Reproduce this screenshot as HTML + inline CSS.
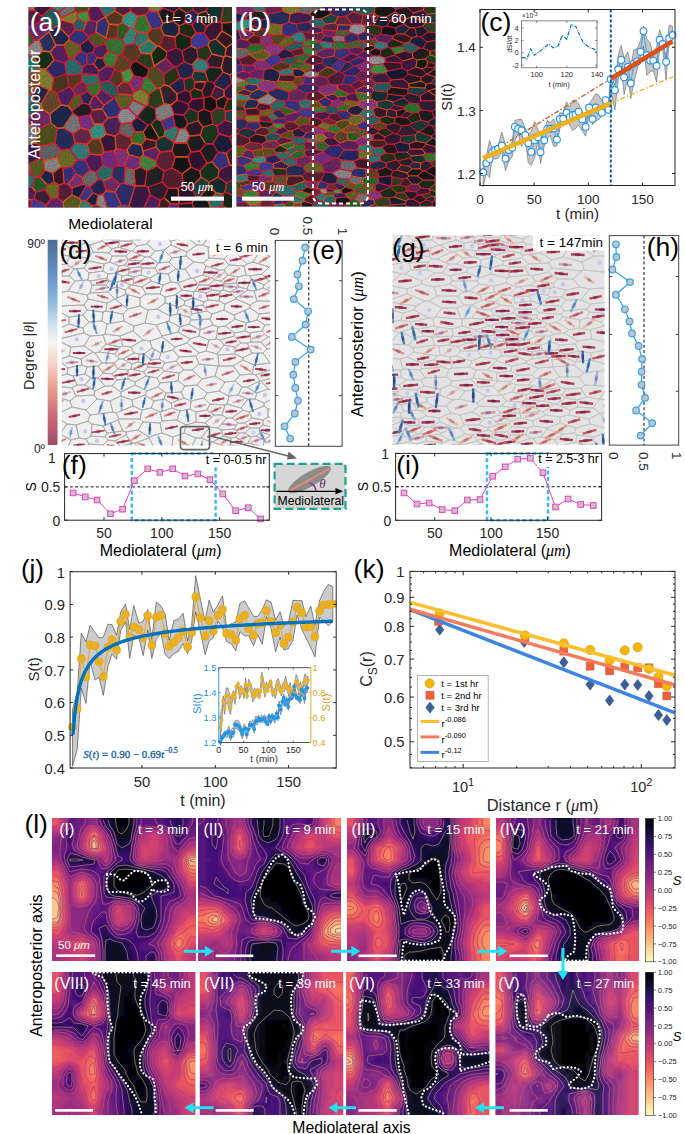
<!DOCTYPE html><html><head><meta charset="utf-8"><style>html,body{margin:0;padding:0;background:#fff;}svg{display:block;}text{font-family:"Liberation Sans",sans-serif;}</style></head><body>
<svg width="685" height="1134" viewBox="0 0 685 1134">
<rect x="0" y="0" width="685" height="1134" fill="#fff" stroke="none" stroke-width="1"/>
<filter id="grain" x="0" y="0" width="100%" height="100%"><feTurbulence type="fractalNoise" baseFrequency="1.1" numOctaves="1" seed="4"/><feColorMatrix type="matrix" values="0 0 0 0 0  0 0 0 0 0  0 0 0 0 0  0 0 0 -1.4 1.05"/></filter>
<filter id="soft"><feGaussianBlur stdDeviation="0.45"/></filter>
<clipPath id="ma"><rect x="28.5" y="7" width="203.5" height="200.5"/></clipPath>
<g clip-path="url(#ma)">
<rect x="28.5" y="7" width="203.5" height="200.5" fill="#1a1a1a" stroke="none" stroke-width="1"/>
<g filter="url(#soft)" stroke-linejoin="round">
<path d="M58 198 51 199 46 205 45 215 47 217 59 218 65 213 63 202Z" fill="rgb(103,41,113)" stroke="#f06020" stroke-width="1.3"/>
<path d="M131 3 137 -4 134 -11 112 -6 116 0Z" fill="rgb(96,37,53)" stroke="#f0402a" stroke-width="1.3"/>
<path d="M99 179 96 172 103 165 113 168 112 177 103 181Z" fill="rgb(45,120,110)" stroke="#f02030" stroke-width="1.3"/>
<path d="M115 98 121 109 128 108 133 100 132 95 118 94Z" fill="rgb(105,105,40)" stroke="#f02030" stroke-width="1.3"/>
<path d="M119 133 115 136 116 149 127 150 132 143 131 138Z" fill="rgb(106,41,58)" stroke="#f02030" stroke-width="1.3"/>
<path d="M236 94 246 97 245 103 237 106 232 99Z" fill="rgb(71,32,71)" stroke="#e81a3a" stroke-width="1.3"/>
<path d="M218 152 226 153 230 165 219 170 212 162Z" fill="rgb(57,57,139)" stroke="#f06020" stroke-width="1.3"/>
<path d="M174 143 187 143 190 136 185 128 179 129 174 142Z" fill="rgb(151,151,154)" stroke="#e81a3a" stroke-width="1.3"/>
<path d="M224 96 216 100 217 108 224 109 228 99Z" fill="rgb(28,28,30)" stroke="#f06020" stroke-width="1.3"/>
<path d="M223 194 223 206 211 209 208 201 216 193Z" fill="rgb(51,121,121)" stroke="#f06020" stroke-width="1.3"/>
<path d="M45 170 53 173 54 182 47 185 40 177Z" fill="rgb(36,42,84)" stroke="#f02030" stroke-width="1.3"/>
<path d="M174 143 172 151 160 152 156 147 156 141 159 138 164 136 174 142Z" fill="rgb(26,57,57)" stroke="#f02030" stroke-width="1.3"/>
<path d="M40 177 35 177 32 187 36 192 45 190 47 185Z" fill="rgb(42,102,42)" stroke="#f06020" stroke-width="1.3"/>
<path d="M83 67 73 58 81 51 87 54 87 64Z" fill="rgb(59,59,146)" stroke="#f06020" stroke-width="1.3"/>
<path d="M54 78 46 69 40 69 38 71 38 85 49 90 52 90Z" fill="rgb(140,140,53)" stroke="#e01a50" stroke-width="1.3"/>
<path d="M191 152 187 143 190 136 200 135 206 144 200 151Z" fill="rgb(35,35,37)" stroke="#e81a3a" stroke-width="1.3"/>
<path d="M191 187 201 177 209 182 209 185 200 197 196 197Z" fill="rgb(31,69,69)" stroke="#f0402a" stroke-width="1.3"/>
<path d="M82 74 98 75 99 71 94 64 87 64 83 67Z" fill="rgb(79,36,96)" stroke="#f02030" stroke-width="1.3"/>
<path d="M86 23 83 31 88 37 96 32 97 22 90 20Z" fill="rgb(91,41,110)" stroke="#f02030" stroke-width="1.3"/>
<path d="M27 48 30 56 35 58 43 51 39 40 35 40Z" fill="rgb(152,152,155)" stroke="#e81a3a" stroke-width="1.3"/>
<path d="M18 96 16 87 20 81 34 88 32 94Z" fill="rgb(99,99,38)" stroke="#f06020" stroke-width="1.3"/>
<path d="M193 10 194 -4 188 -4 179 4 179 8 186 13Z" fill="rgb(28,65,36)" stroke="#e81a3a" stroke-width="1.3"/>
<path d="M148 125 143 132 146 139 156 141 159 138 151 124Z" fill="rgb(25,28,28)" stroke="#e81a3a" stroke-width="1.3"/>
<path d="M32 200 23 198 20 206 25 210 31 207Z" fill="rgb(104,41,114)" stroke="#e01a50" stroke-width="1.3"/>
<path d="M121 72 130 68 132 63 122 54 119 55 113 67 115 70Z" fill="rgb(105,72,44)" stroke="#e81a3a" stroke-width="1.3"/>
<path d="M102 214 105 209 107 208 115 209 113 236 111 233Z" fill="rgb(125,125,47)" stroke="#e01a50" stroke-width="1.3"/>
<path d="M232 83 230 75 223 72 214 83 215 86 224 90Z" fill="rgb(36,42,84)" stroke="#f02030" stroke-width="1.3"/>
<path d="M188 124 184 115 174 114 173 116 175 126 179 129 185 128Z" fill="rgb(25,28,28)" stroke="#e01a50" stroke-width="1.3"/>
<path d="M140 167 147 171 157 166 156 161 143 155 140 158Z" fill="rgb(70,147,64)" stroke="#e81a3a" stroke-width="1.3"/>
<path d="M239 116 246 117 254 112 245 103 237 106 235 110Z" fill="rgb(21,48,27)" stroke="#e81a3a" stroke-width="1.3"/>
<path d="M93 96 89 105 92 110 102 109 104 105 96 96Z" fill="rgb(100,40,110)" stroke="#f06020" stroke-width="1.3"/>
<path d="M63 168 61 167 57 158 61 150 70 149 77 160 72 167Z" fill="rgb(119,119,46)" stroke="#e01a50" stroke-width="1.3"/>
<path d="M191 38 191 46 197 49 208 45 210 41 204 33 196 33Z" fill="rgb(71,65,163)" stroke="#e01a50" stroke-width="1.3"/>
<path d="M103 124 106 134 100 139 92 139 89 130 94 124Z" fill="rgb(59,157,144)" stroke="#f06020" stroke-width="1.3"/>
<path d="M20 106 29 116 28 124 19 127 15 125 12 107 17 105Z" fill="rgb(64,29,41)" stroke="#e81a3a" stroke-width="1.3"/>
<path d="M87 91 80 96 83 103 89 105 93 96Z" fill="rgb(41,47,95)" stroke="#f0402a" stroke-width="1.3"/>
<path d="M26 28 16 18 30 10 34 10 42 16 42 21 26 29Z" fill="rgb(97,35,71)" stroke="#f0402a" stroke-width="1.3"/>
<path d="M86 227 81 236 70 214 78 211 84 215Z" fill="rgb(78,162,71)" stroke="#f02030" stroke-width="1.3"/>
<path d="M198 14 206 11 211 2 204 -13 194 -4 193 10Z" fill="rgb(60,40,60)" stroke="#e81a3a" stroke-width="1.3"/>
<path d="M229 218 240 228 250 216 240 204 230 210Z" fill="rgb(59,39,59)" stroke="#e01a50" stroke-width="1.3"/>
<path d="M194 71 205 72 209 67 207 61 198 58 192 65Z" fill="rgb(60,140,140)" stroke="#e01a50" stroke-width="1.3"/>
<path d="M154 66 149 69 136 61 141 53 151 54 154 66Z" fill="rgb(48,67,34)" stroke="#e81a3a" stroke-width="1.3"/>
<path d="M158 209 143 210 140 213 147 222 158 221 163 219 164 218 163 215Z" fill="rgb(51,51,126)" stroke="#f06020" stroke-width="1.3"/>
<path d="M96 216 90 212 84 215 86 227 95 222Z" fill="rgb(60,147,60)" stroke="#f06020" stroke-width="1.3"/>
<path d="M44 161 40 158 39 146 55 143 61 150 57 158Z" fill="rgb(108,108,110)" stroke="#f0402a" stroke-width="1.3"/>
<path d="M115 209 113 236 117 245 135 212 129 206 121 205Z" fill="rgb(54,127,127)" stroke="#e81a3a" stroke-width="1.3"/>
<path d="M191 38 179 33 179 26 185 23 192 25 196 33Z" fill="rgb(36,50,25)" stroke="#f0402a" stroke-width="1.3"/>
<path d="M36 192 32 187 19 188 18 191 23 198 32 200 34 199Z" fill="rgb(90,36,99)" stroke="#f06020" stroke-width="1.3"/>
<path d="M184 62 182 51 191 46 197 49 198 58 192 65Z" fill="rgb(50,33,50)" stroke="#f06020" stroke-width="1.3"/>
<path d="M73 113 63 128 73 134 81 128 79 117Z" fill="rgb(130,130,132)" stroke="#f02030" stroke-width="1.3"/>
<path d="M179 26 173 21 174 12 179 8 186 13 185 23Z" fill="rgb(31,31,33)" stroke="#f0402a" stroke-width="1.3"/>
<path d="M191 167 182 174 183 185 191 187 201 177 200 171Z" fill="rgb(26,28,28)" stroke="#f0402a" stroke-width="1.3"/>
<path d="M233 147 230 137 236 130 246 131 252 136 242 149Z" fill="rgb(47,65,33)" stroke="#f06020" stroke-width="1.3"/>
<path d="M116 0 112 -6 108 -10 95 0 105 17 115 11Z" fill="rgb(53,124,124)" stroke="#f06020" stroke-width="1.3"/>
<path d="M95 47 105 44 107 39 106 38 96 32 88 37 88 39Z" fill="rgb(91,91,35)" stroke="#e81a3a" stroke-width="1.3"/>
<path d="M197 49 208 45 212 54 207 61 198 58Z" fill="rgb(43,60,30)" stroke="#e01a50" stroke-width="1.3"/>
<path d="M204 98 204 98 192 99 188 104 189 108 198 112 204 109Z" fill="rgb(52,23,52)" stroke="#f02030" stroke-width="1.3"/>
<path d="M164 35 175 37 176 48 167 52 159 46Z" fill="rgb(101,39,56)" stroke="#f02030" stroke-width="1.3"/>
<path d="M207 61 209 67 221 68 224 57 212 54Z" fill="rgb(48,32,48)" stroke="#e01a50" stroke-width="1.3"/>
<path d="M156 119 161 121 173 116 174 114 171 105 164 104 155 109Z" fill="rgb(141,141,143)" stroke="#f06020" stroke-width="1.3"/>
<path d="M101 155 90 154 85 160 90 170 96 172 103 165Z" fill="rgb(80,36,98)" stroke="#e01a50" stroke-width="1.3"/>
<path d="M177 94 177 100 188 104 192 99 190 92 185 90Z" fill="rgb(52,23,52)" stroke="#f02030" stroke-width="1.3"/>
<path d="M235 85 245 84 259 66 247 62 230 75 232 83Z" fill="rgb(27,61,34)" stroke="#f02030" stroke-width="1.3"/>
<path d="M79 117 81 128 89 130 94 124 90 115Z" fill="rgb(133,53,146)" stroke="#e81a3a" stroke-width="1.3"/>
<path d="M151 29 145 15 149 11 158 12 163 23 161 28Z" fill="rgb(64,58,146)" stroke="#f06020" stroke-width="1.3"/>
<path d="M103 194 107 208 105 209 96 205 98 195Z" fill="rgb(151,151,153)" stroke="#f0402a" stroke-width="1.3"/>
<path d="M131 3 116 0 115 11 123 16 131 11Z" fill="rgb(96,35,71)" stroke="#f0402a" stroke-width="1.3"/>
<path d="M42 109 29 116 28 124 37 130 51 123 50 114Z" fill="rgb(121,47,111)" stroke="#f0402a" stroke-width="1.3"/>
<path d="M192 25 198 18 198 14 193 10 186 13 185 23Z" fill="rgb(42,42,104)" stroke="#e81a3a" stroke-width="1.3"/>
<path d="M114 151 116 149 127 150 129 155 124 166 117 166Z" fill="rgb(143,56,131)" stroke="#f02030" stroke-width="1.3"/>
<path d="M100 82 98 75 99 71 106 66 113 67 115 70 109 81 101 82Z" fill="rgb(93,37,103)" stroke="#e81a3a" stroke-width="1.3"/>
<path d="M104 152 100 139 106 134 115 136 116 149 114 151Z" fill="rgb(62,28,62)" stroke="#f06020" stroke-width="1.3"/>
<path d="M206 144 200 135 203 127 213 124 217 126 219 134 213 144Z" fill="rgb(27,61,34)" stroke="#f06020" stroke-width="1.3"/>
<path d="M216 193 208 201 200 197 209 185Z" fill="rgb(28,28,30)" stroke="#f0402a" stroke-width="1.3"/>
<path d="M191 152 187 143 174 143 172 151 175 157 188 157Z" fill="rgb(26,29,29)" stroke="#f0402a" stroke-width="1.3"/>
<path d="M174 67 164 74 154 66 154 66 166 58Z" fill="rgb(114,44,104)" stroke="#f0402a" stroke-width="1.3"/>
<path d="M179 204 178 188 183 185 191 187 196 197 192 203Z" fill="rgb(49,22,49)" stroke="#e01a50" stroke-width="1.3"/>
<path d="M57 93 61 105 50 114 42 109 41 104 49 90 52 90Z" fill="rgb(114,78,48)" stroke="#f06020" stroke-width="1.3"/>
<path d="M190 92 192 99 204 98 202 91 194 88Z" fill="rgb(24,54,30)" stroke="#e01a50" stroke-width="1.3"/>
<path d="M87 64 87 54 93 52 97 58 94 64Z" fill="rgb(58,58,142)" stroke="#e01a50" stroke-width="1.3"/>
<path d="M106 38 107 39 117 38 118 25 109 24Z" fill="rgb(95,65,40)" stroke="#e01a50" stroke-width="1.3"/>
<path d="M85 160 90 154 87 144 75 143 70 149 77 160Z" fill="rgb(57,134,134)" stroke="#e81a3a" stroke-width="1.3"/>
<path d="M141 89 143 78 147 76 158 88 149 94Z" fill="rgb(58,143,58)" stroke="#f0402a" stroke-width="1.3"/>
<path d="M179 204 178 188 168 188 164 198 171 204 178 204Z" fill="rgb(29,29,31)" stroke="#f06020" stroke-width="1.3"/>
<path d="M86 186 90 187 93 193 86 201 81 201 79 198Z" fill="rgb(67,61,153)" stroke="#f0402a" stroke-width="1.3"/>
<path d="M69 4 59 12 52 8 61 -5 66 -3Z" fill="rgb(59,158,145)" stroke="#e81a3a" stroke-width="1.3"/>
<path d="M218 177 227 183 225 192 223 194 216 193 209 185 209 182Z" fill="rgb(23,50,50)" stroke="#f06020" stroke-width="1.3"/>
<path d="M80 96 83 103 72 111 68 106 75 94Z" fill="rgb(99,99,37)" stroke="#e01a50" stroke-width="1.3"/>
<path d="M101 155 103 165 113 168 117 166 114 151 104 152Z" fill="rgb(124,49,137)" stroke="#e81a3a" stroke-width="1.3"/>
<path d="M20 106 34 100 32 94 18 96 17 105Z" fill="rgb(54,127,127)" stroke="#f02030" stroke-width="1.3"/>
<path d="M86 23 83 31 75 30 73 23 77 18Z" fill="rgb(45,106,106)" stroke="#f06020" stroke-width="1.3"/>
<path d="M31 207 25 210 24 217 31 221 38 216Z" fill="rgb(43,49,99)" stroke="#f02030" stroke-width="1.3"/>
<path d="M101 155 90 154 87 144 92 139 100 139 104 152Z" fill="rgb(96,66,40)" stroke="#f0402a" stroke-width="1.3"/>
<path d="M191 38 191 46 182 51 176 48 175 37 179 33Z" fill="rgb(20,45,25)" stroke="#e81a3a" stroke-width="1.3"/>
<path d="M149 40 147 33 151 29 161 28 164 35 159 46 157 46Z" fill="rgb(95,65,40)" stroke="#e81a3a" stroke-width="1.3"/>
<path d="M81 74 67 75 69 87 72 89 82 81Z" fill="rgb(95,65,40)" stroke="#e01a50" stroke-width="1.3"/>
<path d="M174 142 179 129 175 126 165 130 164 136Z" fill="rgb(51,137,126)" stroke="#f02030" stroke-width="1.3"/>
<path d="M151 124 159 138 164 136 165 130 161 121 156 119Z" fill="rgb(25,57,32)" stroke="#f06020" stroke-width="1.3"/>
<path d="M221 22 213 22 206 11 211 2 223 7Z" fill="rgb(25,55,55)" stroke="#e81a3a" stroke-width="1.3"/>
<path d="M139 47 134 44 137 32 147 33 149 40Z" fill="rgb(49,132,121)" stroke="#f0402a" stroke-width="1.3"/>
<path d="M235 85 236 94 232 99 228 99 224 96 224 90 232 83Z" fill="rgb(65,29,65)" stroke="#e81a3a" stroke-width="1.3"/>
<path d="M115 98 121 109 117 117 108 118 102 109 104 105 114 98Z" fill="rgb(53,53,130)" stroke="#f0402a" stroke-width="1.3"/>
<path d="M84 184 72 188 72 195 79 198 86 186Z" fill="rgb(31,36,72)" stroke="#f02030" stroke-width="1.3"/>
<path d="M148 125 143 132 135 132 131 123 137 117 137 117Z" fill="rgb(31,36,72)" stroke="#f0402a" stroke-width="1.3"/>
<path d="M218 177 227 183 234 179 234 166 230 165 219 170Z" fill="rgb(69,31,69)" stroke="#e01a50" stroke-width="1.3"/>
<path d="M192 77 184 79 180 78 176 67 184 62 192 65 194 71Z" fill="rgb(37,42,85)" stroke="#f02030" stroke-width="1.3"/>
<path d="M122 40 129 28 134 28 137 32 134 44 125 45Z" fill="rgb(55,147,135)" stroke="#f02030" stroke-width="1.3"/>
<path d="M141 53 136 61 132 63 122 54 125 45 134 44 139 47Z" fill="rgb(97,66,40)" stroke="#e01a50" stroke-width="1.3"/>
<path d="M117 87 109 81 115 70 121 72 123 82Z" fill="rgb(93,63,39)" stroke="#e81a3a" stroke-width="1.3"/>
<path d="M131 138 132 143 141 145 146 139 143 132 135 132Z" fill="rgb(59,123,54)" stroke="#f0402a" stroke-width="1.3"/>
<path d="M241 46 233 43 226 48 225 56 244 60Z" fill="rgb(57,26,57)" stroke="#f06020" stroke-width="1.3"/>
<path d="M200 151 206 144 213 144 218 152 212 162 207 163Z" fill="rgb(32,32,34)" stroke="#e01a50" stroke-width="1.3"/>
<path d="M45 170 44 161 40 158 28 164 31 174 35 177 40 177Z" fill="rgb(100,100,39)" stroke="#e81a3a" stroke-width="1.3"/>
<path d="M156 147 143 151 143 155 156 161 160 152Z" fill="rgb(104,41,114)" stroke="#f0402a" stroke-width="1.3"/>
<path d="M96 216 102 214 111 233 95 222Z" fill="rgb(57,52,131)" stroke="#e01a50" stroke-width="1.3"/>
<path d="M233 123 236 130 230 137 219 134 217 126 225 120Z" fill="rgb(68,31,68)" stroke="#e01a50" stroke-width="1.3"/>
<path d="M87 86 100 82 101 82 101 89 96 96 93 96 87 91Z" fill="rgb(61,127,56)" stroke="#f02030" stroke-width="1.3"/>
<path d="M233 123 239 116 235 110 225 111 225 120Z" fill="rgb(32,72,72)" stroke="#f0402a" stroke-width="1.3"/>
<path d="M164 74 164 85 160 88 158 88 147 76 149 69 154 66Z" fill="rgb(84,84,32)" stroke="#e01a50" stroke-width="1.3"/>
<path d="M222 23 234 22 250 -5 223 7 221 22Z" fill="rgb(51,70,35)" stroke="#f02030" stroke-width="1.3"/>
<path d="M134 76 143 78 147 76 149 69 136 61 132 63 130 68Z" fill="rgb(23,25,25)" stroke="#f02030" stroke-width="1.3"/>
<path d="M63 128 57 128 55 143 61 150 70 149 75 143 73 134Z" fill="rgb(44,50,101)" stroke="#e81a3a" stroke-width="1.3"/>
<path d="M189 108 188 104 177 100 171 105 174 114 184 115Z" fill="rgb(54,24,54)" stroke="#e01a50" stroke-width="1.3"/>
<path d="M134 76 143 78 141 89 134 92 129 83Z" fill="rgb(137,53,125)" stroke="#e01a50" stroke-width="1.3"/>
<path d="M134 170 135 186 145 186 147 171 140 167Z" fill="rgb(46,31,46)" stroke="#f02030" stroke-width="1.3"/>
<path d="M51 8 43 -4 37 -1 34 10 42 16Z" fill="rgb(63,28,76)" stroke="#f02030" stroke-width="1.3"/>
<path d="M36 192 45 190 51 199 46 205 34 199Z" fill="rgb(59,39,59)" stroke="#e01a50" stroke-width="1.3"/>
<path d="M226 153 230 165 234 166 245 163 243 152 242 149 233 147Z" fill="rgb(73,33,46)" stroke="#f06020" stroke-width="1.3"/>
<path d="M96 216 102 214 105 209 96 205 92 206 90 212Z" fill="rgb(44,51,102)" stroke="#f0402a" stroke-width="1.3"/>
<path d="M-82 147 18 157 21 145 16 139Z" fill="rgb(79,36,96)" stroke="#f02030" stroke-width="1.3"/>
<path d="M156 147 143 151 141 145 146 139 156 141Z" fill="rgb(66,30,42)" stroke="#f0402a" stroke-width="1.3"/>
<path d="M188 157 175 157 172 168 182 174 191 167Z" fill="rgb(22,24,24)" stroke="#f06020" stroke-width="1.3"/>
<path d="M164 198 171 204 163 215 158 209 160 200Z" fill="rgb(70,32,44)" stroke="#f06020" stroke-width="1.3"/>
<path d="M23 198 18 191 9 199 15 207 20 206Z" fill="rgb(130,51,119)" stroke="#f06020" stroke-width="1.3"/>
<path d="M69 59 64 45 56 45 50 52 54 60 65 63Z" fill="rgb(95,38,105)" stroke="#f02030" stroke-width="1.3"/>
<path d="M188 -4 174 -14 169 -5 179 4Z" fill="rgb(58,26,58)" stroke="#f06020" stroke-width="1.3"/>
<path d="M16 44 11 48 19 63 30 56 27 48Z" fill="rgb(111,44,122)" stroke="#f06020" stroke-width="1.3"/>
<path d="M205 72 209 67 221 68 223 72 214 83 208 81Z" fill="rgb(20,46,26)" stroke="#e01a50" stroke-width="1.3"/>
<path d="M75 94 72 89 69 87 57 93 61 105 68 106Z" fill="rgb(85,39,103)" stroke="#f02030" stroke-width="1.3"/>
<path d="M25 210 24 217 19 218 13 212 15 207 20 206Z" fill="rgb(134,134,136)" stroke="#f06020" stroke-width="1.3"/>
<path d="M192 77 195 82 206 82 208 81 205 72 194 71Z" fill="rgb(29,65,65)" stroke="#f0402a" stroke-width="1.3"/>
<path d="M115 192 120 184 124 183 135 186 129 206 121 205Z" fill="rgb(48,48,119)" stroke="#e01a50" stroke-width="1.3"/>
<path d="M134 28 138 16 131 11 123 16 122 23 129 28Z" fill="rgb(60,161,148)" stroke="#f0402a" stroke-width="1.3"/>
<path d="M223 72 230 75 247 62 244 60 225 56 224 57 221 68Z" fill="rgb(48,32,48)" stroke="#f06020" stroke-width="1.3"/>
<path d="M90 115 94 124 103 124 108 118 102 109 92 110Z" fill="rgb(107,39,79)" stroke="#f06020" stroke-width="1.3"/>
<path d="M28 164 20 161 9 177 16 182 31 174Z" fill="rgb(122,49,135)" stroke="#f0402a" stroke-width="1.3"/>
<path d="M164 198 168 188 162 182 148 187 150 195 160 200Z" fill="rgb(52,35,52)" stroke="#e81a3a" stroke-width="1.3"/>
<path d="M93 52 87 54 81 51 80 45 88 39 95 47Z" fill="rgb(35,40,81)" stroke="#e01a50" stroke-width="1.3"/>
<path d="M179 215 169 220 177 241 185 220Z" fill="rgb(27,59,59)" stroke="#f0402a" stroke-width="1.3"/>
<path d="M235 85 245 84 249 93 246 97 236 94Z" fill="rgb(46,52,105)" stroke="#e01a50" stroke-width="1.3"/>
<path d="M90 20 97 22 105 17 105 17 95 0 93 0 88 11Z" fill="rgb(91,36,100)" stroke="#f02030" stroke-width="1.3"/>
<path d="M73 23 75 30 69 37 58 26 62 20Z" fill="rgb(108,40,80)" stroke="#e01a50" stroke-width="1.3"/>
<path d="M207 163 212 162 219 170 218 177 209 182 201 177 200 171Z" fill="rgb(25,57,32)" stroke="#f0402a" stroke-width="1.3"/>
<path d="M34 10 37 -1 19 -10 30 10Z" fill="rgb(142,142,144)" stroke="#f02030" stroke-width="1.3"/>
<path d="M246 40 241 46 233 43 232 37 239 31Z" fill="rgb(52,23,52)" stroke="#e81a3a" stroke-width="1.3"/>
<path d="M178 188 168 188 162 182 164 171 172 168 182 174 183 185Z" fill="rgb(92,36,51)" stroke="#f02030" stroke-width="1.3"/>
<path d="M225 192 241 199 246 193 242 183 234 179 227 183Z" fill="rgb(28,63,63)" stroke="#f02030" stroke-width="1.3"/>
<path d="M204 33 210 41 216 39 222 31 222 23 221 22 213 22 206 27Z" fill="rgb(62,28,62)" stroke="#e81a3a" stroke-width="1.3"/>
<path d="M61 -5 50 -22 43 -4 51 8 52 8Z" fill="rgb(53,123,123)" stroke="#f0402a" stroke-width="1.3"/>
<path d="M51 123 57 128 55 143 39 146 36 143 37 130Z" fill="rgb(88,88,34)" stroke="#f02030" stroke-width="1.3"/>
<path d="M245 163 253 168 242 183 234 179 234 166Z" fill="rgb(26,60,33)" stroke="#e81a3a" stroke-width="1.3"/>
<path d="M69 4 66 -3 79 -13 86 -3 74 7Z" fill="rgb(152,152,154)" stroke="#e01a50" stroke-width="1.3"/>
<path d="M204 109 198 112 198 121 203 127 213 124 211 112Z" fill="rgb(27,27,29)" stroke="#f0402a" stroke-width="1.3"/>
<path d="M61 18 59 12 52 8 51 8 42 16 42 21 50 29 58 26 62 20Z" fill="rgb(43,101,101)" stroke="#f02030" stroke-width="1.3"/>
<path d="M81 128 73 134 75 143 87 144 92 139 89 130Z" fill="rgb(113,41,83)" stroke="#f0402a" stroke-width="1.3"/>
<path d="M173 21 163 23 158 12 163 8 174 12Z" fill="rgb(27,27,29)" stroke="#f06020" stroke-width="1.3"/>
<path d="M77 18 73 23 62 20 61 18 75 11 77 13Z" fill="rgb(141,141,53)" stroke="#f06020" stroke-width="1.3"/>
<path d="M188 124 184 115 189 108 198 112 198 121Z" fill="rgb(27,62,35)" stroke="#e01a50" stroke-width="1.3"/>
<path d="M229 218 215 226 208 217 211 209 223 206 230 210Z" fill="rgb(26,59,33)" stroke="#e01a50" stroke-width="1.3"/>
<path d="M88 11 93 0 86 -3 74 7 75 11 77 13Z" fill="rgb(82,82,32)" stroke="#f06020" stroke-width="1.3"/>
<path d="M106 191 115 192 120 184 112 177 103 181Z" fill="rgb(123,48,112)" stroke="#f06020" stroke-width="1.3"/>
<path d="M17 42 26 28 26 29 35 40 27 48 16 44Z" fill="rgb(44,109,44)" stroke="#f02030" stroke-width="1.3"/>
<path d="M141 53 151 54 157 46 149 40 139 47Z" fill="rgb(50,133,122)" stroke="#f06020" stroke-width="1.3"/>
<path d="M180 78 169 86 177 94 185 90 184 79Z" fill="rgb(36,44,79)" stroke="#e01a50" stroke-width="1.3"/>
<path d="M145 186 135 186 135 186 129 206 135 212 140 213 143 210 150 195 148 187Z" fill="rgb(63,28,76)" stroke="#f0402a" stroke-width="1.3"/>
<path d="M166 58 167 52 159 46 157 46 151 54 154 66Z" fill="rgb(19,45,25)" stroke="#f06020" stroke-width="1.3"/>
<path d="M148 105 155 109 164 104 160 88 158 88 149 94Z" fill="rgb(49,68,34)" stroke="#f0402a" stroke-width="1.3"/>
<path d="M232 99 237 106 235 110 225 111 224 109 228 99Z" fill="rgb(39,54,27)" stroke="#f02030" stroke-width="1.3"/>
<path d="M133 100 146 106 137 117 137 117 128 108Z" fill="rgb(142,142,144)" stroke="#e81a3a" stroke-width="1.3"/>
<path d="M224 90 215 86 211 96 216 100 224 96Z" fill="rgb(71,32,71)" stroke="#f06020" stroke-width="1.3"/>
<path d="M103 194 98 195 93 193 90 187 99 179 103 181 106 191Z" fill="rgb(38,44,88)" stroke="#e81a3a" stroke-width="1.3"/>
<path d="M35 40 39 40 49 32 50 29 42 21 26 29Z" fill="rgb(118,47,129)" stroke="#e81a3a" stroke-width="1.3"/>
<path d="M72 111 73 113 63 128 57 128 51 123 50 114 61 105 68 106Z" fill="rgb(36,41,83)" stroke="#f06020" stroke-width="1.3"/>
<path d="M198 18 206 27 213 22 206 11 198 14Z" fill="rgb(33,33,35)" stroke="#f06020" stroke-width="1.3"/>
<path d="M72 195 63 202 58 198 59 185 64 183 68 184 72 188Z" fill="rgb(92,34,68)" stroke="#e01a50" stroke-width="1.3"/>
<path d="M195 82 194 88 202 91 206 82Z" fill="rgb(49,22,49)" stroke="#f06020" stroke-width="1.3"/>
<path d="M129 155 127 150 132 143 141 145 143 151 143 155 140 158Z" fill="rgb(40,46,92)" stroke="#f06020" stroke-width="1.3"/>
<path d="M50 52 43 51 39 40 49 32 56 45Z" fill="rgb(46,53,106)" stroke="#f06020" stroke-width="1.3"/>
<path d="M160 200 150 195 143 210 158 209Z" fill="rgb(87,40,106)" stroke="#f02030" stroke-width="1.3"/>
<path d="M97 58 93 52 95 47 105 44 108 51 103 58Z" fill="rgb(83,38,101)" stroke="#e81a3a" stroke-width="1.3"/>
<path d="M213 144 219 134 230 137 233 147 226 153 218 152Z" fill="rgb(30,36,64)" stroke="#e81a3a" stroke-width="1.3"/>
<path d="M76 174 72 167 63 168 64 183 68 184Z" fill="rgb(60,54,136)" stroke="#e01a50" stroke-width="1.3"/>
<path d="M69 4 59 12 61 18 75 11 74 7Z" fill="rgb(123,123,125)" stroke="#e81a3a" stroke-width="1.3"/>
<path d="M122 40 117 38 118 25 122 23 129 28Z" fill="rgb(43,106,43)" stroke="#f02030" stroke-width="1.3"/>
<path d="M117 87 118 94 132 95 134 92 129 83 123 82Z" fill="rgb(117,45,65)" stroke="#f0402a" stroke-width="1.3"/>
<path d="M66 74 65 63 54 60 46 69 54 78Z" fill="rgb(50,45,114)" stroke="#e01a50" stroke-width="1.3"/>
<path d="M94 64 97 58 103 58 106 66 99 71Z" fill="rgb(34,41,73)" stroke="#f0402a" stroke-width="1.3"/>
<path d="M174 67 176 67 184 62 182 51 176 48 167 52 166 58Z" fill="rgb(63,28,63)" stroke="#e81a3a" stroke-width="1.3"/>
<path d="M123 82 129 83 134 76 130 68 121 72Z" fill="rgb(79,166,73)" stroke="#f02030" stroke-width="1.3"/>
<path d="M96 96 104 105 114 98 101 89Z" fill="rgb(90,41,110)" stroke="#f0402a" stroke-width="1.3"/>
<path d="M101 89 114 98 115 98 118 94 117 87 109 81 101 82Z" fill="rgb(44,102,102)" stroke="#e01a50" stroke-width="1.3"/>
<path d="M122 40 117 38 107 39 105 44 108 51 119 55 122 54 125 45Z" fill="rgb(61,128,56)" stroke="#f02030" stroke-width="1.3"/>
<path d="M17 42 -4 11 16 18 26 28Z" fill="rgb(111,43,61)" stroke="#e81a3a" stroke-width="1.3"/>
<path d="M80 45 69 40 64 45 69 59 73 58 81 51Z" fill="rgb(109,109,42)" stroke="#f02030" stroke-width="1.3"/>
<path d="M225 192 241 199 240 204 230 210 223 206 223 194Z" fill="rgb(20,46,26)" stroke="#f02030" stroke-width="1.3"/>
<path d="M239 31 232 37 222 31 222 23 234 22 239 30Z" fill="rgb(27,29,29)" stroke="#f0402a" stroke-width="1.3"/>
<path d="M192 77 195 82 194 88 190 92 185 90 184 79Z" fill="rgb(28,64,35)" stroke="#f02030" stroke-width="1.3"/>
<path d="M103 124 106 134 115 136 119 133 121 124 117 117 108 118Z" fill="rgb(81,37,99)" stroke="#f0402a" stroke-width="1.3"/>
<path d="M233 123 236 130 246 131 246 117 239 116Z" fill="rgb(25,58,32)" stroke="#e81a3a" stroke-width="1.3"/>
<path d="M80 45 69 40 69 37 75 30 83 31 88 37 88 39Z" fill="rgb(56,56,137)" stroke="#f02030" stroke-width="1.3"/>
<path d="M164 -3 159 -5 150 -5 146 -2 149 11 158 12 163 8Z" fill="rgb(139,139,53)" stroke="#e01a50" stroke-width="1.3"/>
<path d="M157 166 147 171 145 186 148 187 162 182 164 171Z" fill="rgb(38,38,41)" stroke="#f02030" stroke-width="1.3"/>
<path d="M123 16 122 23 118 25 109 24 105 17 105 17 115 11Z" fill="rgb(95,65,40)" stroke="#f06020" stroke-width="1.3"/>
<path d="M69 87 57 93 52 90 54 78 66 74 67 75Z" fill="rgb(86,58,36)" stroke="#e81a3a" stroke-width="1.3"/>
<path d="M76 174 72 167 77 160 85 160 90 170 82 177Z" fill="rgb(57,57,139)" stroke="#e81a3a" stroke-width="1.3"/>
<path d="M160 152 156 161 157 166 164 171 172 168 175 157 172 151Z" fill="rgb(100,39,55)" stroke="#f02030" stroke-width="1.3"/>
<path d="M87 86 82 81 72 89 75 94 80 96 87 91Z" fill="rgb(125,46,92)" stroke="#f02030" stroke-width="1.3"/>
<path d="M84 184 82 177 90 170 96 172 99 179 90 187 86 186Z" fill="rgb(116,116,118)" stroke="#e81a3a" stroke-width="1.3"/>
<path d="M72 111 73 113 79 117 90 115 92 110 89 105 83 103Z" fill="rgb(36,36,39)" stroke="#e01a50" stroke-width="1.3"/>
<path d="M192 203 196 197 200 197 208 201 211 209 208 217 196 217Z" fill="rgb(24,26,26)" stroke="#f06020" stroke-width="1.3"/>
<path d="M148 105 155 109 156 119 151 124 148 125 137 117 146 106Z" fill="rgb(20,46,26)" stroke="#e01a50" stroke-width="1.3"/>
<path d="M125 167 124 183 135 186 135 186 134 170Z" fill="rgb(119,119,121)" stroke="#f0402a" stroke-width="1.3"/>
<path d="M196 33 204 33 206 27 198 18 192 25Z" fill="rgb(35,42,75)" stroke="#f02030" stroke-width="1.3"/>
<path d="M128 108 137 117 131 123 121 124 117 117 121 109Z" fill="rgb(155,155,158)" stroke="#e01a50" stroke-width="1.3"/>
<path d="M87 86 82 81 81 74 82 74 98 75 100 82Z" fill="rgb(46,124,114)" stroke="#e81a3a" stroke-width="1.3"/>
<path d="M204 98 204 109 211 112 217 108 216 100 211 96Z" fill="rgb(20,22,22)" stroke="#f02030" stroke-width="1.3"/>
<path d="M45 170 44 161 57 158 61 167 53 173Z" fill="rgb(147,147,150)" stroke="#f06020" stroke-width="1.3"/>
<path d="M82 74 81 74 67 75 66 74 65 63 69 59 73 58 83 67Z" fill="rgb(50,118,118)" stroke="#e81a3a" stroke-width="1.3"/>
<path d="M119 133 131 138 135 132 131 123 121 124Z" fill="rgb(113,113,114)" stroke="#f02030" stroke-width="1.3"/>
<path d="M208 45 210 41 216 39 226 48 225 56 224 57 212 54Z" fill="rgb(23,52,52)" stroke="#f06020" stroke-width="1.3"/>
<path d="M32 94 34 88 38 85 49 90 41 104 34 100Z" fill="rgb(36,42,84)" stroke="#f0402a" stroke-width="1.3"/>
<path d="M92 206 96 205 98 195 93 193 86 201Z" fill="rgb(33,38,76)" stroke="#f0402a" stroke-width="1.3"/>
<path d="M125 167 134 170 140 167 140 158 129 155 124 166Z" fill="rgb(123,49,136)" stroke="#f0402a" stroke-width="1.3"/>
<path d="M174 67 176 67 180 78 169 86 164 85 164 74Z" fill="rgb(44,61,31)" stroke="#e81a3a" stroke-width="1.3"/>
<path d="M40 69 35 58 30 56 19 63 17 70 20 74 38 71Z" fill="rgb(46,123,113)" stroke="#e81a3a" stroke-width="1.3"/>
<path d="M188 124 198 121 203 127 200 135 190 136 185 128Z" fill="rgb(45,30,45)" stroke="#f0402a" stroke-width="1.3"/>
<path d="M132 95 134 92 141 89 149 94 148 105 146 106 133 100Z" fill="rgb(141,141,53)" stroke="#e81a3a" stroke-width="1.3"/>
<path d="M103 58 108 51 119 55 113 67 106 66Z" fill="rgb(67,140,61)" stroke="#f02030" stroke-width="1.3"/>
<path d="M90 212 92 206 86 201 81 201 78 211 84 215Z" fill="rgb(53,143,131)" stroke="#f0402a" stroke-width="1.3"/>
<path d="M233 43 232 37 222 31 216 39 226 48Z" fill="rgb(62,28,39)" stroke="#f06020" stroke-width="1.3"/>
<path d="M54 182 59 185 58 198 51 199 45 190 47 185Z" fill="rgb(116,116,44)" stroke="#e81a3a" stroke-width="1.3"/>
<path d="M69 40 64 45 56 45 49 32 50 29 58 26 69 37Z" fill="rgb(37,43,86)" stroke="#f06020" stroke-width="1.3"/>
<path d="M169 86 164 85 160 88 164 104 171 105 177 100 177 94Z" fill="rgb(57,38,57)" stroke="#f06020" stroke-width="1.3"/>
<path d="M191 152 200 151 207 163 200 171 191 167 188 157Z" fill="rgb(54,24,54)" stroke="#f02030" stroke-width="1.3"/>
<path d="M204 98 204 98 202 91 206 82 208 81 214 83 215 86 211 96Z" fill="rgb(47,31,47)" stroke="#f02030" stroke-width="1.3"/>
<path d="M86 23 77 18 77 13 88 11 90 20Z" fill="rgb(77,161,71)" stroke="#f02030" stroke-width="1.3"/>
<path d="M53 173 61 167 63 168 64 183 59 185 54 182Z" fill="rgb(67,30,43)" stroke="#f0402a" stroke-width="1.3"/>
<path d="M20 106 29 116 42 109 41 104 34 100Z" fill="rgb(45,106,106)" stroke="#f06020" stroke-width="1.3"/>
<path d="M96 32 97 22 105 17 109 24 106 38Z" fill="rgb(58,52,132)" stroke="#f06020" stroke-width="1.3"/>
<path d="M131 3 137 -4 146 -2 149 11 145 15 138 16 131 11Z" fill="rgb(100,37,74)" stroke="#e81a3a" stroke-width="1.3"/>
<path d="M217 108 224 109 225 111 225 120 217 126 213 124 211 112Z" fill="rgb(53,74,37)" stroke="#e01a50" stroke-width="1.3"/>
<path d="M35 177 31 174 16 182 19 188 32 187Z" fill="rgb(47,127,116)" stroke="#e01a50" stroke-width="1.3"/>
<path d="M179 26 173 21 163 23 161 28 164 35 175 37 179 33Z" fill="rgb(36,44,78)" stroke="#f06020" stroke-width="1.3"/>
<path d="M34 199 32 200 31 207 38 216 45 215 46 205Z" fill="rgb(73,66,166)" stroke="#f02030" stroke-width="1.3"/>
<path d="M38 71 20 74 20 81 34 88 38 85Z" fill="rgb(125,85,52)" stroke="#f0402a" stroke-width="1.3"/>
<path d="M175 126 173 116 161 121 165 130Z" fill="rgb(68,62,156)" stroke="#e01a50" stroke-width="1.3"/>
<path d="M72 195 63 202 65 213 70 214 78 211 81 201 79 198Z" fill="rgb(100,100,38)" stroke="#f06020" stroke-width="1.3"/>
<path d="M70 214 65 213 59 218 73 322 81 236Z" fill="rgb(22,24,24)" stroke="#f0402a" stroke-width="1.3"/>
<path d="M179 8 179 4 169 -5 164 -3 163 8 174 12Z" fill="rgb(34,38,77)" stroke="#e01a50" stroke-width="1.3"/>
<path d="M54 60 46 69 40 69 35 58 43 51 50 52Z" fill="rgb(22,52,29)" stroke="#f06020" stroke-width="1.3"/>
<path d="M134 28 138 16 145 15 151 29 147 33 137 32Z" fill="rgb(62,130,57)" stroke="#f0402a" stroke-width="1.3"/>
<path d="M45 215 47 217 21 329 31 221 38 216Z" fill="rgb(81,37,98)" stroke="#f0402a" stroke-width="1.3"/>
<path d="M28 164 20 161 18 157 21 145 36 143 39 146 40 158Z" fill="rgb(65,29,78)" stroke="#e01a50" stroke-width="1.3"/>
<path d="M178 204 171 204 163 215 164 218 169 220 179 215Z" fill="rgb(64,58,146)" stroke="#f02030" stroke-width="1.3"/>
<path d="M113 168 112 177 120 184 124 183 125 167 124 166 117 166Z" fill="rgb(46,53,107)" stroke="#e81a3a" stroke-width="1.3"/>
<path d="M103 194 107 208 115 209 121 205 115 192 106 191Z" fill="rgb(65,59,149)" stroke="#f0402a" stroke-width="1.3"/>
<path d="M179 204 192 203 196 217 196 218 185 220 179 215 178 204Z" fill="rgb(27,27,29)" stroke="#e81a3a" stroke-width="1.3"/>
<path d="M37 130 36 143 21 145 16 139 19 127 28 124Z" fill="rgb(130,130,133)" stroke="#f06020" stroke-width="1.3"/>
<path d="M84 184 82 177 76 174 68 184 72 188Z" fill="rgb(136,53,124)" stroke="#f0402a" stroke-width="1.3"/>
</g>
<rect x="28.5" y="7" width="203.5" height="200.5" fill="#000" stroke="none" stroke-width="1" filter="url(#grain)" opacity="0.35"/>
</g>
<clipPath id="mb"><rect x="236.5" y="7" width="199" height="199.5"/></clipPath>
<g clip-path="url(#mb)">
<rect x="236.5" y="7" width="199" height="199.5" fill="#1a1a1a" stroke="none" stroke-width="1"/>
<g filter="url(#soft)" stroke-linejoin="round">
<path d="M261 127 259 122 248 122 246 128 255 131Z" fill="rgb(57,52,130)" stroke="#e81a3a" stroke-width="1.0"/>
<path d="M274 205 284 204 284 204 281 199 273 201Z" fill="rgb(52,52,129)" stroke="#f0402a" stroke-width="1.0"/>
<path d="M355 93 359 101 359 102 347 100 346 96 349 94Z" fill="rgb(77,35,94)" stroke="#f02030" stroke-width="1.0"/>
<path d="M425 59 428 62 436 64 445 61 446 60 430 55Z" fill="rgb(29,67,37)" stroke="#e81a3a" stroke-width="1.0"/>
<path d="M439 86 440 87 428 91 425 88 426 84 431 83Z" fill="rgb(40,27,40)" stroke="#e01a50" stroke-width="1.0"/>
<path d="M226 2 221 -7 228 -11 240 -3 236 1Z" fill="rgb(57,152,139)" stroke="#e81a3a" stroke-width="1.0"/>
<path d="M446 162 454 162 451 156 447 157Z" fill="rgb(42,28,42)" stroke="#f02030" stroke-width="1.0"/>
<path d="M243 65 243 71 249 73 256 69 252 65Z" fill="rgb(103,41,113)" stroke="#f02030" stroke-width="1.0"/>
<path d="M277 100 268 94 268 92 277 88 289 92 288 100 285 101Z" fill="rgb(44,51,102)" stroke="#e81a3a" stroke-width="1.0"/>
<path d="M359 80 355 76 345 75 342 84 350 85Z" fill="rgb(54,54,132)" stroke="#f02030" stroke-width="1.0"/>
<path d="M417 60 425 59 430 55 430 51 423 48 420 48 412 53 413 58Z" fill="rgb(33,33,35)" stroke="#f0402a" stroke-width="1.0"/>
<path d="M332 37 334 42 345 42 345 36 336 35Z" fill="rgb(134,134,136)" stroke="#e01a50" stroke-width="1.0"/>
<path d="M341 59 351 53 357 55 359 57 349 62 346 62Z" fill="rgb(80,36,97)" stroke="#f0402a" stroke-width="1.0"/>
<path d="M341 160 340 169 332 173 325 172 324 172 322 164 333 158 338 158Z" fill="rgb(111,43,101)" stroke="#f02030" stroke-width="1.0"/>
<path d="M406 111 400 117 397 117 396 111 404 109Z" fill="rgb(20,22,22)" stroke="#f06020" stroke-width="1.0"/>
<path d="M257 85 264 80 276 82 277 88 268 92 258 89Z" fill="rgb(154,60,140)" stroke="#e81a3a" stroke-width="1.0"/>
<path d="M390 48 395 54 405 51 402 46Z" fill="rgb(58,143,58)" stroke="#e81a3a" stroke-width="1.0"/>
<path d="M260 -8 259 0 257 1 243 -3 247 -8 253 -9Z" fill="rgb(111,43,101)" stroke="#e01a50" stroke-width="1.0"/>
<path d="M241 186 239 182 248 180 250 181 251 184Z" fill="rgb(89,61,37)" stroke="#f06020" stroke-width="1.0"/>
<path d="M293 147 287 149 286 152 291 155 297 151Z" fill="rgb(49,115,115)" stroke="#f06020" stroke-width="1.0"/>
<path d="M377 170 379 177 391 176 393 171 386 167Z" fill="rgb(29,29,31)" stroke="#f06020" stroke-width="1.0"/>
<path d="M337 133 326 131 323 134 327 138 334 138Z" fill="rgb(113,44,104)" stroke="#e81a3a" stroke-width="1.0"/>
<path d="M416 -2 407 0 399 -4 401 -9 418 -9 419 -9Z" fill="rgb(21,49,27)" stroke="#f02030" stroke-width="1.0"/>
<path d="M286 152 276 153 274 149 280 145 287 149Z" fill="rgb(37,51,26)" stroke="#e01a50" stroke-width="1.0"/>
<path d="M404 21 390 21 387 26 395 28 404 24Z" fill="rgb(20,21,21)" stroke="#e01a50" stroke-width="1.0"/>
<path d="M386 215 388 215 393 221 393 222 379 223 376 219Z" fill="rgb(58,39,58)" stroke="#f06020" stroke-width="1.0"/>
<path d="M305 214 305 210 302 209 299 209 292 211 291 213 292 216 297 217Z" fill="rgb(87,87,33)" stroke="#e01a50" stroke-width="1.0"/>
<path d="M297 217 292 216 282 219 282 222 291 229 298 223Z" fill="rgb(51,119,119)" stroke="#e81a3a" stroke-width="1.0"/>
<path d="M446 90 445 93 453 98 528 96 448 89Z" fill="rgb(33,33,35)" stroke="#f06020" stroke-width="1.0"/>
<path d="M369 144 370 141 361 137 354 141 359 145Z" fill="rgb(140,54,127)" stroke="#f0402a" stroke-width="1.0"/>
<path d="M441 12 449 8 447 1 439 2 436 7Z" fill="rgb(26,28,28)" stroke="#e81a3a" stroke-width="1.0"/>
<path d="M389 198 391 205 405 204 406 201 394 197Z" fill="rgb(26,32,57)" stroke="#e81a3a" stroke-width="1.0"/>
<path d="M426 161 421 163 413 162 410 158 411 156 423 155Z" fill="rgb(24,53,53)" stroke="#e81a3a" stroke-width="1.0"/>
<path d="M322 63 323 58 316 55 310 56 305 62 305 63 312 65Z" fill="rgb(87,32,64)" stroke="#f02030" stroke-width="1.0"/>
<path d="M326 107 326 112 316 113 313 110 322 106Z" fill="rgb(56,139,56)" stroke="#f0402a" stroke-width="1.0"/>
<path d="M313 34 314 39 319 41 325 36 322 32Z" fill="rgb(111,41,82)" stroke="#f06020" stroke-width="1.0"/>
<path d="M309 4 302 3 299 0 316 -4 321 0 320 1Z" fill="rgb(116,45,106)" stroke="#f0402a" stroke-width="1.0"/>
<path d="M330 11 323 9 314 10 310 14 312 18 321 19 331 14Z" fill="rgb(22,24,24)" stroke="#e81a3a" stroke-width="1.0"/>
<path d="M326 107 322 106 318 101 325 97 332 101 331 105Z" fill="rgb(50,50,122)" stroke="#f06020" stroke-width="1.0"/>
<path d="M301 191 296 191 294 195 304 199 311 195 310 194Z" fill="rgb(60,148,60)" stroke="#f06020" stroke-width="1.0"/>
<path d="M338 5 329 -1 337 -8 345 -6 344 5Z" fill="rgb(101,101,38)" stroke="#e01a50" stroke-width="1.0"/>
<path d="M244 89 237 93 233 90 238 86 244 87Z" fill="rgb(55,115,50)" stroke="#f06020" stroke-width="1.0"/>
<path d="M386 153 394 154 398 152 394 144 387 144 382 147Z" fill="rgb(51,23,32)" stroke="#e01a50" stroke-width="1.0"/>
<path d="M361 137 361 136 368 133 373 135 373 140 370 141Z" fill="rgb(117,117,119)" stroke="#f02030" stroke-width="1.0"/>
<path d="M238 134 240 130 232 126 225 127 220 131 224 135 235 136Z" fill="rgb(72,33,87)" stroke="#f06020" stroke-width="1.0"/>
<path d="M297 112 285 107 285 101 288 100 298 101 301 109 297 112Z" fill="rgb(59,59,145)" stroke="#e81a3a" stroke-width="1.0"/>
<path d="M268 116 260 116 259 115 260 111 271 109 275 111 273 113Z" fill="rgb(115,115,44)" stroke="#e01a50" stroke-width="1.0"/>
<path d="M241 6 236 1 226 2 225 3 224 11 227 13 237 12Z" fill="rgb(110,44,122)" stroke="#e81a3a" stroke-width="1.0"/>
<path d="M346 96 338 97 338 100 343 102 347 100Z" fill="rgb(52,52,127)" stroke="#f0402a" stroke-width="1.0"/>
<path d="M303 46 302 48 304 54 310 56 316 55 317 52 310 46Z" fill="rgb(65,136,60)" stroke="#e81a3a" stroke-width="1.0"/>
<path d="M342 130 351 124 356 125 359 129 355 132 347 133 342 131Z" fill="rgb(124,84,52)" stroke="#e81a3a" stroke-width="1.0"/>
<path d="M392 177 391 176 393 171 397 170 407 173 409 176 407 178 403 179Z" fill="rgb(51,34,51)" stroke="#f02030" stroke-width="1.0"/>
<path d="M237 157 232 155 237 146 243 146 247 150 242 156Z" fill="rgb(107,107,41)" stroke="#f0402a" stroke-width="1.0"/>
<path d="M296 42 283 48 278 45 286 36 290 36Z" fill="rgb(111,111,43)" stroke="#f02030" stroke-width="1.0"/>
<path d="M370 199 374 200 382 197 380 192 375 191 369 192 367 194Z" fill="rgb(152,59,139)" stroke="#e01a50" stroke-width="1.0"/>
<path d="M337 122 328 118 330 114 336 113 343 120Z" fill="rgb(90,35,50)" stroke="#f02030" stroke-width="1.0"/>
<path d="M323 30 335 31 337 30 338 25 335 23 326 24 322 28Z" fill="rgb(106,39,78)" stroke="#f0402a" stroke-width="1.0"/>
<path d="M340 143 339 145 329 146 323 141 327 138 334 138Z" fill="rgb(64,29,78)" stroke="#e81a3a" stroke-width="1.0"/>
<path d="M432 196 426 199 426 200 432 202 435 201 434 197Z" fill="rgb(33,41,72)" stroke="#e01a50" stroke-width="1.0"/>
<path d="M359 129 367 130 372 127 371 125 364 121 356 125Z" fill="rgb(63,57,144)" stroke="#f06020" stroke-width="1.0"/>
<path d="M367 194 369 192 364 188 355 191 358 194Z" fill="rgb(54,113,50)" stroke="#e01a50" stroke-width="1.0"/>
<path d="M325 194 321 193 319 189 327 189 327 192Z" fill="rgb(159,159,162)" stroke="#f06020" stroke-width="1.0"/>
<path d="M334 196 335 194 333 192 327 192 325 194 327 196Z" fill="rgb(57,120,52)" stroke="#f06020" stroke-width="1.0"/>
<path d="M441 12 440 13 428 14 423 10 424 8 428 6 436 7Z" fill="rgb(45,62,31)" stroke="#e81a3a" stroke-width="1.0"/>
<path d="M271 68 278 71 280 75 278 81 276 82 264 80 263 79 264 70Z" fill="rgb(35,40,81)" stroke="#f06020" stroke-width="1.0"/>
<path d="M438 33 437 40 446 45 474 38 445 30Z" fill="rgb(35,35,38)" stroke="#f06020" stroke-width="1.0"/>
<path d="M226 211 214 207 207 206 196 207 223 223 235 223 238 221Z" fill="rgb(40,40,99)" stroke="#f0402a" stroke-width="1.0"/>
<path d="M344 150 339 145 340 143 348 140 354 141 359 145 357 150Z" fill="rgb(94,37,103)" stroke="#e01a50" stroke-width="1.0"/>
<path d="M380 118 375 116 364 118 364 121 371 125 380 122Z" fill="rgb(46,108,108)" stroke="#f02030" stroke-width="1.0"/>
<path d="M369 52 372 56 380 56 381 50 375 48Z" fill="rgb(23,25,25)" stroke="#e81a3a" stroke-width="1.0"/>
<path d="M423 21 428 14 423 10 413 13 412 17Z" fill="rgb(62,28,62)" stroke="#e01a50" stroke-width="1.0"/>
<path d="M442 106 453 98 445 93 436 96 435 101Z" fill="rgb(49,67,34)" stroke="#e81a3a" stroke-width="1.0"/>
<path d="M317 127 326 130 326 131 323 134 316 135 311 131 314 127Z" fill="rgb(152,59,139)" stroke="#e01a50" stroke-width="1.0"/>
<path d="M373 155 380 156 386 153 382 147 374 148 371 151Z" fill="rgb(47,127,116)" stroke="#f02030" stroke-width="1.0"/>
<path d="M352 7 358 4 373 6 375 7 374 13 363 15 353 12Z" fill="rgb(40,94,94)" stroke="#f0402a" stroke-width="1.0"/>
<path d="M293 82 298 86 297 89 289 92 277 88 276 82 278 81Z" fill="rgb(116,116,45)" stroke="#f02030" stroke-width="1.0"/>
<path d="M290 207 292 211 299 209 293 206Z" fill="rgb(151,59,138)" stroke="#f02030" stroke-width="1.0"/>
<path d="M286 115 279 110 285 107 297 112Z" fill="rgb(46,113,46)" stroke="#f0402a" stroke-width="1.0"/>
<path d="M447 149 452 155 488 153 448 149Z" fill="rgb(22,49,49)" stroke="#f0402a" stroke-width="1.0"/>
<path d="M307 187 314 189 310 194 301 191Z" fill="rgb(30,30,33)" stroke="#f0402a" stroke-width="1.0"/>
<path d="M418 184 423 180 434 180 436 183 429 189 421 188Z" fill="rgb(22,51,28)" stroke="#e81a3a" stroke-width="1.0"/>
<path d="M387 43 377 41 375 38 376 36 381 34 393 36 393 39Z" fill="rgb(99,39,109)" stroke="#f0402a" stroke-width="1.0"/>
<path d="M228 156 224 154 210 157 224 160Z" fill="rgb(68,30,68)" stroke="#e81a3a" stroke-width="1.0"/>
<path d="M434 68 436 64 428 62 426 67Z" fill="rgb(51,23,32)" stroke="#f02030" stroke-width="1.0"/>
<path d="M436 177 434 180 436 183 447 186 467 180 452 175 440 175Z" fill="rgb(32,32,34)" stroke="#e01a50" stroke-width="1.0"/>
<path d="M359 159 359 151 371 151 373 155 366 159Z" fill="rgb(123,123,46)" stroke="#f0402a" stroke-width="1.0"/>
<path d="M317 189 314 189 307 187 306 181 319 182Z" fill="rgb(134,52,123)" stroke="#f0402a" stroke-width="1.0"/>
<path d="M355 191 354 191 352 189 355 184 362 183 364 184 364 188Z" fill="rgb(59,123,54)" stroke="#e81a3a" stroke-width="1.0"/>
<path d="M358 47 363 49 368 45 362 41 362 41Z" fill="rgb(45,106,106)" stroke="#e81a3a" stroke-width="1.0"/>
<path d="M229 89 224 90 219 87 224 81 231 82 232 83Z" fill="rgb(126,50,139)" stroke="#e81a3a" stroke-width="1.0"/>
<path d="M417 60 416 67 407 71 402 68 401 63 403 61 413 58Z" fill="rgb(68,30,68)" stroke="#f02030" stroke-width="1.0"/>
<path d="M424 216 437 211 446 214 450 218 444 221 428 222 424 219Z" fill="rgb(119,119,45)" stroke="#e01a50" stroke-width="1.0"/>
<path d="M272 122 273 123 272 126 267 128 261 127 259 122 260 121Z" fill="rgb(38,38,40)" stroke="#f0402a" stroke-width="1.0"/>
<path d="M259 164 259 169 262 171 272 170 274 168 273 164 266 162Z" fill="rgb(72,65,164)" stroke="#f02030" stroke-width="1.0"/>
<path d="M312 70 305 72 303 76 305 77 313 78 319 76 318 73Z" fill="rgb(144,144,146)" stroke="#e81a3a" stroke-width="1.0"/>
<path d="M323 30 322 32 313 34 307 32 313 27 322 28Z" fill="rgb(84,38,102)" stroke="#f0402a" stroke-width="1.0"/>
<path d="M289 22 290 14 283 11 268 14 267 19 271 24 282 25Z" fill="rgb(44,51,102)" stroke="#f06020" stroke-width="1.0"/>
<path d="M312 70 312 65 322 63 327 67 318 73Z" fill="rgb(70,32,85)" stroke="#f02030" stroke-width="1.0"/>
<path d="M371 163 366 159 373 155 380 156 381 161Z" fill="rgb(55,129,129)" stroke="#e81a3a" stroke-width="1.0"/>
<path d="M332 101 338 100 338 97 333 94 325 96 325 97Z" fill="rgb(75,34,91)" stroke="#f0402a" stroke-width="1.0"/>
<path d="M297 151 291 155 291 157 296 159 306 156 304 152Z" fill="rgb(47,115,47)" stroke="#f06020" stroke-width="1.0"/>
<path d="M409 125 402 126 397 134 401 136 415 135 418 132Z" fill="rgb(55,36,55)" stroke="#e81a3a" stroke-width="1.0"/>
<path d="M257 60 264 60 271 67 271 68 264 70 256 69 252 65Z" fill="rgb(145,56,132)" stroke="#e81a3a" stroke-width="1.0"/>
<path d="M259 103 257 100 268 94 277 100 270 105Z" fill="rgb(154,154,156)" stroke="#f06020" stroke-width="1.0"/>
<path d="M322 106 313 110 309 108 312 101 318 101Z" fill="rgb(98,98,38)" stroke="#f0402a" stroke-width="1.0"/>
<path d="M410 28 404 34 397 34 395 28 404 24Z" fill="rgb(35,43,76)" stroke="#e81a3a" stroke-width="1.0"/>
<path d="M271 109 275 111 279 110 285 107 285 101 277 100 270 105Z" fill="rgb(43,116,106)" stroke="#e81a3a" stroke-width="1.0"/>
<path d="M245 202 214 207 226 211 247 212 250 206Z" fill="rgb(105,38,77)" stroke="#e81a3a" stroke-width="1.0"/>
<path d="M436 133 443 133 450 139 443 141 432 138 431 136Z" fill="rgb(30,37,65)" stroke="#e01a50" stroke-width="1.0"/>
<path d="M241 186 251 184 253 186 252 190 245 191 240 188Z" fill="rgb(71,64,162)" stroke="#f0402a" stroke-width="1.0"/>
<path d="M365 208 361 207 354 210 356 215 367 217 367 217 368 211Z" fill="rgb(133,133,50)" stroke="#f0402a" stroke-width="1.0"/>
<path d="M359 151 357 150 359 145 369 144 374 148 371 151Z" fill="rgb(58,137,137)" stroke="#f02030" stroke-width="1.0"/>
<path d="M389 83 391 80 386 73 374 74 371 79 376 83Z" fill="rgb(70,32,70)" stroke="#f0402a" stroke-width="1.0"/>
<path d="M246 198 243 196 227 195 207 206 214 207 245 202Z" fill="rgb(70,63,159)" stroke="#e81a3a" stroke-width="1.0"/>
<path d="M294 137 303 137 306 133 298 128 292 131Z" fill="rgb(32,36,73)" stroke="#e81a3a" stroke-width="1.0"/>
<path d="M296 77 293 82 278 81 280 75 293 75Z" fill="rgb(82,32,45)" stroke="#f06020" stroke-width="1.0"/>
<path d="M255 11 265 12 268 14 267 19 251 21 246 19 246 17Z" fill="rgb(38,38,40)" stroke="#f02030" stroke-width="1.0"/>
<path d="M354 210 347 208 335 215 339 220 348 220 356 215Z" fill="rgb(52,141,129)" stroke="#f0402a" stroke-width="1.0"/>
<path d="M236 84 246 81 245 80 237 77 231 82 232 83Z" fill="rgb(159,159,161)" stroke="#f06020" stroke-width="1.0"/>
<path d="M304 54 295 56 290 51 302 48Z" fill="rgb(93,36,51)" stroke="#e81a3a" stroke-width="1.0"/>
<path d="M430 162 433 166 425 171 423 171 420 169 421 163 426 161Z" fill="rgb(52,35,52)" stroke="#e81a3a" stroke-width="1.0"/>
<path d="M425 23 436 23 441 15 440 13 428 14 423 21Z" fill="rgb(29,63,63)" stroke="#f06020" stroke-width="1.0"/>
<path d="M260 116 259 115 247 115 244 119 248 122 259 122 260 121Z" fill="rgb(136,136,51)" stroke="#e81a3a" stroke-width="1.0"/>
<path d="M294 122 288 122 284 118 286 115 297 112 297 112 301 116Z" fill="rgb(103,41,114)" stroke="#f0402a" stroke-width="1.0"/>
<path d="M278 45 283 48 284 49 277 55 271 55 264 50 265 46 273 44Z" fill="rgb(154,60,140)" stroke="#e81a3a" stroke-width="1.0"/>
<path d="M342 193 341 190 337 189 334 190 333 192 335 194Z" fill="rgb(80,167,73)" stroke="#e01a50" stroke-width="1.0"/>
<path d="M356 90 356 92 355 93 349 94 338 89 337 85 342 84 350 85Z" fill="rgb(109,40,80)" stroke="#e01a50" stroke-width="1.0"/>
<path d="M318 101 312 101 306 99 307 93 318 91 325 96 325 97Z" fill="rgb(98,38,54)" stroke="#f0402a" stroke-width="1.0"/>
<path d="M400 185 403 179 392 177 391 186Z" fill="rgb(51,70,35)" stroke="#e81a3a" stroke-width="1.0"/>
<path d="M375 185 364 184 362 183 363 178 366 177 378 178 379 183Z" fill="rgb(47,115,47)" stroke="#f06020" stroke-width="1.0"/>
<path d="M391 87 387 92 374 91 372 88 376 83 389 83Z" fill="rgb(44,102,102)" stroke="#f02030" stroke-width="1.0"/>
<path d="M246 49 251 44 260 44 265 46 264 50 250 54Z" fill="rgb(48,119,48)" stroke="#e01a50" stroke-width="1.0"/>
<path d="M386 167 393 171 397 170 401 165 398 161 396 160 386 163Z" fill="rgb(53,35,53)" stroke="#e81a3a" stroke-width="1.0"/>
<path d="M364 118 359 115 364 109 373 109 375 116Z" fill="rgb(55,129,129)" stroke="#e01a50" stroke-width="1.0"/>
<path d="M291 155 291 157 281 160 275 155 276 153 286 152Z" fill="rgb(52,122,122)" stroke="#f0402a" stroke-width="1.0"/>
<path d="M307 214 315 222 298 223 297 217 305 214Z" fill="rgb(71,149,65)" stroke="#e81a3a" stroke-width="1.0"/>
<path d="M299 32 290 36 286 36 282 34 282 25 289 22 296 24Z" fill="rgb(60,54,136)" stroke="#f02030" stroke-width="1.0"/>
<path d="M306 99 298 101 288 100 289 92 297 89 307 93Z" fill="rgb(115,45,105)" stroke="#e81a3a" stroke-width="1.0"/>
<path d="M370 199 360 202 355 199 358 194 367 194Z" fill="rgb(129,129,131)" stroke="#f0402a" stroke-width="1.0"/>
<path d="M349 48 348 48 351 53 357 55 364 51 363 49 358 47Z" fill="rgb(97,38,106)" stroke="#f02030" stroke-width="1.0"/>
<path d="M351 124 347 120 352 115 359 115 364 118 364 121 356 125Z" fill="rgb(118,118,45)" stroke="#f06020" stroke-width="1.0"/>
<path d="M395 54 394 55 403 61 413 58 412 53 405 51Z" fill="rgb(55,25,55)" stroke="#f06020" stroke-width="1.0"/>
<path d="M436 160 444 163 446 162 447 157 439 156Z" fill="rgb(22,50,28)" stroke="#f02030" stroke-width="1.0"/>
<path d="M395 12 396 9 389 5 375 7 374 13 378 16 386 17Z" fill="rgb(29,29,31)" stroke="#f0402a" stroke-width="1.0"/>
<path d="M230 48 229 47 229 43 241 39 247 40 251 44 246 49Z" fill="rgb(93,37,102)" stroke="#e01a50" stroke-width="1.0"/>
<path d="M286 36 278 45 273 44 271 35 282 34Z" fill="rgb(85,85,33)" stroke="#f02030" stroke-width="1.0"/>
<path d="M306 40 302 43 303 46 310 46 319 42 320 41 319 41 314 39Z" fill="rgb(58,143,58)" stroke="#f02030" stroke-width="1.0"/>
<path d="M364 51 357 55 359 57 366 60 372 56 369 52Z" fill="rgb(93,37,102)" stroke="#f02030" stroke-width="1.0"/>
<path d="M239 59 234 57 230 48 246 49 250 54 250 55Z" fill="rgb(115,115,117)" stroke="#f06020" stroke-width="1.0"/>
<path d="M307 214 325 212 325 212 315 222 315 222Z" fill="rgb(101,40,111)" stroke="#e81a3a" stroke-width="1.0"/>
<path d="M293 75 280 75 278 71 290 68 293 69Z" fill="rgb(52,139,127)" stroke="#e01a50" stroke-width="1.0"/>
<path d="M393 102 404 98 404 96 388 94 386 100Z" fill="rgb(26,32,57)" stroke="#e01a50" stroke-width="1.0"/>
<path d="M343 104 336 107 339 111 347 111 350 107Z" fill="rgb(50,122,50)" stroke="#f06020" stroke-width="1.0"/>
<path d="M265 190 262 185 253 186 252 190 259 193Z" fill="rgb(127,51,140)" stroke="#e81a3a" stroke-width="1.0"/>
<path d="M441 15 436 23 445 28 456 20Z" fill="rgb(33,73,73)" stroke="#f06020" stroke-width="1.0"/>
<path d="M434 118 445 119 449 116 446 108 442 106 432 111Z" fill="rgb(41,27,41)" stroke="#e01a50" stroke-width="1.0"/>
<path d="M423 0 421 0 416 -2 419 -9 433 -7 432 -3Z" fill="rgb(36,36,39)" stroke="#e81a3a" stroke-width="1.0"/>
<path d="M390 48 402 46 404 43 393 39 387 43 388 47Z" fill="rgb(22,50,28)" stroke="#e01a50" stroke-width="1.0"/>
<path d="M243 71 235 74 237 77 245 80 250 77 249 73Z" fill="rgb(96,38,106)" stroke="#f02030" stroke-width="1.0"/>
<path d="M434 68 436 64 445 61 449 68 445 71 445 71 435 69Z" fill="rgb(21,48,27)" stroke="#f0402a" stroke-width="1.0"/>
<path d="M359 57 366 60 367 61 356 66 354 66 349 62Z" fill="rgb(50,50,122)" stroke="#e01a50" stroke-width="1.0"/>
<path d="M323 122 317 127 314 127 309 124 310 118 314 117 322 120Z" fill="rgb(92,36,51)" stroke="#f06020" stroke-width="1.0"/>
<path d="M362 81 371 79 374 74 369 71 361 71 355 76 359 80Z" fill="rgb(115,42,85)" stroke="#f02030" stroke-width="1.0"/>
<path d="M406 111 413 113 407 118 400 117Z" fill="rgb(49,33,49)" stroke="#e81a3a" stroke-width="1.0"/>
<path d="M274 205 284 204 285 207 283 209 276 209 273 206Z" fill="rgb(54,128,128)" stroke="#f06020" stroke-width="1.0"/>
<path d="M369 168 366 169 366 177 378 178 379 177 377 170Z" fill="rgb(105,72,44)" stroke="#e01a50" stroke-width="1.0"/>
<path d="M410 103 418 104 421 101 420 96 408 93 404 96 404 98Z" fill="rgb(50,33,50)" stroke="#e81a3a" stroke-width="1.0"/>
<path d="M338 25 351 25 352 24 346 16 338 17 335 23Z" fill="rgb(115,44,64)" stroke="#f0402a" stroke-width="1.0"/>
<path d="M323 9 320 1 309 4 314 10Z" fill="rgb(47,127,117)" stroke="#f06020" stroke-width="1.0"/>
<path d="M436 208 448 202 448 202 451 203 449 209 446 214 437 211Z" fill="rgb(53,24,53)" stroke="#e81a3a" stroke-width="1.0"/>
<path d="M371 163 381 161 386 163 386 167 377 170 369 168Z" fill="rgb(37,45,80)" stroke="#e81a3a" stroke-width="1.0"/>
<path d="M246 198 243 196 245 191 252 190 259 193 259 196Z" fill="rgb(59,146,59)" stroke="#f0402a" stroke-width="1.0"/>
<path d="M225 184 71 203 196 207 207 206 227 195 229 189Z" fill="rgb(109,109,111)" stroke="#e81a3a" stroke-width="1.0"/>
<path d="M393 211 405 212 405 220 402 221 393 221 388 215Z" fill="rgb(40,55,28)" stroke="#f06020" stroke-width="1.0"/>
<path d="M371 163 366 159 359 159 354 161 357 168 366 169 369 168Z" fill="rgb(81,31,45)" stroke="#f02030" stroke-width="1.0"/>
<path d="M244 87 238 86 236 84 246 81 248 84Z" fill="rgb(72,151,66)" stroke="#f0402a" stroke-width="1.0"/>
<path d="M341 59 346 62 339 72 337 72 331 68 340 59Z" fill="rgb(66,60,151)" stroke="#e01a50" stroke-width="1.0"/>
<path d="M343 120 336 113 339 111 347 111 352 115 347 120Z" fill="rgb(58,53,133)" stroke="#e81a3a" stroke-width="1.0"/>
<path d="M271 67 281 62 290 65 290 68 278 71 271 68Z" fill="rgb(89,61,37)" stroke="#f0402a" stroke-width="1.0"/>
<path d="M277 215 266 218 261 214 264 212 274 212 277 215Z" fill="rgb(55,116,51)" stroke="#f02030" stroke-width="1.0"/>
<path d="M250 6 257 1 259 0 265 2 265 12 255 11Z" fill="rgb(56,130,130)" stroke="#f06020" stroke-width="1.0"/>
<path d="M349 31 351 33 358 35 365 32 366 26 361 24 352 24 351 25Z" fill="rgb(160,160,162)" stroke="#e01a50" stroke-width="1.0"/>
<path d="M248 84 246 81 245 80 250 77 263 79 264 80 257 85Z" fill="rgb(46,125,114)" stroke="#f0402a" stroke-width="1.0"/>
<path d="M380 118 380 122 387 125 395 123 395 118 386 116Z" fill="rgb(24,54,30)" stroke="#f0402a" stroke-width="1.0"/>
<path d="M428 122 421 120 412 123 409 125 418 132 419 132 429 125Z" fill="rgb(27,60,60)" stroke="#e81a3a" stroke-width="1.0"/>
<path d="M390 187 380 192 375 191 375 185 379 183 390 186Z" fill="rgb(59,27,59)" stroke="#e01a50" stroke-width="1.0"/>
<path d="M264 60 271 67 281 62 281 59 277 55 271 55Z" fill="rgb(69,63,157)" stroke="#e81a3a" stroke-width="1.0"/>
<path d="M324 172 306 172 302 176 305 181 306 181 319 182 321 181 325 172Z" fill="rgb(99,38,55)" stroke="#f02030" stroke-width="1.0"/>
<path d="M322 63 323 58 334 56 340 59 331 68 327 67Z" fill="rgb(46,53,107)" stroke="#e01a50" stroke-width="1.0"/>
<path d="M310 56 304 54 295 56 294 57 297 61 305 62Z" fill="rgb(51,125,51)" stroke="#e01a50" stroke-width="1.0"/>
<path d="M352 189 345 187 341 190 342 193 345 194 354 191Z" fill="rgb(21,23,23)" stroke="#f06020" stroke-width="1.0"/>
<path d="M390 21 386 17 378 16 374 25 382 27 387 26Z" fill="rgb(28,34,61)" stroke="#f02030" stroke-width="1.0"/>
<path d="M285 207 283 209 284 212 291 213 292 211 290 207Z" fill="rgb(150,150,152)" stroke="#f06020" stroke-width="1.0"/>
<path d="M262 149 264 156 266 157 275 155 276 153 274 149 263 148Z" fill="rgb(95,95,36)" stroke="#e81a3a" stroke-width="1.0"/>
<path d="M400 117 407 118 412 123 409 125 402 126 395 123 395 118 397 117Z" fill="rgb(24,26,26)" stroke="#e81a3a" stroke-width="1.0"/>
<path d="M385 58 385 62 401 63 403 61 394 55Z" fill="rgb(65,29,65)" stroke="#e81a3a" stroke-width="1.0"/>
<path d="M237 146 233 145 226 145 220 149 224 154 228 156 232 155Z" fill="rgb(56,149,137)" stroke="#e81a3a" stroke-width="1.0"/>
<path d="M375 185 364 184 364 188 369 192 375 191Z" fill="rgb(111,111,43)" stroke="#f02030" stroke-width="1.0"/>
<path d="M242 156 247 150 252 151 255 157 251 159Z" fill="rgb(93,42,113)" stroke="#f02030" stroke-width="1.0"/>
<path d="M352 189 345 187 343 185 349 181 355 184Z" fill="rgb(103,103,39)" stroke="#e81a3a" stroke-width="1.0"/>
<path d="M288 131 292 131 298 128 299 126 294 122 288 122 285 124 284 127Z" fill="rgb(94,36,52)" stroke="#f0402a" stroke-width="1.0"/>
<path d="M421 77 408 74 403 79 409 84 421 81Z" fill="rgb(44,29,44)" stroke="#e01a50" stroke-width="1.0"/>
<path d="M249 96 250 99 246 101 234 99 232 98 238 94Z" fill="rgb(56,150,137)" stroke="#f02030" stroke-width="1.0"/>
<path d="M435 78 435 77 427 74 427 74 421 77 421 81 426 84 431 83Z" fill="rgb(44,29,44)" stroke="#f0402a" stroke-width="1.0"/>
<path d="M293 147 297 151 304 152 306 150 304 144 295 144Z" fill="rgb(52,128,52)" stroke="#f02030" stroke-width="1.0"/>
<path d="M261 214 250 214 246 221 259 229 266 223 266 218Z" fill="rgb(45,106,106)" stroke="#e01a50" stroke-width="1.0"/>
<path d="M317 189 319 182 321 181 329 184 327 188 327 189 319 189Z" fill="rgb(54,54,132)" stroke="#f06020" stroke-width="1.0"/>
<path d="M235 29 219 36 229 43 241 39 239 31Z" fill="rgb(36,42,84)" stroke="#e81a3a" stroke-width="1.0"/>
<path d="M393 102 386 100 377 102 377 107 387 110 390 109 394 105Z" fill="rgb(29,65,65)" stroke="#f06020" stroke-width="1.0"/>
<path d="M313 204 313 207 305 210 302 209 301 203 304 201Z" fill="rgb(27,27,29)" stroke="#f02030" stroke-width="1.0"/>
<path d="M250 214 246 221 238 221 226 211 247 212Z" fill="rgb(104,104,39)" stroke="#e81a3a" stroke-width="1.0"/>
<path d="M268 14 265 12 265 2 276 0 282 3 283 11Z" fill="rgb(121,44,89)" stroke="#e81a3a" stroke-width="1.0"/>
<path d="M341 59 351 53 348 48 335 50 334 56 340 59Z" fill="rgb(58,58,143)" stroke="#e81a3a" stroke-width="1.0"/>
<path d="M238 165 237 157 242 156 251 159 252 162 243 166Z" fill="rgb(65,59,149)" stroke="#f06020" stroke-width="1.0"/>
<path d="M430 162 436 160 439 156 437 153 425 153 423 155 426 161Z" fill="rgb(53,131,53)" stroke="#e01a50" stroke-width="1.0"/>
<path d="M316 -4 299 0 298 -1 296 -8 313 -11 317 -9Z" fill="rgb(109,109,41)" stroke="#f06020" stroke-width="1.0"/>
<path d="M267 19 251 21 252 25 260 29 266 29 271 24Z" fill="rgb(37,43,86)" stroke="#e01a50" stroke-width="1.0"/>
<path d="M394 154 398 152 407 152 411 156 410 158 398 161 396 160Z" fill="rgb(22,51,28)" stroke="#e01a50" stroke-width="1.0"/>
<path d="M368 211 367 217 370 217 379 212 378 210Z" fill="rgb(60,125,55)" stroke="#e01a50" stroke-width="1.0"/>
<path d="M379 -5 374 -3 360 -4 355 -7 364 -19 379 -7Z" fill="rgb(98,39,108)" stroke="#e81a3a" stroke-width="1.0"/>
<path d="M241 6 236 1 240 -3 243 -3 257 1 250 6Z" fill="rgb(105,41,58)" stroke="#f06020" stroke-width="1.0"/>
<path d="M310 118 301 116 294 122 299 126 309 124Z" fill="rgb(94,94,36)" stroke="#f0402a" stroke-width="1.0"/>
<path d="M323 122 331 125 335 125 337 122 328 118 322 120Z" fill="rgb(117,45,65)" stroke="#e81a3a" stroke-width="1.0"/>
<path d="M319 201 313 204 304 201 304 199 311 195 315 196Z" fill="rgb(92,35,51)" stroke="#f0402a" stroke-width="1.0"/>
<path d="M269 199 276 192 276 191 265 190 259 193 259 196 263 199Z" fill="rgb(104,41,95)" stroke="#f02030" stroke-width="1.0"/>
<path d="M275 155 281 160 281 161 273 164 266 162 266 157Z" fill="rgb(42,42,103)" stroke="#f02030" stroke-width="1.0"/>
<path d="M243 146 250 142 262 144 263 148 262 149 252 151 247 150Z" fill="rgb(120,46,66)" stroke="#f06020" stroke-width="1.0"/>
<path d="M390 186 391 186 392 177 391 176 379 177 378 178 379 183Z" fill="rgb(26,31,56)" stroke="#e01a50" stroke-width="1.0"/>
<path d="M240 188 229 189 227 195 243 196 245 191Z" fill="rgb(118,81,49)" stroke="#f0402a" stroke-width="1.0"/>
<path d="M302 176 306 172 303 167 297 165 289 166 286 169 287 175 288 176Z" fill="rgb(42,48,97)" stroke="#e81a3a" stroke-width="1.0"/>
<path d="M307 32 303 32 306 40 314 39 313 34Z" fill="rgb(100,37,74)" stroke="#e81a3a" stroke-width="1.0"/>
<path d="M228 115 218 120 225 127 232 126 235 119Z" fill="rgb(141,141,144)" stroke="#f06020" stroke-width="1.0"/>
<path d="M249 73 250 77 263 79 264 70 256 69Z" fill="rgb(108,43,118)" stroke="#e81a3a" stroke-width="1.0"/>
<path d="M265 136 256 134 249 138 250 142 262 144 267 141Z" fill="rgb(44,29,44)" stroke="#e01a50" stroke-width="1.0"/>
<path d="M280 186 286 185 288 176 287 175 275 176 273 177 272 181Z" fill="rgb(124,85,52)" stroke="#e01a50" stroke-width="1.0"/>
<path d="M389 206 393 211 405 212 409 209 405 204 391 205Z" fill="rgb(26,31,55)" stroke="#f0402a" stroke-width="1.0"/>
<path d="M296 77 293 82 298 86 303 84 305 77 303 76Z" fill="rgb(112,76,47)" stroke="#e81a3a" stroke-width="1.0"/>
<path d="M380 122 371 125 372 127 379 130 386 128 387 125Z" fill="rgb(109,74,46)" stroke="#f0402a" stroke-width="1.0"/>
<path d="M366 26 361 24 363 15 374 13 378 16 374 25Z" fill="rgb(109,42,60)" stroke="#f0402a" stroke-width="1.0"/>
<path d="M322 164 312 161 310 157 323 152 333 158Z" fill="rgb(128,51,141)" stroke="#e01a50" stroke-width="1.0"/>
<path d="M366 26 365 32 376 36 381 34 382 27 374 25Z" fill="rgb(45,62,31)" stroke="#f02030" stroke-width="1.0"/>
<path d="M360 202 361 207 354 210 347 208 345 205 351 200 355 199Z" fill="rgb(41,102,41)" stroke="#f06020" stroke-width="1.0"/>
<path d="M373 65 367 61 356 66 361 71 369 71Z" fill="rgb(140,54,128)" stroke="#e01a50" stroke-width="1.0"/>
<path d="M235 29 219 36 197 33 228 23 232 24Z" fill="rgb(60,55,138)" stroke="#e81a3a" stroke-width="1.0"/>
<path d="M432 206 436 208 437 211 424 216 418 210 420 207Z" fill="rgb(37,45,80)" stroke="#f0402a" stroke-width="1.0"/>
<path d="M423 26 428 32 438 33 445 30 445 28 436 23 425 23Z" fill="rgb(53,74,37)" stroke="#f02030" stroke-width="1.0"/>
<path d="M260 205 250 206 245 202 246 198 259 196 263 199Z" fill="rgb(138,138,52)" stroke="#e81a3a" stroke-width="1.0"/>
<path d="M296 24 289 22 290 14 297 12 310 14 312 18 309 22Z" fill="rgb(74,34,90)" stroke="#f0402a" stroke-width="1.0"/>
<path d="M446 90 445 93 436 96 428 91 428 91 440 87Z" fill="rgb(52,23,33)" stroke="#f06020" stroke-width="1.0"/>
<path d="M323 201 319 201 315 196 321 193 325 194 327 196Z" fill="rgb(58,136,136)" stroke="#f02030" stroke-width="1.0"/>
<path d="M315 196 311 195 310 194 314 189 317 189 319 189 321 193Z" fill="rgb(116,45,64)" stroke="#f02030" stroke-width="1.0"/>
<path d="M381 161 380 156 386 153 394 154 396 160 386 163Z" fill="rgb(39,54,27)" stroke="#f02030" stroke-width="1.0"/>
<path d="M260 205 250 206 247 212 250 214 261 214 264 212 263 207Z" fill="rgb(48,130,119)" stroke="#f02030" stroke-width="1.0"/>
<path d="M423 171 425 171 436 177 434 180 423 180 417 176Z" fill="rgb(19,21,21)" stroke="#f0402a" stroke-width="1.0"/>
<path d="M237 93 233 90 229 89 224 90 223 95 226 98 232 98 238 94Z" fill="rgb(53,53,129)" stroke="#f0402a" stroke-width="1.0"/>
<path d="M316 135 315 138 306 139 303 137 306 133 311 131Z" fill="rgb(51,51,125)" stroke="#f06020" stroke-width="1.0"/>
<path d="M263 207 264 212 274 212 276 209 273 206Z" fill="rgb(110,110,41)" stroke="#f02030" stroke-width="1.0"/>
<path d="M337 30 349 31 351 25 338 25Z" fill="rgb(56,51,127)" stroke="#f06020" stroke-width="1.0"/>
<path d="M243 166 252 162 259 164 259 169 247 171Z" fill="rgb(59,146,59)" stroke="#f0402a" stroke-width="1.0"/>
<path d="M362 81 371 79 376 83 372 88 364 86Z" fill="rgb(120,44,88)" stroke="#f0402a" stroke-width="1.0"/>
<path d="M342 130 335 125 337 122 343 120 347 120 351 124Z" fill="rgb(84,84,32)" stroke="#f06020" stroke-width="1.0"/>
<path d="M418 5 407 6 406 7 413 13 423 10 424 8Z" fill="rgb(63,29,40)" stroke="#f06020" stroke-width="1.0"/>
<path d="M280 135 288 131 292 131 294 137 291 139 281 137Z" fill="rgb(90,90,35)" stroke="#f0402a" stroke-width="1.0"/>
<path d="M251 184 250 181 259 180 263 183 262 185 253 186Z" fill="rgb(54,49,124)" stroke="#e01a50" stroke-width="1.0"/>
<path d="M359 102 358 105 350 107 343 104 343 102 347 100Z" fill="rgb(118,118,45)" stroke="#f02030" stroke-width="1.0"/>
<path d="M277 215 282 219 282 222 266 223 266 218Z" fill="rgb(50,123,50)" stroke="#e81a3a" stroke-width="1.0"/>
<path d="M323 122 331 125 326 130 317 127Z" fill="rgb(127,127,48)" stroke="#e81a3a" stroke-width="1.0"/>
<path d="M243 65 252 65 257 60 250 55 239 59 241 64Z" fill="rgb(93,36,51)" stroke="#e81a3a" stroke-width="1.0"/>
<path d="M359 159 354 161 341 160 338 158 344 150 357 150 359 151Z" fill="rgb(44,44,109)" stroke="#f0402a" stroke-width="1.0"/>
<path d="M407 191 406 187 412 184 418 184 421 188 416 192Z" fill="rgb(114,42,84)" stroke="#f0402a" stroke-width="1.0"/>
<path d="M439 168 440 175 436 177 425 171 433 166Z" fill="rgb(22,24,24)" stroke="#e01a50" stroke-width="1.0"/>
<path d="M441 12 440 13 441 15 456 20 492 15 449 8Z" fill="rgb(43,28,43)" stroke="#f06020" stroke-width="1.0"/>
<path d="M356 66 354 66 342 73 345 75 355 76 361 71Z" fill="rgb(47,47,116)" stroke="#e01a50" stroke-width="1.0"/>
<path d="M335 203 345 205 351 200 346 197 336 198Z" fill="rgb(20,22,22)" stroke="#e81a3a" stroke-width="1.0"/>
<path d="M394 197 406 201 409 199 404 192 397 193Z" fill="rgb(51,70,35)" stroke="#f06020" stroke-width="1.0"/>
<path d="M389 5 391 -2 379 -5 374 -3 373 6 375 7Z" fill="rgb(60,27,60)" stroke="#f06020" stroke-width="1.0"/>
<path d="M252 25 245 30 254 33 260 29Z" fill="rgb(98,38,54)" stroke="#f02030" stroke-width="1.0"/>
<path d="M318 73 319 76 327 78 337 72 331 68 327 67Z" fill="rgb(90,61,38)" stroke="#f06020" stroke-width="1.0"/>
<path d="M260 44 251 44 247 40 254 35 261 37Z" fill="rgb(85,33,47)" stroke="#f02030" stroke-width="1.0"/>
<path d="M347 133 348 140 354 141 361 137 361 136 355 132Z" fill="rgb(42,103,42)" stroke="#f06020" stroke-width="1.0"/>
<path d="M345 187 341 190 337 189 334 184 336 183 343 185Z" fill="rgb(43,43,105)" stroke="#f0402a" stroke-width="1.0"/>
<path d="M321 0 316 -4 317 -9 336 -9 337 -8 329 -1Z" fill="rgb(115,42,85)" stroke="#e81a3a" stroke-width="1.0"/>
<path d="M436 7 428 6 428 3 435 0 439 2Z" fill="rgb(54,36,54)" stroke="#e01a50" stroke-width="1.0"/>
<path d="M247 171 259 169 262 171 261 175 260 176 248 175 245 174Z" fill="rgb(71,64,161)" stroke="#f02030" stroke-width="1.0"/>
<path d="M362 81 364 86 356 90 350 85 359 80Z" fill="rgb(100,36,73)" stroke="#e81a3a" stroke-width="1.0"/>
<path d="M338 89 333 94 325 96 318 91 320 87 330 84 337 85Z" fill="rgb(147,57,134)" stroke="#f06020" stroke-width="1.0"/>
<path d="M427 74 422 69 416 67 407 71 408 74 421 77Z" fill="rgb(42,28,42)" stroke="#f02030" stroke-width="1.0"/>
<path d="M443 81 439 86 431 83 435 78Z" fill="rgb(30,66,66)" stroke="#e81a3a" stroke-width="1.0"/>
<path d="M409 199 406 201 405 204 409 209 418 210 420 207 420 203 413 199Z" fill="rgb(58,26,58)" stroke="#f0402a" stroke-width="1.0"/>
<path d="M425 153 422 149 426 144 440 148 441 149 437 153Z" fill="rgb(66,30,66)" stroke="#e81a3a" stroke-width="1.0"/>
<path d="M252 162 259 164 266 162 266 157 264 156 255 157 251 159Z" fill="rgb(60,161,148)" stroke="#e81a3a" stroke-width="1.0"/>
<path d="M305 63 305 62 297 61 290 65 290 68 293 69 299 69Z" fill="rgb(55,116,51)" stroke="#f0402a" stroke-width="1.0"/>
<path d="M310 118 301 116 297 112 301 109 309 108 313 110 316 113 314 117Z" fill="rgb(69,63,158)" stroke="#e01a50" stroke-width="1.0"/>
<path d="M406 19 395 12 396 9 406 7 413 13 412 17Z" fill="rgb(33,33,35)" stroke="#e81a3a" stroke-width="1.0"/>
<path d="M259 180 263 183 272 181 273 177 261 175 260 176Z" fill="rgb(128,50,116)" stroke="#f06020" stroke-width="1.0"/>
<path d="M252 92 249 96 250 99 257 100 268 94 268 92 258 89Z" fill="rgb(46,53,106)" stroke="#f06020" stroke-width="1.0"/>
<path d="M237 12 227 13 225 19 228 23 232 24 246 19 246 17Z" fill="rgb(33,38,77)" stroke="#f06020" stroke-width="1.0"/>
<path d="M296 159 297 165 289 166 281 161 281 160 291 157Z" fill="rgb(50,117,117)" stroke="#f02030" stroke-width="1.0"/>
<path d="M316 144 306 142 306 139 315 138 320 141Z" fill="rgb(116,116,118)" stroke="#f02030" stroke-width="1.0"/>
<path d="M260 205 263 199 269 199 273 201 274 205 273 206 263 207Z" fill="rgb(112,43,62)" stroke="#f02030" stroke-width="1.0"/>
<path d="M275 133 278 129 284 127 288 131 280 135Z" fill="rgb(76,35,93)" stroke="#f02030" stroke-width="1.0"/>
<path d="M405 220 405 212 409 209 418 210 424 216 424 219 414 221 407 220Z" fill="rgb(24,54,30)" stroke="#e81a3a" stroke-width="1.0"/>
<path d="M267 141 262 144 263 148 274 149 280 145 280 145 276 141Z" fill="rgb(125,46,92)" stroke="#f0402a" stroke-width="1.0"/>
<path d="M355 93 359 101 371 99 371 94 356 92Z" fill="rgb(60,126,55)" stroke="#f02030" stroke-width="1.0"/>
<path d="M307 187 306 181 305 181 291 186 296 191 301 191Z" fill="rgb(42,114,104)" stroke="#f02030" stroke-width="1.0"/>
<path d="M272 121 268 116 273 113 279 118Z" fill="rgb(50,134,123)" stroke="#f02030" stroke-width="1.0"/>
<path d="M425 153 422 149 410 149 407 152 411 156 423 155Z" fill="rgb(66,30,66)" stroke="#f06020" stroke-width="1.0"/>
<path d="M330 204 326 212 325 212 325 212 313 207 313 204 319 201 323 201Z" fill="rgb(46,109,109)" stroke="#e01a50" stroke-width="1.0"/>
<path d="M246 128 240 130 232 126 235 119 244 119 248 122Z" fill="rgb(46,52,105)" stroke="#e81a3a" stroke-width="1.0"/>
<path d="M374 148 382 147 387 144 384 140 373 140 370 141 369 144Z" fill="rgb(85,33,47)" stroke="#f0402a" stroke-width="1.0"/>
<path d="M373 135 378 133 379 130 372 127 367 130 368 133Z" fill="rgb(52,34,52)" stroke="#e81a3a" stroke-width="1.0"/>
<path d="M430 55 446 60 451 57 444 48 430 51Z" fill="rgb(51,71,36)" stroke="#f06020" stroke-width="1.0"/>
<path d="M432 202 435 201 448 202 436 208 432 206Z" fill="rgb(35,35,37)" stroke="#e01a50" stroke-width="1.0"/>
<path d="M428 32 438 33 437 40 427 42 421 37Z" fill="rgb(43,28,43)" stroke="#f02030" stroke-width="1.0"/>
<path d="M312 101 306 99 298 101 301 109 309 108Z" fill="rgb(55,128,128)" stroke="#e81a3a" stroke-width="1.0"/>
<path d="M276 141 280 145 292 142 291 139 281 137Z" fill="rgb(97,36,72)" stroke="#f0402a" stroke-width="1.0"/>
<path d="M325 172 321 181 329 184 334 184 336 183 338 178 332 173Z" fill="rgb(32,37,74)" stroke="#e81a3a" stroke-width="1.0"/>
<path d="M404 109 404 107 394 105 390 109 396 111Z" fill="rgb(66,30,66)" stroke="#e01a50" stroke-width="1.0"/>
<path d="M342 131 337 133 334 138 340 143 348 140 347 133Z" fill="rgb(105,72,44)" stroke="#f06020" stroke-width="1.0"/>
<path d="M314 10 309 4 302 3 297 12 310 14Z" fill="rgb(117,117,119)" stroke="#f0402a" stroke-width="1.0"/>
<path d="M352 7 358 4 360 -4 355 -7 345 -6 344 5Z" fill="rgb(112,43,62)" stroke="#f0402a" stroke-width="1.0"/>
<path d="M368 45 362 41 375 38 377 41 373 46Z" fill="rgb(109,74,46)" stroke="#f0402a" stroke-width="1.0"/>
<path d="M364 51 369 52 375 48 373 46 368 45 363 49Z" fill="rgb(20,22,22)" stroke="#f06020" stroke-width="1.0"/>
<path d="M307 32 303 32 299 32 296 24 309 22 313 27Z" fill="rgb(42,48,96)" stroke="#e01a50" stroke-width="1.0"/>
<path d="M432 126 446 126 447 128 443 133 436 133Z" fill="rgb(24,55,30)" stroke="#f02030" stroke-width="1.0"/>
<path d="M404 21 390 21 386 17 395 12 406 19Z" fill="rgb(70,32,70)" stroke="#f06020" stroke-width="1.0"/>
<path d="M319 42 310 46 317 52 324 49Z" fill="rgb(40,94,94)" stroke="#e81a3a" stroke-width="1.0"/>
<path d="M338 158 333 158 323 152 323 151 329 146 339 145 344 150Z" fill="rgb(51,51,125)" stroke="#f02030" stroke-width="1.0"/>
<path d="M443 133 450 139 459 140 480 138 447 128Z" fill="rgb(125,49,114)" stroke="#f0402a" stroke-width="1.0"/>
<path d="M417 36 412 38 409 42 420 48 423 48 427 42 421 37Z" fill="rgb(29,35,63)" stroke="#e01a50" stroke-width="1.0"/>
<path d="M312 70 305 72 299 69 305 63 312 65Z" fill="rgb(108,108,41)" stroke="#e01a50" stroke-width="1.0"/>
<path d="M322 28 326 24 321 19 312 18 309 22 313 27Z" fill="rgb(48,113,113)" stroke="#f02030" stroke-width="1.0"/>
<path d="M277 215 282 219 292 216 291 213 284 212 277 215Z" fill="rgb(101,37,74)" stroke="#f06020" stroke-width="1.0"/>
<path d="M364 86 372 88 374 91 371 94 356 92 356 90Z" fill="rgb(94,37,104)" stroke="#f06020" stroke-width="1.0"/>
<path d="M250 55 250 54 264 50 271 55 264 60 257 60Z" fill="rgb(103,103,39)" stroke="#f06020" stroke-width="1.0"/>
<path d="M265 136 256 134 255 131 261 127 267 128 270 133Z" fill="rgb(94,36,52)" stroke="#f06020" stroke-width="1.0"/>
<path d="M282 34 271 35 269 35 266 29 271 24 282 25Z" fill="rgb(125,125,47)" stroke="#f0402a" stroke-width="1.0"/>
<path d="M339 72 342 73 354 66 349 62 346 62Z" fill="rgb(42,48,96)" stroke="#e81a3a" stroke-width="1.0"/>
<path d="M241 186 239 182 229 178 225 184 229 189 240 188Z" fill="rgb(41,100,41)" stroke="#e81a3a" stroke-width="1.0"/>
<path d="M295 56 294 57 281 59 277 55 284 49 290 51Z" fill="rgb(34,39,78)" stroke="#e01a50" stroke-width="1.0"/>
<path d="M423 26 415 28 410 28 404 24 404 21 406 19 412 17 423 21 425 23Z" fill="rgb(54,24,54)" stroke="#f06020" stroke-width="1.0"/>
<path d="M323 30 335 31 336 35 332 37 325 36 322 32Z" fill="rgb(117,46,107)" stroke="#f02030" stroke-width="1.0"/>
<path d="M439 168 440 175 452 175 449 168 444 166Z" fill="rgb(130,52,143)" stroke="#f0402a" stroke-width="1.0"/>
<path d="M387 26 382 27 381 34 393 36 397 34 395 28Z" fill="rgb(22,24,24)" stroke="#e01a50" stroke-width="1.0"/>
<path d="M238 165 226 168 228 176 229 177 245 174 247 171 243 166Z" fill="rgb(54,54,132)" stroke="#e01a50" stroke-width="1.0"/>
<path d="M322 120 328 118 330 114 326 112 316 113 314 117Z" fill="rgb(72,33,88)" stroke="#e81a3a" stroke-width="1.0"/>
<path d="M349 94 346 96 338 97 333 94 338 89Z" fill="rgb(51,125,51)" stroke="#f0402a" stroke-width="1.0"/>
<path d="M423 0 432 -3 435 0 428 3Z" fill="rgb(67,30,43)" stroke="#e81a3a" stroke-width="1.0"/>
<path d="M434 197 435 201 448 202 448 202 446 194 445 193 444 193Z" fill="rgb(25,56,56)" stroke="#f0402a" stroke-width="1.0"/>
<path d="M237 77 235 74 231 73 224 74 222 79 224 81 231 82Z" fill="rgb(130,130,132)" stroke="#e81a3a" stroke-width="1.0"/>
<path d="M432 202 426 200 420 203 420 207 432 206Z" fill="rgb(22,51,29)" stroke="#e01a50" stroke-width="1.0"/>
<path d="M375 204 374 200 382 197 389 198 391 205 389 206 379 207Z" fill="rgb(53,73,37)" stroke="#f02030" stroke-width="1.0"/>
<path d="M362 183 363 178 352 176 349 179 349 181 355 184Z" fill="rgb(122,122,124)" stroke="#f06020" stroke-width="1.0"/>
<path d="M432 196 429 193 430 190 444 193 434 197Z" fill="rgb(36,50,25)" stroke="#f06020" stroke-width="1.0"/>
<path d="M335 215 339 220 327 233 315 222 325 212 326 212Z" fill="rgb(120,120,46)" stroke="#f02030" stroke-width="1.0"/>
<path d="M377 102 371 99 371 94 374 91 387 92 388 94 386 100Z" fill="rgb(24,54,54)" stroke="#f02030" stroke-width="1.0"/>
<path d="M420 169 421 163 413 162 409 166 412 169Z" fill="rgb(37,45,80)" stroke="#f06020" stroke-width="1.0"/>
<path d="M410 28 404 34 412 38 417 36 415 28Z" fill="rgb(47,31,47)" stroke="#f0402a" stroke-width="1.0"/>
<path d="M358 194 355 191 354 191 345 194 346 197 351 200 355 199Z" fill="rgb(106,106,41)" stroke="#e81a3a" stroke-width="1.0"/>
<path d="M346 16 352 24 361 24 363 15 353 12Z" fill="rgb(98,36,72)" stroke="#f0402a" stroke-width="1.0"/>
<path d="M418 195 421 195 429 193 430 190 429 189 421 188 416 192Z" fill="rgb(69,31,69)" stroke="#e01a50" stroke-width="1.0"/>
<path d="M260 -8 268 -10 276 -7 276 0 265 2 259 0Z" fill="rgb(41,100,41)" stroke="#e01a50" stroke-width="1.0"/>
<path d="M390 187 397 193 394 197 389 198 382 197 380 192Z" fill="rgb(23,53,29)" stroke="#f02030" stroke-width="1.0"/>
<path d="M409 176 417 176 423 171 420 169 412 169 407 173Z" fill="rgb(28,28,29)" stroke="#f0402a" stroke-width="1.0"/>
<path d="M252 25 245 30 239 31 235 29 232 24 246 19 251 21Z" fill="rgb(60,160,147)" stroke="#e81a3a" stroke-width="1.0"/>
<path d="M423 26 428 32 421 37 417 36 415 28Z" fill="rgb(27,33,58)" stroke="#f02030" stroke-width="1.0"/>
<path d="M245 174 248 175 248 180 239 182 229 178 229 177Z" fill="rgb(58,136,136)" stroke="#f06020" stroke-width="1.0"/>
<path d="M232 98 226 98 222 100 223 109 224 109 234 105 234 99Z" fill="rgb(104,40,58)" stroke="#f06020" stroke-width="1.0"/>
<path d="M336 113 339 111 336 107 331 105 326 107 326 112 330 114Z" fill="rgb(42,99,99)" stroke="#e01a50" stroke-width="1.0"/>
<path d="M443 81 449 80 448 74 445 71 445 71 435 77 435 78Z" fill="rgb(68,31,43)" stroke="#f0402a" stroke-width="1.0"/>
<path d="M441 149 447 149 448 149 459 140 450 139 443 141 440 148Z" fill="rgb(24,26,26)" stroke="#f02030" stroke-width="1.0"/>
<path d="M409 199 404 192 407 191 416 192 418 195 413 199Z" fill="rgb(42,28,42)" stroke="#e01a50" stroke-width="1.0"/>
<path d="M274 168 272 170 275 176 287 175 286 169Z" fill="rgb(26,61,34)" stroke="#e01a50" stroke-width="1.0"/>
<path d="M359 40 358 35 365 32 376 36 375 38 362 41 362 41Z" fill="rgb(46,53,106)" stroke="#e01a50" stroke-width="1.0"/>
<path d="M262 149 252 151 255 157 264 156Z" fill="rgb(92,92,35)" stroke="#f0402a" stroke-width="1.0"/>
<path d="M265 136 270 133 275 133 280 135 281 137 276 141 267 141Z" fill="rgb(40,94,94)" stroke="#f0402a" stroke-width="1.0"/>
<path d="M428 122 434 118 445 119 448 124 446 126 432 126 429 125Z" fill="rgb(33,40,71)" stroke="#e81a3a" stroke-width="1.0"/>
<path d="M421 101 420 96 428 91 436 96 435 101Z" fill="rgb(51,23,51)" stroke="#f06020" stroke-width="1.0"/>
<path d="M398 152 407 152 410 149 409 144 400 142 394 144Z" fill="rgb(30,36,64)" stroke="#e01a50" stroke-width="1.0"/>
<path d="M326 24 321 19 331 14 338 17 335 23Z" fill="rgb(33,74,74)" stroke="#f06020" stroke-width="1.0"/>
<path d="M428 122 434 118 432 111 421 110 418 112 421 120Z" fill="rgb(36,36,39)" stroke="#f02030" stroke-width="1.0"/>
<path d="M250 181 259 180 260 176 248 175 248 180Z" fill="rgb(87,34,48)" stroke="#e01a50" stroke-width="1.0"/>
<path d="M335 203 345 205 347 208 335 215 326 212 330 204Z" fill="rgb(112,41,82)" stroke="#e81a3a" stroke-width="1.0"/>
<path d="M358 105 350 107 347 111 352 115 359 115 364 109Z" fill="rgb(32,37,75)" stroke="#f06020" stroke-width="1.0"/>
<path d="M421 120 418 112 413 113 407 118 412 123Z" fill="rgb(23,53,29)" stroke="#f02030" stroke-width="1.0"/>
<path d="M293 147 287 149 280 145 280 145 292 142 295 144Z" fill="rgb(50,123,50)" stroke="#f06020" stroke-width="1.0"/>
<path d="M426 144 426 143 432 138 443 141 440 148Z" fill="rgb(20,22,22)" stroke="#f0402a" stroke-width="1.0"/>
<path d="M430 162 433 166 439 168 444 166 444 163 436 160Z" fill="rgb(51,70,35)" stroke="#f02030" stroke-width="1.0"/>
<path d="M406 187 412 184 407 178 403 179 400 185Z" fill="rgb(73,33,46)" stroke="#e81a3a" stroke-width="1.0"/>
<path d="M284 204 284 204 285 207 290 207 293 206 295 203 291 201Z" fill="rgb(41,101,41)" stroke="#f06020" stroke-width="1.0"/>
<path d="M241 6 237 12 246 17 255 11 250 6Z" fill="rgb(137,53,125)" stroke="#e01a50" stroke-width="1.0"/>
<path d="M303 32 299 32 290 36 296 42 302 43 306 40Z" fill="rgb(59,139,139)" stroke="#e81a3a" stroke-width="1.0"/>
<path d="M307 214 325 212 313 207 305 210 305 214Z" fill="rgb(143,143,146)" stroke="#e01a50" stroke-width="1.0"/>
<path d="M415 135 416 141 409 144 400 142 401 136Z" fill="rgb(30,67,67)" stroke="#f02030" stroke-width="1.0"/>
<path d="M426 144 426 143 416 141 409 144 410 149 422 149Z" fill="rgb(52,23,33)" stroke="#f0402a" stroke-width="1.0"/>
<path d="M385 137 393 133 386 128 379 130 378 133Z" fill="rgb(23,54,30)" stroke="#e81a3a" stroke-width="1.0"/>
<path d="M407 173 397 170 401 165 409 166 412 169Z" fill="rgb(59,39,59)" stroke="#f06020" stroke-width="1.0"/>
<path d="M342 130 335 125 331 125 326 130 326 131 337 133 342 131Z" fill="rgb(54,133,54)" stroke="#f0402a" stroke-width="1.0"/>
<path d="M427 74 435 69 434 68 426 67 422 69 427 74Z" fill="rgb(41,27,41)" stroke="#e01a50" stroke-width="1.0"/>
<path d="M444 163 444 166 449 168 460 163 454 162 446 162Z" fill="rgb(45,30,45)" stroke="#f02030" stroke-width="1.0"/>
<path d="M304 152 306 156 310 157 323 152 323 151 316 149 306 150Z" fill="rgb(74,34,90)" stroke="#f0402a" stroke-width="1.0"/>
<path d="M439 2 435 0 432 -3 433 -7 441 -11 452 -3 447 1Z" fill="rgb(83,38,100)" stroke="#f06020" stroke-width="1.0"/>
<path d="M390 48 395 54 394 55 385 58 380 56 381 50 388 47Z" fill="rgb(22,50,28)" stroke="#e81a3a" stroke-width="1.0"/>
<path d="M360 -4 374 -3 373 6 358 4Z" fill="rgb(57,152,139)" stroke="#e01a50" stroke-width="1.0"/>
<path d="M345 42 347 43 349 48 348 48 335 50 332 48 333 43 334 42Z" fill="rgb(53,130,53)" stroke="#e01a50" stroke-width="1.0"/>
<path d="M443 81 449 80 452 81 448 89 446 90 440 87 439 86Z" fill="rgb(35,35,38)" stroke="#e01a50" stroke-width="1.0"/>
<path d="M295 144 292 142 291 139 294 137 303 137 306 139 306 142 304 144Z" fill="rgb(49,115,115)" stroke="#e01a50" stroke-width="1.0"/>
<path d="M256 108 245 109 245 110 247 115 259 115 260 111Z" fill="rgb(63,28,40)" stroke="#e81a3a" stroke-width="1.0"/>
<path d="M389 5 391 -2 399 -4 407 0 407 6 406 7 396 9Z" fill="rgb(44,104,104)" stroke="#e01a50" stroke-width="1.0"/>
<path d="M330 11 338 5 344 5 352 7 353 12 346 16 338 17 331 14Z" fill="rgb(45,51,103)" stroke="#f02030" stroke-width="1.0"/>
<path d="M270 133 267 128 272 126 278 129 275 133Z" fill="rgb(59,124,54)" stroke="#e01a50" stroke-width="1.0"/>
<path d="M291 196 294 195 304 199 304 201 301 203 295 203 291 201Z" fill="rgb(49,133,121)" stroke="#f06020" stroke-width="1.0"/>
<path d="M373 135 378 133 385 137 384 140 373 140Z" fill="rgb(55,25,55)" stroke="#f0402a" stroke-width="1.0"/>
<path d="M391 87 408 89 408 93 404 96 388 94 387 92Z" fill="rgb(28,31,31)" stroke="#f02030" stroke-width="1.0"/>
<path d="M237 146 233 145 235 136 238 134 249 138 250 142 243 146Z" fill="rgb(87,34,48)" stroke="#f0402a" stroke-width="1.0"/>
<path d="M377 102 371 99 359 101 359 102 358 105 364 109 373 109 377 107Z" fill="rgb(153,60,140)" stroke="#f06020" stroke-width="1.0"/>
<path d="M367 217 360 228 348 220 356 215Z" fill="rgb(41,41,102)" stroke="#e81a3a" stroke-width="1.0"/>
<path d="M402 46 405 51 412 53 420 48 409 42 404 43Z" fill="rgb(47,109,109)" stroke="#e81a3a" stroke-width="1.0"/>
<path d="M275 176 272 170 262 171 261 175 273 177Z" fill="rgb(48,130,119)" stroke="#f02030" stroke-width="1.0"/>
<path d="M255 131 246 128 240 130 238 134 249 138 256 134Z" fill="rgb(28,62,62)" stroke="#e81a3a" stroke-width="1.0"/>
<path d="M396 111 390 109 387 110 386 116 395 118 397 117Z" fill="rgb(53,35,53)" stroke="#f0402a" stroke-width="1.0"/>
<path d="M313 84 320 87 318 91 307 93 297 89 298 86 303 84Z" fill="rgb(53,48,121)" stroke="#e01a50" stroke-width="1.0"/>
<path d="M240 -3 243 -3 247 -8 233 -19 228 -11Z" fill="rgb(138,138,140)" stroke="#f06020" stroke-width="1.0"/>
<path d="M332 48 335 50 334 56 323 58 316 55 317 52 324 49Z" fill="rgb(102,41,112)" stroke="#f0402a" stroke-width="1.0"/>
<path d="M393 39 393 36 397 34 404 34 412 38 409 42 404 43Z" fill="rgb(61,27,38)" stroke="#f0402a" stroke-width="1.0"/>
<path d="M299 69 293 69 293 75 296 77 303 76 305 72Z" fill="rgb(31,36,72)" stroke="#f06020" stroke-width="1.0"/>
<path d="M272 121 272 122 260 121 260 116 268 116Z" fill="rgb(97,37,54)" stroke="#f02030" stroke-width="1.0"/>
<path d="M393 102 404 98 410 103 404 107 394 105Z" fill="rgb(22,50,50)" stroke="#e01a50" stroke-width="1.0"/>
<path d="M230 48 229 47 213 52 225 60 234 57Z" fill="rgb(75,157,69)" stroke="#f06020" stroke-width="1.0"/>
<path d="M244 89 237 93 238 94 249 96 252 92Z" fill="rgb(97,35,71)" stroke="#f06020" stroke-width="1.0"/>
<path d="M223 64 210 68 224 74 231 73 230 67Z" fill="rgb(56,139,56)" stroke="#f06020" stroke-width="1.0"/>
<path d="M409 166 401 165 398 161 410 158 413 162Z" fill="rgb(37,37,40)" stroke="#f02030" stroke-width="1.0"/>
<path d="M296 159 297 165 303 167 312 161 310 157 306 156Z" fill="rgb(115,45,105)" stroke="#f02030" stroke-width="1.0"/>
<path d="M256 108 259 103 270 105 271 109 260 111Z" fill="rgb(86,31,63)" stroke="#f0402a" stroke-width="1.0"/>
<path d="M273 164 281 161 289 166 286 169 274 168Z" fill="rgb(70,32,85)" stroke="#f06020" stroke-width="1.0"/>
<path d="M423 0 421 0 418 5 424 8 428 6 428 3Z" fill="rgb(31,31,33)" stroke="#e81a3a" stroke-width="1.0"/>
<path d="M247 115 244 119 235 119 228 115 227 113 245 110Z" fill="rgb(125,86,52)" stroke="#e01a50" stroke-width="1.0"/>
<path d="M390 187 397 193 404 192 407 191 406 187 400 185 391 186 390 186Z" fill="rgb(44,60,30)" stroke="#f02030" stroke-width="1.0"/>
<path d="M331 105 336 107 343 104 343 102 338 100 332 101Z" fill="rgb(146,57,133)" stroke="#e01a50" stroke-width="1.0"/>
<path d="M276 191 280 186 272 181 263 183 262 185 265 190Z" fill="rgb(91,62,38)" stroke="#f0402a" stroke-width="1.0"/>
<path d="M297 12 290 14 283 11 282 3 298 -1 299 0 302 3Z" fill="rgb(137,137,52)" stroke="#f06020" stroke-width="1.0"/>
<path d="M309 124 299 126 298 128 306 133 311 131 314 127Z" fill="rgb(107,39,78)" stroke="#f02030" stroke-width="1.0"/>
<path d="M298 -1 296 -8 294 -9 282 -8 276 -7 276 0 282 3Z" fill="rgb(23,25,25)" stroke="#e81a3a" stroke-width="1.0"/>
<path d="M367 217 360 228 366 239 379 223 376 219 370 217 367 217Z" fill="rgb(117,117,44)" stroke="#f06020" stroke-width="1.0"/>
<path d="M246 101 244 107 234 105 234 99Z" fill="rgb(96,96,37)" stroke="#f0402a" stroke-width="1.0"/>
<path d="M243 65 243 71 235 74 231 73 230 67 241 64Z" fill="rgb(62,57,142)" stroke="#f0402a" stroke-width="1.0"/>
<path d="M349 181 349 179 338 178 336 183 343 185Z" fill="rgb(45,120,110)" stroke="#f02030" stroke-width="1.0"/>
<path d="M290 65 297 61 294 57 281 59 281 62Z" fill="rgb(41,96,96)" stroke="#e81a3a" stroke-width="1.0"/>
<path d="M281 199 284 204 291 201 291 196 284 196Z" fill="rgb(80,36,97)" stroke="#e81a3a" stroke-width="1.0"/>
<path d="M388 47 381 50 375 48 373 46 377 41 387 43Z" fill="rgb(59,139,139)" stroke="#e01a50" stroke-width="1.0"/>
<path d="M428 91 420 96 408 93 408 89 409 87 425 88 428 91Z" fill="rgb(32,70,70)" stroke="#e81a3a" stroke-width="1.0"/>
<path d="M291 186 305 181 302 176 288 176 286 185Z" fill="rgb(82,32,45)" stroke="#f06020" stroke-width="1.0"/>
<path d="M272 121 272 122 273 123 285 124 288 122 284 118 279 118Z" fill="rgb(58,53,132)" stroke="#e81a3a" stroke-width="1.0"/>
<path d="M388 71 402 68 407 71 408 74 403 79 391 80 386 73Z" fill="rgb(25,31,55)" stroke="#e81a3a" stroke-width="1.0"/>
<path d="M244 89 252 92 258 89 257 85 248 84 244 87Z" fill="rgb(53,48,121)" stroke="#f06020" stroke-width="1.0"/>
<path d="M335 31 336 35 345 36 351 33 349 31 337 30Z" fill="rgb(59,124,54)" stroke="#e81a3a" stroke-width="1.0"/>
<path d="M444 193 445 193 447 186 436 183 429 189 430 190Z" fill="rgb(50,69,35)" stroke="#f0402a" stroke-width="1.0"/>
<path d="M302 43 303 46 302 48 290 51 284 49 283 48 296 42Z" fill="rgb(45,106,106)" stroke="#e81a3a" stroke-width="1.0"/>
<path d="M387 125 386 128 393 133 397 134 402 126 395 123Z" fill="rgb(49,32,49)" stroke="#e81a3a" stroke-width="1.0"/>
<path d="M313 84 320 87 330 84 327 78 319 76 313 78Z" fill="rgb(106,41,97)" stroke="#e81a3a" stroke-width="1.0"/>
<path d="M418 184 423 180 417 176 409 176 407 178 412 184Z" fill="rgb(26,32,57)" stroke="#f0402a" stroke-width="1.0"/>
<path d="M391 87 408 89 409 87 409 84 403 79 391 80 389 83Z" fill="rgb(67,30,67)" stroke="#f0402a" stroke-width="1.0"/>
<path d="M432 111 442 106 442 106 435 101 421 101 418 104 421 110Z" fill="rgb(54,36,54)" stroke="#e01a50" stroke-width="1.0"/>
<path d="M261 37 254 35 254 33 260 29 266 29 269 35Z" fill="rgb(88,60,37)" stroke="#e81a3a" stroke-width="1.0"/>
<path d="M432 196 426 199 421 195 429 193Z" fill="rgb(51,70,35)" stroke="#f02030" stroke-width="1.0"/>
<path d="M313 84 313 78 305 77 303 84Z" fill="rgb(55,55,134)" stroke="#e01a50" stroke-width="1.0"/>
<path d="M425 88 426 84 421 81 409 84 409 87Z" fill="rgb(33,33,35)" stroke="#f06020" stroke-width="1.0"/>
<path d="M355 132 361 136 368 133 367 130 359 129Z" fill="rgb(100,100,39)" stroke="#e01a50" stroke-width="1.0"/>
<path d="M284 196 291 196 294 195 296 191 291 186 286 185 280 186 276 191 276 192Z" fill="rgb(53,124,124)" stroke="#f02030" stroke-width="1.0"/>
<path d="M419 132 431 136 432 138 426 143 416 141 415 135 418 132Z" fill="rgb(28,63,63)" stroke="#f06020" stroke-width="1.0"/>
<path d="M279 118 284 118 286 115 279 110 275 111 273 113Z" fill="rgb(43,50,100)" stroke="#e81a3a" stroke-width="1.0"/>
<path d="M293 206 299 209 302 209 301 203 295 203Z" fill="rgb(118,80,49)" stroke="#f06020" stroke-width="1.0"/>
<path d="M352 176 349 179 338 178 332 173 340 169 351 171Z" fill="rgb(149,149,152)" stroke="#e01a50" stroke-width="1.0"/>
<path d="M347 43 359 40 362 41 358 47 349 48Z" fill="rgb(49,121,49)" stroke="#f02030" stroke-width="1.0"/>
<path d="M332 37 334 42 333 43 320 41 319 41 325 36Z" fill="rgb(44,50,101)" stroke="#e81a3a" stroke-width="1.0"/>
<path d="M406 111 413 113 418 112 421 110 418 104 410 103 404 107 404 109Z" fill="rgb(50,123,50)" stroke="#f02030" stroke-width="1.0"/>
<path d="M345 36 351 33 358 35 359 40 347 43 345 42Z" fill="rgb(51,51,125)" stroke="#e81a3a" stroke-width="1.0"/>
<path d="M401 -9 399 -4 391 -2 379 -5 379 -7 396 -17Z" fill="rgb(60,40,60)" stroke="#f02030" stroke-width="1.0"/>
<path d="M238 165 237 157 232 155 228 156 224 160 223 167 226 168Z" fill="rgb(43,49,99)" stroke="#f02030" stroke-width="1.0"/>
<path d="M423 48 427 42 437 40 446 45 444 48 430 51Z" fill="rgb(47,31,47)" stroke="#f02030" stroke-width="1.0"/>
<path d="M233 90 238 86 236 84 232 83 229 89Z" fill="rgb(111,111,42)" stroke="#f0402a" stroke-width="1.0"/>
<path d="M380 118 375 116 373 109 377 107 387 110 386 116Z" fill="rgb(64,29,41)" stroke="#f0402a" stroke-width="1.0"/>
<path d="M385 58 385 62 383 64 373 65 367 61 366 60 372 56 380 56Z" fill="rgb(157,157,160)" stroke="#e01a50" stroke-width="1.0"/>
<path d="M277 215 284 212 283 209 276 209 274 212Z" fill="rgb(122,83,51)" stroke="#f06020" stroke-width="1.0"/>
<path d="M413 199 420 203 426 200 426 199 421 195 418 195Z" fill="rgb(55,25,35)" stroke="#f02030" stroke-width="1.0"/>
<path d="M335 203 336 198 334 196 327 196 323 201 330 204Z" fill="rgb(48,114,114)" stroke="#f06020" stroke-width="1.0"/>
<path d="M304 144 306 142 316 144 316 149 306 150Z" fill="rgb(104,38,77)" stroke="#e81a3a" stroke-width="1.0"/>
<path d="M316 144 316 149 323 151 329 146 323 141 320 141Z" fill="rgb(55,115,50)" stroke="#f0402a" stroke-width="1.0"/>
<path d="M378 210 379 212 386 215 388 215 393 211 389 206 379 207Z" fill="rgb(59,39,59)" stroke="#f02030" stroke-width="1.0"/>
<path d="M278 129 272 126 273 123 285 124 284 127Z" fill="rgb(76,158,69)" stroke="#e81a3a" stroke-width="1.0"/>
<path d="M333 43 320 41 319 42 324 49 332 48Z" fill="rgb(54,144,132)" stroke="#e01a50" stroke-width="1.0"/>
<path d="M386 215 376 219 370 217 379 212Z" fill="rgb(47,116,47)" stroke="#f02030" stroke-width="1.0"/>
<path d="M273 201 281 199 284 196 276 192 269 199Z" fill="rgb(39,45,91)" stroke="#f06020" stroke-width="1.0"/>
<path d="M330 11 338 5 329 -1 321 0 320 1 323 9Z" fill="rgb(48,48,118)" stroke="#e01a50" stroke-width="1.0"/>
<path d="M245 109 245 110 227 113 224 109 234 105 244 107Z" fill="rgb(31,69,69)" stroke="#e81a3a" stroke-width="1.0"/>
<path d="M439 156 447 157 451 156 452 155 447 149 441 149 437 153Z" fill="rgb(21,23,23)" stroke="#f06020" stroke-width="1.0"/>
<path d="M366 169 357 168 351 171 352 176 363 178 366 177Z" fill="rgb(54,49,122)" stroke="#f06020" stroke-width="1.0"/>
<path d="M239 31 241 39 247 40 254 35 254 33 245 30Z" fill="rgb(127,49,116)" stroke="#f06020" stroke-width="1.0"/>
<path d="M341 160 340 169 351 171 357 168 354 161Z" fill="rgb(121,121,123)" stroke="#e81a3a" stroke-width="1.0"/>
<path d="M241 64 230 67 223 64 225 60 234 57 239 59Z" fill="rgb(40,46,93)" stroke="#e01a50" stroke-width="1.0"/>
<path d="M337 72 327 78 330 84 337 85 342 84 345 75 342 73 339 72Z" fill="rgb(87,32,64)" stroke="#e01a50" stroke-width="1.0"/>
<path d="M421 0 416 -2 407 0 407 6 418 5Z" fill="rgb(37,51,26)" stroke="#f0402a" stroke-width="1.0"/>
<path d="M373 65 369 71 374 74 386 73 388 71 383 64Z" fill="rgb(74,154,67)" stroke="#e01a50" stroke-width="1.0"/>
<path d="M324 172 306 172 303 167 312 161 322 164Z" fill="rgb(111,111,42)" stroke="#e01a50" stroke-width="1.0"/>
<path d="M365 208 375 204 379 207 378 210 368 211Z" fill="rgb(69,31,44)" stroke="#f0402a" stroke-width="1.0"/>
<path d="M427 74 435 69 445 71 435 77Z" fill="rgb(28,31,31)" stroke="#f0402a" stroke-width="1.0"/>
<path d="M273 44 265 46 260 44 261 37 269 35 271 35Z" fill="rgb(141,55,129)" stroke="#e81a3a" stroke-width="1.0"/>
<path d="M429 125 432 126 436 133 431 136 419 132Z" fill="rgb(26,29,29)" stroke="#e81a3a" stroke-width="1.0"/>
<path d="M370 199 374 200 375 204 365 208 361 207 360 202Z" fill="rgb(46,46,114)" stroke="#f06020" stroke-width="1.0"/>
<path d="M256 108 245 109 244 107 246 101 250 99 257 100 259 103Z" fill="rgb(41,47,94)" stroke="#f06020" stroke-width="1.0"/>
<path d="M334 196 335 194 342 193 345 194 346 197 336 198Z" fill="rgb(42,42,104)" stroke="#e01a50" stroke-width="1.0"/>
<path d="M323 134 327 138 323 141 320 141 315 138 316 135Z" fill="rgb(127,127,48)" stroke="#f06020" stroke-width="1.0"/>
<path d="M385 137 393 133 397 134 401 136 400 142 394 144 387 144 384 140Z" fill="rgb(57,26,57)" stroke="#f02030" stroke-width="1.0"/>
<path d="M327 192 327 189 327 188 334 190 333 192Z" fill="rgb(37,42,84)" stroke="#e81a3a" stroke-width="1.0"/>
<path d="M226 145 221 140 224 135 235 136 233 145Z" fill="rgb(135,135,137)" stroke="#f06020" stroke-width="1.0"/>
<path d="M337 189 334 184 329 184 327 188 334 190Z" fill="rgb(116,45,64)" stroke="#f02030" stroke-width="1.0"/>
<path d="M383 64 385 62 401 63 402 68 388 71Z" fill="rgb(61,27,38)" stroke="#e01a50" stroke-width="1.0"/>
<path d="M417 60 416 67 422 69 426 67 428 62 425 59Z" fill="rgb(25,28,28)" stroke="#f06020" stroke-width="1.0"/>
</g>
<rect x="236.5" y="7" width="199" height="199.5" fill="#000" stroke="none" stroke-width="1" filter="url(#grain)" opacity="0.35"/>
</g>
<text x="29.7" y="30.6" font-size="26.5" text-anchor="start" fill="#fff">(a)</text>
<text x="165.5" y="23.4" font-size="13.5" text-anchor="start" fill="#fff">t = 3 min</text>
<text x="40.5" y="104.4" font-size="16" text-anchor="middle" fill="#fff" transform="rotate(-90 40.5 104.4)">Anteroposterior</text>
<rect x="171" y="196.6" width="53" height="4.1" fill="#fff" stroke="none" stroke-width="1"/>
<text x="197" y="191" font-size="12.5" text-anchor="middle" fill="#fff">50 <tspan font-family="Liberation Serif" font-style="italic">μm</tspan></text>
<text x="238.8" y="30.6" font-size="26.5" text-anchor="start" fill="#fff">(b)</text>
<text x="372" y="23.4" font-size="13.5" text-anchor="start" fill="#fff">t = 60 min</text>
<rect x="242" y="196.6" width="52" height="4.1" fill="#fff" stroke="none" stroke-width="1"/>
<text x="268" y="191" font-size="12.5" text-anchor="middle" fill="#fff">50 <tspan font-family="Liberation Serif" font-style="italic">μm</tspan></text>
<rect x="313" y="9.5" width="55" height="194" rx="8" fill="none" stroke="#fff" stroke-width="2" stroke-dasharray="4 3"/>
<path d="M483.2 161 L486.2 156.5 L489.6 140.4 L492.1 148.5 L495.1 146.6 L498.1 145.6 L501.8 132.2 L505.5 144.8 L508.8 146.9 L512.2 141.6 L514.9 120.4 L518.2 119.6 L521.5 119.1 L525.3 128.2 L528.3 135 L531.3 131.5 L534.6 121.5 L537.9 129.2 L540.5 138.8 L544.3 132.5 L547.2 120.5 L550.2 122.5 L553.6 118.9 L556.9 127.6 L559.9 112.6 L563.2 113.4 L566.6 101.9 L569.6 107.2 L572.6 100.5 L575.5 100.4 L578.5 103.6 L582.4 112 L585.7 119.7 L589.1 104 L592.6 98.7 L595.8 93.4 L598.8 95.2 L601.8 100.5 L605.5 96.5 L608.5 105.2 L610.7 74.9 L614.9 85.1 L618.2 55.4 L621.2 45.4 L624.1 58 L627.9 52 L630.8 65.9 L633.8 50.1 L637.2 48.5 L640.5 40.4 L643.5 26 L646.8 38.9 L650.2 43 L653.2 56.8 L656.6 46.5 L659.6 29.8 L662.8 38.5 L666.1 58.2 L669.1 25.2 L672.5 26.3 L672.5 38.4 L669.1 42.7 L666.1 80.3 L662.8 48.9 L659.6 49.3 L656.6 82 L653.2 70.7 L650.2 71.7 L646.8 75.3 L643.5 46 L640.5 56.9 L637.2 69.3 L633.8 82.6 L630.8 98.6 L627.9 76.8 L624.1 94.6 L621.2 66.1 L618.2 80.4 L614.9 110 L610.7 90.5 L608.5 113.7 L605.5 105.3 L601.8 116.2 L598.8 119.8 L595.8 120.8 L592.6 124.7 L589.1 113.4 L585.7 136.2 L582.4 131.1 L578.5 125.3 L575.5 128.6 L572.6 130.3 L569.6 125 L566.6 116.3 L563.2 123.9 L559.9 128.5 L556.9 146.1 L553.6 146.2 L550.2 135.4 L547.2 138.8 L544.3 145.9 L540.5 163.6 L537.9 141.1 L534.6 157.8 L531.3 165.6 L528.3 162.8 L525.3 140.6 L521.5 146.3 L518.2 133.4 L514.9 141.1 L512.2 156.4 L508.8 161.4 L505.5 170.7 L501.8 151.9 L498.1 158.3 L495.1 159.2 L492.1 158 L489.6 177.5 L486.2 173.6 L483.2 186.8Z" stroke="#4d4d4d" fill="#c6c6c6" stroke-width="0.5"/>
<line x1="610.7" y1="103.3" x2="675" y2="75.8" stroke="#EDB120" stroke-width="1.3" stroke-dasharray="5 2 1.5 2"/>
<line x1="483" y1="157.4" x2="610.7" y2="78.8" stroke="#D95319" stroke-width="1.3" stroke-dasharray="5 2 1.5 2"/>
<path d="M483.2 172.3 L486.2 163.1 L489.6 158.9 L492.1 152.7 L495.1 150 L498.1 148.8 L501.8 145.5 L505.5 158.6 L508.8 150 L512.2 147.7 L514.9 126.9 L518.2 128.8 L521.5 130.3 L525.3 135.1 L528.3 143.3 L531.3 151.9 L534.6 140.3 L537.9 137.3 L540.5 152.2 L544.3 140.3 L547.2 129.1 L550.2 128.8 L553.6 128.4 L556.9 139.6 L559.9 119 L563.2 118.7 L566.6 112.5 L569.6 117.2 L572.6 115 L575.5 114.5 L578.5 111.6 L582.4 119.4 L585.7 126.9 L589.1 107.5 L592.6 119 L595.8 107.5 L598.8 110 L601.8 112.7 L605.5 100.1 L608.5 109.8 L610.7 79.2 L614.9 90.1 L618.2 69.3 L621.2 59.9 L624.1 77.3 L627.9 66.9 L630.8 83.3 L633.8 63.6 L637.2 61.4 L640.5 51.7 L643.5 31.1 L646.8 55 L650.2 60.6 L653.2 60.6 L656.6 65.8 L659.6 39.8 L662.8 44 L666.1 61.8 L669.1 38.3 L672.5 35" stroke="#3fa3ef" fill="none" stroke-width="1"/>
<circle cx="483.2" cy="172.3" r="3.4" fill="#fff" stroke="#1e90f0" stroke-width="1.1"/>
<circle cx="486.2" cy="163.1" r="3.4" fill="#fff" stroke="#1e90f0" stroke-width="1.1"/>
<circle cx="489.6" cy="158.9" r="3.4" fill="#fff" stroke="#1e90f0" stroke-width="1.1"/>
<circle cx="492.1" cy="152.7" r="3.4" fill="#fff" stroke="#1e90f0" stroke-width="1.1"/>
<circle cx="495.1" cy="150" r="3.4" fill="#fff" stroke="#1e90f0" stroke-width="1.1"/>
<circle cx="498.1" cy="148.8" r="3.4" fill="#fff" stroke="#1e90f0" stroke-width="1.1"/>
<circle cx="501.8" cy="145.5" r="3.4" fill="#fff" stroke="#1e90f0" stroke-width="1.1"/>
<circle cx="505.5" cy="158.6" r="3.4" fill="#fff" stroke="#1e90f0" stroke-width="1.1"/>
<circle cx="508.8" cy="150" r="3.4" fill="#fff" stroke="#1e90f0" stroke-width="1.1"/>
<circle cx="512.2" cy="147.7" r="3.4" fill="#fff" stroke="#1e90f0" stroke-width="1.1"/>
<circle cx="514.9" cy="126.9" r="3.4" fill="#fff" stroke="#1e90f0" stroke-width="1.1"/>
<circle cx="518.2" cy="128.8" r="3.4" fill="#fff" stroke="#1e90f0" stroke-width="1.1"/>
<circle cx="521.5" cy="130.3" r="3.4" fill="#fff" stroke="#1e90f0" stroke-width="1.1"/>
<circle cx="525.3" cy="135.1" r="3.4" fill="#fff" stroke="#1e90f0" stroke-width="1.1"/>
<circle cx="528.3" cy="143.3" r="3.4" fill="#fff" stroke="#1e90f0" stroke-width="1.1"/>
<circle cx="531.3" cy="151.9" r="3.4" fill="#fff" stroke="#1e90f0" stroke-width="1.1"/>
<circle cx="534.6" cy="140.3" r="3.4" fill="#fff" stroke="#1e90f0" stroke-width="1.1"/>
<circle cx="537.9" cy="137.3" r="3.4" fill="#fff" stroke="#1e90f0" stroke-width="1.1"/>
<circle cx="540.5" cy="152.2" r="3.4" fill="#fff" stroke="#1e90f0" stroke-width="1.1"/>
<circle cx="544.3" cy="140.3" r="3.4" fill="#fff" stroke="#1e90f0" stroke-width="1.1"/>
<circle cx="547.2" cy="129.1" r="3.4" fill="#fff" stroke="#1e90f0" stroke-width="1.1"/>
<circle cx="550.2" cy="128.8" r="3.4" fill="#fff" stroke="#1e90f0" stroke-width="1.1"/>
<circle cx="553.6" cy="128.4" r="3.4" fill="#fff" stroke="#1e90f0" stroke-width="1.1"/>
<circle cx="556.9" cy="139.6" r="3.4" fill="#fff" stroke="#1e90f0" stroke-width="1.1"/>
<circle cx="559.9" cy="119" r="3.4" fill="#fff" stroke="#1e90f0" stroke-width="1.1"/>
<circle cx="563.2" cy="118.7" r="3.4" fill="#fff" stroke="#1e90f0" stroke-width="1.1"/>
<circle cx="566.6" cy="112.5" r="3.4" fill="#fff" stroke="#1e90f0" stroke-width="1.1"/>
<circle cx="569.6" cy="117.2" r="3.4" fill="#fff" stroke="#1e90f0" stroke-width="1.1"/>
<circle cx="572.6" cy="115" r="3.4" fill="#fff" stroke="#1e90f0" stroke-width="1.1"/>
<circle cx="575.5" cy="114.5" r="3.4" fill="#fff" stroke="#1e90f0" stroke-width="1.1"/>
<circle cx="578.5" cy="111.6" r="3.4" fill="#fff" stroke="#1e90f0" stroke-width="1.1"/>
<circle cx="582.4" cy="119.4" r="3.4" fill="#fff" stroke="#1e90f0" stroke-width="1.1"/>
<circle cx="585.7" cy="126.9" r="3.4" fill="#fff" stroke="#1e90f0" stroke-width="1.1"/>
<circle cx="589.1" cy="107.5" r="3.4" fill="#fff" stroke="#1e90f0" stroke-width="1.1"/>
<circle cx="592.6" cy="119" r="3.4" fill="#fff" stroke="#1e90f0" stroke-width="1.1"/>
<circle cx="595.8" cy="107.5" r="3.4" fill="#fff" stroke="#1e90f0" stroke-width="1.1"/>
<circle cx="598.8" cy="110" r="3.4" fill="#fff" stroke="#1e90f0" stroke-width="1.1"/>
<circle cx="601.8" cy="112.7" r="3.4" fill="#fff" stroke="#1e90f0" stroke-width="1.1"/>
<circle cx="605.5" cy="100.1" r="3.4" fill="#fff" stroke="#1e90f0" stroke-width="1.1"/>
<circle cx="608.5" cy="109.8" r="3.4" fill="#fff" stroke="#1e90f0" stroke-width="1.1"/>
<circle cx="610.7" cy="79.2" r="3.4" fill="#fff" stroke="#1e90f0" stroke-width="1.1"/>
<circle cx="614.9" cy="90.1" r="3.4" fill="#fff" stroke="#1e90f0" stroke-width="1.1"/>
<circle cx="618.2" cy="69.3" r="3.4" fill="#fff" stroke="#1e90f0" stroke-width="1.1"/>
<circle cx="621.2" cy="59.9" r="3.4" fill="#fff" stroke="#1e90f0" stroke-width="1.1"/>
<circle cx="624.1" cy="77.3" r="3.4" fill="#fff" stroke="#1e90f0" stroke-width="1.1"/>
<circle cx="627.9" cy="66.9" r="3.4" fill="#fff" stroke="#1e90f0" stroke-width="1.1"/>
<circle cx="630.8" cy="83.3" r="3.4" fill="#fff" stroke="#1e90f0" stroke-width="1.1"/>
<circle cx="633.8" cy="63.6" r="3.4" fill="#fff" stroke="#1e90f0" stroke-width="1.1"/>
<circle cx="637.2" cy="61.4" r="3.4" fill="#fff" stroke="#1e90f0" stroke-width="1.1"/>
<circle cx="640.5" cy="51.7" r="3.4" fill="#fff" stroke="#1e90f0" stroke-width="1.1"/>
<circle cx="643.5" cy="31.1" r="3.4" fill="#fff" stroke="#1e90f0" stroke-width="1.1"/>
<circle cx="646.8" cy="55" r="3.4" fill="#fff" stroke="#1e90f0" stroke-width="1.1"/>
<circle cx="650.2" cy="60.6" r="3.4" fill="#fff" stroke="#1e90f0" stroke-width="1.1"/>
<circle cx="653.2" cy="60.6" r="3.4" fill="#fff" stroke="#1e90f0" stroke-width="1.1"/>
<circle cx="656.6" cy="65.8" r="3.4" fill="#fff" stroke="#1e90f0" stroke-width="1.1"/>
<circle cx="659.6" cy="39.8" r="3.4" fill="#fff" stroke="#1e90f0" stroke-width="1.1"/>
<circle cx="662.8" cy="44" r="3.4" fill="#fff" stroke="#1e90f0" stroke-width="1.1"/>
<circle cx="666.1" cy="61.8" r="3.4" fill="#fff" stroke="#1e90f0" stroke-width="1.1"/>
<circle cx="669.1" cy="38.3" r="3.4" fill="#fff" stroke="#1e90f0" stroke-width="1.1"/>
<circle cx="672.5" cy="35" r="3.4" fill="#fff" stroke="#1e90f0" stroke-width="1.1"/>
<line x1="483" y1="158.2" x2="610.7" y2="103.3" stroke="#EDB120" stroke-width="4.8"/>
<line x1="610.7" y1="78.8" x2="672.5" y2="41.3" stroke="#D95319" stroke-width="4.8"/>
<line x1="610.8" y1="9.5" x2="610.8" y2="185.5" stroke="#0a5c99" stroke-width="2" stroke-dasharray="3 2"/>
<rect x="480" y="9.5" width="195" height="176" fill="none" stroke="#262626" stroke-width="1"/>
<line x1="480" y1="185.5" x2="480" y2="182.5" stroke="#262626" stroke-width="1"/>
<line x1="480" y1="9.5" x2="480" y2="12.5" stroke="#262626" stroke-width="1"/>
<text x="480" y="203.5" font-size="13.5" text-anchor="middle" fill="#262626">0</text>
<line x1="534.2" y1="185.5" x2="534.2" y2="182.5" stroke="#262626" stroke-width="1"/>
<line x1="534.2" y1="9.5" x2="534.2" y2="12.5" stroke="#262626" stroke-width="1"/>
<text x="534.2" y="203.5" font-size="13.5" text-anchor="middle" fill="#262626">50</text>
<line x1="588.3" y1="185.5" x2="588.3" y2="182.5" stroke="#262626" stroke-width="1"/>
<line x1="588.3" y1="9.5" x2="588.3" y2="12.5" stroke="#262626" stroke-width="1"/>
<text x="588.3" y="203.5" font-size="13.5" text-anchor="middle" fill="#262626">100</text>
<line x1="642.5" y1="185.5" x2="642.5" y2="182.5" stroke="#262626" stroke-width="1"/>
<line x1="642.5" y1="9.5" x2="642.5" y2="12.5" stroke="#262626" stroke-width="1"/>
<text x="642.5" y="203.5" font-size="13.5" text-anchor="middle" fill="#262626">150</text>
<line x1="480" y1="173.5" x2="483" y2="173.5" stroke="#262626" stroke-width="1"/>
<line x1="675" y1="173.5" x2="672" y2="173.5" stroke="#262626" stroke-width="1"/>
<text x="475.9" y="178.6" font-size="13.5" text-anchor="end" fill="#262626">1.2</text>
<line x1="480" y1="110.4" x2="483" y2="110.4" stroke="#262626" stroke-width="1"/>
<line x1="675" y1="110.4" x2="672" y2="110.4" stroke="#262626" stroke-width="1"/>
<text x="475.9" y="115.5" font-size="13.5" text-anchor="end" fill="#262626">1.3</text>
<line x1="480" y1="47.3" x2="483" y2="47.3" stroke="#262626" stroke-width="1"/>
<line x1="675" y1="47.3" x2="672" y2="47.3" stroke="#262626" stroke-width="1"/>
<text x="475.9" y="52.4" font-size="13.5" text-anchor="end" fill="#262626">1.4</text>
<text x="577.6" y="219.1" font-size="15.2" text-anchor="middle" fill="#262626">t (min)</text>
<text x="452.4" y="97" font-size="14.5" text-anchor="middle" fill="#262626" transform="rotate(-90 452.4 97)">SI(t)</text>
<text x="480.5" y="30.5" font-size="26.5" text-anchor="start" fill="#000">(c)</text>
<rect x="521.6" y="20.9" width="75.4" height="46.9" fill="#fff" stroke="none" stroke-width="1"/>
<path d="M521.6 57.7 L524.6 57.7 L526.9 58.9 L530.6 49 L534.4 55.2 L539.7 51.5 L544.2 47.8 L548.7 44.1 L553.3 47.8 L557.8 46.5 L562.3 35.4 L566.8 39.1 L571.4 24.3 L575.9 26.8 L580.4 36.7 L583.4 42.8 L586.4 45.3 L589.5 47.8 L594 49 L597 52.7" stroke="#0072BD" fill="none" stroke-width="1.2" stroke-dasharray="4 1.2 1 1.2"/>
<rect x="521.6" y="20.9" width="75.4" height="46.9" fill="none" stroke="#555" stroke-width="0.7"/>
<line x1="536.7" y1="67.8" x2="536.7" y2="65.8" stroke="#555" stroke-width="0.7"/>
<line x1="536.7" y1="20.9" x2="536.7" y2="22.9" stroke="#555" stroke-width="0.7"/>
<text x="536.7" y="76.8" font-size="7.5" text-anchor="middle" fill="#262626">100</text>
<line x1="566.8" y1="67.8" x2="566.8" y2="65.8" stroke="#555" stroke-width="0.7"/>
<line x1="566.8" y1="20.9" x2="566.8" y2="22.9" stroke="#555" stroke-width="0.7"/>
<text x="566.8" y="76.8" font-size="7.5" text-anchor="middle" fill="#262626">120</text>
<line x1="597" y1="67.8" x2="597" y2="65.8" stroke="#555" stroke-width="0.7"/>
<line x1="597" y1="20.9" x2="597" y2="22.9" stroke="#555" stroke-width="0.7"/>
<text x="597" y="76.8" font-size="7.5" text-anchor="middle" fill="#262626">140</text>
<line x1="521.6" y1="65.1" x2="523.6" y2="65.1" stroke="#555" stroke-width="0.7"/>
<line x1="597" y1="65.1" x2="595" y2="65.1" stroke="#555" stroke-width="0.7"/>
<text x="518.6" y="67.6" font-size="7" text-anchor="end" fill="#262626">-2</text>
<line x1="521.6" y1="52.7" x2="523.6" y2="52.7" stroke="#555" stroke-width="0.7"/>
<line x1="597" y1="52.7" x2="595" y2="52.7" stroke="#555" stroke-width="0.7"/>
<text x="518.6" y="55.2" font-size="7" text-anchor="end" fill="#262626">0</text>
<line x1="521.6" y1="40.4" x2="523.6" y2="40.4" stroke="#555" stroke-width="0.7"/>
<line x1="597" y1="40.4" x2="595" y2="40.4" stroke="#555" stroke-width="0.7"/>
<text x="518.6" y="42.9" font-size="7" text-anchor="end" fill="#262626">2</text>
<line x1="521.6" y1="28" x2="523.6" y2="28" stroke="#555" stroke-width="0.7"/>
<line x1="597" y1="28" x2="595" y2="28" stroke="#555" stroke-width="0.7"/>
<text x="518.6" y="30.5" font-size="7" text-anchor="end" fill="#262626">4</text>
<text x="559" y="87" font-size="7.5" text-anchor="middle" fill="#262626">t (min)</text>
<text x="512" y="44" font-size="6.5" text-anchor="middle" fill="#262626" transform="rotate(-90 512 44)">dSI/dt</text>
<text x="522" y="18" font-size="6.5" text-anchor="start" fill="#262626">×10<tspan dy="-2.5" font-size="5">-3</tspan></text>
<linearGradient id="gdeg" x1="0" y1="0" x2="0" y2="1"><stop offset="0" stop-color="#4f6d96"/><stop offset="0.15" stop-color="#5f8fc0"/><stop offset="0.3" stop-color="#8ab8dc"/><stop offset="0.4" stop-color="#c8dff0"/><stop offset="0.5" stop-color="#f7f4f4"/><stop offset="0.6" stop-color="#f5d5c8"/><stop offset="0.7" stop-color="#eaa898"/><stop offset="0.8" stop-color="#d88080"/><stop offset="0.9" stop-color="#c06070"/><stop offset="1" stop-color="#9a5068"/></linearGradient>
<rect x="47.7" y="239.8" width="9.8" height="205.2" fill="url(#gdeg)" stroke="none" stroke-width="1"/>
<text x="45" y="247.8" font-size="12" text-anchor="end" fill="#262626">90º</text>
<text x="45" y="452.6" font-size="12" text-anchor="end" fill="#262626">0º</text>
<text x="33.9" y="355.6" font-size="14.5" text-anchor="middle" fill="#262626" transform="rotate(-90 33.9 355.6)" textLength="69">Degree |<tspan font-family="Liberation Serif" font-style="italic">θ</tspan>|</text>
<text x="110.4" y="228.9" font-size="15.5" text-anchor="middle" fill="#000">Mediolateral</text>
<clipPath id="cd"><rect x="61.7" y="239.8" width="208.5" height="205.7"/></clipPath>
<g clip-path="url(#cd)">
<rect x="61.7" y="239.8" width="208.5" height="205.7" fill="#efefef" stroke="none" stroke-width="1"/>
<path d="M229 254 222 247 208 247 209 258 224 259ZM102 241 90 245 85 243 82 239 90 229 103 228 104 239ZM69 324 69 317 58 311 50 316 51 329 54 331ZM117 287 110 289 108 292 115 299 126 294 125 290ZM191 278 185 269 194 262 203 263 206 266 203 275 193 278ZM119 240 120 233 111 227 107 227 103 228 104 239ZM56 266 66 264 70 256 69 256 47 253 35 258 51 266ZM240 375 252 374 254 365 243 360 233 366ZM59 293 54 300 59 306 84 305 88 299 87 295 68 291ZM76 396 94 395 95 391 85 385 77 385 72 388ZM180 327 169 321 156 325 162 336 178 332ZM255 399 264 403 279 396 277 391 268 389 257 393ZM224 270 229 265 244 266 246 275 238 277 228 275ZM281 280 283 281 339 273 278 264 273 267ZM234 455 225 451 226 447 230 445 243 447 244 453ZM135 443 139 451 155 449 149 438ZM139 354 144 354 151 360 147 364 138 362ZM115 441 126 435 126 432 123 431 107 433 105 437 108 440ZM245 433 251 437 256 436 261 432 259 428 250 428ZM261 342 268 337 279 337 283 347 267 349ZM243 250 242 246 226 244 222 247 229 254 237 254ZM164 371 157 378 160 383 178 381 179 373ZM82 460 74 459 75 451 86 449 91 454 89 458ZM120 336 133 331 134 326 124 321 107 324 105 334ZM120 347 115 354 99 352 106 344ZM131 251 132 251 137 246 131 241 120 241 118 247ZM140 306 140 298 146 294 160 294 165 297 165 303 157 309 148 310ZM172 258 164 250 171 245 187 252 186 256ZM108 440 105 437 91 436 86 439 89 444 103 445ZM230 463 229 463 240 543 252 460ZM226 447 230 445 231 438 223 436 213 442ZM238 395 248 399 255 399 257 393 247 387 242 387ZM119 359 115 354 99 352 95 353 102 363 114 363ZM190 307 203 305 207 311 192 314ZM206 293 195 291 199 285 209 285 212 290ZM133 406 142 410 151 408 154 401 145 395 132 400ZM246 444 248 443 251 437 245 433 239 433 236 437ZM190 307 192 314 189 317 177 314 179 307 184 305ZM254 291 257 301 274 301 277 294 263 288ZM172 408 160 412 151 408 154 401 164 399 171 403ZM251 342 250 333 262 331 268 337 261 342ZM244 453 243 447 246 444 248 443 263 447 264 447 254 458 254 458ZM235 347 241 343 247 343 252 353 243 358 235 354ZM256 436 264 440 271 435 261 432ZM206 351 217 354 224 345 220 340 216 339 209 340ZM136 455 137 459 150 461 159 453 158 450 155 449 139 451ZM131 285 125 290 117 287 117 282 121 281ZM239 287 247 289 251 279 250 276 246 275 238 277 236 283ZM138 430 143 422 160 423 162 433 149 437ZM109 253 93 252 88 258 89 261 104 264 110 262 112 256ZM185 386 197 385 207 393 204 398 191 401 184 398 181 392ZM257 320 265 325 278 324 279 319 277 312 259 314ZM109 253 112 249 118 247 131 251 126 256 112 256ZM238 395 248 399 241 408 227 404 229 396ZM230 463 252 460 254 458 244 453 234 455ZM186 425 196 422 205 423 210 427 201 438 196 438 184 433ZM113 412 90 415 86 410 97 399 110 401ZM235 319 234 315 250 308 259 314 257 320 246 323ZM151 238 163 236 171 241 171 245 164 250 155 251 147 244ZM219 270 206 266 203 263 209 258 224 259 229 265 224 270ZM160 423 162 421 160 412 151 408 142 410 140 419 143 422ZM252 353 243 358 243 360 254 365 270 363 263 353ZM213 442 223 436 221 430 218 428 210 427 201 438 211 442ZM82 460 93 484 98 463 89 458ZM86 449 75 451 68 447 71 440 79 438 86 439 89 444ZM247 387 260 381 261 381 268 389 257 393ZM130 268 128 275 134 277 141 275 142 268 141 267ZM133 406 142 410 140 419 119 419 116 413ZM204 398 210 404 207 410 196 412 190 409 191 401ZM251 342 250 333 245 331 235 333 234 336 241 343 247 343ZM251 342 261 342 267 349 263 353 252 353 247 343ZM103 373 98 366 87 367 85 374 91 378 98 378ZM247 289 251 279 264 285 263 288 254 291 248 290ZM79 438 86 439 91 436 92 424 88 421 76 425ZM121 447 132 443 135 443 139 451 136 455 120 452 120 452ZM139 354 138 362 132 364 123 359 134 353ZM176 361 184 370 192 370 199 364 196 356 179 357ZM176 361 165 363 162 368 164 371 179 373 184 370ZM191 401 190 409 180 411 172 408 171 403 184 398ZM179 307 165 303 157 309 170 316 177 314ZM265 253 278 263 287 251 276 248ZM109 253 93 252 90 245 102 241 112 249ZM95 391 105 386 98 378 91 378 85 385ZM245 331 246 323 235 319 225 326 235 333ZM128 379 117 380 112 374 118 369 128 370ZM214 415 205 423 196 422 196 412 207 410ZM279 376 261 381 268 389 277 391 288 379ZM63 276 56 266 51 266 48 276 54 279ZM231 438 223 436 221 430 234 429 239 433 236 437ZM71 440 68 447 59 449 49 443 52 436 60 434ZM168 274 176 269 169 262 158 263 155 268 158 273ZM171 282 168 274 158 273 150 278 151 281 163 285ZM219 270 212 278 214 280 221 281 228 275 224 270ZM224 345 220 340 234 336 241 343 235 347ZM57 452 64 460 54 465 47 455ZM68 368 67 374 56 377 42 371 56 360 59 360ZM182 290 178 283 191 278 193 278 199 285 195 291 194 292ZM222 415 227 418 218 428 210 427 205 423 214 415ZM76 425 88 421 90 415 86 410 72 407 57 414 58 418 67 424ZM192 314 207 311 212 314 210 319 191 320 189 317ZM83 315 69 317 58 311 59 306 84 305 87 310ZM164 371 157 378 146 376 144 372 148 367 162 368ZM235 381 240 375 252 374 256 375 260 381 247 387 242 387ZM222 247 226 244 227 238 219 233 211 233 203 245 208 247ZM151 238 163 236 165 228 157 223 139 228 139 231ZM268 417 268 409 295 409 280 419ZM230 292 236 298 236 299 225 304 219 301 220 291 223 290ZM212 278 203 275 193 278 199 285 209 285 214 280ZM190 409 196 412 196 422 186 425 177 420 180 411ZM149 437 162 433 173 437 172 446 158 450 155 449 149 438ZM131 241 134 233 139 231 151 238 147 244 137 246ZM128 379 117 380 112 386 121 392 135 385 135 382ZM224 310 234 315 250 308 250 305 236 299 225 304ZM234 336 235 333 225 326 218 327 216 339 220 340ZM84 333 90 336 84 346 71 347 59 341 59 339ZM210 319 212 314 224 310 234 315 235 319 225 326 218 327 213 325ZM239 287 247 289 248 290 236 298 230 292ZM215 376 225 382 235 381 240 375 233 366 219 366 218 366ZM87 310 84 305 88 299 107 303 106 311 103 312ZM140 306 140 298 126 294 115 299 115 299 128 309ZM116 273 108 274 103 271 104 264 110 262 119 266ZM264 447 277 448 280 452 277 457 270 461 254 458ZM268 337 262 331 265 325 278 324 288 330 279 337ZM200 330 213 325 210 319 191 320 189 324ZM84 333 59 339 54 331 69 324 83 328ZM82 365 87 367 85 374 73 376 67 374 68 368ZM130 268 141 267 141 261 128 260 125 265ZM71 249 61 242 67 236 82 239 85 243ZM160 423 162 421 177 420 186 425 184 433 173 437 162 433ZM116 413 119 419 118 420 103 426 92 424 88 421 90 415 113 412ZM70 256 66 264 74 269 84 268 89 261 88 258ZM76 396 94 395 97 399 86 410 72 407 70 401ZM131 285 121 281 122 276 128 275 134 277 133 285ZM203 305 204 302 208 300 219 301 225 304 224 310 212 314 207 311ZM136 455 137 459 125 471 114 460 120 452ZM181 392 184 398 171 403 164 399 166 393ZM115 441 126 435 132 443 121 447ZM63 276 54 279 53 287 59 293 68 291 75 281 69 276ZM59 360 56 360 53 358 49 351 57 342 59 341 71 347 69 356ZM84 268 89 261 104 264 103 271 89 273ZM107 433 103 426 92 424 91 436 105 437ZM234 429 221 430 218 428 227 418 232 418 238 423ZM158 387 147 391 145 395 154 401 164 399 166 393ZM115 441 121 447 120 452 105 449 103 445 108 440ZM245 423 252 418 249 412 243 410 232 418 238 423ZM112 256 110 262 119 266 125 265 128 260 126 256ZM82 365 87 367 98 366 102 363 95 353 93 352 81 359ZM133 406 116 413 113 412 110 401 121 396 132 400ZM196 460 207 471 212 462 200 457ZM117 380 112 386 105 386 98 378 103 373 112 374ZM115 299 115 299 108 292 90 293 87 295 88 299 107 303ZM249 412 252 418 263 420 268 417 268 409 264 406ZM218 355 235 354 243 358 243 360 233 366 219 366ZM279 376 272 369 256 375 260 381 261 381ZM110 289 108 292 90 293 92 285 106 285ZM189 317 191 320 189 324 180 327 169 321 170 316 177 314ZM79 438 76 425 67 424 60 434 71 440ZM243 250 258 254 253 262 247 264 237 254ZM208 451 201 453 191 448 196 438 201 438 211 442ZM105 334 107 324 102 321 89 322 83 328 84 333 90 336 103 335ZM70 401 72 407 57 414 37 407 53 396ZM144 354 152 348 161 353 159 359 151 360ZM279 376 272 369 272 363 278 362 322 375 288 379ZM123 346 131 347 143 340 133 331 120 336ZM239 287 230 292 223 290 224 284 236 283ZM226 447 213 442 211 442 208 451 218 454 225 451ZM118 369 114 363 102 363 98 366 103 373 112 374ZM134 326 145 323 148 310 140 306 128 309 123 314 124 321ZM81 359 93 352 84 346 71 347 69 356ZM264 285 269 281 281 280 283 281 280 293 277 294 263 288ZM238 395 242 387 235 381 225 382 219 391 229 396ZM53 287 -18 281 48 276 54 279ZM196 356 199 353 206 351 217 354 218 355 219 366 218 366 199 364ZM106 344 99 352 95 353 93 352 84 346 90 336 103 335ZM189 226 186 237 171 241 163 236 165 228 187 224ZM172 408 160 412 162 421 177 420 180 411ZM69 276 74 269 84 268 89 273 88 280 75 281ZM179 357 173 350 175 347 187 343 199 353 196 356ZM139 354 144 354 152 348 150 341 143 340 131 347 134 353ZM192 370 202 379 215 376 218 366 199 364ZM132 251 145 257 150 257 155 251 147 244 137 246ZM160 383 157 378 146 376 135 382 135 385 147 391 158 387ZM85 385 91 378 85 374 73 376 77 385ZM258 253 258 254 243 250 242 246 243 245 258 243ZM163 285 160 294 146 294 142 287 151 281ZM68 291 87 295 90 293 92 285 90 281 88 280 75 281ZM224 284 221 281 214 280 209 285 212 290 220 291 223 290ZM56 386 72 388 76 396 70 401 53 396 53 392 56 387ZM74 459 75 451 68 447 59 449 57 452 64 460 72 460ZM242 237 240 236 227 238 226 244 242 246 243 245ZM222 415 225 405 210 404 207 410 214 415ZM250 333 262 331 265 325 257 320 246 323 245 331ZM248 290 254 291 257 301 250 305 236 299 236 298ZM103 445 89 444 86 449 91 454 101 452 105 449ZM170 316 157 309 148 310 145 323 156 325 169 321ZM172 258 186 256 194 262 185 269 176 269 169 262ZM117 287 110 289 106 285 109 281 117 282ZM126 435 132 443 135 443 149 438 149 437 138 430 126 432ZM123 431 118 420 103 426 107 433ZM56 377 56 386 72 388 77 385 73 376 67 374ZM230 463 229 463 218 460 218 454 225 451 234 455ZM236 283 238 277 228 275 221 281 224 284ZM89 458 91 454 101 452 107 460 98 463ZM107 278 109 281 106 285 92 285 90 281ZM237 254 229 254 224 259 229 265 244 266 247 264ZM159 453 169 460 176 460 180 458 181 450 172 446 158 450ZM159 453 169 460 158 470 150 461ZM88 280 90 281 107 278 108 274 103 271 89 273ZM199 336 200 330 189 324 180 327 178 332 190 339ZM254 365 252 374 256 375 272 369 272 363 270 363ZM187 343 175 347 162 337 162 336 178 332 190 339ZM36 234 58 229 61 228 62 229 67 236 61 242 53 244ZM192 370 202 379 197 385 185 386 178 381 179 373 184 370ZM126 432 123 431 118 420 119 419 140 419 143 422 138 430ZM122 276 116 273 108 274 107 278 109 281 117 282 121 281ZM264 447 277 448 284 441 278 435 271 435 264 440 263 447ZM269 267 273 267 281 280 269 281 262 274ZM259 242 252 236 260 226 263 227 275 238 272 241ZM42 371 -58 375 56 387 56 386 56 377ZM229 396 227 404 225 405 210 404 204 398 207 393 219 391ZM259 428 263 425 280 429 278 435 271 435 261 432ZM264 403 279 396 309 405 295 409 268 409 264 406ZM241 408 243 410 232 418 227 418 222 415 225 405 227 404ZM265 253 276 248 272 241 259 242 258 243 258 253ZM208 300 206 293 212 290 220 291 219 301ZM248 399 255 399 264 403 264 406 249 412 243 410 241 408ZM265 253 278 263 278 264 273 267 269 267 253 262 258 254 258 253ZM175 347 162 337 150 341 152 348 161 353 173 350ZM83 315 89 322 102 321 103 312 87 310ZM141 261 145 257 150 257 158 263 155 268 142 268 141 267ZM250 428 259 428 263 425 263 420 252 418 245 423ZM280 293 411 302 281 308 274 301 277 294ZM199 353 187 343 190 339 199 336 209 340 206 351ZM263 353 270 363 272 363 278 362 289 350 283 347 267 349ZM82 365 68 368 59 360 69 356 81 359ZM162 368 148 367 147 364 151 360 159 359 165 363ZM63 276 56 266 66 264 74 269 69 276ZM93 252 88 258 70 256 69 256 71 249 85 243 90 245ZM184 305 185 301 175 295 165 297 165 303 179 307ZM218 454 218 460 212 462 200 457 201 453 208 451ZM121 396 121 392 112 386 105 386 95 391 94 395 97 399 110 401ZM204 302 208 300 206 293 195 291 194 292 193 298ZM253 262 269 267 262 274 250 276 246 275 244 266 247 264ZM238 227 233 226 250 125 256 223ZM171 245 171 241 186 237 197 245 187 252ZM215 376 225 382 219 391 207 393 197 385 202 379ZM123 346 131 347 134 353 123 359 119 359 115 354 120 347ZM173 437 184 433 196 438 191 448 181 450 172 446ZM199 336 200 330 213 325 218 327 216 339 209 340ZM67 424 58 418 39 430 52 436 60 434ZM134 233 139 231 139 228 132 222 111 227 120 233ZM242 237 240 236 238 227 256 223 260 226 252 236ZM158 273 155 268 142 268 141 275 150 278ZM251 437 248 443 263 447 264 440 256 436ZM123 346 120 336 105 334 103 335 106 344 120 347ZM112 249 102 241 104 239 119 240 120 241 118 247ZM264 285 269 281 262 274 250 276 251 279ZM131 251 132 251 145 257 141 261 128 260 126 256ZM176 361 165 363 159 359 161 353 173 350 179 357ZM245 433 250 428 245 423 238 423 234 429 239 433ZM131 285 125 290 126 294 140 298 146 294 142 287 133 285ZM185 301 175 295 182 290 194 292 193 298ZM132 400 145 395 147 391 135 385 121 392 121 396ZM128 309 115 299 107 303 106 311 123 314ZM189 226 186 237 197 245 203 245 211 233 203 228ZM172 258 164 250 155 251 150 257 158 263 169 262ZM258 243 243 245 242 237 252 236 259 242ZM128 379 128 370 131 369 144 372 146 376 135 382ZM105 449 101 452 107 460 114 460 120 452 120 452ZM191 278 185 269 176 269 168 274 171 282 178 283ZM240 236 227 238 219 233 226 226 233 226 238 227ZM259 314 277 312 281 308 274 301 257 301 250 305 250 308ZM124 321 123 314 106 311 103 312 102 321 107 324ZM69 256 47 253 53 244 61 242 71 249ZM144 372 148 367 147 364 138 362 132 364 131 369ZM216 218 226 226 219 233 211 233 203 228ZM196 460 188 462 180 458 181 450 191 448 201 453 200 457ZM246 444 236 437 231 438 230 445 243 447ZM182 290 178 283 171 282 163 285 160 294 165 297 175 295ZM120 241 119 240 120 233 134 233 131 241ZM190 307 203 305 204 302 193 298 185 301 184 305ZM218 355 235 354 235 347 224 345 217 354ZM208 247 203 245 197 245 187 252 186 256 194 262 203 263 209 258ZM130 268 128 275 122 276 116 273 119 266 125 265ZM133 331 143 340 150 341 162 337 162 336 156 325 145 323 134 326ZM128 370 118 369 114 363 119 359 123 359 132 364 131 369ZM83 328 89 322 83 315 69 317 69 324ZM219 270 206 266 203 275 212 278ZM160 383 178 381 185 386 181 392 166 393 158 387ZM57 452 59 449 49 443 4 452 47 455ZM263 425 280 429 283 428 280 419 268 417 263 420ZM151 281 142 287 133 285 134 277 141 275 150 278ZM82 239 67 236 62 229 81 224 90 229Z" fill="none" stroke="#a6a6a6" stroke-width="0.75" stroke-linejoin="round"/>
<path d="M218.5 253.0h0M94.4 237.2h0M59.3 321.2h0M117.1 291.0h0M197.1 270.8h0M113.4 236.2h0M57.5 260.0h0M245.5 368.1h0M73.7 299.4h0M83.0 390.2h0M168.8 327.9h0M264.7 394.9h0M235.0 271.3h0M234.3 449.6h0M143.4 445.5h0M143.3 359.3h0M115.0 435.7h0M253.4 432.5h0M270.9 342.7h0M233.2 248.5h0M168.4 376.8h0M117.6 329.2h0M111.1 349.2h0M126.3 245.0h0M153.2 301.1h0M175.3 252.0h0M97.0 440.9h0M224.3 441.6h0M247.9 393.3h0M107.4 357.3h0M196.7 309.5h0M204.0 289.0h0M143.9 402.5h0M243.8 437.8h0M185.4 310.9h0M263.8 294.8h0M162.2 405.5h0M258.1 336.8h0M251.7 448.7h0M242.2 349.6h0M262.3 436.1h0M215.8 346.1h0M121.8 284.8h0M244.1 282.7h0M149.8 429.0h0M101.2 258.1h0M192.0 393.9h0M267.9 318.9h0M120.7 251.6h0M238.3 401.0h0M197.9 429.7h0M100.9 407.1h0M247.0 316.3h0M159.8 243.9h0M217.3 264.7h0M151.3 415.3h0M256.5 359.7h0M213.9 435.0h0M79.1 444.9h0M257.3 387.8h0M135.1 271.6h0M131.1 413.3h0M200.1 406.0h0M243.2 337.1h0M256.4 347.2h0M93.4 372.5h0M254.2 284.6h0M85.1 431.3h0M130.3 448.2h0M133.4 359.0h0M186.8 362.4h0M172.1 367.2h0M180.3 404.6h0M170.3 309.3h0M274.8 254.4h0M102.5 247.1h0M94.0 383.4h0M237.3 326.5h0M121.2 374.7h0M205.0 415.9h0M271.8 382.7h0M55.9 273.0h0M230.6 433.5h0M59.6 441.5h0M164.3 268.2h0M159.7 278.3h0M219.3 275.7h0M231.1 341.9h0M58.7 368.8h0M190.2 285.7h0M216.9 420.9h0M74.4 415.9h0M199.6 316.2h0M75.0 311.2h0M153.4 371.4h0M248.8 380.6h0M216.6 240.8h0M225.8 295.7h0M204.6 280.4h0M187.6 416.0h0M160.4 442.0h0M138.8 239.0h0M123.2 383.8h0M236.6 306.5h0M224.7 333.3h0M76.7 339.5h0M222.0 319.0h0M238.0 291.6h0M227.4 373.1h0M96.8 306.6h0M127.1 300.8h0M111.7 268.9h0M272.2 330.6h0M200.2 323.0h0M70.9 330.6h0M77.1 370.6h0M133.6 263.8h0M71.5 242.7h0M171.6 427.5h0M104.4 419.2h0M76.8 263.4h0M83.3 400.9h0M127.1 280.0h0M212.2 306.0h0M173.0 397.5h0M123.3 441.5h0M63.7 281.9h0M60.4 352.0h0M95.1 268.0h0M98.2 431.5h0M228.7 424.4h0M156.9 395.1h0M112.4 446.2h0M242.3 417.2h0M120.1 261.1h0M91.6 361.2h0M121.5 404.8h0M107.2 378.9h0M102.8 296.8h0M259.3 414.0h0M229.4 358.9h0M266.4 374.9h0M102.1 288.5h0M180.3 319.4h0M70.9 432.6h0M246.5 255.7h0M201.6 446.3h0M94.7 327.4h0M57.8 403.5h0M152.4 355.0h0M129.2 340.1h0M230.6 286.7h0M217.4 448.1h0M108.6 368.2h0M135.3 315.0h0M79.0 353.0h0M272.8 286.2h0M231.3 389.3h0M207.9 359.3h0M96.8 343.9h0M169.9 414.0h0M79.2 274.2h0M185.6 351.0h0M141.6 348.6h0M205.2 370.7h0M142.8 251.3h0M147.1 382.7h0M81.3 379.2h0M251.4 247.5h0M152.7 287.6h0M81.1 286.3h0M216.8 285.8h0M64.9 393.7h0M236.2 241.8h0M216.2 409.7h0M253.7 327.1h0M246.6 296.6h0M95.6 449.0h0M158.3 316.8h0M180.5 262.4h0M112.2 284.6h0M136.0 437.3h0M112.4 428.2h0M68.5 381.6h0M229.1 280.2h0M101.9 281.8h0M235.6 259.6h0M98.7 276.2h0M189.3 331.1h0M260.7 369.4h0M176.6 339.0h0M189.3 377.8h0M130.2 425.0h0M115.2 278.3h0M270.9 441.0h0M270.4 275.9h0M261.2 236.0h0M218.2 399.5h0M267.5 430.3h0M231.1 411.3h0M265.3 247.7h0M212.6 295.1h0M251.1 405.3h0M264.8 259.3h0M162.6 346.5h0M93.5 316.1h0M148.0 263.6h0M254.7 423.6h0M199.6 344.2h0M274.4 354.0h0M72.0 362.4h0M154.7 363.4h0M64.1 270.7h0M81.2 251.2h0M176.7 302.0h0M107.0 392.8h0M200.1 296.4h0M255.1 269.3h0M182.4 244.8h0M211.5 384.6h0M123.7 352.4h0M183.7 442.8h0M209.2 332.2h0M148.6 272.4h0M256.6 440.5h0M114.7 341.6h0M111.9 242.8h0M260.6 279.3h0M135.2 257.2h0M168.0 357.0h0M242.2 428.2h0M134.0 290.6h0M186.2 295.7h0M134.3 392.6h0M115.8 307.1h0M197.9 236.2h0M161.3 257.0h0M249.1 241.2h0M134.9 374.8h0M178.3 275.9h0M264.1 307.1h0M111.3 316.7h0M60.4 249.2h0M139.8 366.5h0M236.3 442.0h0M170.9 289.5h0M125.4 236.6h0M193.2 303.2h0M227.6 349.4h0M198.5 254.1h0M123.3 270.4h0M148.3 332.2h0M123.5 365.1h0M78.7 321.2h0M210.8 272.5h0M171.4 387.8h0M272.1 423.4h0M140.8 280.8h0" stroke="#c2c2f0" stroke-width="4.4" stroke-linecap="round" opacity="0.85"/>
<path d="M104.3 349.2l13.6 0.1M237.8 282.9l12.6 -0.2M114.4 251.3l12.6 0.5M199.4 416.0l11.1 -0.2M69.1 311.3l11.7 -0.3M231.0 306.3l11.2 0.3M216.2 319.0l11.7 -0.0M90.8 306.6l11.9 -0.0M64.8 242.7l13.5 -0.1M100.8 378.6l12.9 0.5M72.8 353.0l12.4 -0.0M136.7 251.5l12.2 -0.3M247.8 327.1l11.9 -0.0M260.8 430.3l13.4 -0.1M248.3 269.3l13.6 -0.1M180.5 295.7l11.4 -0.0M128.0 392.5l12.5 0.2M54.7 249.2l11.4 -0.0M230.0 442.2l12.5 -0.4M203.8 272.2l13.9 0.6" stroke="rgb(165,45,75)" stroke-width="1.9" opacity="0.95"/>
<path d="M108.4 349.2l5.4 0.0M241.6 282.8l5.0 -0.1M118.2 251.5l5.0 0.2M202.7 415.9l4.4 -0.1M72.7 311.2l4.7 -0.1M234.4 306.4l4.5 0.1M219.7 319.0l4.7 -0.0M94.4 306.6l4.8 -0.0M68.8 242.7l5.4 -0.0M104.7 378.8l5.2 0.2M76.6 353.0l5.0 -0.0M140.3 251.4l4.9 -0.1M251.3 327.1l4.8 -0.0M264.8 430.3l5.3 -0.0M252.3 269.3l5.4 -0.0M183.9 295.7l4.6 -0.0M131.8 392.6l5.0 0.1M58.1 249.2l4.5 -0.0M233.8 442.1l5.0 -0.2M208.0 272.4l5.6 0.2" stroke="rgb(118,32,54)" stroke-width="1.9" opacity="0.76"/>
<path d="M224.3 286.4l12.7 0.5M239.7 296.5l13.8 0.3" stroke="rgb(165,45,75)" stroke-width="1.9" opacity="0.40"/>
<path d="M228.1 286.6l5.1 0.2M243.9 296.6l5.5 0.1" stroke="rgb(118,32,54)" stroke-width="1.9" opacity="0.32"/>
<path d="M88.4 237.8l12.1 -1.2M191.1 308.9l11.2 1.3M261.5 318.0l12.7 1.7M191.8 430.4l12.1 -1.6M73.3 445.4l11.5 -1.0M236.7 337.9l13.0 -1.6M127.5 359.3l11.8 -0.6M180.9 363.1l11.8 -1.3M231.4 327.2l11.8 -1.5M48.9 273.6l13.9 -1.3M224.4 434.2l12.4 -1.3M52.2 368.3l12.9 1.0M218.1 333.9l13.2 -1.3M127.7 264.5l11.9 -1.5M122.2 339.4l13.9 1.3M179.5 350.3l12.1 1.4M145.9 288.2l13.8 -1.1M210.2 286.3l13.3 -1.0M230.4 242.3l11.5 -0.9M255.1 368.7l11.3 1.4M170.9 339.4l11.5 -0.8M225.5 411.7l11.2 -0.7M141.8 264.0l12.4 -0.9M249.2 424.2l11.1 -1.2M148.3 363.7l12.7 -0.6M75.5 251.8l11.4 -1.2M105.1 243.7l13.5 -1.7M192.4 254.8l12.2 -1.4" stroke="rgb(175,52,77)" stroke-width="1.9" opacity="0.95"/>
<path d="M92.0 237.4l4.8 -0.5M194.4 309.3l4.5 0.5M265.3 318.5l5.1 0.7M195.5 430.0l4.8 -0.6M76.8 445.1l4.6 -0.4M240.6 337.4l5.2 -0.6M131.1 359.1l4.7 -0.3M184.4 362.7l4.7 -0.5M234.9 326.8l4.7 -0.6M53.1 273.2l5.6 -0.5M228.1 433.8l5.0 -0.5M56.1 368.6l5.2 0.4M222.1 333.5l5.3 -0.5M131.2 264.1l4.8 -0.6M126.4 339.8l5.5 0.5M183.1 350.7l4.8 0.6M150.0 287.8l5.5 -0.5M214.2 286.0l5.3 -0.4M233.9 242.0l4.6 -0.4M258.5 369.2l4.5 0.6M174.3 339.1l4.6 -0.3M228.9 411.5l4.5 -0.3M145.6 263.8l5.0 -0.4M252.5 423.8l4.5 -0.5M152.1 363.5l5.1 -0.2M78.9 251.4l4.6 -0.5M109.2 243.2l5.4 -0.7M196.0 254.4l4.9 -0.6" stroke="rgb(126,37,55)" stroke-width="1.9" opacity="0.76"/>
<path d="M51.2 259.5l12.6 1.0M242.2 392.9l11.3 0.8M131.9 239.8l13.7 -1.7M232.4 292.3l11.2 -1.4M222.0 424.0l13.5 1.0M201.7 359.9l12.2 -1.3M259.3 248.0l11.9 -0.7M65.9 362.9l12.2 -0.9M119.4 237.3l12.0 -1.3" stroke="rgb(175,52,77)" stroke-width="1.9" opacity="0.40"/>
<path d="M55.0 259.8l5.0 0.4M245.6 393.1l4.5 0.3M136.0 239.3l5.5 -0.7M235.8 291.9l4.5 -0.6M226.0 424.3l5.4 0.4M205.4 359.5l4.9 -0.5M262.9 247.8l4.8 -0.3M69.5 362.6l4.9 -0.4M123.0 236.9l4.8 -0.5" stroke="rgb(126,37,55)" stroke-width="1.9" opacity="0.32"/>
<path d="M227.7 249.2l11.0 -1.6M198.4 289.8l11.3 -1.6M235.8 350.9l12.8 -2.7M124.4 414.5l13.3 -2.4M114.5 375.7l13.3 -1.9M265.9 383.6l11.7 -1.7M225.5 342.7l11.1 -1.6M183.5 287.0l13.5 -2.6M68.7 417.0l11.4 -2.2M242.9 381.5l11.8 -1.9M209.9 242.3l13.3 -2.9M219.4 296.6l12.7 -1.9M165.1 428.9l13.0 -2.8M167.2 396.3l11.5 2.5M116.8 442.7l13.0 -2.3M57.7 280.9l11.9 1.9M88.6 268.9l13.0 -1.9M91.7 432.4l12.9 -1.8M260.7 375.8l11.4 -1.9M89.7 450.3l11.8 -2.6M62.0 382.9l13.1 -2.6M229.9 260.6l11.4 -2.0M182.4 330.1l13.8 2.0M264.6 277.0l11.5 -2.1M212.1 400.7l12.2 -2.5M206.4 296.0l12.5 -1.8M192.9 343.0l13.4 2.3M176.7 243.9l11.5 1.8M129.2 375.7l11.3 -1.8" stroke="rgb(185,60,80)" stroke-width="1.9" opacity="0.95"/>
<path d="M231.0 248.8l4.4 -0.6M201.8 289.3l4.5 -0.6M239.6 350.1l5.1 -1.1M128.4 413.8l5.3 -1.0M118.5 375.1l5.3 -0.7M269.4 383.1l4.7 -0.7M228.9 342.2l4.4 -0.6M187.5 286.2l5.4 -1.0M72.1 416.4l4.5 -0.9M246.4 381.0l4.7 -0.8M213.9 241.4l5.3 -1.2M223.2 296.1l5.1 -0.8M169.0 428.1l5.2 -1.1M170.7 397.0l4.6 1.0M120.7 442.0l5.2 -0.9M61.3 281.5l4.8 0.8M92.5 268.4l5.2 -0.8M95.6 431.9l5.2 -0.7M264.1 375.2l4.6 -0.7M93.2 449.5l4.7 -1.0M65.9 382.1l5.2 -1.0M233.3 260.0l4.6 -0.8M186.6 330.7l5.5 0.8M268.1 276.3l4.6 -0.8M215.8 400.0l4.9 -1.0M210.1 295.5l5.0 -0.7M196.9 343.7l5.4 0.9M180.1 244.5l4.6 0.7M132.6 375.1l4.5 -0.7" stroke="rgb(133,43,57)" stroke-width="1.9" opacity="0.76"/>
<path d="M129.4 272.8l11.3 -2.5M194.4 407.0l11.3 -2.1M85.8 360.3l11.6 1.6M95.3 289.9l13.7 -2.8M245.0 248.8l12.9 -2.6M206.1 385.7l10.8 -2.3M203.7 333.4l11.1 -2.4" stroke="rgb(185,60,80)" stroke-width="1.9" opacity="0.40"/>
<path d="M132.8 272.1l4.5 -1.0M197.8 406.4l4.5 -0.8M89.3 360.8l4.6 0.7M99.4 289.1l5.5 -1.1M248.8 248.1l5.1 -1.0M209.4 385.0l4.3 -0.9M207.0 332.7l4.4 -0.9" stroke="rgb(133,43,57)" stroke-width="1.9" opacity="0.32"/>
<path d="M52.7 322.7l13.2 -2.9M76.8 392.0l12.3 -3.5M228.5 448.3l11.5 2.8M109.1 437.0l11.9 -2.6M162.0 378.7l12.9 -3.9M120.4 246.7l11.9 -3.4M211.0 266.3l12.5 -3.2M207.3 437.0l13.1 -4.0M174.4 406.0l11.9 -2.7M147.7 372.8l11.5 -2.9M266.4 332.2l11.5 -3.4M64.7 332.3l12.4 -3.3M121.3 281.4l11.5 -2.7M205.7 307.5l13.0 -2.9M106.7 444.9l11.4 2.6M222.9 360.5l13.0 -3.1M239.9 257.3l13.0 -3.1M96.1 283.3l11.5 -3.1M58.6 272.4l10.9 -3.2M101.6 394.5l10.8 -3.2M253.9 280.8l13.3 -3.0M109.6 308.9l12.4 -3.6M165.4 290.7l11.1 -2.5M117.2 271.8l12.2 -2.9" stroke="rgb(205,85,90)" stroke-width="1.9" opacity="0.95"/>
<path d="M56.7 321.8l5.3 -1.2M80.5 390.9l4.9 -1.4M232.0 449.1l4.6 1.1M112.6 436.2l4.7 -1.1M165.9 377.6l5.1 -1.6M124.0 245.7l4.8 -1.3M214.8 265.3l5.0 -1.3M211.3 435.8l5.3 -1.6M178.0 405.2l4.7 -1.1M151.1 372.0l4.6 -1.1M269.9 331.2l4.6 -1.3M68.4 331.3l4.9 -1.3M124.8 280.6l4.6 -1.1M209.6 306.6l5.2 -1.2M110.1 445.7l4.6 1.0M226.8 359.5l5.2 -1.2M243.8 256.3l5.2 -1.2M99.6 282.4l4.6 -1.2M61.9 271.4l4.4 -1.3M104.9 393.5l4.3 -1.3M257.9 279.9l5.3 -1.2M113.4 307.8l5.0 -1.5M168.7 290.0l4.4 -1.0M120.8 270.9l4.9 -1.2" stroke="rgb(147,61,64)" stroke-width="1.9" opacity="0.76"/>
<path d="M169.4 253.7l11.7 -3.4M251.8 338.8l12.4 -3.9M232.4 402.6l11.7 -3.3M114.7 262.6l10.9 -3.0M58.8 395.6l12.2 -3.7M264.8 442.4l12.1 -2.9M250.4 442.3l12.4 -3.7" stroke="rgb(205,85,90)" stroke-width="1.9" opacity="0.40"/>
<path d="M172.9 252.7l4.7 -1.4M255.6 337.6l5.0 -1.6M236.0 401.6l4.7 -1.3M118.0 261.7l4.4 -1.2M62.4 394.5l4.9 -1.5M268.4 441.6l4.8 -1.1M254.1 441.2l4.9 -1.5" stroke="rgb(147,61,64)" stroke-width="1.9" opacity="0.32"/>
<path d="M67.4 296.9l12.6 4.9M258.3 296.9l11.0 -4.3M245.2 446.3l12.9 4.8M95.3 255.9l11.8 4.5M53.3 444.0l12.7 -5.1M158.8 270.4l11.1 -4.5M198.8 282.7l11.5 -4.6M221.5 375.3l11.9 -4.4M235.9 419.5l12.8 -4.5M97.1 294.9l11.4 3.7M129.0 317.1l12.6 -4.2M164.3 416.0l11.1 -4.0M210.8 411.8l10.7 -4.4M223.7 282.0l10.8 -3.7M108.8 343.9l11.8 -4.5M129.6 259.2l11.1 -4.0M236.6 430.1l11.3 -3.7M258.8 308.9l10.6 -3.6M133.6 368.9l12.4 -4.7M134.3 283.1l13.0 -4.6" stroke="rgb(225,110,100)" stroke-width="1.9" opacity="0.85"/>
<path d="M71.1 298.4l5.0 2.0M261.6 295.6l4.4 -1.7M249.1 447.7l5.2 1.9M98.9 257.2l4.7 1.8M57.1 442.5l5.1 -2.0M162.1 269.1l4.4 -1.8M202.3 281.3l4.6 -1.8M225.0 374.0l4.8 -1.7M239.8 418.1l5.1 -1.8M100.5 296.0l4.6 1.5M132.8 315.8l5.0 -1.7M167.6 414.8l4.5 -1.6M214.0 410.5l4.3 -1.7M227.0 280.9l4.3 -1.5M112.3 342.5l4.7 -1.8M132.9 258.0l4.4 -1.6M240.0 429.0l4.5 -1.5M262.0 307.8l4.2 -1.4M137.3 367.4l5.0 -1.9M138.2 281.7l5.2 -1.8" stroke="rgb(162,79,72)" stroke-width="1.9" opacity="0.68"/>
<path d="M237.3 439.9l13.0 -4.2M251.0 345.3l10.8 3.8M267.0 288.4l11.6 -4.4M269.2 355.8l10.4 -3.7" stroke="rgb(225,110,100)" stroke-width="1.9" opacity="0.40"/>
<path d="M241.2 438.7l5.2 -1.7M254.3 346.4l4.3 1.5M270.4 287.1l4.6 -1.7M272.3 354.7l4.2 -1.5" stroke="rgb(162,79,72)" stroke-width="1.9" opacity="0.32"/>
<path d="M137.4 442.8l12.0 5.5M145.3 417.8l12.1 -5.1M97.4 249.3l10.2 -4.4M151.3 397.8l11.3 -5.4M183.5 380.5l11.5 -5.4M118.0 354.8l11.4 -4.9" stroke="rgb(231,130,110)" stroke-width="1.9" opacity="0.85"/>
<path d="M141.0 444.4l4.8 2.2M148.9 416.3l4.9 -2.0M100.5 248.0l4.1 -1.8M154.7 396.2l4.5 -2.2M186.9 378.9l4.6 -2.2M121.4 353.3l4.5 -2.0" stroke="rgb(166,93,79)" stroke-width="1.9" opacity="0.68"/>
<path d="M166.0 370.1l12.3 -5.8M55.3 354.3l10.0 -4.7M211.3 450.9l12.4 -5.7M91.1 346.6l11.4 -5.4" stroke="rgb(231,130,110)" stroke-width="1.9" opacity="0.40"/>
<path d="M169.7 368.3l4.9 -2.3M58.3 352.9l4.0 -1.9M215.0 449.2l4.9 -2.3M94.5 345.0l4.6 -2.2" stroke="rgb(166,93,79)" stroke-width="1.9" opacity="0.32"/>
<path d="M212.7 256.3l11.5 -6.7M240.0 364.8l10.9 6.8M229.9 274.5l10.1 -6.4M265.9 345.5l10.1 -5.5M112.9 332.0l9.5 -5.7M147.9 304.1l10.6 -5.9M269.8 251.6l9.9 5.6M51.8 407.1l12.0 -7.1M102.7 371.9l11.8 -7.4M130.7 440.4l10.5 -6.2M259.1 262.6l11.3 -6.7M178.0 439.6l11.4 6.3M128.0 287.4l11.9 6.5M243.6 244.0l10.9 -5.7" stroke="rgb(238,150,120)" stroke-width="1.9" opacity="0.85"/>
<path d="M216.2 254.3l4.6 -2.7M243.3 366.8l4.4 2.7M232.9 272.6l4.1 -2.6M268.9 343.8l4.0 -2.2M115.7 330.3l3.8 -2.3M151.1 302.3l4.2 -2.3M272.8 253.3l4.0 2.2M55.4 405.0l4.8 -2.8M106.3 369.7l4.7 -3.0M133.9 438.6l4.2 -2.5M262.5 260.6l4.5 -2.7M181.5 441.5l4.6 2.5M131.6 289.3l4.8 2.6M246.9 242.3l4.4 -2.3" stroke="rgb(171,108,86)" stroke-width="1.9" opacity="0.68"/>
<path d="M180.2 308.1l10.4 5.7M210.7 343.4l10.1 5.4M213.5 279.4l11.5 -7.3M118.8 368.0l9.6 -5.7" stroke="rgb(238,150,120)" stroke-width="1.9" opacity="0.40"/>
<path d="M183.4 309.8l4.2 2.3M213.8 345.0l4.0 2.1M217.0 277.2l4.6 -2.9M121.6 366.2l3.8 -2.3" stroke="rgb(171,108,86)" stroke-width="1.9" opacity="0.32"/>
<path d="M218.8 445.4l11.0 -7.7M72.0 266.8l9.5 -6.8M125.4 428.6l9.5 -7.2M256.1 232.2l10.3 7.6M143.0 336.2l10.5 -7.9M267.1 420.3l10.0 6.4" stroke="rgb(240,175,150)" stroke-width="1.9" opacity="0.85"/>
<path d="M222.1 443.1l4.4 -3.1M74.9 264.8l3.8 -2.7M128.3 426.5l3.8 -2.9M259.2 234.5l4.1 3.1M146.2 333.8l4.2 -3.2M270.1 422.2l4.0 2.6" stroke="rgb(172,126,108)" stroke-width="1.9" opacity="0.68"/>
<path d="M211.6 424.8l10.5 -7.9" stroke="rgb(240,175,150)" stroke-width="1.9" opacity="0.40"/>
<path d="M214.8 422.4l4.2 -3.2" stroke="rgb(172,126,108)" stroke-width="1.9" opacity="0.32"/>
<path d="M77.9 292.4l6.4 -12.1" stroke="rgb(133,187,227)" stroke-width="1.9" opacity="0.40"/>
<path d="M79.8 288.7l2.6 -4.8" stroke="rgb(95,134,163)" stroke-width="1.9" opacity="0.32"/>
<path d="M259.1 429.9l6.4 12.4M254.7 393.0l5.2 -10.5M197.2 311.0l4.8 10.5M76.4 268.2l5.6 11.9" stroke="rgb(108,168,218)" stroke-width="1.9" opacity="0.85"/>
<path d="M261.1 433.6l2.6 5.0M256.3 389.9l2.1 -4.2M198.7 314.1l1.9 4.2M78.1 271.8l2.2 4.7" stroke="rgb(77,120,156)" stroke-width="1.9" opacity="0.68"/>
<path d="M110.8 230.3l5.3 11.9M228.5 395.0l5.7 -11.4" stroke="rgb(108,168,218)" stroke-width="1.9" opacity="0.40"/>
<path d="M112.4 233.8l2.1 4.8M230.2 391.6l2.3 -4.6" stroke="rgb(77,120,156)" stroke-width="1.9" opacity="0.32"/>
<path d="M166.6 321.7l4.6 12.4M99.0 413.0l3.8 -11.7M244.6 310.5l4.7 11.6M251.8 278.8l4.8 11.6M158.2 436.4l4.5 11.3M92.6 320.8l4.3 13.2M144.7 389.2l4.9 -13.0M110.1 422.3l4.6 11.8M159.3 263.0l4.1 -12.0" stroke="rgb(89,149,206)" stroke-width="1.9" opacity="0.85"/>
<path d="M167.9 325.4l1.8 4.9M100.1 409.5l1.5 -4.7M246.0 314.0l1.9 4.6M253.2 282.3l1.9 4.6M159.5 439.8l1.8 4.5M93.8 324.8l1.7 5.3M146.2 385.3l2.0 -5.2M111.4 425.9l1.8 4.7M160.5 259.4l1.6 -4.8" stroke="rgb(64,107,148)" stroke-width="1.9" opacity="0.68"/>
<path d="M150.2 360.7l4.4 -11.3" stroke="rgb(89,149,206)" stroke-width="1.9" opacity="0.40"/>
<path d="M151.5 357.3l1.8 -4.5" stroke="rgb(64,107,148)" stroke-width="1.9" opacity="0.32"/>
<path d="M142.6 407.9l2.6 -10.8M254.9 366.0l3.1 -12.7M121.4 389.8l3.7 -12.1M110.3 290.7l3.8 -12.4M249.3 398.9l3.8 12.8" stroke="rgb(70,130,195)" stroke-width="1.9" opacity="0.95"/>
<path d="M143.3 404.6l1.1 -4.3M255.9 362.2l1.2 -5.1M122.5 386.2l1.5 -4.8M111.5 287.0l1.5 -4.9M250.4 402.7l1.5 5.1" stroke="rgb(50,93,140)" stroke-width="1.9" opacity="0.76"/>
<path d="M105.8 364.0l3.2 -13.4M196.3 229.9l3.2 12.6" stroke="rgb(70,130,195)" stroke-width="1.9" opacity="0.40"/>
<path d="M106.8 359.9l1.3 -5.4M197.2 233.7l1.3 5.0" stroke="rgb(50,93,140)" stroke-width="1.9" opacity="0.32"/>
<path d="M191.2 399.5l1.7 -11.3M93.1 389.1l1.9 -11.4M159.0 283.8l1.5 -10.9M186.8 410.0l1.7 12.0M103.3 413.2l2.3 12.0M113.9 285.0l2.7 -13.2M110.1 322.7l2.4 -12.1" stroke="rgb(61,116,183)" stroke-width="1.9" opacity="0.95"/>
<path d="M191.7 396.1l0.7 -4.5M93.7 385.7l0.7 -4.6M159.5 280.5l0.6 -4.4M187.3 413.6l0.7 4.8M104.0 416.8l0.9 4.8M114.7 281.0l1.1 -5.3M110.8 319.1l1.0 -4.8" stroke="rgb(43,83,131)" stroke-width="1.9" opacity="0.76"/>
<path d="M129.0 454.4l2.5 -12.4M69.8 438.1l2.2 -11.0M204.3 365.1l1.8 11.1" stroke="rgb(61,116,183)" stroke-width="1.9" opacity="0.40"/>
<path d="M129.7 450.7l1.0 -5.0M70.4 434.8l0.9 -4.4M204.8 368.4l0.7 4.5" stroke="rgb(43,83,131)" stroke-width="1.9" opacity="0.32"/>
<path d="M142.9 365.4l0.8 -12.2M149.5 434.7l0.6 -11.5M126.7 306.4l0.8 -11.3M179.7 313.4l1.1 12.0M180.0 268.9l1.0 -13.0M161.9 352.0l1.4 -11.0M93.2 309.6l0.8 13.0M177.9 281.4l0.7 -11.0M78.3 328.2l0.8 -13.9M171.1 382.1l0.8 11.4" stroke="rgb(53,103,171)" stroke-width="1.9" opacity="0.95"/>
<path d="M143.1 361.7l0.3 -4.9M149.7 431.3l0.2 -4.6M126.9 303.0l0.3 -4.5M180.0 317.0l0.4 4.8M180.3 265.0l0.4 -5.2M162.3 348.7l0.5 -4.4M93.4 313.5l0.3 5.2M178.1 278.1l0.3 -4.4M78.5 324.0l0.3 -5.6M171.3 385.5l0.3 4.6" stroke="rgb(38,74,123)" stroke-width="1.9" opacity="0.76"/>
<path d="M161.9 411.7l0.7 -12.5M200.9 451.9l1.4 -11.2" stroke="rgb(53,103,171)" stroke-width="1.9" opacity="0.40"/>
<path d="M162.1 408.0l0.3 -5.0M201.3 448.5l0.6 -4.5" stroke="rgb(38,74,123)" stroke-width="1.9" opacity="0.32"/>
<path d="M93.4 379.5l0.2 -13.9M170.0 302.7l0.5 13.0M77.0 364.9l0.1 11.4M176.6 308.7l0.3 -13.5M193.0 309.1l0.4 -11.7" stroke="rgb(45,90,160)" stroke-width="1.9" opacity="0.95"/>
<path d="M93.4 375.3l0.1 -5.6M170.2 306.7l0.2 5.2M77.1 368.4l0.0 4.6M176.7 304.7l0.1 -5.4M193.2 305.6l0.2 -4.7" stroke="rgb(32,64,115)" stroke-width="1.9" opacity="0.76"/>
<path d="M117.1 297.7l0.0 -13.3M200.1 316.7l0.1 12.5M121.5 410.6l0.1 -11.6" stroke="rgb(45,90,160)" stroke-width="1.9" opacity="0.40"/>
<path d="M117.1 293.7l0.0 -5.3M200.2 320.5l0.1 5.0M121.5 407.1l0.0 -4.6" stroke="rgb(32,64,115)" stroke-width="1.9" opacity="0.32"/>
</g>
<rect x="210" y="239.8" width="60" height="15" fill="#fff" stroke="none" stroke-width="1"/>
<text x="268" y="251.5" font-size="13.5" text-anchor="end" fill="#000">t = 6 min</text>
<text x="59.2" y="258.5" font-size="26.5" text-anchor="start" fill="#000">(d)</text>
<rect x="180.5" y="426.6" width="29" height="23" rx="3" fill="none" stroke="#666" stroke-width="1.6"/>
<clipPath id="cg"><rect x="392.4" y="235.2" width="212.3" height="209.5"/></clipPath>
<g clip-path="url(#cg)">
<rect x="392.4" y="235.2" width="212.3" height="209.5" fill="#e3e3e3" stroke="none" stroke-width="1"/>
<path d="M432 451 435 460 417 460 409 454 420 449ZM500 305 491 310 478 309 472 305 482 300 495 302ZM587 240 592 245 611 245 612 242 605 238 590 238ZM426 441 426 436 420 434 418 434 409 438 409 442 417 444ZM454 252 463 258 457 264 449 264 437 259 451 252ZM450 357 452 368 449 369 442 367 434 360 437 356 440 355ZM555 404 543 412 540 411 534 407 539 401 544 401ZM442 443 449 440 440 434 426 436 426 441ZM587 309 564 311 561 314 563 317 580 320 587 318 589 312ZM514 297 509 295 517 287 520 287 531 295 529 296ZM567 452 583 452 590 455 591 461 575 474 558 458ZM558 279 573 279 582 271 552 268 548 272ZM400 359 407 357 422 363 421 369 420 370 403 369ZM555 440 558 445 561 446 576 442 577 435 574 433 563 434ZM555 440 558 445 539 448 533 438 541 437ZM462 319 461 319 435 317 433 318 434 326 438 327 452 329 462 326ZM552 268 582 271 584 270 582 262 563 257 552 260 548 263ZM564 333 569 330 557 322 548 324 544 327 554 334ZM450 385 452 381 471 379 478 387 475 390 465 391ZM536 233 532 234 525 230 528 221 530 220 542 222 545 229ZM489 251 496 255 495 257 481 260 474 257 476 251 478 250ZM504 235 523 239 532 234 525 230 513 230ZM566 398 556 404 555 404 544 401 547 395 562 395ZM420 449 409 454 406 454 390 446 390 445 409 442 417 444ZM529 296 531 295 537 294 548 295 550 297 540 304 532 301ZM422 411 426 416 419 419 402 418 401 417 401 413 404 411 417 410ZM590 330 604 326 601 322 587 318 580 320 579 328ZM558 279 573 279 580 287 566 290 554 287 553 283ZM512 328 504 331 498 331 489 326 502 322 507 323 512 327ZM409 263 405 262 386 266 387 270 401 274 405 274 411 270ZM497 381 473 378 476 370 487 370 497 373ZM498 225 508 226 516 220 514 219 496 218 493 221ZM451 413 460 415 464 425 460 428 455 428 440 422 439 418ZM389 285 401 274 387 270 364 279 387 285ZM491 418 498 415 500 413 497 407 479 406 472 412 484 418ZM397 404 401 405 404 411 401 413 384 409 383 408 394 404ZM545 390 560 387 554 380 553 380 540 387ZM580 351 579 351 575 344 578 341 592 339 605 342 609 349 591 353ZM409 438 401 435 404 430 405 430 418 434ZM493 386 501 395 486 396 475 390 478 387ZM418 329 434 326 438 327 431 337 424 336ZM581 300 590 304 587 309 564 311 561 306 566 300ZM512 328 521 332 531 331 533 328 526 324 512 327ZM495 349 500 350 502 356 496 359 481 357 478 351 479 350ZM535 378 553 380 554 380 560 377 552 367 538 368 532 375ZM426 436 420 434 425 427 430 427 441 433 440 434ZM428 262 409 263 405 262 404 257 408 255 413 254 429 257 432 259ZM520 413 500 413 498 415 511 421 521 418 520 414ZM463 445 463 451 456 452 441 448 442 443 449 440 453 440ZM398 395 389 398 394 404 397 404 404 397ZM453 400 459 399 465 391 450 385 440 389 440 395ZM453 232 452 226 438 223 426 228 426 231 434 234ZM557 230 561 228 561 224 544 221 542 222 545 229ZM577 400 578 407 593 408 600 399 599 399 586 397ZM560 352 566 354 566 358 552 360 549 358ZM418 329 434 326 433 318 429 318 410 322 413 328ZM588 234 599 231 599 227 591 225 580 232ZM467 272 479 278 477 281 452 281 450 276ZM600 399 612 401 622 406 608 413 600 413 593 408ZM534 426 547 428 560 423 560 417 546 415 533 421ZM422 284 407 289 389 285 401 274 405 274 422 281ZM525 267 529 264 522 258 503 261 503 265 509 267ZM442 273 450 276 452 281 450 284 434 287 422 284 422 281 435 273ZM389 344 399 333 401 332 414 338 409 345ZM492 437 493 432 507 432 511 435 509 438 502 440 498 440ZM502 406 506 401 520 402 523 406 519 409ZM491 418 498 415 511 421 509 424 499 424ZM469 367 476 370 473 378 471 379 452 381 446 377 449 369 452 368ZM431 248 429 257 432 259 437 259 451 252 440 245 439 245ZM555 440 541 437 547 429 563 434ZM541 437 533 438 531 438 526 435 528 428 534 426 547 428 547 429ZM512 392 502 395 501 395 493 386 498 381 510 382 516 385ZM616 313 630 315 612 326 610 326 604 326 601 322 610 314ZM494 286 479 284 469 291 480 295 494 292ZM417 390 418 395 427 398 440 395 440 389 424 386ZM566 358 576 362 580 351 579 351 566 354ZM570 249 586 250 594 256 582 262 563 257 567 250ZM393 255 381 258 376 250 390 250ZM566 398 556 404 570 410 578 407 577 400ZM503 265 490 268 480 266 481 260 495 257 503 261ZM574 241 587 240 592 245 586 250 570 249ZM478 440 472 435 465 434 453 440 463 445 477 441ZM434 287 422 284 407 289 407 294 425 301 429 301 437 296ZM595 444 610 447 611 451 590 455 583 452 587 445ZM520 253 527 244 544 246 541 253 523 255ZM576 362 591 360 591 353 580 351 576 362ZM400 359 407 357 414 352 413 348 409 345 389 344 388 344 377 349 390 358ZM560 352 549 358 546 357 545 351 557 350ZM567 238 576 231 573 230 561 228 557 230 559 238ZM461 351 478 351 481 357 472 361 456 356ZM426 228 438 223 436 218 418 218 410 222ZM417 410 404 411 401 405 412 403 414 404ZM590 330 592 339 605 342 619 336 610 326 604 326ZM539 313 561 314 564 311 561 306 540 305 536 309ZM589 419 600 413 608 413 626 424 608 429 590 424ZM520 287 531 295 537 294 539 288 531 285ZM472 318 478 309 491 310 494 315 481 319ZM502 406 506 401 502 395 501 395 486 396 477 403 479 406 497 407ZM531 438 519 442 509 438 511 435 526 435ZM590 238 605 238 606 234 599 231 588 234ZM437 296 429 301 442 308 457 308 464 305 457 296ZM499 424 509 424 512 427 507 432 493 432 488 430 488 428ZM402 389 397 392 382 391 381 389 390 385 399 385ZM413 241 432 240 439 245 431 248 418 248 411 244ZM558 445 539 448 534 451 534 457 535 457 558 458 567 452 561 446ZM469 291 464 292 457 296 464 305 472 305 482 300 480 295ZM563 434 574 433 576 428 560 423 547 428 547 429ZM539 313 561 314 563 317 557 322 548 324 537 318 537 315ZM595 444 610 447 619 441 607 432 594 437ZM520 414 540 411 543 412 546 415 533 421 521 418ZM402 389 417 390 424 386 421 380 407 380 399 385ZM566 358 576 362 576 362 574 365 553 367 552 360ZM478 440 492 437 493 432 488 430 472 435ZM530 393 532 386 529 385 516 385 512 392 526 395ZM582 262 584 270 603 272 623 260 612 256 594 256ZM489 326 489 326 476 330 476 331 490 336 494 335 498 331ZM566 398 577 400 586 397 581 388 566 389 562 395ZM551 240 536 233 532 234 523 239 523 242 527 244 544 246 548 245ZM493 344 485 344 478 346 479 350 495 349ZM416 306 414 310 429 318 433 318 435 317 442 308 429 301 425 301ZM578 407 593 408 600 413 589 419 569 415 570 410ZM511 371 512 366 497 361 487 370 497 373ZM401 413 401 417 383 418 378 415 384 409ZM407 380 401 377 401 370 403 369 420 370 425 378 421 380ZM599 227 591 225 588 221 594 218 613 222 614 223 613 225ZM476 224 479 231 493 230 498 225 493 221 478 223ZM401 370 401 377 383 379 383 379 381 374 386 370ZM529 275 525 267 509 267 509 277ZM545 390 560 387 566 389 562 395 547 395 544 394ZM607 370 612 381 606 386 585 385 579 377 584 373ZM472 318 481 319 489 326 476 330 462 326 462 319ZM476 251 474 257 463 258 454 252 464 249ZM515 303 512 306 515 309 536 309 540 305 540 304 532 301ZM430 427 441 433 455 428 440 422ZM418 248 413 254 429 257 431 248ZM513 313 499 316 494 315 491 310 500 305 512 306 515 309ZM509 277 507 278 491 274 490 268 503 265 509 267ZM453 336 461 337 466 343 458 347 449 345 452 336ZM446 406 451 413 439 418 426 416 422 411 433 406ZM378 364 311 367 381 374 386 370ZM521 349 520 349 507 348 500 350 502 356 515 356ZM494 335 490 336 488 338 496 342 503 341 504 339ZM594 256 612 256 612 245 611 245 592 245 586 250ZM483 340 488 338 490 336 476 331 471 335 477 339ZM413 348 434 345 439 346 440 355 437 356 414 352ZM590 330 592 339 578 341 564 333 569 330 579 328ZM384 236 359 230 392 221 397 220 403 223 399 233ZM465 434 460 428 455 428 441 433 440 434 449 440 453 440ZM392 425 382 422 367 427 383 432 392 428ZM574 365 584 373 579 377 560 377 552 367 553 367ZM421 369 442 367 434 360 422 363ZM464 243 456 240 440 245 451 252 454 252 464 249ZM551 342 550 336 536 336 528 340 533 344 541 345ZM560 423 560 417 569 415 589 419 590 424 576 428ZM558 279 548 272 532 276 535 281 553 283ZM474 257 481 260 480 266 468 268 457 264 463 258ZM575 224 586 221 580 218 565 217 564 217 566 222ZM481 457 475 453 463 451 456 452 451 459 462 465ZM549 358 552 360 553 367 552 367 538 368 526 363 527 361 532 359 546 357ZM567 238 576 231 580 232 588 234 590 238 587 240 574 241ZM577 435 594 437 595 444 587 445 576 442ZM478 440 492 437 498 440 491 446 485 446 477 441ZM453 400 440 395 427 398 427 402 433 406 446 406ZM514 297 509 295 503 295 495 302 500 305 512 306 515 303ZM493 230 503 235 504 235 513 230 508 226 498 225ZM388 344 373 332 389 329 399 333 389 344ZM514 297 529 296 532 301 515 303ZM566 290 562 297 566 300 581 300 589 289 580 287ZM508 226 516 220 528 221 525 230 513 230ZM560 352 566 354 579 351 575 344 560 345 557 350ZM567 238 559 238 551 240 548 245 567 250 570 249 574 241ZM486 458 503 451 503 450 491 446 485 446 475 453 481 457ZM470 242 464 243 464 249 476 251 478 250 479 244ZM548 263 552 260 541 253 523 255 522 258 529 264ZM389 302 387 304 386 309 403 313 414 310 416 306ZM413 348 434 345 432 337 431 337 424 336 414 338 409 345ZM399 385 390 385 383 379 401 377 407 380ZM493 344 496 342 488 338 483 340 485 344ZM433 406 422 411 417 410 414 404 427 402ZM539 288 537 294 548 295 551 288ZM478 235 476 232 479 231 493 230 503 235 500 237 487 238ZM615 232 606 234 599 231 599 227 613 225 617 229ZM519 442 509 438 502 440 509 447 517 446ZM548 272 552 268 548 263 529 264 525 267 529 275 532 276ZM390 385 383 379 383 379 377 380 377 387 381 389ZM510 382 498 381 497 381 497 373 511 371 518 375ZM580 287 589 289 604 288 615 282 603 272 584 270 582 271 573 279ZM497 381 473 378 471 379 478 387 493 386 498 381ZM487 243 497 243 498 247 491 248ZM556 404 570 410 569 415 560 417 546 415 543 412 555 404ZM520 349 507 348 507 342 518 342ZM389 300 378 295 387 285 389 285 407 289 407 294ZM554 380 560 377 579 377 585 385 581 388 566 389 560 387ZM453 400 459 399 477 403 479 406 472 412 460 415 451 413 446 406ZM574 433 576 428 590 424 608 429 607 432 594 437 577 435ZM532 276 529 275 509 277 507 278 506 283 517 287 520 287 531 285 535 281ZM479 244 478 250 489 251 491 248 487 243 486 243ZM528 340 523 339 517 336 521 332 531 331 536 336ZM419 419 419 425 410 426 400 422 402 418ZM455 233 453 232 452 226 458 224 476 224 479 231 476 232ZM511 336 504 339 503 341 507 342 518 342 523 339 517 336ZM512 328 521 332 517 336 511 336 504 331ZM421 369 442 367 449 369 446 377 425 378 420 370ZM521 349 515 356 527 361 532 359 532 352 523 349ZM399 233 403 223 410 222 426 228 426 231 408 236ZM615 232 606 234 605 238 612 242 624 237ZM453 336 452 329 438 327 431 337 432 337 452 336ZM515 356 502 356 496 359 497 361 512 366 526 363 527 361ZM573 230 575 224 566 222 561 224 561 228ZM557 350 560 345 551 342 541 345 542 350 545 351ZM567 250 563 257 552 260 541 253 544 246 548 245ZM532 375 538 368 526 363 512 366 511 371 518 375ZM409 438 401 435 386 437 384 440 390 445 409 442ZM532 386 540 387 553 380 535 378 529 385ZM620 396 612 401 600 399 599 399 608 387 614 389ZM420 434 425 427 419 425 410 426 405 430 418 434ZM579 328 569 330 557 322 563 317 580 320ZM488 428 488 430 472 435 465 434 460 428 464 425 479 425ZM504 331 511 336 504 339 494 335 498 331ZM436 218 438 223 452 226 458 224 458 218 437 217ZM533 438 539 448 534 451 517 446 519 442 531 438ZM507 278 491 274 479 278 477 281 479 284 494 286 506 283ZM484 418 472 412 460 415 464 425 479 425ZM478 223 476 219 490 206 496 218 493 221ZM559 238 557 230 545 229 536 233 551 240ZM566 222 564 217 547 219 544 221 561 224ZM453 336 452 329 462 326 476 330 476 331 471 335 461 337ZM404 430 392 428 383 432 386 437 401 435ZM478 235 470 242 479 244 486 243 487 238ZM456 240 440 245 439 245 432 240 434 234 453 232 455 233ZM517 315 517 319 527 322 537 318 537 315ZM589 312 587 318 601 322 610 314ZM405 430 410 426 400 422 392 425 392 428 404 430ZM389 398 382 398 370 404 383 408 394 404ZM401 320 403 313 386 309 380 312 384 320 391 322ZM478 346 471 343 466 343 458 347 461 351 478 351 479 350ZM406 454 42 599 390 446ZM413 241 408 236 399 233 384 236 386 241 396 246 400 246 411 244ZM545 351 542 350 532 352 532 359 546 357ZM521 349 520 349 518 342 523 339 528 340 533 344 523 349ZM476 224 458 224 458 218 461 216 476 219 478 223ZM523 349 533 344 541 345 542 350 532 352ZM389 302 416 306 425 301 407 294 389 300ZM520 413 519 409 523 406 534 407 540 411 520 414ZM581 300 590 304 610 302 614 300 604 288 589 289ZM581 388 585 385 606 386 608 387 599 399 586 397ZM442 273 449 264 437 259 432 259 428 262 428 270 435 273ZM478 235 476 232 455 233 456 240 464 243 470 242ZM402 389 397 392 398 395 404 397 409 397 418 395 417 390ZM404 257 405 262 386 266 375 262 381 258 393 255ZM498 247 507 248 511 244 501 241 497 243ZM512 327 526 324 527 322 517 319 507 323ZM396 246 390 250 393 255 404 257 408 255 400 246ZM435 273 422 281 405 274 411 270 428 270ZM421 380 425 378 446 377 452 381 450 385 440 389 424 386ZM526 395 527 399 520 402 506 401 502 395 512 392ZM551 288 554 287 566 290 562 297 550 297 548 295ZM553 283 554 287 551 288 539 288 531 285 535 281ZM465 391 475 390 486 396 477 403 459 399ZM491 418 499 424 488 428 479 425 484 418ZM479 284 477 281 452 281 450 284 464 292 469 291ZM591 360 608 365 616 352 609 349 591 353ZM576 362 574 365 584 373 607 370 610 368 608 365 591 360ZM456 356 472 361 469 367 452 368 450 357ZM414 352 437 356 434 360 422 363 407 357ZM520 402 523 406 534 407 539 401 527 399ZM410 322 429 318 414 310 403 313 401 320ZM561 446 567 452 583 452 587 445 576 442ZM401 417 383 418 382 422 392 425 400 422 402 418ZM534 451 517 446 509 447 503 450 503 451 517 458 534 457ZM413 241 408 236 426 231 434 234 432 240ZM472 318 478 309 472 305 464 305 457 308 461 319 462 319ZM442 273 450 276 467 272 468 268 457 264 449 264ZM386 241 371 249 376 250 390 250 396 246ZM434 287 437 296 457 296 464 292 450 284ZM548 324 544 327 533 328 526 324 527 322 537 318ZM513 313 499 316 502 322 507 323 517 319 517 315ZM530 393 544 394 545 390 540 387 532 386ZM477 339 471 335 461 337 466 343 471 343ZM493 344 496 342 503 341 507 342 507 348 500 350 495 349ZM428 270 411 270 409 263 428 262ZM520 413 519 409 502 406 497 407 500 413ZM503 235 500 237 501 241 511 244 523 242 523 239 504 235ZM512 427 528 428 526 435 511 435 507 432ZM485 344 483 340 477 339 471 343 478 346ZM486 458 503 451 517 458 517 458 495 464ZM530 393 544 394 547 395 544 401 539 401 527 399 526 395ZM521 418 533 421 534 426 528 428 512 427 509 424 511 421ZM503 261 495 257 496 255 509 251 520 253 523 255 522 258ZM418 329 424 336 414 338 401 332 413 328ZM451 459 456 452 441 448 432 451 435 460 435 460ZM487 238 500 237 501 241 497 243 487 243 486 243ZM491 274 479 278 467 272 468 268 480 266 490 268ZM511 244 523 242 527 244 520 253 509 251 507 248ZM426 416 439 418 440 422 430 427 425 427 419 425 419 419ZM458 347 461 351 456 356 450 357 440 355 439 346 449 345ZM461 319 435 317 442 308 457 308ZM409 397 412 403 414 404 427 402 427 398 418 395ZM513 313 515 309 536 309 539 313 537 315 517 315ZM389 329 373 332 337 329 384 320 391 322ZM516 385 510 382 518 375 532 375 535 378 529 385ZM587 309 590 304 610 302 616 313 610 314 589 312ZM551 342 550 336 554 334 564 333 578 341 575 344 560 345ZM411 244 400 246 408 255 413 254 418 248ZM400 359 403 369 401 370 386 370 378 364 390 358ZM442 443 426 441 417 444 420 449 432 451 441 448ZM452 336 432 337 434 345 439 346 449 345ZM413 328 410 322 401 320 391 322 389 329 399 333 401 332ZM536 336 531 331 533 328 544 327 554 334 550 336ZM491 248 498 247 507 248 509 251 496 255 489 251ZM398 395 389 398 382 398 379 394 382 391 397 392ZM404 397 397 404 401 405 412 403 409 397ZM497 361 487 370 476 370 469 367 472 361 481 357 496 359ZM517 287 509 295 503 295 494 292 494 286 506 283ZM550 297 540 304 540 305 561 306 566 300 562 297ZM590 455 611 451 612 451 613 460 605 461 591 461ZM477 441 485 446 475 453 463 451 463 445ZM491 446 503 450 509 447 502 440 498 440ZM580 232 591 225 588 221 586 221 575 224 573 230 576 231ZM494 292 480 295 482 300 495 302 503 295ZM502 322 499 316 494 315 481 319 489 326 489 326Z" fill="none" stroke="#bdbdbd" stroke-width="0.6" stroke-linejoin="round"/>
<path d="M487.7 305.2h0M598.5 241.2h0M417.2 438.2h0M452.1 258.3h0M443.4 362.0h0M542.6 405.8h0M435.5 438.2h0M576.2 314.6h0M521.0 293.5h0M561.3 273.8h0M412.5 364.4h0M566.4 439.5h0M544.8 441.7h0M446.9 323.1h0M565.4 264.6h0M555.1 328.1h0M466.2 385.2h0M483.4 254.2h0M516.4 233.9h0M554.3 398.6h0M406.7 447.5h0M539.3 297.7h0M412.0 414.2h0M589.4 323.4h0M563.0 284.2h0M501.8 327.0h0M401.2 267.7h0M487.5 375.8h0M451.8 421.2h0M386.7 276.5h0M488.2 412.7h0M395.6 408.1h0M548.2 386.4h0M588.8 347.1h0M408.3 434.0h0M487.9 390.5h0M427.8 331.2h0M573.8 305.5h0M522.6 327.7h0M490.3 352.8h0M545.7 374.0h0M429.5 432.2h0M416.6 258.4h0M509.2 415.9h0M452.7 446.1h0M396.8 399.4h0M452.3 392.6h0M586.4 403.0h0M558.5 356.2h0M421.0 324.3h0M590.8 229.6h0M464.7 277.6h0M605.3 405.9h0M546.2 421.3h0M405.1 280.9h0M514.9 262.9h0M437.8 279.5h0M402.8 338.4h0M501.3 435.6h0M514.6 405.2h0M501.0 419.8h0M461.1 374.0h0M437.3 252.2h0M551.6 435.1h0M535.6 432.3h0M504.5 387.4h0M483.4 289.8h0M427.6 392.4h0M573.7 356.3h0M577.9 254.6h0M568.7 403.3h0M491.1 262.8h0M581.5 244.9h0M466.1 439.7h0M422.0 292.5h0M595.4 448.9h0M531.1 250.0h0M582.8 356.9h0M398.1 351.3h0M551.5 353.4h0M564.7 232.7h0M469.1 354.9h0M409.2 406.8h0M602.8 332.7h0M549.6 309.7h0M604.4 420.4h0M532.3 290.3h0M482.9 314.0h0M493.6 401.1h0M517.7 437.6h0M597.7 235.1h0M449.1 302.1h0M500.5 427.8h0M391.1 388.8h0M423.4 244.5h0M470.9 297.9h0M561.0 429.3h0M548.0 317.8h0M603.3 440.4h0M531.8 415.0h0M410.7 385.4h0M563.0 361.5h0M483.4 435.5h0M524.1 389.8h0M599.4 262.8h0M488.6 331.5h0M573.3 394.4h0M536.3 240.1h0M486.4 346.1h0M429.1 310.1h0M583.1 412.1h0M499.9 368.1h0M389.1 414.4h0M411.0 374.5h0M391.1 374.9h0M516.3 271.0h0M553.2 391.4h0M596.3 378.4h0M476.5 323.5h0M466.6 253.5h0M525.3 305.1h0M440.6 427.7h0M422.5 251.7h0M502.6 311.0h0M501.7 270.9h0M457.9 341.2h0M434.4 411.0h0M510.7 351.2h0M495.2 339.0h0M599.0 249.1h0M480.8 336.6h0M429.0 350.8h0M579.2 333.8h0M451.5 433.9h0M567.1 370.4h0M431.0 364.7h0M455.4 246.4h0M539.4 340.4h0M574.0 421.0h0M546.4 278.3h0M470.2 262.4h0M541.9 361.8h0M579.3 236.7h0M585.7 440.6h0M489.1 441.3h0M436.8 400.6h0M506.3 300.3h0M502.8 229.3h0M386.9 335.7h0M522.4 299.8h0M572.7 294.0h0M566.5 349.9h0M563.5 243.4h0M472.1 246.3h0M535.1 258.0h0M400.7 307.5h0M422.3 341.2h0M394.1 381.0h0M488.9 341.6h0M420.8 405.8h0M543.8 291.3h0M490.1 234.4h0M607.2 229.8h0M509.4 442.1h0M536.8 269.1h0M506.2 376.0h0M589.2 279.9h0M483.4 382.4h0M492.9 245.0h0M556.2 410.3h0M513.4 344.7h0M391.5 292.7h0M567.5 382.9h0M461.1 406.8h0M589.5 431.7h0M521.5 281.3h0M484.9 246.5h0M526.2 334.7h0M409.4 422.4h0M511.8 339.3h0M512.8 332.3h0M433.7 371.6h0M524.8 353.9h0M413.1 229.4h0M441.1 333.0h0M511.8 360.4h0M549.2 347.5h0M553.3 251.9h0M523.0 369.6h0M400.1 438.7h0M539.9 383.1h0M414.0 429.7h0M569.7 323.2h0M475.1 429.8h0M502.7 334.9h0M526.8 443.9h0M491.0 280.6h0M473.0 419.6h0M550.8 233.6h0M464.5 332.4h0M395.7 432.3h0M480.0 240.7h0M443.6 238.2h0M525.5 317.8h0M598.6 316.4h0M400.9 426.5h0M392.4 315.8h0M470.4 347.0h0M399.4 240.8h0M539.0 354.0h0M523.5 344.1h0M533.6 348.3h0M405.7 300.8h0M528.1 409.7h0M595.6 297.4h0M595.1 392.3h0M435.8 266.2h0M467.2 237.4h0M407.3 393.2h0M391.3 259.6h0M501.9 244.6h0M517.9 323.0h0M398.5 251.7h0M419.9 273.1h0M435.8 382.7h0M516.4 397.7h0M554.8 292.2h0M543.5 285.4h0M473.3 395.4h0M489.8 422.5h0M464.8 285.1h0M599.6 356.8h0M588.4 365.2h0M458.9 361.5h0M423.2 358.2h0M529.0 403.3h0M412.6 316.9h0M576.6 446.7h0M391.6 420.8h0M422.4 236.9h0M467.7 312.0h0M455.6 269.8h0M449.0 290.4h0M534.9 323.5h0M508.4 318.3h0M537.2 390.4h0M469.6 339.7h0M500.6 345.0h0M419.7 266.3h0M509.7 410.6h0M509.2 240.1h0M517.7 431.5h0M479.4 342.4h0M536.4 396.9h0M520.3 423.2h0M508.6 255.8h0M413.9 333.4h0M492.5 241.0h0M479.1 271.2h0M516.1 247.1h0M428.0 422.3h0M449.3 350.4h0M449.5 313.1h0M417.0 400.1h0M525.2 312.3h0M523.2 379.9h0M602.0 309.6h0M561.4 339.9h0M409.6 249.3h0M391.2 365.9h0M429.8 445.2h0M443.4 340.3h0M401.5 326.5h0M541.5 331.6h0M498.1 249.7h0M388.6 394.6h0M404.7 401.2h0M483.0 363.6h0M504.6 289.9h0M552.5 301.5h0M473.6 446.3h0M500.4 443.8h0M491.3 296.8h0M492.0 319.9h0" stroke="#c2c2f0" stroke-width="4.4" stroke-linecap="round" opacity="0.85"/>
<path d="M405.9 364.5l13.1 -0.2M459.5 385.3l13.4 -0.2M476.0 254.2l14.7 -0.1M400.5 447.3l12.5 0.4M495.3 326.8l13.0 0.4M421.6 331.1l12.4 0.3M502.4 416.1l13.6 -0.5M431.1 279.7l13.4 -0.4M454.0 374.2l14.1 -0.5M571.0 254.4l13.6 0.6M544.8 353.7l13.3 -0.6M526.1 290.5l12.3 -0.3M487.4 400.9l12.5 0.5M492.9 367.9l13.9 0.4M495.6 311.2l14.1 -0.4M494.6 270.6l14.2 0.5M428.4 410.9l12.1 0.1M463.8 262.7l12.9 -0.5M499.4 375.8l13.7 0.4M549.8 410.2l12.8 0.4M506.0 344.8l14.7 -0.3M403.4 422.2l12.1 0.4M505.1 339.6l13.4 -0.6M496.0 335.1l13.4 -0.2M522.2 403.0l13.7 0.4M449.6 269.9l12.1 -0.3M501.2 318.6l14.4 -0.5M462.7 339.6l13.9 0.1M511.3 431.7l12.9 -0.5M509.1 247.0l14.1 0.2M421.5 422.5l13.1 -0.5M518.4 312.4l13.6 -0.3M594.9 309.4l14.1 0.6M484.9 319.9l14.1 -0.0" stroke="rgb(165,45,75)" stroke-width="2.3" opacity="0.95"/>
<path d="M409.9 364.5l5.2 -0.1M463.6 385.2l5.4 -0.1M480.4 254.2l5.9 -0.0M404.2 447.4l5.0 0.2M499.2 326.9l5.2 0.2M425.3 331.1l5.0 0.1M506.4 415.9l5.4 -0.2M435.1 279.5l5.4 -0.2M458.3 374.1l5.6 -0.2M575.1 254.5l5.4 0.2M548.8 353.5l5.3 -0.2M529.8 290.4l4.9 -0.1M491.1 401.0l5.0 0.2M497.1 368.0l5.6 0.2M499.8 311.1l5.6 -0.2M498.9 270.8l5.7 0.2M432.0 411.0l4.8 0.0M467.7 262.5l5.2 -0.2M503.5 375.9l5.5 0.2M553.6 410.3l5.1 0.1M510.4 344.7l5.9 -0.1M407.0 422.3l4.9 0.1M509.1 339.4l5.4 -0.2M500.0 335.0l5.4 -0.1M526.3 403.2l5.5 0.2M453.2 269.9l4.8 -0.1M505.5 318.4l5.8 -0.2M466.9 339.7l5.5 0.1M515.1 431.6l5.1 -0.2M513.3 247.1l5.6 0.1M425.4 422.3l5.2 -0.2M522.4 312.3l5.4 -0.1M599.1 309.5l5.7 0.2M489.2 319.9l5.6 -0.0" stroke="rgb(118,32,54)" stroke-width="2.3" opacity="0.76"/>
<path d="M574.6 244.8l13.8 0.1M433.4 427.8l14.4 -0.2M473.8 336.7l13.9 -0.3M436.3 238.0l14.5 0.4M510.9 323.2l14.0 -0.3" stroke="rgb(165,45,75)" stroke-width="2.3" opacity="0.40"/>
<path d="M578.7 244.9l5.5 0.0M437.7 427.7l5.8 -0.1M478.0 336.6l5.6 -0.1M440.7 238.1l5.8 0.2M515.1 323.1l5.6 -0.1" stroke="rgb(118,32,54)" stroke-width="2.3" opacity="0.32"/>
<path d="M436.5 361.4l13.9 1.3M536.0 406.2l13.3 -0.7M554.6 273.0l13.4 1.4M559.8 438.9l13.2 1.2M509.4 234.5l14.0 -1.1M547.6 399.1l13.2 -1.0M582.5 346.7l12.7 0.9M515.2 328.4l14.9 -1.4M410.4 259.2l12.4 -1.5M445.5 446.4l14.4 -0.7M579.5 402.1l13.6 1.7M551.2 356.6l14.5 -0.8M415.0 323.9l12.1 1.0M458.3 278.3l12.9 -1.5M539.5 420.8l13.4 1.0M398.4 281.5l13.4 -1.2M420.1 391.9l14.8 0.8M567.6 355.7l12.0 1.1M561.5 404.0l14.6 -1.5M596.4 332.3l12.8 0.7M543.4 310.5l12.3 -1.5M441.9 301.7l14.3 0.7M384.8 389.1l12.6 -0.6M464.4 297.3l13.1 1.2M403.2 386.1l14.9 -1.5M476.8 435.1l13.4 0.7M481.6 331.0l13.9 1.0M575.7 412.5l14.6 -0.8M384.3 375.2l13.7 -0.6M509.3 271.5l13.9 -1.0M518.9 305.4l12.8 -0.7M423.9 365.1l14.3 -0.7M448.9 247.1l13.1 -1.3M578.9 441.3l13.6 -1.4M559.4 350.5l14.2 -1.3M394.7 307.0l12.0 1.1M483.0 235.2l14.2 -1.5M503.4 442.7l12.0 -1.3M530.1 268.7l13.2 0.9M476.9 382.1l12.9 0.6M486.8 245.3l12.3 -0.6M546.6 252.3l13.4 -0.9M520.7 444.3l12.3 -0.9M465.6 420.5l14.8 -1.7M428.9 265.8l13.7 0.8M415.2 237.8l14.6 -1.7M441.6 290.1l14.8 0.7M528.1 324.0l13.5 -1.1M530.7 389.8l13.0 1.2M513.7 423.9l13.3 -1.2M485.5 241.8l13.9 -1.6M516.9 380.5l12.7 -1.2M555.1 339.5l12.6 0.9M423.6 445.7l12.4 -1.1M490.8 249.4l14.6 0.7M466.3 446.8l14.7 -1.1" stroke="rgb(175,52,77)" stroke-width="2.3" opacity="0.95"/>
<path d="M440.7 361.7l5.5 0.5M540.0 405.9l5.3 -0.3M558.6 273.5l5.4 0.6M563.8 439.3l5.3 0.5M513.6 234.1l5.6 -0.5M551.6 398.8l5.3 -0.4M586.3 346.9l5.1 0.4M519.7 328.0l6.0 -0.6M414.1 258.7l5.0 -0.6M449.8 446.2l5.8 -0.3M583.6 402.6l5.5 0.7M555.6 356.3l5.8 -0.3M418.6 324.2l4.8 0.4M462.1 277.9l5.2 -0.6M543.6 421.1l5.3 0.4M402.4 281.2l5.3 -0.5M424.6 392.2l5.9 0.3M571.2 356.1l4.8 0.4M565.8 403.6l5.8 -0.6M600.2 332.5l5.1 0.3M547.1 310.0l4.9 -0.6M446.2 301.9l5.7 0.3M388.6 389.0l5.0 -0.2M468.3 297.7l5.2 0.5M407.7 385.7l6.0 -0.6M480.8 435.3l5.3 0.3M485.8 331.3l5.5 0.4M580.1 412.3l5.9 -0.3M388.4 375.0l5.5 -0.2M513.5 271.2l5.6 -0.4M522.7 305.2l5.1 -0.3M428.2 364.9l5.7 -0.3M452.8 246.7l5.2 -0.5M583.0 440.8l5.5 -0.6M563.7 350.1l5.7 -0.5M398.3 307.3l4.8 0.4M487.3 234.7l5.7 -0.6M507.0 442.3l4.8 -0.5M534.1 268.9l5.3 0.4M480.8 382.3l5.2 0.3M490.5 245.1l4.9 -0.2M550.6 252.0l5.4 -0.4M524.4 444.1l4.9 -0.4M470.1 420.0l5.9 -0.7M433.1 266.0l5.5 0.3M419.5 237.3l5.8 -0.7M446.0 290.3l5.9 0.3M532.2 323.7l5.4 -0.4M534.6 390.2l5.2 0.5M517.7 423.5l5.3 -0.5M489.7 241.3l5.6 -0.6M520.7 380.1l5.1 -0.5M558.9 339.7l5.0 0.3M427.3 445.4l5.0 -0.4M495.2 249.6l5.8 0.3M470.7 446.5l5.9 -0.4" stroke="rgb(126,37,55)" stroke-width="2.3" opacity="0.76"/>
<path d="M559.0 264.1l12.8 1.1M480.7 413.5l14.9 -1.5M390.5 400.1l12.6 -1.3M529.4 432.9l12.4 -1.2M384.6 291.9l13.8 1.4M473.7 241.5l12.7 -1.6M381.3 395.4l14.7 -1.5" stroke="rgb(175,52,77)" stroke-width="2.3" opacity="0.40"/>
<path d="M562.8 264.4l5.1 0.4M485.2 413.0l5.9 -0.6M394.3 399.7l5.1 -0.5M533.1 432.6l4.9 -0.5M388.8 292.4l5.5 0.6M477.5 241.0l5.1 -0.7M385.7 394.9l5.9 -0.6" stroke="rgb(126,37,55)" stroke-width="2.3" opacity="0.32"/>
<path d="M440.4 322.0l13.0 2.2M508.7 263.8l12.3 -1.7M494.4 434.4l13.8 2.4M524.7 250.8l12.7 -1.7M542.0 318.7l11.9 -1.8M517.6 391.0l13.0 -2.5M565.9 395.4l14.6 -2.0M469.2 324.9l14.6 -2.7M415.9 253.0l13.3 -2.6M450.8 342.3l14.2 -2.1M503.8 352.2l13.7 -2.0M573.0 334.8l12.2 -1.9M572.4 238.2l13.8 -3.0M566.4 295.0l12.6 -2.0M560.8 381.9l13.6 2.1M518.4 353.0l12.8 1.8M516.2 370.9l13.6 -2.6M468.8 428.8l12.5 1.9M458.3 333.3l12.4 -1.7M389.6 433.6l12.1 -2.6M592.1 317.5l13.0 -2.2M516.8 345.5l13.4 -2.9M527.4 349.2l12.5 -1.9M589.5 298.6l12.2 -2.4M384.5 260.8l13.5 -2.3M537.4 286.3l12.1 -1.8M452.7 362.6l12.4 -2.3M417.2 359.3l12.0 -2.2M405.9 318.1l13.4 -2.4M413.7 267.4l12.1 -2.1M529.1 398.1l14.7 -2.4M443.5 312.3l12.0 1.6M437.5 341.4l11.8 -2.3M397.8 402.6l13.8 -2.9M475.6 364.8l14.8 -2.4M545.5 302.7l14.0 -2.5" stroke="rgb(185,60,80)" stroke-width="2.3" opacity="0.95"/>
<path d="M444.3 322.7l5.2 0.9M512.4 263.3l4.9 -0.7M498.6 435.1l5.5 1.0M528.5 250.3l5.1 -0.7M545.6 318.2l4.8 -0.7M521.5 390.3l5.2 -1.0M570.3 394.8l5.8 -0.8M473.5 324.1l5.8 -1.1M419.9 252.2l5.3 -1.0M455.1 341.6l5.7 -0.8M507.9 351.6l5.5 -0.8M576.7 334.2l4.9 -0.8M576.6 237.3l5.5 -1.2M570.1 294.4l5.0 -0.8M564.8 382.5l5.4 0.9M522.2 353.5l5.1 0.7M520.3 370.1l5.4 -1.0M472.6 429.4l5.0 0.7M462.0 332.8l5.0 -0.7M393.2 432.8l4.8 -1.0M596.0 316.8l5.2 -0.9M520.8 344.7l5.3 -1.1M531.1 348.6l5.0 -0.7M593.1 297.9l4.9 -1.0M388.6 260.1l5.4 -0.9M541.0 285.8l4.8 -0.7M456.4 361.9l5.0 -0.9M420.8 358.6l4.8 -0.9M410.0 317.4l5.4 -1.0M417.3 266.7l4.8 -0.8M533.5 397.3l5.9 -0.9M447.1 312.8l4.8 0.6M441.1 340.7l4.7 -0.9M401.9 401.7l5.5 -1.1M480.1 364.1l5.9 -0.9M549.7 301.9l5.6 -1.0" stroke="rgb(133,43,57)" stroke-width="2.3" opacity="0.76"/>
<path d="M410.1 439.7l14.1 -3.0M518.7 316.9l13.5 1.9M532.0 355.1l14.0 -2.4M460.6 238.5l13.3 -2.3M535.3 332.5l12.3 -1.6" stroke="rgb(185,60,80)" stroke-width="2.3" opacity="0.40"/>
<path d="M414.4 438.8l5.6 -1.2M522.8 317.4l5.4 0.8M536.2 354.4l5.6 -0.9M464.5 237.9l5.3 -0.9M539.0 332.0l4.9 -0.7" stroke="rgb(133,43,57)" stroke-width="2.3" opacity="0.32"/>
<path d="M592.6 239.8l11.9 2.8M513.8 295.5l14.4 -3.9M479.5 348.0l13.8 -3.8M546.1 393.0l14.2 -3.2M592.7 250.8l12.7 -3.4M567.8 422.8l12.4 -3.5M535.0 363.5l13.8 -3.3M482.0 439.5l14.1 3.7M556.8 245.4l13.5 -4.0M416.3 343.1l11.9 -3.7M582.7 433.6l13.6 -3.8M478.3 248.3l13.3 -3.5M427.6 373.5l12.3 -3.7M505.3 362.1l13.0 -3.5M463.6 348.6l13.6 -3.2M589.2 393.8l12.0 -3.0M592.3 358.6l14.6 -3.6M503.2 412.6l13.1 -4.1M502.5 257.2l12.1 -2.8M494.3 445.5l12.1 -3.4" stroke="rgb(205,85,90)" stroke-width="2.3" opacity="0.95"/>
<path d="M596.1 240.6l4.7 1.1M518.1 294.3l5.7 -1.5M483.7 346.9l5.5 -1.5M550.3 392.1l5.7 -1.3M596.5 249.8l5.1 -1.4M571.5 421.7l5.0 -1.4M539.2 362.5l5.5 -1.3M486.2 440.6l5.7 1.5M560.8 244.2l5.4 -1.6M419.9 342.0l4.8 -1.5M586.8 432.5l5.4 -1.5M482.3 247.2l5.3 -1.4M431.3 372.4l4.9 -1.5M509.2 361.1l5.2 -1.4M467.7 347.6l5.4 -1.3M592.8 392.9l4.8 -1.2M596.7 357.5l5.8 -1.4M507.1 411.4l5.2 -1.6M506.2 256.3l4.9 -1.1M497.9 444.4l4.8 -1.4" stroke="rgb(147,61,64)" stroke-width="2.3" opacity="0.76"/>
<path d="M454.9 408.7l12.5 -3.8M434.4 335.0l13.4 -4.0M495.1 242.9l13.5 3.4" stroke="rgb(205,85,90)" stroke-width="2.3" opacity="0.40"/>
<path d="M458.6 407.5l5.0 -1.5M438.4 333.8l5.4 -1.6M499.2 243.9l5.4 1.3" stroke="rgb(147,61,64)" stroke-width="2.3" opacity="0.32"/>
<path d="M480.8 307.6l13.7 -4.8M428.5 435.5l13.9 5.4M569.5 317.2l13.5 -5.1M541.2 389.1l14.0 -5.3M422.6 434.7l13.7 -5.0M431.4 254.6l11.9 -4.8M415.2 290.0l13.7 4.9M476.3 311.6l13.2 4.8M407.4 432.4l13.4 -5.4M545.1 231.5l11.3 4.1M509.9 399.8l13.0 -4.1M570.4 448.9l12.4 -4.4M493.8 347.1l13.7 -4.4M402.6 252.0l13.9 -5.3M395.0 328.6l13.1 -4.2M498.0 292.1l13.1 -4.5" stroke="rgb(225,110,100)" stroke-width="2.3" opacity="0.85"/>
<path d="M485.0 306.2l5.5 -1.9M432.7 437.2l5.6 2.2M573.5 315.7l5.4 -2.1M545.4 387.5l5.6 -2.1M426.7 433.2l5.5 -2.0M435.0 253.2l4.8 -1.9M419.3 291.5l5.5 1.9M480.3 313.1l5.3 1.9M411.4 430.8l5.3 -2.2M548.5 232.7l4.5 1.6M513.8 398.5l5.2 -1.7M574.2 447.6l5.0 -1.8M497.9 345.8l5.5 -1.7M406.8 250.4l5.6 -2.1M398.9 327.4l5.2 -1.7M502.0 290.8l5.3 -1.8" stroke="rgb(162,79,72)" stroke-width="2.3" opacity="0.68"/>
<path d="M525.2 417.2l13.3 -4.4" stroke="rgb(225,110,100)" stroke-width="2.3" opacity="0.40"/>
<path d="M529.2 415.9l5.3 -1.8" stroke="rgb(162,79,72)" stroke-width="2.3" opacity="0.32"/>
<path d="M538.8 444.4l12.0 -5.4M540.1 376.5l11.2 -4.9M544.8 438.3l13.6 -6.3M477.6 292.7l11.5 -5.9M392.1 348.7l11.9 5.0M494.0 430.6l12.9 -5.7M556.7 358.2l12.7 6.5M540.4 280.9l12.0 -5.2M506.4 329.6l12.9 5.3M484.7 299.8l13.1 -6.0" stroke="rgb(231,130,110)" stroke-width="2.3" opacity="0.85"/>
<path d="M542.4 442.8l4.8 -2.2M543.5 375.0l4.5 -2.0M548.9 436.4l5.4 -2.5M481.1 291.0l4.6 -2.4M395.7 350.2l4.7 2.0M497.9 428.9l5.2 -2.3M560.5 360.2l5.1 2.6M544.0 279.3l4.8 -2.1M510.2 331.2l5.2 2.1M488.6 298.0l5.2 -2.4" stroke="rgb(166,93,79)" stroke-width="2.3" opacity="0.68"/>
<path d="M495.0 422.4l12.0 -5.3M514.9 284.1l13.2 -5.6" stroke="rgb(231,130,110)" stroke-width="2.3" opacity="0.40"/>
<path d="M498.6 420.8l4.8 -2.1M518.8 282.4l5.3 -2.3" stroke="rgb(166,93,79)" stroke-width="2.3" opacity="0.32"/>
<path d="M549.2 324.7l11.9 6.8M482.2 373.0l10.6 5.7M460.0 443.0l12.1 -6.4M511.9 441.1l11.6 -7.0M555.1 433.0l11.7 -7.2M534.3 343.5l10.3 -6.2M500.9 297.0l11.0 6.5M415.5 402.8l10.7 6.0M601.3 233.1l11.8 -6.5M399.4 304.2l12.5 -6.8M522.3 412.9l11.6 -6.5" stroke="rgb(238,150,120)" stroke-width="2.3" opacity="0.85"/>
<path d="M552.7 326.7l4.8 2.7M485.3 374.7l4.2 2.3M463.7 441.0l4.8 -2.6M515.4 439.0l4.6 -2.8M558.7 430.8l4.7 -2.9M537.4 341.7l4.1 -2.5M504.1 299.0l4.4 2.6M418.7 404.6l4.3 2.4M604.8 231.1l4.7 -2.6M403.2 302.2l5.0 -2.7M525.8 411.0l4.7 -2.6" stroke="rgb(171,108,86)" stroke-width="2.3" opacity="0.68"/>
<path d="M446.9 396.0l11.0 -6.8" stroke="rgb(238,150,120)" stroke-width="2.3" opacity="0.40"/>
<path d="M450.1 393.9l4.4 -2.7" stroke="rgb(171,108,86)" stroke-width="2.3" opacity="0.32"/>
<path d="M446.2 262.3l11.8 -8.0M583.2 327.4l12.5 -8.0M445.9 417.3l11.8 7.9M498.4 391.6l12.2 -8.4M461.7 250.1l9.8 6.9M423.0 354.8l12.0 -7.9M529.2 254.0l11.9 7.9M584.2 276.5l10.0 6.8M564.8 319.8l9.9 6.9M504.1 236.8l10.0 6.6" stroke="rgb(240,175,150)" stroke-width="2.3" opacity="0.85"/>
<path d="M449.7 259.9l4.7 -3.2M586.9 325.0l5.0 -3.2M449.4 419.7l4.7 3.2M502.1 389.1l4.9 -3.4M464.7 252.2l3.9 2.8M426.6 352.4l4.8 -3.2M532.7 256.4l4.8 3.2M587.2 278.5l4.0 2.7M567.7 321.9l4.0 2.8M507.1 238.7l4.0 2.7" stroke="rgb(172,126,108)" stroke-width="2.3" opacity="0.68"/>
<path d="M443.8 354.1l11.1 -7.5" stroke="rgb(240,175,150)" stroke-width="2.3" opacity="0.40"/>
<path d="M447.1 351.9l4.4 -3.0" stroke="rgb(172,126,108)" stroke-width="2.3" opacity="0.32"/>
<path d="M396.9 445.0l6.5 -12.4M464.7 317.6l5.9 -11.2" stroke="rgb(133,187,227)" stroke-width="2.3" opacity="0.85"/>
<path d="M398.8 441.2l2.6 -5.0M466.5 314.2l2.4 -4.5" stroke="rgb(95,134,163)" stroke-width="2.3" opacity="0.68"/>
<path d="M601.3 414.5l6.2 11.9" stroke="rgb(133,187,227)" stroke-width="2.3" opacity="0.40"/>
<path d="M603.2 418.0l2.5 4.7" stroke="rgb(95,134,163)" stroke-width="2.3" opacity="0.32"/>
<path d="M409.0 407.9l6.1 12.7M392.9 413.6l5.4 -11.0M405.2 427.4l6.2 13.2M570.7 312.0l6.3 -13.0M408.6 368.9l4.8 11.3M448.6 427.1l6.0 13.6M523.5 340.6l5.4 -11.7M396.8 246.9l5.3 -12.3" stroke="rgb(108,168,218)" stroke-width="2.3" opacity="0.85"/>
<path d="M410.8 411.7l2.4 5.1M394.5 410.3l2.1 -4.4M407.0 431.4l2.5 5.3M572.6 308.1l2.5 -5.2M410.0 372.3l1.9 4.5M450.3 431.2l2.4 5.5M525.1 337.1l2.2 -4.7M398.4 243.3l2.1 -4.9" stroke="rgb(77,120,156)" stroke-width="2.3" opacity="0.68"/>
<path d="M562.2 239.5l5.2 -13.6M486.5 334.6l4.8 14.1M410.9 223.8l4.3 11.3M389.2 360.2l4.0 11.4" stroke="rgb(89,149,206)" stroke-width="2.3" opacity="0.85"/>
<path d="M563.7 235.4l2.1 -5.4M488.0 338.8l1.9 5.6M412.2 227.2l1.7 4.5M390.4 363.6l1.6 4.6" stroke="rgb(64,107,148)" stroke-width="2.3" opacity="0.68"/>
<path d="M537.5 291.1l3.6 13.3M596.1 228.7l3.2 12.8M387.4 407.8l3.5 13.2M501.0 223.0l3.7 12.6M385.1 328.7l3.6 14.0M398.7 433.4l4.3 -13.7M586.7 372.2l3.3 -14.0M412.1 326.4l3.5 14.0M477.6 277.0l3.0 -11.6" stroke="rgb(70,130,195)" stroke-width="2.3" opacity="0.95"/>
<path d="M538.6 295.1l1.4 5.3M597.1 232.5l1.3 5.1M388.4 411.8l1.4 5.3M502.1 226.8l1.5 5.0M386.2 332.9l1.4 5.6M400.0 429.2l1.7 -5.5M587.7 368.0l1.3 -5.6M413.2 330.6l1.4 5.6M478.5 273.5l1.2 -4.7" stroke="rgb(50,93,140)" stroke-width="2.3" opacity="0.76"/>
<path d="M463.2 278.0l3.2 14.3" stroke="rgb(70,130,195)" stroke-width="2.3" opacity="0.40"/>
<path d="M464.2 282.3l1.3 5.7" stroke="rgb(50,93,140)" stroke-width="2.3" opacity="0.32"/>
<path d="M401.5 332.3l2.6 12.0M490.1 270.0l2.0 -14.5M594.2 455.2l2.4 -12.5M397.3 258.2l2.4 -13.0M415.5 392.8l3.1 14.6" stroke="rgb(61,116,183)" stroke-width="2.3" opacity="0.95"/>
<path d="M402.3 335.9l1.1 4.8M490.7 265.7l0.8 -5.8M594.9 451.4l1.0 -5.0M398.1 254.3l1.0 -5.2M416.4 397.2l1.2 5.8" stroke="rgb(43,83,131)" stroke-width="2.3" opacity="0.76"/>
<path d="M595.1 385.6l2.4 -14.3" stroke="rgb(61,116,183)" stroke-width="2.3" opacity="0.40"/>
<path d="M595.8 381.3l0.9 -5.7" stroke="rgb(43,83,131)" stroke-width="2.3" opacity="0.32"/>
<path d="M386.2 283.8l1.0 -14.4M590.4 236.2l0.8 -13.2M602.9 434.1l0.9 12.5M435.8 408.0l1.9 -14.8M548.7 354.7l1.0 -14.3M478.9 349.8l0.9 -14.9" stroke="rgb(53,103,171)" stroke-width="2.3" opacity="0.95"/>
<path d="M386.5 279.4l0.4 -5.8M590.6 232.2l0.3 -5.3M603.1 437.9l0.3 5.0M436.4 403.6l0.8 -5.9M549.0 350.4l0.4 -5.7M479.2 345.4l0.4 -6.0" stroke="rgb(38,74,123)" stroke-width="2.3" opacity="0.76"/>
<path d="M539.4 376.5l1.1 13.2" stroke="rgb(53,103,171)" stroke-width="2.3" opacity="0.40"/>
<path d="M539.7 380.5l0.5 5.3" stroke="rgb(38,74,123)" stroke-width="2.3" opacity="0.32"/>
<path d="M582.6 350.8l0.5 12.4M408.9 413.8l0.6 -13.9M394.0 388.0l0.2 -13.9M392.3 308.3l0.2 15.0M473.2 388.4l0.2 14.0" stroke="rgb(45,90,160)" stroke-width="2.3" opacity="0.95"/>
<path d="M582.7 354.5l0.2 4.9M409.1 409.6l0.2 -5.5M394.1 383.8l0.1 -5.6M392.3 312.8l0.1 6.0M473.2 392.6l0.1 5.6" stroke="rgb(32,64,115)" stroke-width="2.3" opacity="0.76"/>
<path d="M567.0 363.9l0.3 13.0M435.6 375.2l0.4 14.9" stroke="rgb(45,90,160)" stroke-width="2.3" opacity="0.40"/>
<path d="M567.1 367.8l0.1 5.2M435.7 379.7l0.2 6.0" stroke="rgb(32,64,115)" stroke-width="2.3" opacity="0.32"/>
</g>
<rect x="533" y="235.2" width="72" height="15.5" fill="#fff" stroke="none" stroke-width="1"/>
<text x="603" y="247.3" font-size="13.5" text-anchor="end" fill="#000">t = 147min</text>
<text x="392.1" y="256.7" font-size="26.5" text-anchor="start" fill="#000">(g)</text>
<text x="363.3" y="344.2" font-size="16.2" text-anchor="middle" fill="#000" transform="rotate(-90 363.3 344.2)">Anteroposterior (<tspan font-family="Liberation Serif" font-style="italic">μm</tspan>)</text>
<line x1="308.7" y1="240.4" x2="308.7" y2="446.3" stroke="#444" stroke-width="1.3" stroke-dasharray="3 2.2"/>
<path d="M305.1 247.4 L302.5 260.7 L297.4 274.5 L298.9 286.3 L293.8 299.1 L308.1 311.3 L305.6 324.6 L291.8 336.9 L310.7 349.6 L295.3 361.9 L293.3 374.7 L295.3 388 L297.9 400.7 L294.8 413.5 L284.6 426.3 L290.2 438.6" stroke="#2aa0f4" fill="none" stroke-width="1.2"/>
<circle cx="305.1" cy="247.4" r="3.3" fill="#c4c4c4" stroke="#35a4f4" stroke-width="1.2"/>
<circle cx="302.5" cy="260.7" r="3.3" fill="#c4c4c4" stroke="#35a4f4" stroke-width="1.2"/>
<circle cx="297.4" cy="274.5" r="3.3" fill="#c4c4c4" stroke="#35a4f4" stroke-width="1.2"/>
<circle cx="298.9" cy="286.3" r="3.3" fill="#c4c4c4" stroke="#35a4f4" stroke-width="1.2"/>
<circle cx="293.8" cy="299.1" r="3.3" fill="#c4c4c4" stroke="#35a4f4" stroke-width="1.2"/>
<circle cx="308.1" cy="311.3" r="3.3" fill="#c4c4c4" stroke="#35a4f4" stroke-width="1.2"/>
<circle cx="305.6" cy="324.6" r="3.3" fill="#c4c4c4" stroke="#35a4f4" stroke-width="1.2"/>
<circle cx="291.8" cy="336.9" r="3.3" fill="#c4c4c4" stroke="#35a4f4" stroke-width="1.2"/>
<circle cx="310.7" cy="349.6" r="3.3" fill="#c4c4c4" stroke="#35a4f4" stroke-width="1.2"/>
<circle cx="295.3" cy="361.9" r="3.3" fill="#c4c4c4" stroke="#35a4f4" stroke-width="1.2"/>
<circle cx="293.3" cy="374.7" r="3.3" fill="#c4c4c4" stroke="#35a4f4" stroke-width="1.2"/>
<circle cx="295.3" cy="388" r="3.3" fill="#c4c4c4" stroke="#35a4f4" stroke-width="1.2"/>
<circle cx="297.9" cy="400.7" r="3.3" fill="#c4c4c4" stroke="#35a4f4" stroke-width="1.2"/>
<circle cx="294.8" cy="413.5" r="3.3" fill="#c4c4c4" stroke="#35a4f4" stroke-width="1.2"/>
<circle cx="284.6" cy="426.3" r="3.3" fill="#c4c4c4" stroke="#35a4f4" stroke-width="1.2"/>
<circle cx="290.2" cy="438.6" r="3.3" fill="#c4c4c4" stroke="#35a4f4" stroke-width="1.2"/>
<rect x="275.3" y="240.4" width="66.8" height="205.9" fill="none" stroke="#444" stroke-width="1"/>
<line x1="275.3" y1="280.7" x2="278.3" y2="280.7" stroke="#444" stroke-width="1"/>
<line x1="342.1" y1="280.7" x2="339.1" y2="280.7" stroke="#444" stroke-width="1"/>
<line x1="275.3" y1="338.4" x2="278.3" y2="338.4" stroke="#444" stroke-width="1"/>
<line x1="342.1" y1="338.4" x2="339.1" y2="338.4" stroke="#444" stroke-width="1"/>
<line x1="275.3" y1="395.6" x2="278.3" y2="395.6" stroke="#444" stroke-width="1"/>
<line x1="342.1" y1="395.6" x2="339.1" y2="395.6" stroke="#444" stroke-width="1"/>
<line x1="275.3" y1="240.4" x2="275.3" y2="243.4" stroke="#444" stroke-width="1"/>
<line x1="308.7" y1="240.4" x2="308.7" y2="243.4" stroke="#444" stroke-width="1"/>
<line x1="342.1" y1="240.4" x2="342.1" y2="243.4" stroke="#444" stroke-width="1"/>
<text x="269.5" y="235.3" font-size="13.5" text-anchor="end" fill="#262626" transform="rotate(90 269.5 235.3)">0</text>
<text x="303" y="235.3" font-size="13.5" text-anchor="end" fill="#262626" transform="rotate(90 303 235.3)">0.5</text>
<text x="337.5" y="235.3" font-size="13.5" text-anchor="end" fill="#262626" transform="rotate(90 337.5 235.3)">1</text>
<text x="312" y="258.6" font-size="25.5" text-anchor="start" fill="#000">(e)</text>
<line x1="644" y1="235.6" x2="644" y2="445.1" stroke="#444" stroke-width="1.3" stroke-dasharray="3 2.2"/>
<path d="M615.9 244.3 L616.4 256.9 L612.4 269.5 L630 282.1 L615.9 294.7 L625 309.3 L629.5 321.4 L632 333.4 L638.6 346 L642.1 359.1 L641.6 371.7 L641.6 384.8 L645.1 397.9 L636.1 410.5 L652.2 423.1 L640.6 435.6" stroke="#2aa0f4" fill="none" stroke-width="1.2"/>
<circle cx="615.9" cy="244.3" r="3.3" fill="#c4c4c4" stroke="#35a4f4" stroke-width="1.2"/>
<circle cx="616.4" cy="256.9" r="3.3" fill="#c4c4c4" stroke="#35a4f4" stroke-width="1.2"/>
<circle cx="612.4" cy="269.5" r="3.3" fill="#c4c4c4" stroke="#35a4f4" stroke-width="1.2"/>
<circle cx="630" cy="282.1" r="3.3" fill="#c4c4c4" stroke="#35a4f4" stroke-width="1.2"/>
<circle cx="615.9" cy="294.7" r="3.3" fill="#c4c4c4" stroke="#35a4f4" stroke-width="1.2"/>
<circle cx="625" cy="309.3" r="3.3" fill="#c4c4c4" stroke="#35a4f4" stroke-width="1.2"/>
<circle cx="629.5" cy="321.4" r="3.3" fill="#c4c4c4" stroke="#35a4f4" stroke-width="1.2"/>
<circle cx="632" cy="333.4" r="3.3" fill="#c4c4c4" stroke="#35a4f4" stroke-width="1.2"/>
<circle cx="638.6" cy="346" r="3.3" fill="#c4c4c4" stroke="#35a4f4" stroke-width="1.2"/>
<circle cx="642.1" cy="359.1" r="3.3" fill="#c4c4c4" stroke="#35a4f4" stroke-width="1.2"/>
<circle cx="641.6" cy="371.7" r="3.3" fill="#c4c4c4" stroke="#35a4f4" stroke-width="1.2"/>
<circle cx="641.6" cy="384.8" r="3.3" fill="#c4c4c4" stroke="#35a4f4" stroke-width="1.2"/>
<circle cx="645.1" cy="397.9" r="3.3" fill="#c4c4c4" stroke="#35a4f4" stroke-width="1.2"/>
<circle cx="636.1" cy="410.5" r="3.3" fill="#c4c4c4" stroke="#35a4f4" stroke-width="1.2"/>
<circle cx="652.2" cy="423.1" r="3.3" fill="#c4c4c4" stroke="#35a4f4" stroke-width="1.2"/>
<circle cx="640.6" cy="435.6" r="3.3" fill="#c4c4c4" stroke="#35a4f4" stroke-width="1.2"/>
<rect x="609.3" y="235.6" width="69.4" height="209.5" fill="none" stroke="#444" stroke-width="1"/>
<line x1="609.3" y1="276.5" x2="612.3" y2="276.5" stroke="#444" stroke-width="1"/>
<line x1="678.7" y1="276.5" x2="675.7" y2="276.5" stroke="#444" stroke-width="1"/>
<line x1="609.3" y1="334.4" x2="612.3" y2="334.4" stroke="#444" stroke-width="1"/>
<line x1="678.7" y1="334.4" x2="675.7" y2="334.4" stroke="#444" stroke-width="1"/>
<line x1="609.3" y1="391.3" x2="612.3" y2="391.3" stroke="#444" stroke-width="1"/>
<line x1="678.7" y1="391.3" x2="675.7" y2="391.3" stroke="#444" stroke-width="1"/>
<text x="608.6" y="452" font-size="13.5" text-anchor="start" fill="#262626" transform="rotate(90 608.6 452)">0</text>
<text x="638.8" y="452" font-size="13.5" text-anchor="start" fill="#262626" transform="rotate(90 638.8 452)">0.5</text>
<text x="672" y="452" font-size="13.5" text-anchor="start" fill="#262626" transform="rotate(90 672 452)">1</text>
<text x="646.8" y="255.8" font-size="26.5" text-anchor="start" fill="#000">(h)</text>
<line x1="64.6" y1="486.9" x2="269.3" y2="486.9" stroke="#444" stroke-width="1.3" stroke-dasharray="3 2.2"/>
<rect x="131.8" y="453.6" width="83.8" height="66.6" fill="none" stroke="#3cb8f5" stroke-width="2.5" stroke-dasharray="4 2.5"/>
<path d="M73.1 492.9 L85.3 496.9 L97.1 500 L110.4 513.8 L122.6 509.2 L134.4 480.6 L147.7 468.8 L159.9 472.4 L172.7 468.8 L185 476 L197.8 473.9 L210 479.6 L222.8 493.9 L235.6 510.7 L248.3 507.7 L260.6 518.9" stroke="#f23cc3" fill="none" stroke-width="1"/>
<rect x="70.3" y="490.1" width="5.6" height="5.6" fill="#c4c4c4" stroke="#f23cc3" stroke-width="1"/>
<rect x="82.5" y="494.1" width="5.6" height="5.6" fill="#c4c4c4" stroke="#f23cc3" stroke-width="1"/>
<rect x="94.3" y="497.2" width="5.6" height="5.6" fill="#c4c4c4" stroke="#f23cc3" stroke-width="1"/>
<rect x="107.6" y="511" width="5.6" height="5.6" fill="#c4c4c4" stroke="#f23cc3" stroke-width="1"/>
<rect x="119.8" y="506.4" width="5.6" height="5.6" fill="#c4c4c4" stroke="#f23cc3" stroke-width="1"/>
<rect x="131.6" y="477.8" width="5.6" height="5.6" fill="#c4c4c4" stroke="#f23cc3" stroke-width="1"/>
<rect x="144.9" y="466" width="5.6" height="5.6" fill="#c4c4c4" stroke="#f23cc3" stroke-width="1"/>
<rect x="157.1" y="469.6" width="5.6" height="5.6" fill="#c4c4c4" stroke="#f23cc3" stroke-width="1"/>
<rect x="169.9" y="466" width="5.6" height="5.6" fill="#c4c4c4" stroke="#f23cc3" stroke-width="1"/>
<rect x="182.2" y="473.2" width="5.6" height="5.6" fill="#c4c4c4" stroke="#f23cc3" stroke-width="1"/>
<rect x="195" y="471.1" width="5.6" height="5.6" fill="#c4c4c4" stroke="#f23cc3" stroke-width="1"/>
<rect x="207.2" y="476.8" width="5.6" height="5.6" fill="#c4c4c4" stroke="#f23cc3" stroke-width="1"/>
<rect x="220" y="491.1" width="5.6" height="5.6" fill="#c4c4c4" stroke="#f23cc3" stroke-width="1"/>
<rect x="232.8" y="507.9" width="5.6" height="5.6" fill="#c4c4c4" stroke="#f23cc3" stroke-width="1"/>
<rect x="245.5" y="504.9" width="5.6" height="5.6" fill="#c4c4c4" stroke="#f23cc3" stroke-width="1"/>
<rect x="257.8" y="516.1" width="5.6" height="5.6" fill="#c4c4c4" stroke="#f23cc3" stroke-width="1"/>
<rect x="203" y="454.2" width="66" height="13" fill="#fff" stroke="none" stroke-width="1"/>
<text x="266.5" y="463.6" font-size="12.5" text-anchor="end" fill="#000">t = 0-0.5 hr</text>
<rect x="64.6" y="453.6" width="204.7" height="66.6" fill="none" stroke="#262626" stroke-width="1"/>
<line x1="104" y1="520.2" x2="104" y2="517.2" stroke="#262626" stroke-width="1"/>
<line x1="104" y1="453.6" x2="104" y2="456.6" stroke="#262626" stroke-width="1"/>
<text x="104" y="538.3" font-size="14" text-anchor="middle" fill="#262626">50</text>
<line x1="161.8" y1="520.2" x2="161.8" y2="517.2" stroke="#262626" stroke-width="1"/>
<line x1="161.8" y1="453.6" x2="161.8" y2="456.6" stroke="#262626" stroke-width="1"/>
<text x="161.8" y="538.3" font-size="14" text-anchor="middle" fill="#262626">100</text>
<line x1="219.6" y1="520.2" x2="219.6" y2="517.2" stroke="#262626" stroke-width="1"/>
<line x1="219.6" y1="453.6" x2="219.6" y2="456.6" stroke="#262626" stroke-width="1"/>
<text x="219.6" y="538.3" font-size="14" text-anchor="middle" fill="#262626">150</text>
<line x1="64.6" y1="520.2" x2="67.6" y2="520.2" stroke="#262626" stroke-width="1"/>
<line x1="269.3" y1="520.2" x2="266.3" y2="520.2" stroke="#262626" stroke-width="1"/>
<text x="60.4" y="525.7" font-size="14" text-anchor="end" fill="#262626">0</text>
<line x1="64.6" y1="486.9" x2="67.6" y2="486.9" stroke="#262626" stroke-width="1"/>
<line x1="269.3" y1="486.9" x2="266.3" y2="486.9" stroke="#262626" stroke-width="1"/>
<text x="60.4" y="492.4" font-size="14" text-anchor="end" fill="#262626">0.5</text>
<line x1="64.6" y1="453.6" x2="67.6" y2="453.6" stroke="#262626" stroke-width="1"/>
<line x1="269.3" y1="453.6" x2="266.3" y2="453.6" stroke="#262626" stroke-width="1"/>
<text x="55.8" y="462.8" font-size="14" text-anchor="end" fill="#262626">1</text>
<text x="36" y="486.9" font-size="14" text-anchor="middle" fill="#000" transform="rotate(-90 36 486.9)">S</text>
<text x="160.7" y="555.7" font-size="16" text-anchor="middle" fill="#000">Mediolateral (<tspan font-family="Liberation Serif" font-style="italic">μm</tspan>)</text>
<text x="61.8" y="473.5" font-size="26.5" text-anchor="start" fill="#000">(f)</text>
<line x1="395.6" y1="486.6" x2="601.6" y2="486.6" stroke="#444" stroke-width="1.3" stroke-dasharray="3 2.2"/>
<rect x="487" y="453.4" width="61" height="66.9" fill="none" stroke="#3cb8f5" stroke-width="2.5" stroke-dasharray="4 2.5"/>
<path d="M404 492.9 L417 504 L429.1 503 L442.2 509.6 L454.8 510.6 L467.4 500 L480 499.5 L492.6 476.3 L505.2 466.8 L517.7 459.2 L530.3 458.2 L542.9 472.8 L555.5 507 L568.1 499 L580.7 504.5 L593.3 505.5" stroke="#f23cc3" fill="none" stroke-width="1"/>
<rect x="401.2" y="490.1" width="5.6" height="5.6" fill="#c4c4c4" stroke="#f23cc3" stroke-width="1"/>
<rect x="414.2" y="501.2" width="5.6" height="5.6" fill="#c4c4c4" stroke="#f23cc3" stroke-width="1"/>
<rect x="426.3" y="500.2" width="5.6" height="5.6" fill="#c4c4c4" stroke="#f23cc3" stroke-width="1"/>
<rect x="439.4" y="506.8" width="5.6" height="5.6" fill="#c4c4c4" stroke="#f23cc3" stroke-width="1"/>
<rect x="452" y="507.8" width="5.6" height="5.6" fill="#c4c4c4" stroke="#f23cc3" stroke-width="1"/>
<rect x="464.6" y="497.2" width="5.6" height="5.6" fill="#c4c4c4" stroke="#f23cc3" stroke-width="1"/>
<rect x="477.2" y="496.7" width="5.6" height="5.6" fill="#c4c4c4" stroke="#f23cc3" stroke-width="1"/>
<rect x="489.8" y="473.5" width="5.6" height="5.6" fill="#c4c4c4" stroke="#f23cc3" stroke-width="1"/>
<rect x="502.4" y="464" width="5.6" height="5.6" fill="#c4c4c4" stroke="#f23cc3" stroke-width="1"/>
<rect x="514.9" y="456.4" width="5.6" height="5.6" fill="#c4c4c4" stroke="#f23cc3" stroke-width="1"/>
<rect x="527.5" y="455.4" width="5.6" height="5.6" fill="#c4c4c4" stroke="#f23cc3" stroke-width="1"/>
<rect x="540.1" y="470" width="5.6" height="5.6" fill="#c4c4c4" stroke="#f23cc3" stroke-width="1"/>
<rect x="552.7" y="504.2" width="5.6" height="5.6" fill="#c4c4c4" stroke="#f23cc3" stroke-width="1"/>
<rect x="565.3" y="496.2" width="5.6" height="5.6" fill="#c4c4c4" stroke="#f23cc3" stroke-width="1"/>
<rect x="577.9" y="501.7" width="5.6" height="5.6" fill="#c4c4c4" stroke="#f23cc3" stroke-width="1"/>
<rect x="590.5" y="502.7" width="5.6" height="5.6" fill="#c4c4c4" stroke="#f23cc3" stroke-width="1"/>
<rect x="537" y="454" width="64" height="13" fill="#fff" stroke="none" stroke-width="1"/>
<text x="599" y="463" font-size="12.5" text-anchor="end" fill="#000">t = 2.5-3 hr</text>
<rect x="395.6" y="453.4" width="206" height="66.9" fill="none" stroke="#262626" stroke-width="1"/>
<line x1="434.7" y1="520.3" x2="434.7" y2="517.3" stroke="#262626" stroke-width="1"/>
<line x1="434.7" y1="453.4" x2="434.7" y2="456.4" stroke="#262626" stroke-width="1"/>
<text x="434.7" y="538.4" font-size="14" text-anchor="middle" fill="#262626">50</text>
<line x1="491.1" y1="520.3" x2="491.1" y2="517.3" stroke="#262626" stroke-width="1"/>
<line x1="491.1" y1="453.4" x2="491.1" y2="456.4" stroke="#262626" stroke-width="1"/>
<text x="491.1" y="538.4" font-size="14" text-anchor="middle" fill="#262626">100</text>
<line x1="547.5" y1="520.3" x2="547.5" y2="517.3" stroke="#262626" stroke-width="1"/>
<line x1="547.5" y1="453.4" x2="547.5" y2="456.4" stroke="#262626" stroke-width="1"/>
<text x="547.5" y="538.4" font-size="14" text-anchor="middle" fill="#262626">150</text>
<line x1="395.6" y1="520.3" x2="398.6" y2="520.3" stroke="#262626" stroke-width="1"/>
<line x1="601.6" y1="520.3" x2="598.6" y2="520.3" stroke="#262626" stroke-width="1"/>
<text x="391.4" y="525.8" font-size="14" text-anchor="end" fill="#262626">0</text>
<line x1="395.6" y1="486.8" x2="398.6" y2="486.8" stroke="#262626" stroke-width="1"/>
<line x1="601.6" y1="486.8" x2="598.6" y2="486.8" stroke="#262626" stroke-width="1"/>
<text x="391.4" y="492.3" font-size="14" text-anchor="end" fill="#262626">0.5</text>
<line x1="395.6" y1="453.4" x2="398.6" y2="453.4" stroke="#262626" stroke-width="1"/>
<line x1="601.6" y1="453.4" x2="598.6" y2="453.4" stroke="#262626" stroke-width="1"/>
<text x="389" y="458.7" font-size="14" text-anchor="end" fill="#262626">1</text>
<text x="368.5" y="486.7" font-size="14" text-anchor="middle" fill="#000" transform="rotate(-90 368.5 486.7)">S</text>
<text x="510" y="555.7" font-size="16" text-anchor="middle" fill="#000">Mediolateral (<tspan font-family="Liberation Serif" font-style="italic">μm</tspan>)</text>
<text x="396.2" y="474.2" font-size="26.5" text-anchor="start" fill="#000">(i)</text>
<line x1="209.4" y1="435.8" x2="294" y2="457.5" stroke="#666" stroke-width="1.6"/>
<path d="M297 458.5 L288.5 451.5 L287 459.5Z" fill="#666"/>
<rect x="274.6" y="463.9" width="70.9" height="44.9" fill="#d6d6d6" stroke="#1aa58a" stroke-width="2.2" stroke-dasharray="8 4"/>
<ellipse cx="309.5" cy="479.5" rx="24.5" ry="7.2" fill="#8c8c8c" transform="rotate(-30 309.5 479.5)"/>
<line x1="289.5" y1="491" x2="329.5" y2="468.5" stroke="#f08a70" stroke-width="2"/>
<line x1="276.4" y1="491.3" x2="338" y2="491.3" stroke="#000" stroke-width="1.3"/>
<path d="M343 491.3 L335.5 488 L335.5 494.6Z" fill="#000"/>
<path d="M316 491 A9 9 0 0 0 309.5 483" fill="none" stroke="#a0308c" stroke-width="1.5"/>
<text x="322.4" y="487.5" font-size="13" text-anchor="middle" fill="#6a2a5a"><tspan font-family="Liberation Serif" font-style="italic">θ</tspan></text>
<text x="310.8" y="504.6" font-size="12.2" text-anchor="middle" fill="#000">Mediolateral</text>
<path d="M72.5 709.7 L77.2 691.8 L81.3 633.1 L86 641.8 L90.1 625.3 L95 632.3 L99.1 638 L103.4 637 L107.9 624.2 L111.9 624.6 L116.6 635.3 L120.7 611.9 L125.6 604 L129.7 629.3 L133.8 605.7 L138.9 623.4 L143.2 621.3 L147.7 609.5 L151.8 639.3 L156.3 601.9 L161 606 L165.1 614.1 L169.2 640.3 L173.9 620.6 L178.4 619.2 L183.1 613.3 L187.6 640.7 L191.6 625.5 L195.7 575.6 L200.4 599.2 L205.1 620.9 L209.2 599.9 L213.3 612.4 L218 604.5 L222.5 595.9 L226.6 627 L231.1 623.8 L235.8 622.1 L239.9 603.5 L244.6 600.8 L248.6 607.7 L253.5 616.2 L257.6 616.5 L262.3 609.8 L266.4 599.8 L271.1 602.2 L275.6 620.1 L280.1 611.8 L283.8 625.5 L288.3 623 L293 600.2 L297.1 600.7 L301.8 600.5 L305.9 616.7 L310.8 606.1 L314.9 625.3 L319.6 600.5 L323.6 591.5 L328.3 584.5 L332.8 586.4 L332.8 621.6 L328.3 625.8 L323.6 620.6 L319.6 617.5 L314.9 656.9 L310.8 647.7 L305.9 637.7 L301.8 629.2 L297.1 615.4 L293 640.2 L288.3 648.7 L283.8 649.9 L280.1 637.1 L275.6 651.9 L271.1 628.6 L266.4 616.8 L262.3 644.2 L257.6 634.6 L253.5 645.7 L248.6 635.8 L244.6 636 L239.9 631.7 L235.8 650.9 L231.1 643.5 L226.6 641.7 L222.5 627.8 L218 621.5 L213.3 638 L209.2 640.8 L205.1 654.7 L200.4 631.8 L195.7 612.1 L191.6 641.6 L187.6 653.7 L183.1 643.7 L178.4 651.4 L173.9 653.5 L169.2 658.8 L165.1 654.1 L161 633.5 L156.3 639 L151.8 658.5 L147.7 630 L143.2 655.6 L138.9 638 L133.8 635.1 L129.7 658.4 L125.6 621.8 L120.7 630.5 L116.6 659.3 L111.9 654.1 L107.9 666.7 L103.4 695.2 L99.1 677.5 L95 680.1 L90.1 661 L86 703.5 L81.3 688.3 L77.2 749.5 L72.5 766.1Z" stroke="#3a3a3a" fill="#cbcbcb" stroke-width="0.6"/>
<path d="M72.5 727 L77.2 708.6 L81.3 658.6 L86 677 L90.1 644.7 L95 645.9 L99.1 662 L103.4 676.4 L107.9 647.3 L111.9 639.8 L116.6 650 L120.7 621.4 L125.6 614.2 L129.7 637.1 L133.8 626.9 L138.9 629.6 L143.2 637.7 L147.7 615.7 L151.8 645.3 L156.3 617.3 L161 615.2 L165.1 633.6 L169.2 646.3 L173.9 642.2 L178.4 637.7 L183.1 631 L187.6 646.9 L191.6 632.6 L195.7 596.9 L200.4 617.7 L205.1 636.2 L209.2 620.5 L213.3 631.1 L218 615.2 L222.5 609.6 L226.6 633.5 L231.1 634.6 L235.8 640.3 L239.9 618.8 L244.6 615.2 L248.6 628.6 L253.5 635.2 L257.6 623.5 L262.3 622.9 L266.4 610.7 L271.1 621.5 L275.6 632.7 L280.1 625 L283.8 643.8 L288.3 637.2 L293 621.9 L297.1 607.2 L301.8 612.7 L305.9 627 L310.8 626.6 L314.9 636.8 L319.6 610.7 L323.6 604.9 L328.3 604.5 L332.8 604.1" stroke="#e0a52a" fill="none" stroke-width="1"/>
<circle cx="72.5" cy="727" r="4" fill="#EDB120" stroke="#d9a21c" stroke-width="0.6"/>
<circle cx="77.2" cy="708.6" r="4" fill="#EDB120" stroke="#d9a21c" stroke-width="0.6"/>
<circle cx="81.3" cy="658.6" r="4" fill="#EDB120" stroke="#d9a21c" stroke-width="0.6"/>
<circle cx="86" cy="677" r="4" fill="#EDB120" stroke="#d9a21c" stroke-width="0.6"/>
<circle cx="90.1" cy="644.7" r="4" fill="#EDB120" stroke="#d9a21c" stroke-width="0.6"/>
<circle cx="95" cy="645.9" r="4" fill="#EDB120" stroke="#d9a21c" stroke-width="0.6"/>
<circle cx="99.1" cy="662" r="4" fill="#EDB120" stroke="#d9a21c" stroke-width="0.6"/>
<circle cx="103.4" cy="676.4" r="4" fill="#EDB120" stroke="#d9a21c" stroke-width="0.6"/>
<circle cx="107.9" cy="647.3" r="4" fill="#EDB120" stroke="#d9a21c" stroke-width="0.6"/>
<circle cx="111.9" cy="639.8" r="4" fill="#EDB120" stroke="#d9a21c" stroke-width="0.6"/>
<circle cx="116.6" cy="650" r="4" fill="#EDB120" stroke="#d9a21c" stroke-width="0.6"/>
<circle cx="120.7" cy="621.4" r="4" fill="#EDB120" stroke="#d9a21c" stroke-width="0.6"/>
<circle cx="125.6" cy="614.2" r="4" fill="#EDB120" stroke="#d9a21c" stroke-width="0.6"/>
<circle cx="129.7" cy="637.1" r="4" fill="#EDB120" stroke="#d9a21c" stroke-width="0.6"/>
<circle cx="133.8" cy="626.9" r="4" fill="#EDB120" stroke="#d9a21c" stroke-width="0.6"/>
<circle cx="138.9" cy="629.6" r="4" fill="#EDB120" stroke="#d9a21c" stroke-width="0.6"/>
<circle cx="143.2" cy="637.7" r="4" fill="#EDB120" stroke="#d9a21c" stroke-width="0.6"/>
<circle cx="147.7" cy="615.7" r="4" fill="#EDB120" stroke="#d9a21c" stroke-width="0.6"/>
<circle cx="151.8" cy="645.3" r="4" fill="#EDB120" stroke="#d9a21c" stroke-width="0.6"/>
<circle cx="156.3" cy="617.3" r="4" fill="#EDB120" stroke="#d9a21c" stroke-width="0.6"/>
<circle cx="161" cy="615.2" r="4" fill="#EDB120" stroke="#d9a21c" stroke-width="0.6"/>
<circle cx="165.1" cy="633.6" r="4" fill="#EDB120" stroke="#d9a21c" stroke-width="0.6"/>
<circle cx="169.2" cy="646.3" r="4" fill="#EDB120" stroke="#d9a21c" stroke-width="0.6"/>
<circle cx="173.9" cy="642.2" r="4" fill="#EDB120" stroke="#d9a21c" stroke-width="0.6"/>
<circle cx="178.4" cy="637.7" r="4" fill="#EDB120" stroke="#d9a21c" stroke-width="0.6"/>
<circle cx="183.1" cy="631" r="4" fill="#EDB120" stroke="#d9a21c" stroke-width="0.6"/>
<circle cx="187.6" cy="646.9" r="4" fill="#EDB120" stroke="#d9a21c" stroke-width="0.6"/>
<circle cx="191.6" cy="632.6" r="4" fill="#EDB120" stroke="#d9a21c" stroke-width="0.6"/>
<circle cx="195.7" cy="596.9" r="4" fill="#EDB120" stroke="#d9a21c" stroke-width="0.6"/>
<circle cx="200.4" cy="617.7" r="4" fill="#EDB120" stroke="#d9a21c" stroke-width="0.6"/>
<circle cx="205.1" cy="636.2" r="4" fill="#EDB120" stroke="#d9a21c" stroke-width="0.6"/>
<circle cx="209.2" cy="620.5" r="4" fill="#EDB120" stroke="#d9a21c" stroke-width="0.6"/>
<circle cx="213.3" cy="631.1" r="4" fill="#EDB120" stroke="#d9a21c" stroke-width="0.6"/>
<circle cx="218" cy="615.2" r="4" fill="#EDB120" stroke="#d9a21c" stroke-width="0.6"/>
<circle cx="222.5" cy="609.6" r="4" fill="#EDB120" stroke="#d9a21c" stroke-width="0.6"/>
<circle cx="226.6" cy="633.5" r="4" fill="#EDB120" stroke="#d9a21c" stroke-width="0.6"/>
<circle cx="231.1" cy="634.6" r="4" fill="#EDB120" stroke="#d9a21c" stroke-width="0.6"/>
<circle cx="235.8" cy="640.3" r="4" fill="#EDB120" stroke="#d9a21c" stroke-width="0.6"/>
<circle cx="239.9" cy="618.8" r="4" fill="#EDB120" stroke="#d9a21c" stroke-width="0.6"/>
<circle cx="244.6" cy="615.2" r="4" fill="#EDB120" stroke="#d9a21c" stroke-width="0.6"/>
<circle cx="248.6" cy="628.6" r="4" fill="#EDB120" stroke="#d9a21c" stroke-width="0.6"/>
<circle cx="253.5" cy="635.2" r="4" fill="#EDB120" stroke="#d9a21c" stroke-width="0.6"/>
<circle cx="257.6" cy="623.5" r="4" fill="#EDB120" stroke="#d9a21c" stroke-width="0.6"/>
<circle cx="262.3" cy="622.9" r="4" fill="#EDB120" stroke="#d9a21c" stroke-width="0.6"/>
<circle cx="266.4" cy="610.7" r="4" fill="#EDB120" stroke="#d9a21c" stroke-width="0.6"/>
<circle cx="271.1" cy="621.5" r="4" fill="#EDB120" stroke="#d9a21c" stroke-width="0.6"/>
<circle cx="275.6" cy="632.7" r="4" fill="#EDB120" stroke="#d9a21c" stroke-width="0.6"/>
<circle cx="280.1" cy="625" r="4" fill="#EDB120" stroke="#d9a21c" stroke-width="0.6"/>
<circle cx="283.8" cy="643.8" r="4" fill="#EDB120" stroke="#d9a21c" stroke-width="0.6"/>
<circle cx="288.3" cy="637.2" r="4" fill="#EDB120" stroke="#d9a21c" stroke-width="0.6"/>
<circle cx="293" cy="621.9" r="4" fill="#EDB120" stroke="#d9a21c" stroke-width="0.6"/>
<circle cx="297.1" cy="607.2" r="4" fill="#EDB120" stroke="#d9a21c" stroke-width="0.6"/>
<circle cx="301.8" cy="612.7" r="4" fill="#EDB120" stroke="#d9a21c" stroke-width="0.6"/>
<circle cx="305.9" cy="627" r="4" fill="#EDB120" stroke="#d9a21c" stroke-width="0.6"/>
<circle cx="310.8" cy="626.6" r="4" fill="#EDB120" stroke="#d9a21c" stroke-width="0.6"/>
<circle cx="314.9" cy="636.8" r="4" fill="#EDB120" stroke="#d9a21c" stroke-width="0.6"/>
<circle cx="319.6" cy="610.7" r="4" fill="#EDB120" stroke="#d9a21c" stroke-width="0.6"/>
<circle cx="323.6" cy="604.9" r="4" fill="#EDB120" stroke="#d9a21c" stroke-width="0.6"/>
<circle cx="328.3" cy="604.5" r="4" fill="#EDB120" stroke="#d9a21c" stroke-width="0.6"/>
<circle cx="332.8" cy="604.1" r="4" fill="#EDB120" stroke="#d9a21c" stroke-width="0.6"/>
<path d="M72.9 734.8 L75.1 711 L77.3 696.8 L79.5 687.1 L81.6 679.9 L83.8 674.3 L86 669.8 L88.2 666.1 L90.4 662.9 L92.6 660.2 L94.7 657.8 L96.9 655.7 L99.1 653.9 L101.3 652.2 L103.5 650.7 L105.6 649.3 L107.8 648 L110 646.9 L112.2 645.8 L114.4 644.8 L116.6 643.9 L118.7 643 L120.9 642.2 L123.1 641.4 L125.3 640.7 L127.5 640 L129.7 639.4 L131.8 638.8 L134 638.2 L136.2 637.7 L138.4 637.1 L140.6 636.6 L142.8 636.2 L144.9 635.7 L147.1 635.3 L149.3 634.8 L151.5 634.4 L153.7 634 L155.9 633.7 L158 633.3 L160.2 633 L162.4 632.6 L164.6 632.3 L166.8 632 L169 631.7 L171.1 631.4 L173.3 631.1 L175.5 630.9 L177.7 630.6 L179.9 630.3 L182.1 630.1 L184.2 629.8 L186.4 629.6 L188.6 629.4 L190.8 629.1 L193 628.9 L195.2 628.7 L197.3 628.5 L199.5 628.3 L201.7 628.1 L203.9 627.9 L206.1 627.7 L208.2 627.6 L210.4 627.4 L212.6 627.2 L214.8 627 L217 626.9 L219.2 626.7 L221.3 626.5 L223.5 626.4 L225.7 626.2 L227.9 626.1 L230.1 625.9 L232.3 625.8 L234.4 625.6 L236.6 625.5 L238.8 625.4 L241 625.2 L243.2 625.1 L245.4 625 L247.5 624.9 L249.7 624.7 L251.9 624.6 L254.1 624.5 L256.3 624.4 L258.5 624.3 L260.6 624.1 L262.8 624 L265 623.9 L267.2 623.8 L269.4 623.7 L271.6 623.6 L273.7 623.5 L275.9 623.4 L278.1 623.3 L280.3 623.2 L282.5 623.1 L284.7 623 L286.8 622.9 L289 622.8 L291.2 622.7 L293.4 622.7 L295.6 622.6 L297.7 622.5 L299.9 622.4 L302.1 622.3 L304.3 622.2 L306.5 622.1 L308.7 622.1 L310.8 622 L313 621.9 L315.2 621.8 L317.4 621.8 L319.6 621.7 L321.8 621.6 L323.9 621.5 L326.1 621.5 L328.3 621.4 L330.5 621.3 L332.7 621.2" stroke="#0072BD" fill="none" stroke-width="3.4"/>
<rect x="70.1" y="571.7" width="266.1" height="196.3" fill="none" stroke="#262626" stroke-width="1"/>
<line x1="141.9" y1="768" x2="141.9" y2="765" stroke="#262626" stroke-width="1"/>
<line x1="141.9" y1="571.7" x2="141.9" y2="574.7" stroke="#262626" stroke-width="1"/>
<text x="141.9" y="787" font-size="14.8" text-anchor="middle" fill="#262626">50</text>
<line x1="215.3" y1="768" x2="215.3" y2="765" stroke="#262626" stroke-width="1"/>
<line x1="215.3" y1="571.7" x2="215.3" y2="574.7" stroke="#262626" stroke-width="1"/>
<text x="215.3" y="787" font-size="14.8" text-anchor="middle" fill="#262626">100</text>
<line x1="288.6" y1="768" x2="288.6" y2="765" stroke="#262626" stroke-width="1"/>
<line x1="288.6" y1="571.7" x2="288.6" y2="574.7" stroke="#262626" stroke-width="1"/>
<text x="288.6" y="787" font-size="14.8" text-anchor="middle" fill="#262626">150</text>
<line x1="70.1" y1="768" x2="73.1" y2="768" stroke="#262626" stroke-width="1"/>
<line x1="336.2" y1="768" x2="333.2" y2="768" stroke="#262626" stroke-width="1"/>
<text x="65.1" y="773.8" font-size="14.8" text-anchor="end" fill="#262626">0.4</text>
<line x1="70.1" y1="735.3" x2="73.1" y2="735.3" stroke="#262626" stroke-width="1"/>
<line x1="336.2" y1="735.3" x2="333.2" y2="735.3" stroke="#262626" stroke-width="1"/>
<text x="65.1" y="741.1" font-size="14.8" text-anchor="end" fill="#262626">0.5</text>
<line x1="70.1" y1="702.6" x2="73.1" y2="702.6" stroke="#262626" stroke-width="1"/>
<line x1="336.2" y1="702.6" x2="333.2" y2="702.6" stroke="#262626" stroke-width="1"/>
<text x="65.1" y="708.4" font-size="14.8" text-anchor="end" fill="#262626">0.6</text>
<line x1="70.1" y1="669.9" x2="73.1" y2="669.9" stroke="#262626" stroke-width="1"/>
<line x1="336.2" y1="669.9" x2="333.2" y2="669.9" stroke="#262626" stroke-width="1"/>
<text x="65.1" y="675.6" font-size="14.8" text-anchor="end" fill="#262626">0.7</text>
<line x1="70.1" y1="637.1" x2="73.1" y2="637.1" stroke="#262626" stroke-width="1"/>
<line x1="336.2" y1="637.1" x2="333.2" y2="637.1" stroke="#262626" stroke-width="1"/>
<text x="65.1" y="642.9" font-size="14.8" text-anchor="end" fill="#262626">0.8</text>
<line x1="70.1" y1="604.4" x2="73.1" y2="604.4" stroke="#262626" stroke-width="1"/>
<line x1="336.2" y1="604.4" x2="333.2" y2="604.4" stroke="#262626" stroke-width="1"/>
<text x="65.1" y="610.2" font-size="14.8" text-anchor="end" fill="#262626">0.9</text>
<line x1="70.1" y1="571.7" x2="73.1" y2="571.7" stroke="#262626" stroke-width="1"/>
<line x1="336.2" y1="571.7" x2="333.2" y2="571.7" stroke="#262626" stroke-width="1"/>
<text x="65.1" y="577.5" font-size="14.8" text-anchor="end" fill="#262626">1</text>
<text x="203" y="806.3" font-size="16" text-anchor="middle" fill="#262626">t (min)</text>
<text x="39.5" y="669.4" font-size="15" text-anchor="middle" fill="#262626" transform="rotate(-90 39.5 669.4)">S(t)</text>
<text x="20.9" y="577.5" font-size="26" text-anchor="start" fill="#000">(j)</text>
<text x="83.3" y="757.8" font-size="11" text-anchor="start" fill="#1060a8" stroke="#1060a8" stroke-width="0.3" style="font-family:'Liberation Serif'"><tspan font-style="italic">S</tspan>(<tspan font-style="italic">t</tspan>) = 0.90 − 0.69<tspan font-style="italic">t</tspan><tspan dy="-4.5" font-size="7.5">−0.5</tspan></text>
<rect x="218.8" y="667.7" width="92.1" height="74.8" fill="#fff" stroke="none" stroke-width="1"/>
<path d="M220.2 715.8 L221.7 708.8 L223.1 695.7 L224.7 701.1 L226.1 687.9 L227.8 688 L229.1 692.1 L230.6 699 L232.1 693.5 L233.5 690.4 L235.1 695.4 L236.4 684.3 L238.1 681.7 L239.5 689.1 L240.9 685.4 L242.6 687.8 L244.1 689.3 L245.6 677.9 L247 692 L248.5 679.3 L250.1 682.1 L251.5 685.5 L252.8 692.3 L254.4 687.7 L255.9 690.8 L257.5 687.7 L259.1 693.6 L260.4 686.6 L261.8 671.9 L263.4 678.6 L265 687.7 L266.4 682.1 L267.7 688.4 L269.3 680.5 L270.9 679.5 L272.2 686.6 L273.8 688.5 L275.4 688 L276.7 680.4 L278.3 678.3 L279.7 683.2 L281.3 688.8 L282.7 683.3 L284.3 681.3 L285.7 676 L287.3 684.1 L288.8 686.5 L290.3 682.2 L291.6 692.8 L293.1 690.7 L294.7 682.7 L296.1 674.4 L297.7 677.3 L299 685.9 L300.7 681.8 L302.1 690.3 L303.7 678.6 L305 673.5 L306.6 677.4 L308.1 676 L308.1 683.5 L306.6 685 L305 686.7 L303.7 684.6 L302.1 696.8 L300.7 694.1 L299 693.8 L297.7 689.3 L296.1 684.1 L294.7 693.9 L293.1 698.5 L291.6 700.1 L290.3 691.2 L288.8 696.6 L287.3 691.5 L285.7 688 L284.3 691.6 L282.7 692.2 L281.3 696 L279.7 692.2 L278.3 689.7 L276.7 689.9 L275.4 698.5 L273.8 695.4 L272.2 696.7 L270.9 686.5 L269.3 688.1 L267.7 692.6 L266.4 690.4 L265 697.4 L263.4 688.8 L261.8 684 L260.4 693.3 L259.1 698.9 L257.5 695.2 L255.9 696.8 L254.4 699.3 L252.8 702 L251.5 693.4 L250.1 689 L248.5 690 L247 698.9 L245.6 687.8 L244.1 698.5 L242.6 693.2 L240.9 695.7 L239.5 699.1 L238.1 686.8 L236.4 690 L235.1 704.5 L233.5 696.5 L232.1 703.4 L230.6 714.5 L229.1 711.8 L227.8 704 L226.1 702.9 L224.7 714.5 L223.1 704.5 L221.7 727.8 L220.2 739.3Z" stroke="#333" fill="#c4c4c4" stroke-width="0.4"/>
<path d="M220.3 740.1 L221.7 735 L223.2 734.5 L224.4 731.2 L225.8 731.1 L227.1 730.4 L228.8 726.2 L230.5 732.4 L232.1 728.2 L233.6 728.7 L234.9 721.1 L236.4 720.1 L237.9 720.3 L239.7 722 L241 727.1 L242.4 730 L243.9 724.1 L245.5 725.7 L246.7 729.1 L248.4 726.5 L249.7 721.1 L251.1 721.5 L252.7 719.8 L254.2 725 L255.6 715.9 L257.1 716.9 L258.7 715.1 L260.1 718.3 L261.4 714.8 L262.8 716.9 L264.2 714.7 L265.9 716.5 L267.5 719.1 L269 713.4 L270.6 718.1 L272.1 713 L273.5 714.9 L274.9 715.9 L276.6 710.3 L278 713.9 L279 700.9 L280.9 706.8 L282.4 698.8 L283.8 693.7 L285.1 702.1 L286.9 696.8 L288.2 704.7 L289.6 695.1 L291.2 694.7 L292.7 689.8 L294.1 683.6 L295.6 690.6 L297.2 695.6 L298.5 693.1 L300.1 697.3 L301.5 686.8 L303 687.9 L304.5 694.8 L305.9 686.4 L307.4 684.3 L307.4 692.5 L305.9 692.7 L304.5 703.5 L303 696.7 L301.5 694.3 L300.1 703.8 L298.5 701.6 L297.2 700.2 L295.6 699.3 L294.1 688.5 L292.7 698.9 L291.2 700.4 L289.6 701.2 L288.2 710.4 L286.9 703.2 L285.1 706.8 L283.8 701.2 L282.4 703.7 L280.9 715 L279 709 L278 720.7 L276.6 717.4 L274.9 723 L273.5 720 L272.1 719.7 L270.6 724.4 L269 719 L267.5 726.2 L265.9 723.9 L264.2 722.4 L262.8 722.3 L261.4 721.9 L260.1 722.8 L258.7 720.6 L257.1 725 L255.6 723.1 L254.2 733.5 L252.7 727.2 L251.1 728.2 L249.7 728.6 L248.4 732.9 L246.7 738.7 L245.5 733.3 L243.9 731.9 L242.4 739 L241 735.9 L239.7 729.8 L237.9 730.2 L236.4 728.3 L234.9 728.4 L233.6 736.7 L232.1 737.5 L230.5 740.5 L228.8 733.6 L227.1 737.8 L225.8 736.3 L224.4 737 L223.2 739.4 L221.7 740.8 L220.3 745.7Z" stroke="#333" fill="#c4c4c4" stroke-width="0.4"/>
<path d="M220.2 727 L221.7 720 L223.1 700.9 L224.7 707.9 L226.1 695.6 L227.8 696 L229.1 702.2 L230.6 707.7 L232.1 696.6 L233.5 693.7 L235.1 697.6 L236.4 686.7 L238.1 683.9 L239.5 692.7 L240.9 688.8 L242.6 689.8 L244.1 692.9 L245.6 684.5 L247 695.8 L248.5 685.1 L250.1 684.3 L251.5 691.3 L252.8 696.2 L254.4 694.6 L255.9 692.9 L257.5 690.4 L259.1 696.4 L260.4 691 L261.8 677.3 L263.4 685.3 L265 692.3 L266.4 686.3 L267.7 690.4 L269.3 684.3 L270.9 682.2 L272.2 691.3 L273.8 691.7 L275.4 693.9 L276.7 685.7 L278.3 684.3 L279.7 689.4 L281.3 692 L282.7 687.5 L284.3 687.3 L285.7 682.6 L287.3 686.7 L288.8 691 L290.3 688.1 L291.6 695.2 L293.1 692.7 L294.7 686.9 L296.1 681.3 L297.7 683.4 L299 688.8 L300.7 688.7 L302.1 692.6 L303.7 682.6 L305 680.4 L306.6 680.2 L308.1 680.1" stroke="#e0a52a" fill="none" stroke-width="0.6"/>
<circle cx="220.2" cy="727" r="1.9" fill="#EDB120"/>
<circle cx="221.7" cy="720" r="1.9" fill="#EDB120"/>
<circle cx="223.1" cy="700.9" r="1.9" fill="#EDB120"/>
<circle cx="224.7" cy="707.9" r="1.9" fill="#EDB120"/>
<circle cx="226.1" cy="695.6" r="1.9" fill="#EDB120"/>
<circle cx="227.8" cy="696" r="1.9" fill="#EDB120"/>
<circle cx="229.1" cy="702.2" r="1.9" fill="#EDB120"/>
<circle cx="230.6" cy="707.7" r="1.9" fill="#EDB120"/>
<circle cx="232.1" cy="696.6" r="1.9" fill="#EDB120"/>
<circle cx="233.5" cy="693.7" r="1.9" fill="#EDB120"/>
<circle cx="235.1" cy="697.6" r="1.9" fill="#EDB120"/>
<circle cx="236.4" cy="686.7" r="1.9" fill="#EDB120"/>
<circle cx="238.1" cy="683.9" r="1.9" fill="#EDB120"/>
<circle cx="239.5" cy="692.7" r="1.9" fill="#EDB120"/>
<circle cx="240.9" cy="688.8" r="1.9" fill="#EDB120"/>
<circle cx="242.6" cy="689.8" r="1.9" fill="#EDB120"/>
<circle cx="244.1" cy="692.9" r="1.9" fill="#EDB120"/>
<circle cx="245.6" cy="684.5" r="1.9" fill="#EDB120"/>
<circle cx="247" cy="695.8" r="1.9" fill="#EDB120"/>
<circle cx="248.5" cy="685.1" r="1.9" fill="#EDB120"/>
<circle cx="250.1" cy="684.3" r="1.9" fill="#EDB120"/>
<circle cx="251.5" cy="691.3" r="1.9" fill="#EDB120"/>
<circle cx="252.8" cy="696.2" r="1.9" fill="#EDB120"/>
<circle cx="254.4" cy="694.6" r="1.9" fill="#EDB120"/>
<circle cx="255.9" cy="692.9" r="1.9" fill="#EDB120"/>
<circle cx="257.5" cy="690.4" r="1.9" fill="#EDB120"/>
<circle cx="259.1" cy="696.4" r="1.9" fill="#EDB120"/>
<circle cx="260.4" cy="691" r="1.9" fill="#EDB120"/>
<circle cx="261.8" cy="677.3" r="1.9" fill="#EDB120"/>
<circle cx="263.4" cy="685.3" r="1.9" fill="#EDB120"/>
<circle cx="265" cy="692.3" r="1.9" fill="#EDB120"/>
<circle cx="266.4" cy="686.3" r="1.9" fill="#EDB120"/>
<circle cx="267.7" cy="690.4" r="1.9" fill="#EDB120"/>
<circle cx="269.3" cy="684.3" r="1.9" fill="#EDB120"/>
<circle cx="270.9" cy="682.2" r="1.9" fill="#EDB120"/>
<circle cx="272.2" cy="691.3" r="1.9" fill="#EDB120"/>
<circle cx="273.8" cy="691.7" r="1.9" fill="#EDB120"/>
<circle cx="275.4" cy="693.9" r="1.9" fill="#EDB120"/>
<circle cx="276.7" cy="685.7" r="1.9" fill="#EDB120"/>
<circle cx="278.3" cy="684.3" r="1.9" fill="#EDB120"/>
<circle cx="279.7" cy="689.4" r="1.9" fill="#EDB120"/>
<circle cx="281.3" cy="692" r="1.9" fill="#EDB120"/>
<circle cx="282.7" cy="687.5" r="1.9" fill="#EDB120"/>
<circle cx="284.3" cy="687.3" r="1.9" fill="#EDB120"/>
<circle cx="285.7" cy="682.6" r="1.9" fill="#EDB120"/>
<circle cx="287.3" cy="686.7" r="1.9" fill="#EDB120"/>
<circle cx="288.8" cy="691" r="1.9" fill="#EDB120"/>
<circle cx="290.3" cy="688.1" r="1.9" fill="#EDB120"/>
<circle cx="291.6" cy="695.2" r="1.9" fill="#EDB120"/>
<circle cx="293.1" cy="692.7" r="1.9" fill="#EDB120"/>
<circle cx="294.7" cy="686.9" r="1.9" fill="#EDB120"/>
<circle cx="296.1" cy="681.3" r="1.9" fill="#EDB120"/>
<circle cx="297.7" cy="683.4" r="1.9" fill="#EDB120"/>
<circle cx="299" cy="688.8" r="1.9" fill="#EDB120"/>
<circle cx="300.7" cy="688.7" r="1.9" fill="#EDB120"/>
<circle cx="302.1" cy="692.6" r="1.9" fill="#EDB120"/>
<circle cx="303.7" cy="682.6" r="1.9" fill="#EDB120"/>
<circle cx="305" cy="680.4" r="1.9" fill="#EDB120"/>
<circle cx="306.6" cy="680.2" r="1.9" fill="#EDB120"/>
<circle cx="308.1" cy="680.1" r="1.9" fill="#EDB120"/>
<path d="M220.3 742.1 L221.7 738.5 L223.2 736.8 L224.4 734.4 L225.8 733.3 L227.1 732.8 L228.8 731.5 L230.5 736.7 L232.1 733.3 L233.6 732.4 L234.9 724.2 L236.4 724.9 L237.9 725.5 L239.7 727.4 L241 730.7 L242.4 734.1 L243.9 729.5 L245.5 728.3 L246.7 734.2 L248.4 729.5 L249.7 725 L251.1 724.9 L252.7 724.8 L254.2 729.2 L255.6 721 L257.1 720.9 L258.7 718.5 L260.1 720.3 L261.4 719.5 L262.8 719.3 L264.2 718.1 L265.9 721.2 L267.5 724.2 L269 716.5 L270.6 721 L272.1 716.5 L273.5 717.5 L274.9 718.6 L276.6 713.6 L278 717.4 L279 705.3 L280.9 709.6 L282.4 701.4 L283.8 697.7 L285.1 704.5 L286.9 700.4 L288.2 706.9 L289.6 699.1 L291.2 698.3 L292.7 694.4 L294.1 686.3 L295.6 695.7 L297.2 697.9 L298.5 697.9 L300.1 700 L301.5 689.7 L303 691.4 L304.5 698.4 L305.9 689.1 L307.4 687.8" stroke="#1e90e8" fill="none" stroke-width="0.6"/>
<circle cx="220.3" cy="742.1" r="1.9" fill="#1e96ea"/>
<circle cx="221.7" cy="738.5" r="1.9" fill="#1e96ea"/>
<circle cx="223.2" cy="736.8" r="1.9" fill="#1e96ea"/>
<circle cx="224.4" cy="734.4" r="1.9" fill="#1e96ea"/>
<circle cx="225.8" cy="733.3" r="1.9" fill="#1e96ea"/>
<circle cx="227.1" cy="732.8" r="1.9" fill="#1e96ea"/>
<circle cx="228.8" cy="731.5" r="1.9" fill="#1e96ea"/>
<circle cx="230.5" cy="736.7" r="1.9" fill="#1e96ea"/>
<circle cx="232.1" cy="733.3" r="1.9" fill="#1e96ea"/>
<circle cx="233.6" cy="732.4" r="1.9" fill="#1e96ea"/>
<circle cx="234.9" cy="724.2" r="1.9" fill="#1e96ea"/>
<circle cx="236.4" cy="724.9" r="1.9" fill="#1e96ea"/>
<circle cx="237.9" cy="725.5" r="1.9" fill="#1e96ea"/>
<circle cx="239.7" cy="727.4" r="1.9" fill="#1e96ea"/>
<circle cx="241" cy="730.7" r="1.9" fill="#1e96ea"/>
<circle cx="242.4" cy="734.1" r="1.9" fill="#1e96ea"/>
<circle cx="243.9" cy="729.5" r="1.9" fill="#1e96ea"/>
<circle cx="245.5" cy="728.3" r="1.9" fill="#1e96ea"/>
<circle cx="246.7" cy="734.2" r="1.9" fill="#1e96ea"/>
<circle cx="248.4" cy="729.5" r="1.9" fill="#1e96ea"/>
<circle cx="249.7" cy="725" r="1.9" fill="#1e96ea"/>
<circle cx="251.1" cy="724.9" r="1.9" fill="#1e96ea"/>
<circle cx="252.7" cy="724.8" r="1.9" fill="#1e96ea"/>
<circle cx="254.2" cy="729.2" r="1.9" fill="#1e96ea"/>
<circle cx="255.6" cy="721" r="1.9" fill="#1e96ea"/>
<circle cx="257.1" cy="720.9" r="1.9" fill="#1e96ea"/>
<circle cx="258.7" cy="718.5" r="1.9" fill="#1e96ea"/>
<circle cx="260.1" cy="720.3" r="1.9" fill="#1e96ea"/>
<circle cx="261.4" cy="719.5" r="1.9" fill="#1e96ea"/>
<circle cx="262.8" cy="719.3" r="1.9" fill="#1e96ea"/>
<circle cx="264.2" cy="718.1" r="1.9" fill="#1e96ea"/>
<circle cx="265.9" cy="721.2" r="1.9" fill="#1e96ea"/>
<circle cx="267.5" cy="724.2" r="1.9" fill="#1e96ea"/>
<circle cx="269" cy="716.5" r="1.9" fill="#1e96ea"/>
<circle cx="270.6" cy="721" r="1.9" fill="#1e96ea"/>
<circle cx="272.1" cy="716.5" r="1.9" fill="#1e96ea"/>
<circle cx="273.5" cy="717.5" r="1.9" fill="#1e96ea"/>
<circle cx="274.9" cy="718.6" r="1.9" fill="#1e96ea"/>
<circle cx="276.6" cy="713.6" r="1.9" fill="#1e96ea"/>
<circle cx="278" cy="717.4" r="1.9" fill="#1e96ea"/>
<circle cx="279" cy="705.3" r="1.9" fill="#1e96ea"/>
<circle cx="280.9" cy="709.6" r="1.9" fill="#1e96ea"/>
<circle cx="282.4" cy="701.4" r="1.9" fill="#1e96ea"/>
<circle cx="283.8" cy="697.7" r="1.9" fill="#1e96ea"/>
<circle cx="285.1" cy="704.5" r="1.9" fill="#1e96ea"/>
<circle cx="286.9" cy="700.4" r="1.9" fill="#1e96ea"/>
<circle cx="288.2" cy="706.9" r="1.9" fill="#1e96ea"/>
<circle cx="289.6" cy="699.1" r="1.9" fill="#1e96ea"/>
<circle cx="291.2" cy="698.3" r="1.9" fill="#1e96ea"/>
<circle cx="292.7" cy="694.4" r="1.9" fill="#1e96ea"/>
<circle cx="294.1" cy="686.3" r="1.9" fill="#1e96ea"/>
<circle cx="295.6" cy="695.7" r="1.9" fill="#1e96ea"/>
<circle cx="297.2" cy="697.9" r="1.9" fill="#1e96ea"/>
<circle cx="298.5" cy="697.9" r="1.9" fill="#1e96ea"/>
<circle cx="300.1" cy="700" r="1.9" fill="#1e96ea"/>
<circle cx="301.5" cy="689.7" r="1.9" fill="#1e96ea"/>
<circle cx="303" cy="691.4" r="1.9" fill="#1e96ea"/>
<circle cx="304.5" cy="698.4" r="1.9" fill="#1e96ea"/>
<circle cx="305.9" cy="689.1" r="1.9" fill="#1e96ea"/>
<circle cx="307.4" cy="687.8" r="1.9" fill="#1e96ea"/>
<line x1="218.8" y1="667.7" x2="310.9" y2="667.7" stroke="#262626" stroke-width="0.8"/>
<line x1="218.8" y1="742.5" x2="310.9" y2="742.5" stroke="#262626" stroke-width="0.8"/>
<line x1="218.8" y1="667.7" x2="218.8" y2="742.5" stroke="#1a8ee6" stroke-width="0.9"/>
<line x1="310.9" y1="667.7" x2="310.9" y2="742.5" stroke="#d9a21c" stroke-width="0.9"/>
<line x1="218.8" y1="742.5" x2="218.8" y2="740.5" stroke="#262626" stroke-width="0.7"/>
<line x1="218.8" y1="667.7" x2="218.8" y2="669.7" stroke="#262626" stroke-width="0.7"/>
<text x="218.8" y="753" font-size="9" text-anchor="middle" fill="#262626">0</text>
<line x1="243.6" y1="742.5" x2="243.6" y2="740.5" stroke="#262626" stroke-width="0.7"/>
<line x1="243.6" y1="667.7" x2="243.6" y2="669.7" stroke="#262626" stroke-width="0.7"/>
<text x="243.6" y="753" font-size="9" text-anchor="middle" fill="#262626">50</text>
<line x1="268.4" y1="742.5" x2="268.4" y2="740.5" stroke="#262626" stroke-width="0.7"/>
<line x1="268.4" y1="667.7" x2="268.4" y2="669.7" stroke="#262626" stroke-width="0.7"/>
<text x="268.4" y="753" font-size="9" text-anchor="middle" fill="#262626">100</text>
<line x1="293.2" y1="742.5" x2="293.2" y2="740.5" stroke="#262626" stroke-width="0.7"/>
<line x1="293.2" y1="667.7" x2="293.2" y2="669.7" stroke="#262626" stroke-width="0.7"/>
<text x="293.2" y="753" font-size="9" text-anchor="middle" fill="#262626">150</text>
<line x1="218.8" y1="742.5" x2="220.8" y2="742.5" stroke="#1a8ee6" stroke-width="0.7"/>
<line x1="310.9" y1="742.5" x2="308.9" y2="742.5" stroke="#d9a21c" stroke-width="0.7"/>
<text x="216.5" y="745.8" font-size="9.3" text-anchor="end" fill="#1a8ee6">1.2</text>
<text x="312.6" y="745.8" font-size="9.3" text-anchor="start" fill="#d9a21c">0.4</text>
<line x1="218.8" y1="717.6" x2="220.8" y2="717.6" stroke="#1a8ee6" stroke-width="0.7"/>
<line x1="310.9" y1="717.6" x2="308.9" y2="717.6" stroke="#d9a21c" stroke-width="0.7"/>
<text x="216.5" y="720.9" font-size="9.3" text-anchor="end" fill="#1a8ee6">1.3</text>
<text x="312.6" y="720.9" font-size="9.3" text-anchor="start" fill="#d9a21c">0.6</text>
<line x1="218.8" y1="692.6" x2="220.8" y2="692.6" stroke="#1a8ee6" stroke-width="0.7"/>
<line x1="310.9" y1="692.6" x2="308.9" y2="692.6" stroke="#d9a21c" stroke-width="0.7"/>
<text x="216.5" y="695.9" font-size="9.3" text-anchor="end" fill="#1a8ee6">1.4</text>
<text x="312.6" y="695.9" font-size="9.3" text-anchor="start" fill="#d9a21c">0.8</text>
<line x1="218.8" y1="667.7" x2="220.8" y2="667.7" stroke="#1a8ee6" stroke-width="0.7"/>
<line x1="310.9" y1="667.7" x2="308.9" y2="667.7" stroke="#d9a21c" stroke-width="0.7"/>
<text x="216.5" y="671" font-size="9.3" text-anchor="end" fill="#1a8ee6">1.5</text>
<text x="312.6" y="671" font-size="9.3" text-anchor="start" fill="#d9a21c">1</text>
<text x="264.1" y="761.6" font-size="9.8" text-anchor="middle" fill="#262626">t (min)</text>
<text x="200.9" y="703.5" font-size="10.8" text-anchor="middle" fill="#1a8ee6" transform="rotate(-90 200.9 703.5)">SI(t)</text>
<text x="330" y="702.5" font-size="11" text-anchor="middle" fill="#d9a21c" transform="rotate(-90 330 702.5)">S(t)</text>
<path d="M439.7 624.2 L443.9 629.7 L439.7 635.2 L435.5 629.7Z" fill="#3A5F9A" stroke="#2d4d80" stroke-width="0.6"/>
<path d="M524.2 636.5 L528.4 642 L524.2 647.5 L520 642Z" fill="#3A5F9A" stroke="#2d4d80" stroke-width="0.6"/>
<path d="M563.8 656.8 L568 662.3 L563.8 667.8 L559.6 662.3Z" fill="#3A5F9A" stroke="#2d4d80" stroke-width="0.6"/>
<path d="M590.1 679.1 L594.3 684.6 L590.1 690.1 L585.9 684.6Z" fill="#3A5F9A" stroke="#2d4d80" stroke-width="0.6"/>
<path d="M609.6 694.9 L613.8 700.4 L609.6 705.9 L605.4 700.4Z" fill="#3A5F9A" stroke="#2d4d80" stroke-width="0.6"/>
<path d="M624.8 679.1 L629 684.6 L624.8 690.1 L620.6 684.6Z" fill="#3A5F9A" stroke="#2d4d80" stroke-width="0.6"/>
<path d="M637.7 679.4 L641.9 684.9 L637.7 690.4 L633.5 684.9Z" fill="#3A5F9A" stroke="#2d4d80" stroke-width="0.6"/>
<path d="M649 690.4 L653.2 695.9 L649 701.4 L644.8 695.9Z" fill="#3A5F9A" stroke="#2d4d80" stroke-width="0.6"/>
<path d="M658.4 709.6 L662.6 715.1 L658.4 720.6 L654.2 715.1Z" fill="#3A5F9A" stroke="#2d4d80" stroke-width="0.6"/>
<path d="M666.8 714.6 L671 720.1 L666.8 725.6 L662.6 720.1Z" fill="#3A5F9A" stroke="#2d4d80" stroke-width="0.6"/>
<rect x="434.6" y="617.4" width="7.8" height="7.8" fill="#F15E3C" stroke="#c8563c" stroke-width="0.6"/>
<rect x="521.1" y="633.1" width="7.8" height="7.8" fill="#F15E3C" stroke="#c8563c" stroke-width="0.6"/>
<rect x="559.9" y="647.3" width="7.8" height="7.8" fill="#F15E3C" stroke="#c8563c" stroke-width="0.6"/>
<rect x="586.2" y="662.3" width="7.8" height="7.8" fill="#F15E3C" stroke="#c8563c" stroke-width="0.6"/>
<rect x="605.7" y="667" width="7.8" height="7.8" fill="#F15E3C" stroke="#c8563c" stroke-width="0.6"/>
<rect x="620.9" y="663.1" width="7.8" height="7.8" fill="#F15E3C" stroke="#c8563c" stroke-width="0.6"/>
<rect x="633.8" y="663.9" width="7.8" height="7.8" fill="#F15E3C" stroke="#c8563c" stroke-width="0.6"/>
<rect x="645.1" y="663.9" width="7.8" height="7.8" fill="#F15E3C" stroke="#c8563c" stroke-width="0.6"/>
<rect x="654.5" y="679.7" width="7.8" height="7.8" fill="#F15E3C" stroke="#c8563c" stroke-width="0.6"/>
<rect x="662.9" y="692" width="7.8" height="7.8" fill="#F15E3C" stroke="#c8563c" stroke-width="0.6"/>
<circle cx="439.7" cy="613.4" r="4.6" fill="#F7B500" stroke="#c89a20" stroke-width="0.6"/>
<circle cx="525" cy="635.5" r="4.6" fill="#F7B500" stroke="#c89a20" stroke-width="0.6"/>
<circle cx="563.8" cy="643.4" r="4.6" fill="#F7B500" stroke="#c89a20" stroke-width="0.6"/>
<circle cx="590.1" cy="649.9" r="4.6" fill="#F7B500" stroke="#c89a20" stroke-width="0.6"/>
<circle cx="609.6" cy="660.4" r="4.6" fill="#F7B500" stroke="#c89a20" stroke-width="0.6"/>
<circle cx="624.8" cy="650.4" r="4.6" fill="#F7B500" stroke="#c89a20" stroke-width="0.6"/>
<circle cx="637.7" cy="647.3" r="4.6" fill="#F7B500" stroke="#c89a20" stroke-width="0.6"/>
<circle cx="649" cy="668.8" r="4.6" fill="#F7B500" stroke="#c89a20" stroke-width="0.6"/>
<circle cx="658.4" cy="677" r="4.6" fill="#F7B500" stroke="#c89a20" stroke-width="0.6"/>
<circle cx="666.8" cy="686.2" r="4.6" fill="#F7B500" stroke="#c89a20" stroke-width="0.6"/>
<line x1="410" y1="609.6" x2="675" y2="712.8" stroke="#3D85E0" stroke-width="3.5"/>
<line x1="410" y1="609.2" x2="675" y2="685" stroke="#F47C5C" stroke-width="3.5"/>
<line x1="410" y1="602.4" x2="675" y2="675.3" stroke="#FBBF2E" stroke-width="3.5"/>
<rect x="410" y="571.4" width="265" height="196.6" fill="none" stroke="#262626" stroke-width="1"/>
<line x1="410" y1="741.8" x2="414" y2="741.8" stroke="#262626" stroke-width="1"/>
<line x1="675" y1="741.8" x2="671" y2="741.8" stroke="#262626" stroke-width="1"/>
<line x1="410" y1="697" x2="414" y2="697" stroke="#262626" stroke-width="1"/>
<line x1="675" y1="697" x2="671" y2="697" stroke="#262626" stroke-width="1"/>
<line x1="410" y1="659.1" x2="414" y2="659.1" stroke="#262626" stroke-width="1"/>
<line x1="675" y1="659.1" x2="671" y2="659.1" stroke="#262626" stroke-width="1"/>
<line x1="410" y1="626.3" x2="414" y2="626.3" stroke="#262626" stroke-width="1"/>
<line x1="675" y1="626.3" x2="671" y2="626.3" stroke="#262626" stroke-width="1"/>
<line x1="410" y1="597.3" x2="414" y2="597.3" stroke="#262626" stroke-width="1"/>
<line x1="675" y1="597.3" x2="671" y2="597.3" stroke="#262626" stroke-width="1"/>
<line x1="410" y1="571.4" x2="414" y2="571.4" stroke="#262626" stroke-width="1"/>
<line x1="675" y1="571.4" x2="671" y2="571.4" stroke="#262626" stroke-width="1"/>
<line x1="410" y1="767.7" x2="412" y2="767.7" stroke="#262626" stroke-width="1"/>
<line x1="675" y1="767.7" x2="673" y2="767.7" stroke="#262626" stroke-width="1"/>
<line x1="410" y1="718.4" x2="412" y2="718.4" stroke="#262626" stroke-width="1"/>
<line x1="675" y1="718.4" x2="673" y2="718.4" stroke="#262626" stroke-width="1"/>
<line x1="410" y1="677.3" x2="412" y2="677.3" stroke="#262626" stroke-width="1"/>
<line x1="675" y1="677.3" x2="673" y2="677.3" stroke="#262626" stroke-width="1"/>
<line x1="410" y1="642.1" x2="412" y2="642.1" stroke="#262626" stroke-width="1"/>
<line x1="675" y1="642.1" x2="673" y2="642.1" stroke="#262626" stroke-width="1"/>
<line x1="410" y1="611.4" x2="412" y2="611.4" stroke="#262626" stroke-width="1"/>
<line x1="675" y1="611.4" x2="673" y2="611.4" stroke="#262626" stroke-width="1"/>
<line x1="410" y1="584" x2="412" y2="584" stroke="#262626" stroke-width="1"/>
<line x1="675" y1="584" x2="673" y2="584" stroke="#262626" stroke-width="1"/>
<line x1="410" y1="754.4" x2="412" y2="754.4" stroke="#262626" stroke-width="1"/>
<line x1="675" y1="754.4" x2="673" y2="754.4" stroke="#262626" stroke-width="1"/>
<line x1="410" y1="729.8" x2="412" y2="729.8" stroke="#262626" stroke-width="1"/>
<line x1="675" y1="729.8" x2="673" y2="729.8" stroke="#262626" stroke-width="1"/>
<line x1="410" y1="707.5" x2="412" y2="707.5" stroke="#262626" stroke-width="1"/>
<line x1="675" y1="707.5" x2="673" y2="707.5" stroke="#262626" stroke-width="1"/>
<line x1="410" y1="687" x2="412" y2="687" stroke="#262626" stroke-width="1"/>
<line x1="675" y1="687" x2="673" y2="687" stroke="#262626" stroke-width="1"/>
<line x1="410" y1="668" x2="412" y2="668" stroke="#262626" stroke-width="1"/>
<line x1="675" y1="668" x2="673" y2="668" stroke="#262626" stroke-width="1"/>
<line x1="410" y1="650.5" x2="412" y2="650.5" stroke="#262626" stroke-width="1"/>
<line x1="675" y1="650.5" x2="673" y2="650.5" stroke="#262626" stroke-width="1"/>
<line x1="410" y1="634.1" x2="412" y2="634.1" stroke="#262626" stroke-width="1"/>
<line x1="675" y1="634.1" x2="673" y2="634.1" stroke="#262626" stroke-width="1"/>
<line x1="410" y1="618.7" x2="412" y2="618.7" stroke="#262626" stroke-width="1"/>
<line x1="675" y1="618.7" x2="673" y2="618.7" stroke="#262626" stroke-width="1"/>
<line x1="410" y1="604.2" x2="412" y2="604.2" stroke="#262626" stroke-width="1"/>
<line x1="675" y1="604.2" x2="673" y2="604.2" stroke="#262626" stroke-width="1"/>
<line x1="410" y1="590.6" x2="412" y2="590.6" stroke="#262626" stroke-width="1"/>
<line x1="675" y1="590.6" x2="673" y2="590.6" stroke="#262626" stroke-width="1"/>
<line x1="410" y1="577.6" x2="412" y2="577.6" stroke="#262626" stroke-width="1"/>
<line x1="675" y1="577.6" x2="673" y2="577.6" stroke="#262626" stroke-width="1"/>
<line x1="423.6" y1="768" x2="423.6" y2="766" stroke="#262626" stroke-width="1"/>
<line x1="423.6" y1="571.4" x2="423.6" y2="573.4" stroke="#262626" stroke-width="1"/>
<line x1="435.6" y1="768" x2="435.6" y2="766" stroke="#262626" stroke-width="1"/>
<line x1="435.6" y1="571.4" x2="435.6" y2="573.4" stroke="#262626" stroke-width="1"/>
<line x1="445.9" y1="768" x2="445.9" y2="766" stroke="#262626" stroke-width="1"/>
<line x1="445.9" y1="571.4" x2="445.9" y2="573.4" stroke="#262626" stroke-width="1"/>
<line x1="455" y1="768" x2="455" y2="766" stroke="#262626" stroke-width="1"/>
<line x1="455" y1="571.4" x2="455" y2="573.4" stroke="#262626" stroke-width="1"/>
<line x1="516.8" y1="768" x2="516.8" y2="766" stroke="#262626" stroke-width="1"/>
<line x1="516.8" y1="571.4" x2="516.8" y2="573.4" stroke="#262626" stroke-width="1"/>
<line x1="548.2" y1="768" x2="548.2" y2="766" stroke="#262626" stroke-width="1"/>
<line x1="548.2" y1="571.4" x2="548.2" y2="573.4" stroke="#262626" stroke-width="1"/>
<line x1="570.4" y1="768" x2="570.4" y2="766" stroke="#262626" stroke-width="1"/>
<line x1="570.4" y1="571.4" x2="570.4" y2="573.4" stroke="#262626" stroke-width="1"/>
<line x1="587.7" y1="768" x2="587.7" y2="766" stroke="#262626" stroke-width="1"/>
<line x1="587.7" y1="571.4" x2="587.7" y2="573.4" stroke="#262626" stroke-width="1"/>
<line x1="601.8" y1="768" x2="601.8" y2="766" stroke="#262626" stroke-width="1"/>
<line x1="601.8" y1="571.4" x2="601.8" y2="573.4" stroke="#262626" stroke-width="1"/>
<line x1="613.7" y1="768" x2="613.7" y2="766" stroke="#262626" stroke-width="1"/>
<line x1="613.7" y1="571.4" x2="613.7" y2="573.4" stroke="#262626" stroke-width="1"/>
<line x1="624" y1="768" x2="624" y2="766" stroke="#262626" stroke-width="1"/>
<line x1="624" y1="571.4" x2="624" y2="573.4" stroke="#262626" stroke-width="1"/>
<line x1="633.1" y1="768" x2="633.1" y2="766" stroke="#262626" stroke-width="1"/>
<line x1="633.1" y1="571.4" x2="633.1" y2="573.4" stroke="#262626" stroke-width="1"/>
<line x1="463.2" y1="768" x2="463.2" y2="764" stroke="#262626" stroke-width="1"/>
<line x1="463.2" y1="571.4" x2="463.2" y2="575.4" stroke="#262626" stroke-width="1"/>
<line x1="641.3" y1="768" x2="641.3" y2="764" stroke="#262626" stroke-width="1"/>
<line x1="641.3" y1="571.4" x2="641.3" y2="575.4" stroke="#262626" stroke-width="1"/>
<text x="404.6" y="576.9" font-size="14.8" text-anchor="end" fill="#262626">1</text>
<text x="404.6" y="602.8" font-size="14.8" text-anchor="end" fill="#262626">0.9</text>
<text x="404.6" y="631.8" font-size="14.8" text-anchor="end" fill="#262626">0.8</text>
<text x="404.6" y="664.6" font-size="14.8" text-anchor="end" fill="#262626">0.7</text>
<text x="404.6" y="702.5" font-size="14.8" text-anchor="end" fill="#262626">0.6</text>
<text x="404.6" y="747.3" font-size="14.8" text-anchor="end" fill="#262626">0.5</text>
<text x="463.1" y="791.7" font-size="14.5" text-anchor="middle" fill="#262626">10<tspan dy="-6" font-size="11">1</tspan></text>
<text x="641.3" y="791.7" font-size="14.5" text-anchor="middle" fill="#262626">10<tspan dy="-6" font-size="11">2</tspan></text>
<text x="542.6" y="811.4" font-size="16.5" text-anchor="middle" fill="#262626">Distance r (<tspan font-family="Liberation Serif" font-style="italic">μ</tspan>m)</text>
<text x="371.7" y="669" font-size="16" text-anchor="middle" fill="#262626" transform="rotate(-90 371.7 669)">C<tspan dy="5" font-size="12">S</tspan><tspan dy="-5">(r)</tspan></text>
<text x="353.6" y="577.5" font-size="26.5" text-anchor="start" fill="#000">(k)</text>
<rect x="417.6" y="675.5" width="70.6" height="85.9" fill="#fff" stroke="#aaa" stroke-width="0.9"/>
<circle cx="429.7" cy="683.4" r="4.6" fill="#F7B500" stroke="#c89a20" stroke-width="0.6"/>
<rect x="426" y="691.2" width="8" height="8" fill="#F15E3C" stroke="#c8563c" stroke-width="0.6"/>
<path d="M430 702.1 L434.2 707.6 L430 713.1 L425.8 707.6Z" fill="#3A5F9A" stroke="#2d4d80" stroke-width="0.6"/>
<text x="441.3" y="686.9" font-size="9.5" text-anchor="start" fill="#000">t = 1st hr</text>
<text x="441.3" y="698.8" font-size="9.5" text-anchor="start" fill="#000">t = 2nd hr</text>
<text x="441.3" y="711" font-size="9.5" text-anchor="start" fill="#000">t = 3rd hr</text>
<line x1="420.5" y1="721.4" x2="439.2" y2="721.4" stroke="#FBBF2E" stroke-width="3"/>
<text x="441.5" y="727" font-size="9.5" text-anchor="start" fill="#000">r<tspan dy="-5" font-size="7.5">-0.086</tspan></text>
<line x1="420.5" y1="736.9" x2="439.2" y2="736.9" stroke="#F47C5C" stroke-width="3"/>
<text x="441.5" y="742.5" font-size="9.5" text-anchor="start" fill="#000">r<tspan dy="-5" font-size="7.5">-0.090</tspan></text>
<line x1="420.5" y1="752.4" x2="439.2" y2="752.4" stroke="#3D85E0" stroke-width="3"/>
<text x="441.5" y="758" font-size="9.5" text-anchor="start" fill="#000">r<tspan dy="-5" font-size="7.5">-0.12</tspan></text>
<filter id="hblur" x="-5%" y="-5%" width="110%" height="110%"><feGaussianBlur stdDeviation="1.6"/></filter>
<clipPath id="hI"><rect x="52" y="818" width="144" height="143"/></clipPath>
<g clip-path="url(#hI)">
<g filter="url(#hblur)" stroke-width="4">
<path stroke="#e75263" d="M48 816h12M48 820h12M48 824h12M48 872h12M184 872h4M188 880h12M60 884h4M76 884h4M84 884h4M76 888h4M84 888h4M76 892h4M84 892h4M76 896h4M84 896h4M80 900h4M188 920h12M184 924h4M180 928h8M48 932h12M176 932h4M188 940h12M76 944h4M80 948h4M172 948h4M184 948h4M180 952h4M176 956h4M176 960h4M176 964h4"/>
<path stroke="#bc3978" d="M60 816h4M60 820h4M60 824h4M100 836h4M144 840h4M160 844h4M104 848h4M160 848h4M188 848h12M104 852h4M156 852h4M104 856h4M156 856h4M180 856h4M104 860h4M148 860h8M60 872h4M76 880h4M184 880h4M64 884h4M72 884h4M88 884h4M72 888h4M88 888h4M188 888h12M72 892h4M88 892h4M72 896h4M88 896h4M80 904h4M184 908h16M124 912h4M180 912h4M124 916h4M124 920h4M176 920h4M116 924h4M64 928h4M172 928h4M64 936h4M168 936h4M68 940h4M84 940h4M48 944h16M164 944h4M60 948h8M88 948h4M64 952h8M88 952h4M68 956h4M168 956h4M188 956h12M68 960h4M168 960h4M188 960h12M68 964h4M168 964h4M188 964h12"/>
<path stroke="#8c2981" d="M64 816h4M92 816h4M64 820h4M92 820h4M64 824h4M60 832h4M140 832h4M48 836h12M48 840h12M188 840h12M136 844h4M76 848h4M168 848h4M108 852h4M168 852h4M48 856h12M108 856h4M172 856h8M108 860h4M164 860h4M104 864h4M172 868h4M176 876h4M68 884h4M92 884h4M68 888h4M92 888h4M68 892h4M92 892h4M184 892h4M68 896h4M92 896h4M68 900h4M68 904h4M88 904h4M120 904h4M68 908h16M172 908h4M68 912h16M68 916h16M68 920h16M68 924h12M112 924h4M128 924h4M168 924h4M68 928h12M120 928h4M72 932h12M92 940h4M160 940h4M160 948h4"/>
<path stroke="#5f187f" d="M68 816h8M140 816h16M188 816h12M68 820h8M140 820h16M188 820h12M68 824h8M140 824h16M188 824h12M72 828h4M188 828h12M104 832h4M136 832h4M72 840h4M172 840h4M64 844h4M64 848h4M132 848h4M176 848h4M76 852h4M112 852h4M132 852h4M136 864h4M100 868h4M72 872h4M88 872h8M168 872h4M96 876h4M176 884h4M180 896h4M100 900h4M172 900h8M100 904h4M100 908h8M164 908h4M96 912h8M164 912h4M92 916h8M164 916h4M92 920h4M88 924h4M88 928h4M160 928h4M88 932h4M112 932h4M124 932h4M156 936h4M96 940h4M152 940h4M148 944h4M156 952h4"/>
<path stroke="#6a1c81" d="M76 816h8M96 816h4M76 820h8M96 820h4M76 824h8M96 824h4M76 828h4M100 828h4M164 828h4M64 832h4M76 832h4M168 832h4M188 832h12M188 836h12M108 840h4M184 840h4M72 844h4M172 844h4M180 844h4M72 848h4M60 852h4M60 856h4M88 856h4M112 856h4M132 856h4M60 860h4M112 860h4M132 860h4M108 864h4M64 868h4M104 868h4M168 868h4M76 872h4M84 872h4M68 876h4M92 876h4M172 876h4M96 880h4M180 892h4M96 900h4M96 904h4M108 904h4M168 904h4M92 908h8M92 912h4M88 916h4M88 920h4M164 920h4M108 924h4M132 924h4M164 924h4M84 928h4M120 932h4M160 932h4M92 936h4M152 944h4M156 948h4"/>
<path stroke="#752181" d="M84 816h4M84 820h4M84 824h4M64 828h4M80 828h4M140 828h4M156 828h8M60 836h4M76 836h4M136 836h4M168 836h4M60 840h4M76 840h4M60 844h4M108 844h4M60 848h4M172 848h4M80 852h4M176 852h4M100 864h4M160 864h8M80 872h4M176 880h4M96 884h4M96 888h4M180 888h4M96 892h4M96 896h4M180 900h4M92 904h4M128 904h4M172 904h4M88 908h4M132 908h4M168 908h4M88 912h4M132 912h4M168 912h4M132 916h4M84 920h4M108 920h4M132 920h4M84 924h4M112 928h4M128 928h4M164 928h4M84 932h4M116 932h4M160 936h4M156 940h4M96 944h4M96 948h4M96 952h4M96 956h4M160 956h4M96 960h4M160 960h4M96 964h4M160 964h4"/>
<path stroke="#812581" d="M88 816h4M88 820h4M88 824h4M144 828h12M80 832h4M164 832h4M104 836h4M136 840h4M168 840h4M48 844h12M76 844h4M168 844h4M184 844h4M48 848h12M108 848h4M180 848h4M48 852h12M172 852h4M92 856h4M100 860h4M60 864h4M140 864h20M168 864h4M64 872h4M172 872h4M72 876h4M88 876h4M68 880h4M92 880h4M180 884h4M184 896h4M92 900h4M112 904h4M124 904h4M176 904h4M84 908h4M108 908h4M84 912h4M108 912h4M84 916h4M108 916h4M168 916h4M168 920h4M80 924h4M80 928h4M124 928h4M164 932h4M88 936h4M156 944h4M160 952h4"/>
<path stroke="#471078" d="M100 816h4M136 816h4M164 816h4M184 816h4M100 820h4M136 820h4M164 820h4M184 820h4M100 824h4M136 824h4M164 824h4M184 824h4M104 828h4M184 828h4M172 832h4M132 840h4M68 844h4M112 844h4M176 844h4M72 852h4M64 856h4M116 860h8M112 864h4M72 868h8M88 868h8M108 868h4M152 868h8M104 872h4M100 876h4M168 876h4M100 880h4M100 884h4M176 888h4M164 896h8M104 900h8M120 900h4M160 900h4M160 904h4M136 908h4M160 908h4M136 912h4M160 912h4M104 916h4M136 916h4M160 916h4M100 920h8M136 920h4M160 920h4M96 924h4M92 928h4M92 932h4M132 932h4M156 932h4M124 936h12M140 940h8M100 944h4M136 944h4M100 948h4M136 948h4M100 952h4M140 952h8M100 956h4M140 956h4M100 960h4M140 960h4M100 964h4M140 964h4"/>
<path stroke="#221150" d="M104 816h4M132 816h4M176 816h4M104 820h4M132 820h4M176 820h4M104 824h4M132 824h4M176 824h4M108 828h4M132 828h4M176 828h4M176 832h4M112 836h4M176 836h4M124 848h8M116 852h4M68 856h4M92 860h4M68 864h4M116 864h16M112 868h4M140 868h4M108 872h4M156 872h4M164 876h4M104 880h4M104 884h4M104 888h4M168 888h4M104 892h4M156 892h8M108 896h4M152 900h4M140 908h4M156 908h4M156 912h4M156 916h4M156 920h4M104 932h4M144 932h12M112 940h8M124 944h4M124 948h4M128 952h4M128 956h4M152 956h4M128 960h4M152 960h4M128 964h4M152 964h4"/>
<path stroke="#100b2d" d="M108 816h4M108 820h4M112 828h4M120 840h12M116 844h4M68 860h16M132 868h4M148 872h4M108 876h4M152 876h4M160 880h8M164 888h4M108 892h4M116 896h8M136 900h4M144 900h4M152 908h4M148 912h8M144 916h12M140 920h16M144 924h12M104 944h12M104 948h8M120 948h4M104 952h8M120 952h4M104 956h8M120 956h4M104 960h8M120 960h4M104 964h8M120 964h4"/>
<path stroke="#08071e" d="M112 816h4M128 816h4M112 820h4M128 820h4M112 824h4M128 824h4M124 828h8M120 832h12M116 836h16M116 840h4M116 868h16M112 872h4M112 876h4M148 876h4M108 880h8M148 880h12M108 884h8M152 884h16M108 888h8M144 888h20M112 892h12M140 892h12M124 896h24M140 900h4M116 944h4M112 948h8M112 952h8M112 956h8M112 960h8M112 964h8"/>
<path stroke="#03030f" d="M116 816h12M116 820h12M116 824h12M116 828h8M116 832h4M144 872h4M144 876h4M144 880h4M144 884h8M116 888h12M132 888h12M124 892h16"/>
<path stroke="#52137c" d="M156 816h8M156 820h8M156 824h8M68 828h4M136 828h4M168 828h4M72 832h4M184 832h4M64 836h4M72 836h4M108 836h4M172 836h4M184 836h4M64 840h4M180 840h4M132 844h4M68 848h4M112 848h4M64 852h4M84 856h4M96 860h4M64 864h4M96 864h4M80 868h8M96 868h4M160 868h8M68 872h4M96 872h8M172 880h4M100 888h4M100 892h4M100 896h4M112 900h8M164 900h8M104 904h4M132 904h4M164 904h4M104 912h4M100 916h4M96 920h4M92 924h4M160 924h4M108 928h4M132 928h4M128 932h4M96 936h4M116 936h8M148 940h4M140 944h8M140 948h16M156 956h4M156 960h4M156 964h4"/>
<path stroke="#3b0f70" d="M168 816h4M168 820h4M168 824h4M172 828h4M180 828h4M68 832h4M108 832h4M180 832h4M132 836h4M180 836h4M68 840h4M112 840h4M176 840h4M68 852h4M80 856h4M116 856h12M64 860h4M124 860h8M92 864h4M132 864h4M68 868h4M148 868h4M172 884h4M172 888h4M172 892h8M156 896h8M172 896h8M124 900h4M100 924h8M136 924h4M96 928h4M156 928h4M96 932h4M108 932h4M112 936h4M136 936h4M148 936h8M100 940h4M124 940h16M132 944h4M132 948h4M136 952h4M148 952h4M136 956h4M144 956h4M136 960h4M144 960h4M136 964h4M144 964h4"/>
<path stroke="#2d1161" d="M172 816h4M180 816h4M172 820h4M180 820h4M172 824h4M180 824h4M132 832h4M68 836h4M120 852h12M72 856h8M128 856h4M72 864h20M144 868h4M160 872h8M104 876h4M168 880h4M164 892h8M104 896h4M152 896h4M128 900h4M156 900h4M136 904h4M156 904h4M156 924h4M100 928h8M136 928h4M100 932h4M136 932h4M100 936h4M108 936h4M140 936h8M120 940h4M128 944h4M128 948h4M132 952h4M152 952h4M132 956h4M148 956h4M132 960h4M148 960h4M132 964h4M148 964h4"/>
<path stroke="#982d80" d="M92 824h4M84 828h4M96 828h4M100 832h4M144 832h4M160 832h4M80 836h4M80 840h4M104 840h4M136 848h4M184 848h4M84 852h4M136 852h4M96 856h4M136 856h4M164 856h8M48 860h12M136 860h4M160 860h4M168 860h8M172 864h4M60 868h4M64 876h4M76 876h4M84 876h4M180 880h4M184 888h4M184 900h4M72 904h4M116 904h4M180 904h4M172 912h4M172 916h4M116 928h4M168 928h4M68 932h4M84 936h4M164 936h4M160 944h4"/>
<path stroke="#19103f" d="M108 824h4M112 832h4M120 844h12M116 848h8M84 860h8M136 868h4M152 872h4M156 876h8M168 884h4M152 892h4M112 896h4M148 896h4M132 900h4M148 900h4M140 904h16M144 908h8M140 912h8M140 916h4M140 924h4M140 928h16M140 932h4M104 936h4M104 940h8M120 944h4M124 952h4M124 956h4M124 960h4M124 964h4"/>
<path stroke="#c73d73" d="M48 828h12M92 828h4M96 832h4M84 836h4M148 836h4M156 836h4M100 840h4M148 840h4M156 840h4M140 844h8M156 844h4M156 848h4M88 852h4M100 852h4M184 852h4M148 856h8M140 860h8M180 872h4M60 876h4M84 880h4M64 888h4M64 892h4M64 896h4M64 900h4M76 900h4M84 900h4M120 908h4M120 912h4M184 912h16M180 916h4M180 920h4M64 924h4M176 924h4M60 932h4M172 932h4M60 936h4M48 940h20M72 940h4M64 944h4M88 944h4M68 948h4M72 952h4M84 952h4M168 952h4M188 952h12M72 956h8M84 956h4M184 956h4M72 960h8M84 960h4M184 960h4M72 964h8M84 964h4M184 964h4"/>
<path stroke="#a5317e" d="M60 828h4M148 832h4M156 832h4M140 836h4M164 836h4M164 840h4M80 844h4M104 844h4M164 844h4M188 844h12M80 848h4M164 848h4M164 852h4M180 852h4M100 856h4M160 856h4M176 860h4M176 864h4M176 868h4M176 872h4M72 880h4M88 880h4M184 884h4M188 896h12M88 900h4M84 904h4M184 904h4M128 908h4M176 908h4M128 912h4M172 920h4M124 924h4M168 932h4M88 940h4M92 944h4M92 948h4M92 952h4M48 956h12M92 956h4M164 956h4M48 960h12M92 960h4M164 960h4M48 964h12M92 964h4M164 964h4"/>
<path stroke="#b0357b" d="M88 828h4M48 832h12M84 832h4M152 832h4M144 836h4M160 836h4M140 840h4M160 840h4M160 852h4M156 860h4M48 864h12M80 876h4M180 876h4M64 880h4M188 892h12M72 900h4M188 900h12M76 904h4M188 904h12M112 908h4M124 908h4M180 908h4M112 912h4M176 912h4M112 916h4M128 916h4M176 916h4M112 920h4M128 920h4M120 924h4M172 924h4M64 932h4M68 936h16M164 940h4M48 948h12M164 948h4M48 952h16M164 952h4M60 956h8M88 956h4M60 960h8M88 960h4M60 964h8M88 964h4"/>
<path stroke="#d3436e" d="M88 832h4M152 836h4M84 840h4M152 840h4M148 844h4M140 848h12M140 852h16M140 856h8M180 864h4M48 868h12M180 868h4M184 876h4M188 884h12M64 904h4M64 908h4M116 908h4M64 912h4M64 916h4M120 916h4M184 916h4M64 920h4M120 920h4M180 924h4M48 936h12M76 940h4M168 940h4M68 944h4M72 948h4M84 948h4M168 948h4M188 948h12M76 952h4M184 952h4M80 956h4M172 956h4M80 960h4M172 960h4M80 964h4M172 964h4"/>
<path stroke="#ef5d5e" d="M92 832h4M88 836h4M96 836h4M100 848h4M92 852h4M188 852h12M184 856h4M48 876h12M188 876h12M60 888h4M60 924h4M188 924h12M188 928h12M180 932h8M184 936h16M172 940h4M184 940h4M80 944h4M184 944h4M180 948h4M176 952h4"/>
<path stroke="#fd9266" d="M92 836h4M96 848h4M188 856h12M188 868h12M48 888h12M48 924h12M176 944h4"/>
<path stroke="#f4695c" d="M88 840h4M96 840h4M184 868h4M48 880h12M60 892h4M60 896h4M48 928h12M188 932h12M176 936h8M172 944h4"/>
<path stroke="#feae77" d="M92 840h4M188 864h12M48 896h12"/>
<path stroke="#de4968" d="M84 844h4M100 844h4M152 844h4M84 848h4M152 848h4M96 852h4M180 860h4M60 880h4M80 880h4M116 912h4M116 916h4M188 916h12M116 920h4M184 920h4M60 928h4M176 928h4M172 936h4M80 940h4M72 944h4M84 944h4M168 944h4M188 944h12M76 948h4M80 952h4M172 952h4M180 956h4M180 960h4M180 964h4"/>
<path stroke="#fb8560" d="M88 844h4M96 844h4M88 848h4M184 860h4M48 884h12M80 884h4M80 888h4M80 892h4M80 896h4M176 940h4"/>
<path stroke="#fec88c" d="M92 844h4M188 860h12M48 904h12M48 908h12M48 912h12M48 916h12"/>
<path stroke="#fed799" d="M92 848h4"/>
<path stroke="#f8765c" d="M184 864h4M188 872h12M60 900h4M60 904h4M60 908h4M60 912h4M60 916h4M60 920h4M180 940h4M180 944h4M176 948h4"/>
<path stroke="#000004" d="M116 872h28M116 876h28M116 880h28M116 884h28M128 888h4"/>
<path stroke="#fe9f6d" d="M48 892h12"/>
<path stroke="#febb81" d="M48 900h12M48 920h12"/>
</g>
<path d="M198 859 194 859 190 860 190 860 190 861 194 862 198 862M50 919 54 919 58 917 58 916 58 912 59 908 58 904 58 902 56 900 54 898 50 898" fill="none" stroke="#3b0f70" stroke-width="0.6" opacity="0.75"/>
<path d="M198 857 194 857 190 858 188 860 189 864 190 866 194 866 198 866M50 922 58 922 60 916 60 908 59 900 58 893 54 891M94 840 94 840 92 844 92 848 94 849 96 848 96 844 94 840 94 840" fill="none" stroke="#51127c" stroke-width="0.6" opacity="0.75"/>
<path d="M198 855 194 855 190 856 190 856 187 860 187 864 189 868 190 869 194 870 198 870M50 925 58 924 60 920 61 912 61 904 60 896 58 888 54 886M94 836 92 840 91 844 91 848 94 850 98 848 98 848 98 847 98 844 96 840 94 836" fill="none" stroke="#641a80" stroke-width="0.6" opacity="0.75"/>
<path d="M198 854 190 854 186 858 186 864 187 868 190 873 198 874M50 927 58 927 62 920 62 916 63 908 62 900 62 896 60 888 58 882 50 880M94 834 90 840 89 844 90 849 98 849 99 844 98 840 94 834M82 885 81 888 81 892 82 896 82 896 82 896 83 892 83 888 82 885M178 938 177 940 175 944 178 948 178 948 179 948 182 945 183 944 183 940 182 939 178 938" fill="none" stroke="#782281" stroke-width="0.6" opacity="0.75"/>
<path d="M198 852 190 852 186 856 184 864 186 870 189 876 194 878M198 926 190 926 186 930 182 933 177 936 174 940 174 947 178 952 178 952 184 948 187 944 190 937 198 937M50 930 58 930 62 924 63 920 64 912 64 904 63 896 62 888 61 884 58 876 54 875M90 836 89 840 88 848 94 852 101 848 99 840 98 836 90 836M82 882 80 884 79 888 79 892 79 896 82 898 85 896 85 892 85 888 84 884 82 882" fill="none" stroke="#8c2981" stroke-width="0.6" opacity="0.75"/>
<path d="M50 826 54 826 58 826 59 824 59 820 59 816M198 850 190 850 186 853 182 859 182 864 182 868 186 876 189 880 194 883M198 914 190 914 186 918 182 923 178 927 175 932 173 936 170 942 170 947 172 952 174 956 175 964M50 936 58 936 61 932 63 928 65 920 66 912 66 904 65 896 65 888 62 880 61 876 58 870 50 869M183 964 183 960 184 956 186 953 187 952 190 949 194 948 198 948M94 830 90 832 86 840 86 844 86 848 92 852 98 853 102 851 103 844 101 840 98 833 94 830M154 842 152 844 150 846 147 848 150 850 154 850 155 848 155 844 154 842M82 880 78 882 76 888 76 896 80 900 84 900 88 896 88 888 86 882 82 880M118 913 118 916 118 920 118 920 119 920 120 916 118 913M82 940 78 940 72 944 74 948 78 952 83 952 86 948 86 943 82 940" fill="none" stroke="#ab337c" stroke-width="0.6" opacity="0.75"/>
<path d="M50 831 54 831 58 830 60 828 62 824 62 824 62 820 62 816M198 847 190 847 186 850 182 855 179 860 179 868 182 875 185 880 187 884 190 890 198 891M198 904 190 905 186 908 181 912 178 917 175 924 173 928 170 935 167 940 166 944 166 948 169 956 169 964M50 946 54 946 58 947 60 948 62 950 64 952 66 955 67 956 67 960 67 964M90 964 90 956 90 952 91 944 88 940 82 937 74 937 67 936 65 932 66 928 68 920 68 912 68 904 68 896 67 888 66 882 64 876 62 872 58 865 50 865M94 827 90 829 86 834 84 840 84 848 89 852 94 854 102 855 106 852 106 847 104 840 102 836 98 831 94 827M150 835 146 837 142 842 140 848 140 856 142 860 150 860 154 859 158 856 162 848 162 844 162 840 158 835 150 835M78 879 74 883 73 888 73 896 75 900 82 904 82 904 88 900 91 896 91 888 90 883 86 879 78 879M118 907 115 912 115 920 118 924 122 923 127 920 127 912 124 908 118 907" fill="none" stroke="#ca3e72" stroke-width="0.6" opacity="0.75"/>
<path d="M50 836 54 836 58 835 60 832 62 830 63 828 65 824 65 820 65 816M198 842 190 843 186 847 182 851 178 856 174 858 174 862 176 868 178 874 182 880 184 884 186 889 188 896 186 901 182 904 176 908 174 915 173 920 170 927 168 932 166 936 162 943 162 946 164 952 165 960M95 964 95 956 95 948 94 942 90 938 86 936 78 933 72 932 70 928 70 924 70 917 70 912 70 904 71 904 78 907 86 906 90 903 93 896 94 888 91 880 86 876 82 875 78 876 73 880 68 880 66 876 63 868 60 864 54 860M90 825 86 829 82 836 81 840 81 848 86 852 90 854 98 856 102 858 106 862 109 856 109 848 106 840 104 836 102 832 98 828 90 825M146 832 142 834 140 840 138 848 138 852 138 859 142 862 150 862 158 861 163 860 168 856 168 848 167 840 166 835 161 832 154 830 146 832M114 906 112 912 112 920 115 924 122 927 128 924 131 920 131 912 130 907 122 905 114 906" fill="none" stroke="#e75263" stroke-width="0.6" opacity="0.75"/>
<path d="M86 816 85 824 81 828 79 836 78 840 77 848 82 852 86 854 92 856 98 858 102 863 106 866 110 863 112 856 111 848 110 844 107 836 104 832 101 828 97 824 97 816M198 837 190 838 186 842 182 847 178 852 173 848 171 840 170 836 166 830 158 828 154 827 146 827 142 828 139 836 138 840 136 848 135 856 138 862 142 864 150 864 158 864 162 864 167 864 172 868 174 873 178 879 181 884 183 888 185 896 182 900 175 904 171 908 170 912 169 920 166 928 164 932 162 936 158 942 158 946 161 952 162 960M98 964 98 956 98 948 96 940 91 936 86 932 84 928 86 920 87 916 90 909 94 904 96 900 97 892 97 884 94 878 90 875 82 872 74 875 70 877 67 872 65 868 62 862 60 856 60 848 61 840 62 835 66 828 67 824 68 816M114 903 110 907 109 912 110 919 112 924 114 928 122 931 128 928 132 924 134 917 134 912 134 908 127 904 122 903 114 903" fill="none" stroke="#f7705c" stroke-width="0.6" opacity="0.75"/>
<path d="M141 816 141 824 138 830 136 836 135 844 134 848 133 856 134 861 138 864 146 866 154 867 162 867 167 868 170 872 174 878 178 884 179 888 181 896 174 900 170 901 166 908 165 912 164 920 162 928 160 932 157 936 154 940 149 944 154 946 158 952 159 956 159 964M193 816 192 824 189 828 187 836 183 840 180 844 176 844 174 840 171 832 168 828 162 825 157 824 154 816M100 964 100 956 100 948 99 940 96 936 91 932 92 924 94 920 98 916 102 912 106 912 107 920 110 926 114 932 118 935 126 934 130 932 134 927 136 920 137 912 134 905 130 903 122 901 114 901 107 904 103 904 102 900 101 892 100 884 99 876 95 872 90 870 82 869 74 871 70 872 68 868 66 864 64 856 66 850 67 844 66 840 66 835 69 828 73 828 74 832 74 838 72 844 74 850 78 852 86 856 90 857 98 860 99 864 102 869 108 868 112 864 116 860 114 852 113 848 111 840 109 836 106 831 102 826 100 820" fill="none" stroke="#fd9467" stroke-width="0.6" opacity="0.75"/>
<path d="M137 816 137 824 135 832 134 836 132 844 131 852 130 857 130 860 134 864 142 867 148 868 154 869 162 870 166 872 170 878 174 884 174 892 166 895 161 896 161 904 161 912 161 920 158 928 156 932 150 936 146 937 138 937 136 932 138 924 139 920 139 912 138 906 134 902 127 900 122 899 114 898 106 897 104 892 104 884 104 876 107 872 112 868 116 864 122 860 122 858 118 856 116 848 114 842 112 836 110 831 106 827 103 820M183 816 183 824 182 832 181 836 176 836 174 829 171 824 170 820M103 964 103 956 103 948 102 940 101 936 99 928 106 925 110 932 114 936 118 938 126 939 130 941 134 945 137 952 138 957 138 964M146 964 146 960 146 959 146 956 150 952 153 952 154 952 154 952 156 956 156 960 156 964M70 853 78 855 82 857 90 859 95 860 94 864 86 865 78 866 70 867 67 860 70 853" fill="none" stroke="#feb77e" stroke-width="0.6" opacity="0.75"/>
<path d="M134 816 134 824 132 832 131 840 129 844 122 848 117 844 115 836 114 832 110 826 108 820M105 964 105 956 105 948 106 940 110 939 114 941 122 943 125 948 127 952 128 960M70 859 74 859 78 859 82 860 83 860 82 860 78 861 74 861 70 861 70 860 70 859M118 866 126 865 134 867 138 868 146 870 154 872 158 874 162 876 167 880 168 888 162 891 157 892 151 896 154 904 156 908 157 916 155 924 153 928 146 930 142 928 141 920 142 914 145 908 141 904 134 900 130 898 122 897 114 896 110 894 107 888 107 880 110 873 114 869 118 866" fill="none" stroke="#fdda9c" stroke-width="0.6" opacity="0.75"/>
<path d="M129 816 129 824 126 830 122 834 118 832 116 824 115 816M118 870 126 869 134 870 142 871 146 872 150 878 154 884 149 888 144 892 138 895 130 895 122 892 118 891 114 886 114 880 114 876 118 870" fill="none" stroke="#fde7a9" stroke-width="0.6" opacity="0.75"/>
</g>
<path d="M107.1 873.9 L115.1 874.8 L120.3 879.6 L124.5 880.6 L128.7 875.4 L134.0 871.2 L140.3 871.2 L147.6 873.9 L150.4 878.5 L151.9 884.8 L157.1 880.6 L165.5 880.2 L168.7 884.4 L168.3 890.0 L163.4 892.1 L155.0 891.1 L151.9 889.0 L150.4 894.2 L146.6 898.4 L142.4 901.1 L138.2 901.5 L135.0 898.4 L130.8 893.2 L123.5 892.1 L115.1 892.1 L108.3 892.1 L106.2 884.8 L107.1 873.9" fill="none" stroke="#fff" stroke-width="2.3" stroke-linecap="round" stroke-linejoin="round" stroke-dasharray="0 3.7"/>
<text x="59.2" y="834.5" font-size="16" text-anchor="start" fill="#fff">(I)</text>
<text x="188.2" y="834" font-size="13" text-anchor="end" fill="#fff">t = 3 min</text>
<clipPath id="hII"><rect x="198" y="818" width="143" height="143"/></clipPath>
<g clip-path="url(#hII)">
<g filter="url(#hblur)" stroke-width="4">
<path stroke="#5f187f" d="M194 816h12M218 816h4M298 816h4M194 820h12M218 820h4M298 820h4M194 824h12M218 824h4M298 824h4M290 828h4M222 832h4M286 832h4M250 836h4M286 836h4M222 840h4M250 840h4M222 844h4M282 844h4M222 848h4M254 848h4M222 852h4M254 852h4M254 856h4M326 856h4M258 860h4M306 860h4M222 864h4M254 864h4M298 864h12M226 868h4M310 868h4M226 872h4M250 872h4M310 872h16M230 876h4M250 876h4M310 876h16M234 880h4M242 880h8M310 880h12M310 884h12M194 888h12M318 888h8M206 892h4M322 892h4M210 896h4M318 900h4M326 900h4M238 904h4M238 908h4M242 916h4M246 924h4M310 932h4M238 936h16M306 936h4M238 940h4M238 944h4M294 944h8M238 948h4M290 948h8M238 952h4M286 952h12M238 956h4M286 956h8M238 960h4M286 960h8M238 964h4M286 964h8"/>
<path stroke="#52137c" d="M206 816h12M246 816h4M286 816h12M302 816h4M206 820h12M246 820h4M286 820h12M302 820h4M206 824h12M246 824h4M286 824h12M302 824h4M194 828h16M218 828h4M286 828h4M194 832h12M250 832h4M194 836h12M222 836h4M194 840h12M282 840h4M194 844h12M254 844h4M194 848h12M278 848h4M194 852h12M218 852h4M258 852h4M286 852h4M194 856h12M218 856h4M258 856h4M290 856h4M318 856h4M194 860h16M218 860h4M262 860h4M294 860h4M310 860h4M194 864h12M218 864h4M310 864h4M326 864h4M194 868h12M222 868h4M254 868h4M302 868h8M314 868h4M194 872h12M222 872h4M306 872h4M194 876h12M226 876h4M194 880h12M230 880h4M250 880h4M194 884h12M238 884h12M206 888h4M238 888h4M310 888h8M210 892h4M318 892h4M326 892h4M214 896h4M318 896h8M226 900h16M330 900h4M242 908h4M242 912h4M246 920h4M250 924h4M270 924h4M278 928h4M278 936h4M242 940h4M286 944h8M286 948h4"/>
<path stroke="#752181" d="M222 816h4M314 816h4M222 820h4M314 820h4M222 824h4M314 824h4M226 828h4M298 828h16M226 832h4M226 840h4M226 844h4M286 844h4M226 848h4M226 852h4M290 852h4M226 856h4M294 856h4M226 860h4M246 860h4M230 864h4M246 864h4M230 868h4M246 868h4M246 872h4M326 872h4M238 876h8M334 888h12M194 892h12M206 896h4M218 900h4M226 904h4M234 908h4M318 908h4M238 916h4M238 924h4M266 924h4M314 924h4M246 928h8M234 932h4M246 932h4M278 932h4M234 936h4M270 936h4M234 948h4M302 948h4M234 952h4M302 952h4M234 956h4M302 956h4M234 960h4M302 960h4M234 964h4M302 964h4"/>
<path stroke="#812581" d="M226 816h4M242 816h4M226 820h4M242 820h4M226 824h4M242 824h4M246 832h4M294 832h4M290 836h4M286 848h4M322 852h4M246 856h4M310 856h4M330 856h4M230 860h4M242 860h4M234 864h4M242 864h4M330 864h4M234 868h4M242 868h4M234 872h4M242 872h4M326 876h4M326 880h4M326 884h4M194 896h12M214 900h4M322 904h24M230 908h4M234 912h4M318 912h4M238 920h4M258 924h4M234 928h4M274 928h4M250 932h4M258 936h4M266 936h4M310 936h4M234 940h4M306 940h4M234 944h4M302 944h4M230 956h4M306 956h4M230 960h4M306 960h4M230 964h4M306 964h4"/>
<path stroke="#8c2981" d="M230 816h4M230 820h4M230 824h4M314 828h4M246 836h4M290 840h4M246 852h4M318 852h4M326 852h4M230 856h4M298 856h12M234 860h8M238 864h4M238 868h4M330 868h4M238 872h4M330 872h4M210 900h4M222 904h4M234 924h4M262 924h4M254 928h4M314 928h4M230 932h4M262 936h4M230 948h4M306 948h4M214 952h4M230 952h4M306 952h4M214 956h16M310 956h4M214 960h16M310 960h4M214 964h16M310 964h4"/>
<path stroke="#982d80" d="M234 816h4M318 816h4M234 820h4M318 820h4M234 824h4M318 824h4M230 828h4M242 828h4M230 832h4M298 832h8M294 836h4M246 840h4M246 844h4M290 844h4M246 848h4M290 848h4M230 852h4M294 852h4M330 852h4M242 856h4M334 856h12M334 860h12M334 864h12M330 876h4M330 880h4M330 884h4M206 900h4M226 908h4M322 908h4M230 912h4M234 916h4M318 916h4M230 928h4M270 928h4M230 936h4M230 940h4M310 940h4M210 944h8M230 944h4M306 944h4M210 948h12M210 952h4M218 952h12M310 952h4M210 956h4M314 956h8M210 960h4M314 960h8M210 964h4M314 964h8"/>
<path stroke="#a5317e" d="M238 816h4M238 820h4M238 824h4M318 828h4M306 832h4M230 836h4M230 840h4M294 840h4M230 844h4M230 848h4M330 848h16M314 852h4M334 852h12M234 856h4M334 868h12M334 872h12M334 876h12M194 900h12M218 904h4M326 908h4M234 920h4M226 932h4M254 932h4M274 932h4M214 940h4M194 944h16M218 944h4M194 948h16M222 948h8M310 948h4M194 952h16M314 952h4M194 956h16M322 956h4M194 960h16M322 960h4M194 964h16M322 964h4"/>
<path stroke="#2d1161" d="M250 816h4M250 820h4M250 824h4M254 832h4M214 836h4M214 840h4M214 844h4M274 844h4M270 852h4M278 852h4M286 856h4M266 860h4M290 860h4M318 864h8M294 868h4M298 872h4M254 880h4M302 880h4M250 892h4M306 892h4M246 896h4M246 900h4M310 900h4M246 904h4M266 920h4M282 928h4M286 936h4M274 940h4M246 944h4M246 948h4M246 952h4M278 956h4M278 960h4M278 964h4"/>
<path stroke="#221150" d="M254 816h4M254 820h4M254 824h4M254 828h4M278 828h4M278 832h4M278 836h4M258 840h4M262 844h12M274 852h4M270 856h4M262 868h4M258 872h4M298 876h4M254 884h4M302 884h4M306 896h4M330 896h4M310 904h4M250 912h4M250 916h4M278 924h4M302 932h4M290 936h12M278 944h4M278 948h4M278 952h4M246 956h4M246 960h4M246 964h4"/>
<path stroke="#100b2d" d="M258 816h4M258 820h4M258 824h4M258 828h4M258 832h4M274 836h4M262 840h8M274 856h12M286 860h4M322 860h4M266 868h4M290 868h4M262 872h4M294 876h4M258 880h4M254 892h4M302 892h4M302 896h4M306 904h4M310 908h4M254 912h4M310 912h4M258 916h12M274 920h4M282 924h4M286 928h4M302 928h4M290 932h4M298 932h4M254 944h4M274 944h4M254 948h4M274 948h4M250 952h8M270 952h8M250 956h8M270 956h4M250 960h8M270 960h4M250 964h8M270 964h4"/>
<path stroke="#08071e" d="M262 816h16M262 820h16M262 824h16M266 828h12M270 832h8M270 836h4M274 860h12M270 864h20M270 868h4M266 872h4M290 872h4M262 876h4M290 876h4M294 880h4M258 884h4M294 884h8M258 888h4M298 888h4M258 892h4M298 892h4M254 896h8M254 900h16M302 900h4M254 904h24M302 904h4M254 908h28M306 908h4M258 912h24M306 912h4M270 916h16M306 916h8M278 920h12M306 920h8M286 924h12M302 924h8M290 928h12M294 932h4M258 944h16M258 948h16M258 952h12M258 956h12M258 960h12M258 964h12"/>
<path stroke="#19103f" d="M278 816h4M278 820h4M278 824h4M258 836h4M270 840h8M270 860h4M318 860h4M266 864h4M290 864h4M294 872h4M258 876h4M298 880h4M254 888h4M302 888h4M250 896h4M334 896h12M250 900h4M306 900h4M250 904h4M250 908h4M254 916h4M270 920h4M310 924h4M306 928h4M286 932h4M250 944h4M250 948h4M274 956h4M274 960h4M274 964h4"/>
<path stroke="#3b0f70" d="M282 816h4M282 820h4M282 824h4M282 828h4M210 832h8M282 832h4M210 836h4M254 836h4M210 840h4M278 840h4M210 844h4M258 844h4M210 848h8M262 848h16M214 852h4M262 852h8M282 852h4M266 856h4M314 860h4M326 860h4M262 864h4M294 864h4M258 868h4M214 872h4M214 876h4M254 876h4M302 876h4M210 880h12M210 884h20M214 888h16M250 888h4M306 888h4M218 892h16M242 892h8M334 892h12M222 896h12M242 896h4M310 896h4M326 896h4M242 900h4M246 908h4M314 908h4M246 912h4M314 912h4M314 916h4M250 920h16M274 924h4M306 932h4M250 940h24M278 940h8M282 944h4M282 948h4"/>
<path stroke="#471078" d="M306 816h8M306 820h8M306 824h8M210 828h8M250 828h4M206 832h4M218 832h4M206 836h4M218 836h4M282 836h4M206 840h4M218 840h4M254 840h4M206 844h4M218 844h4M278 844h4M206 848h4M218 848h4M258 848h4M206 852h8M206 856h12M262 856h4M322 856h4M210 860h8M206 864h12M258 864h4M314 864h4M206 868h16M298 868h4M318 868h8M206 872h8M218 872h4M254 872h4M302 872h4M206 876h8M218 876h8M306 876h4M206 880h4M222 880h8M306 880h4M206 884h4M230 884h8M250 884h4M306 884h4M210 888h4M230 888h8M242 888h8M214 892h4M234 892h8M310 892h8M330 892h4M218 896h4M234 896h8M314 896h4M314 900h4M334 900h12M242 904h4M314 904h4M246 916h4M314 920h4M310 928h4M282 932h4M282 936h4M302 936h4M246 940h4M286 940h16M242 944h4M242 948h4M242 952h4M282 952h4M242 956h4M282 956h4M242 960h4M282 960h4M242 964h4M282 964h4"/>
<path stroke="#c73d73" d="M322 816h4M322 820h4M322 824h4M242 836h4M302 836h4M318 836h4M242 840h4M302 840h4M318 840h4M326 840h8M298 844h4M318 844h4M318 848h4M194 904h16M326 912h4M230 920h4M318 924h4M262 928h4M258 932h4M266 932h4M194 936h24M314 940h4M314 944h4M318 948h4M330 952h16"/>
<path stroke="#de4968" d="M326 816h4M326 820h4M326 824h4M326 828h4M238 832h4M310 836h4M330 836h4M306 840h8M306 844h4M234 848h4M302 848h4M314 848h4M238 852h4M334 912h12M318 928h4M194 932h24M262 932h4M318 944h4M326 948h20"/>
<path stroke="#f4695c" d="M330 816h4M330 820h4M330 824h4M334 828h12M238 840h4M238 844h4M238 848h4M206 912h4M326 920h4M194 924h12M322 924h4M210 928h8M322 940h4"/>
<path stroke="#fb8560" d="M334 816h12M334 820h12M334 824h12M206 916h4M218 916h4M330 920h4M210 924h4M326 924h4M322 928h4M322 936h4M330 940h16"/>
<path stroke="#6a1c81" d="M222 828h4M246 828h4M294 828h4M290 832h4M226 836h4M286 840h4M250 844h4M250 848h4M282 848h4M250 852h4M222 856h4M250 856h4M314 856h4M222 860h4M250 860h8M298 860h8M330 860h4M226 864h4M250 864h4M250 868h4M326 868h4M230 872h4M234 876h4M246 876h4M238 880h4M322 880h4M322 884h4M326 888h8M222 900h4M322 900h4M230 904h8M318 904h4M238 912h4M242 920h4M242 924h4M254 924h4M238 928h8M238 932h8M254 936h4M274 936h4M302 940h4M298 948h4M298 952h4M294 956h8M294 960h8M294 964h8"/>
<path stroke="#b0357b" d="M234 828h4M242 832h4M310 832h8M298 836h4M294 844h4M326 848h4M298 852h8M238 856h4M334 880h12M334 884h12M222 908h4M330 908h4M318 920h4M230 924h4M258 928h4M266 928h4M314 932h4M222 936h8M206 940h8M218 940h12M222 944h4M310 944h4M314 948h4M318 952h4M326 956h4M326 960h4M326 964h4"/>
<path stroke="#bc3978" d="M238 828h4M322 828h4M234 832h4M318 832h8M322 836h4M298 840h4M322 840h4M322 844h24M294 848h4M322 848h4M234 852h4M242 852h4M306 852h8M210 904h8M334 908h12M226 912h4M322 912h4M230 916h4M226 928h4M222 932h4M270 932h4M218 936h4M314 936h4M194 940h12M226 944h4M322 952h8M330 956h16M330 960h16M330 964h16"/>
<path stroke="#03030f" d="M262 828h4M262 832h8M262 836h8M274 868h16M270 872h4M266 876h8M262 880h8M290 880h4M290 884h4M290 888h8M262 892h4M294 892h4M262 896h8M294 896h8M270 900h12M298 900h4M278 904h4M282 908h4M302 908h4M282 912h8M302 912h4M286 916h8M302 916h4M290 920h8M302 920h4M298 924h4"/>
<path stroke="#ef5d5e" d="M330 828h4M334 832h12M238 836h4M194 912h12M218 912h4M222 916h4M330 916h4M322 920h4M194 928h16M326 944h20"/>
<path stroke="#d3436e" d="M326 832h4M234 836h4M306 836h4M314 836h4M326 836h4M234 840h4M314 840h4M334 840h12M234 844h4M242 844h4M302 844h4M314 844h4M242 848h4M298 848h4M218 908h4M222 912h4M330 912h4M226 916h4M322 916h4M226 924h4M222 928h4M218 932h4M322 948h4"/>
<path stroke="#e75263" d="M330 832h4M334 836h12M310 844h4M306 848h8M194 908h24M326 916h4M226 920h4M222 924h4M218 928h4M318 932h4M318 936h4M318 940h4M322 944h4"/>
<path stroke="#000004" d="M274 872h16M274 876h16M270 880h20M262 884h28M262 888h28M266 892h28M270 896h24M282 900h16M282 904h20M286 908h16M290 912h12M294 916h8M298 920h4"/>
<path stroke="#f8765c" d="M210 912h8M194 916h12M334 916h12M194 920h12M222 920h4M206 924h4M218 924h4M326 940h4"/>
<path stroke="#fd9266" d="M210 916h4M206 920h4M214 924h4M326 936h4"/>
<path stroke="#feae77" d="M214 916h4M210 920h4M326 932h4M334 936h12"/>
<path stroke="#fec88c" d="M214 920h4M330 932h4"/>
<path stroke="#fe9f6d" d="M218 920h4M334 920h12M330 924h4M326 928h4M322 932h4M330 936h4"/>
<path stroke="#febb81" d="M334 924h12M330 928h4"/>
<path stroke="#fed799" d="M334 928h12M334 932h12"/>
</g>
<path d="M344 928 340 928 336 929 335 932 336 933 340 933 344 933" fill="none" stroke="#251255" stroke-width="0.6" opacity="0.75"/>
<path d="M344 924 340 924 336 925 332 927 331 928 330 932 332 934 336 935 340 935 344 935" fill="none" stroke="#3b0f70" stroke-width="0.6" opacity="0.75"/>
<path d="M344 921 336 921 332 924 328 928 328 934 332 936 340 938M212 919 211 920 212 921 216 922 219 920 216 916 212 919" fill="none" stroke="#51127c" stroke-width="0.6" opacity="0.75"/>
<path d="M344 918 336 918 332 920 328 924 324 930 324 934 328 937 336 940 344 940M212 915 208 918 208 921 212 924 217 924 221 920 219 916 212 915" fill="none" stroke="#641a80" stroke-width="0.6" opacity="0.75"/>
<path d="M334 816 334 820 334 824 336 827 340 827 344 827M344 916 339 916 332 918 328 920 324 925 322 932 324 939 328 941 336 942 344 942M196 922 204 923 208 926 216 927 221 924 222 916 217 912 212 912 208 913 201 916 196 916" fill="none" stroke="#782281" stroke-width="0.6" opacity="0.75"/>
<path d="M331 816 331 820 331 824 332 827 332 828 336 832 336 832 340 833 344 833M344 914 336 914 331 916 325 920 323 924 320 932 322 940 328 944 332 945 340 945M196 928 204 928 212 930 219 928 224 924 226 920 224 916 220 912 212 909 204 910 196 911M240 840 240 840 239 844 240 848 240 848 240 848 240 844 240 840 240 840" fill="none" stroke="#8c2981" stroke-width="0.6" opacity="0.75"/>
<path d="M327 816 327 820 327 824 327 828 328 831 328 832 330 836 332 838 336 839 340 839 344 839M344 911 336 911 332 912 325 916 323 920 320 927 319 932 318 940 320 945 325 948 332 950 340 951M196 935 204 935 212 934 219 932 224 928 228 924 230 920 228 916 224 912 219 908 212 906 204 905 196 905M240 832 237 836 236 841 236 848 240 852 240 852 243 844 242 836 240 832M308 839 304 844 303 848 308 849 316 848 317 844 316 840 308 839" fill="none" stroke="#ab337c" stroke-width="0.6" opacity="0.75"/>
<path d="M323 816 323 824 320 832 316 833 308 834 301 836 299 840 296 848 304 852 308 852 312 852 320 849 324 847 332 845 340 845M344 908 336 908 328 910 324 912 321 920 319 924 317 932 316 936 313 944 316 948 322 952 328 955 332 960 332 964M196 940 204 940 208 939 216 938 224 936 225 932 229 928 232 923 232 916 228 912 224 908 220 906 216 904 208 903 200 902M240 827 236 830 234 836 233 844 235 852 240 855 244 852 246 844 245 836 243 832 240 827M264 928 262 928 260 931 259 932 260 932 264 934 268 933 270 932 268 930 266 928 264 928" fill="none" stroke="#ca3e72" stroke-width="0.6" opacity="0.75"/>
<path d="M235 816 235 824 232 830 231 836 231 844 231 852 234 856 240 859 245 856 248 849 248 844 248 840 246 832 244 828 241 820M320 816 320 824 316 829 308 831 301 832 296 836 294 840 292 847 292 848 296 852 304 855 312 854 318 852 324 850 332 852 336 855 340 857M344 862 337 864 335 868 332 876 332 880 333 884 340 885M344 906 336 906 328 906 324 908 320 916 319 920 316 928 315 932 312 939 308 944 312 952 316 956 317 960M213 964 213 956 214 948 218 948 221 952 228 953 231 948 232 944 232 939 231 932 233 928 236 922 236 917 233 912 228 908 224 905 220 903 212 901 208 900 200 898M260 926 256 930 256 933 264 935 272 934 272 928 268 927 260 926" fill="none" stroke="#e75263" stroke-width="0.6" opacity="0.75"/>
<path d="M226 816 226 824 228 831 228 836 228 844 228 848 228 855 229 860 232 865 235 872 240 876 246 872 247 864 248 860 251 852 251 844 250 836 248 831 245 824 244 816M317 816 316 824 312 828 308 828 300 828 294 832 292 836 288 844 287 848 292 852 296 855 300 858 308 858 314 856 320 853 328 854 332 858 332 863 330 868 328 873 327 880 328 885 336 888 344 888M344 903 336 903 328 903 323 904 320 910 319 916 316 924 315 928 312 934 308 939 304 944 304 948 304 955 304 960M234 964 235 956 236 949 237 944 236 936 238 928 240 922 240 917 238 912 235 908 228 904 224 902 219 900 212 898 207 896 200 893M260 924 256 926 252 929 252 933 258 936 264 937 271 936 276 935 276 928 272 926 266 924 260 924" fill="none" stroke="#f7705c" stroke-width="0.6" opacity="0.75"/>
<path d="M218 816 218 824 221 828 224 836 224 837 223 844 222 852 221 860 224 867 228 872 230 876 235 880 240 882 248 880 251 876 253 872 256 864 260 860 260 858 257 852 256 848 253 840 252 834 250 828 248 824 248 816M314 816 313 824 308 825 301 824 296 824 292 825 288 832 287 836 284 842 282 848 288 852 292 855 296 859 300 863 308 864 312 860 319 856 324 855 328 857 329 864 326 868 320 872 316 873 313 880 316 885 320 889 328 890 336 890 344 890M196 824 200 824 200 824 204 820 204 820 204 816M344 901 336 901 331 900 324 897 320 900 318 908 317 916 316 921 313 928 311 932 307 936 302 940 297 944 292 948 290 952 288 960M241 964 241 956 241 948 242 940 248 937 256 938 264 939 272 938 279 936 282 932 279 928 272 924 268 923 260 922 252 924 246 920 244 914 242 908 240 904 232 901 228 900 220 897 215 896 210 892 206 888 200 886" fill="none" stroke="#fd9467" stroke-width="0.6" opacity="0.75"/>
<path d="M284 816 284 824 284 828 283 836 280 841 276 847 276 848 283 852 288 855 292 859 296 864 298 868 302 872 305 876 307 884 309 888 312 894 315 900 315 908 315 916 313 924 311 928 307 932 303 936 296 939 288 938 285 932 283 928 277 924 272 922 265 920 260 920 256 920 252 920 248 912 247 908 245 900 246 892 251 888 253 884 256 876 257 872 260 867 264 864 267 856 264 850 260 845 257 840 256 836 253 828 251 824 251 816M344 898 340 898 336 898 332 897 330 896 332 894 336 893 340 893 344 893M245 964 245 956 246 948 248 942 252 940 258 940 264 940 268 940 276 940 281 940 283 948 283 956 282 964M212 835 218 836 217 844 216 849 212 844 212 840 212 835M320 858 324 857 327 860 325 864 324 866 320 865 318 864 317 860 320 858M216 877 220 882 224 887 228 889 228 894 224 890 220 888 214 884 216 877" fill="none" stroke="#feb77e" stroke-width="0.6" opacity="0.75"/>
<path d="M280 816 280 820 280 828 278 836 275 840 268 843 262 840 259 836 258 828 257 820M250 964 250 956 251 948 252 944 260 943 268 942 276 943 278 948 277 956 277 964M276 854 284 855 288 858 292 864 294 868 296 872 300 878 303 884 305 888 308 896 310 900 312 905 313 912 313 920 311 924 307 928 303 932 296 935 289 932 286 928 282 924 276 921 272 920 264 917 256 916 253 912 252 908 251 900 252 896 256 888 257 884 260 876 262 872 265 868 268 864 272 858 276 854" fill="none" stroke="#fdda9c" stroke-width="0.6" opacity="0.75"/>
<path d="M273 816 273 824 272 828 269 836 264 837 263 832 264 824 264 820M276 863 284 864 288 867 291 872 292 876 296 884 298 888 300 892 303 900 304 904 308 912 309 916 308 920 303 924 296 926 292 924 287 920 282 916 277 912 272 908 268 907 264 904 260 896 261 888 263 880 266 876 269 872 272 868 276 863" fill="none" stroke="#fde7a9" stroke-width="0.6" opacity="0.75"/>
</g>
<path d="M282.5 854.5 L287.8 859.8 L289.9 870.2 L294.0 880.6 L300.3 884.8 L303.4 893.2 L304.5 901.5 L306.6 907.8 L312.8 911.9 L314.9 917.2 L311.8 924.5 L306.6 927.6 L302.4 933.9 L297.2 935.9 L291.9 932.8 L287.8 926.6 L281.5 922.4 L273.2 920.3 L264.8 919.2 L255.4 918.2 L253.3 911.9 L253.9 901.5 L255.4 895.2 L259.6 889.0 L262.7 880.6 L266.9 872.3 L271.1 863.9 L276.3 857.7 L282.5 854.5" fill="none" stroke="#fff" stroke-width="2.3" stroke-linecap="round" stroke-linejoin="round" stroke-dasharray="0 3.7"/>
<text x="203.5" y="834.5" font-size="16" text-anchor="start" fill="#fff">(II)</text>
<text x="335.4" y="834" font-size="13" text-anchor="end" fill="#fff">t = 9 min</text>
<clipPath id="hIII"><rect x="347" y="818" width="143" height="143"/></clipPath>
<g clip-path="url(#hIII)">
<g filter="url(#hblur)" stroke-width="4">
<path stroke="#e75263" d="M343 816h12M343 820h12M343 824h12M471 828h4M471 832h4M467 836h4M467 840h4M471 844h4M375 848h4M395 848h4M471 848h4M375 852h4M471 852h4M375 856h4M471 856h4M343 860h12M375 860h4M343 864h12M387 864h4M471 864h4M343 868h12M467 872h4M471 876h24M343 896h12M355 900h4M359 904h4M375 904h4M363 908h4M379 908h4M483 908h12M363 912h4M483 912h12M363 916h4M483 916h12M343 920h24M383 920h4M479 920h4M367 924h4M383 924h4M371 928h4M379 928h4M375 932h8M471 932h4M379 936h8M471 936h4M383 940h4M383 944h4M379 948h4M375 952h4M471 952h4M375 956h4M471 956h4M375 960h4M471 960h4M375 964h4M471 964h4"/>
<path stroke="#bc3978" d="M355 816h4M459 816h4M355 820h4M459 820h4M355 824h4M459 824h4M343 836h12M387 836h4M383 840h4M391 840h4M459 848h4M463 852h4M371 856h4M399 856h4M355 860h4M371 860h4M355 864h4M463 864h4M355 868h4M355 872h4M459 872h4M343 884h12M471 884h4M475 888h4M355 892h4M479 892h4M483 896h12M371 900h8M479 900h4M387 908h4M475 908h4M387 912h4M475 912h4M363 928h4M467 928h4M343 932h16M343 936h12M367 936h4M343 940h12M367 940h4M343 944h12M367 944h4M367 948h4M367 952h4M367 956h4M387 956h4M367 960h4M387 960h4M367 964h4M387 964h4"/>
<path stroke="#8c2981" d="M359 816h4M387 816h4M423 816h12M455 816h4M359 820h4M387 820h4M423 820h12M455 820h4M359 824h4M387 824h4M423 824h12M455 824h4M455 828h4M355 832h4M383 832h4M391 832h4M383 836h4M379 840h4M351 844h4M455 844h4M455 848h4M359 860h4M367 860h4M403 860h4M459 860h4M359 864h4M359 868h4M391 868h4M455 868h4M359 872h4M359 876h4M455 876h4M359 888h4M459 888h4M463 892h4M363 896h8M467 896h4M383 900h4M467 900h4M423 908h4M467 908h4M467 912h4M391 920h4M391 924h4M463 924h4M463 928h4M411 932h8M391 948h4M343 956h12M343 960h12M343 964h12"/>
<path stroke="#5f187f" d="M363 816h4M439 816h4M363 820h4M439 820h4M363 824h4M439 824h4M379 828h4M395 828h4M379 832h4M379 836h4M399 836h4M403 840h4M355 848h4M367 848h4M407 848h4M403 864h4M363 868h4M395 868h4M451 868h4M363 872h16M363 876h12M379 876h8M451 876h4M363 880h8M451 880h4M363 884h8M379 888h4M383 892h4M455 892h4M391 904h4M415 908h4M423 912h4M459 912h4M459 916h4M459 920h4M459 924h4M427 928h4M459 928h4M395 932h4M411 936h8M455 944h4M459 956h4M459 960h4M459 964h4"/>
<path stroke="#52137c" d="M367 816h12M395 816h4M451 816h4M367 820h12M395 820h4M451 820h4M367 824h12M395 824h4M451 824h4M419 828h4M451 828h4M359 832h4M423 832h16M451 832h4M451 836h4M451 840h4M407 844h4M451 844h4M451 848h4M359 852h4M363 856h4M451 864h4M391 872h4M375 876h4M371 880h20M371 884h8M451 884h4M383 888h4M387 896h4M455 896h4M419 900h4M455 900h4M415 904h4M455 904h4M419 912h4M395 924h4M395 928h4M407 928h4M431 932h4M395 936h4M427 936h4M395 940h4M455 940h4M455 948h4"/>
<path stroke="#6a1c81" d="M379 816h4M419 816h4M379 820h4M419 820h4M379 824h4M419 824h4M435 828h4M395 832h4M375 840h4M355 844h4M407 852h4M407 856h4M363 860h4M407 860h4M455 860h4M363 864h4M367 868h4M379 872h4M451 872h4M387 876h4M363 888h16M455 888h4M379 892h4M383 896h4M459 896h4M459 900h4M419 904h8M459 904h4M459 908h4M411 928h4M407 932h4M459 932h4M419 936h8M459 952h4"/>
<path stroke="#812581" d="M383 816h4M435 816h4M383 820h4M435 820h4M383 824h4M435 824h4M383 828h4M391 828h4M355 836h4M399 840h4M403 844h4M343 848h12M355 852h4M455 852h4M367 856h4M367 864h4M375 868h4M359 880h4M455 880h4M359 884h4M363 892h16M379 896h4M463 896h4M467 904h4M419 908h4M391 912h4M391 916h4M463 916h4M463 920h4M459 940h4M459 944h4M391 952h4"/>
<path stroke="#752181" d="M391 816h4M391 820h4M391 824h4M359 828h4M423 828h12M395 836h4M355 840h4M371 844h4M367 852h4M359 856h4M455 856h4M399 864h4M455 864h4M371 868h4M383 872h8M455 884h4M459 892h4M387 900h4M463 900h4M463 904h4M391 908h4M463 908h4M463 912h4M415 928h12M427 932h4M459 936h4M459 948h4M391 956h4M391 960h4M391 964h4"/>
<path stroke="#2d1161" d="M399 816h4M443 816h4M399 820h4M443 820h4M399 824h4M443 824h4M403 828h4M415 828h4M371 832h8M423 836h4M367 840h4M427 840h12M411 848h4M363 852h4M415 852h4M415 856h4M411 864h4M447 864h4M403 868h4M447 868h4M391 880h4M447 880h4M447 884h4M391 892h4M391 896h4M415 896h4M423 896h4M451 896h4M411 900h4M451 900h4M411 904h4M451 904h4M419 916h8M455 916h4M455 920h4M407 924h4M427 924h4M455 924h4M455 928h4M455 932h4M403 936h4M431 936h4M415 940h4M395 956h4"/>
<path stroke="#221150" d="M403 816h4M403 820h4M403 824h4M443 828h4M363 832h8M407 832h4M415 832h4M375 836h4M407 836h4M419 836h4M439 836h4M415 840h12M411 844h12M427 844h12M415 848h4M419 856h4M419 860h4M447 860h4M395 872h4M391 884h4M391 888h4M447 888h4M395 904h4M427 904h4M451 908h4M411 912h4M415 916h4M427 916h4M403 924h4M431 924h4M399 932h4M435 932h4M411 940h4M427 940h4M451 940h4M451 944h4M451 948h4M451 952h4M451 956h4M451 960h4M451 964h4"/>
<path stroke="#19103f" d="M407 816h4M447 816h4M407 820h4M447 820h4M407 824h4M447 824h4M407 828h4M447 828h4M443 832h4M371 836h4M415 836h4M411 840h4M439 840h4M363 844h4M423 844h4M439 844h4M363 848h4M419 848h4M427 848h12M419 852h4M447 852h4M447 856h4M415 864h4M443 864h4M407 868h4M443 868h4M443 872h4M395 876h4M443 876h4M443 880h4M415 892h8M447 892h4M411 896h4M447 896h4M395 900h4M407 904h4M407 908h4M407 912h4M451 912h4M407 916h8M411 920h8M399 924h4M399 928h4M435 928h4M399 936h4M435 936h4M451 936h4M403 940h8M431 940h4"/>
<path stroke="#100b2d" d="M411 816h4M411 820h4M411 824h4M411 828h4M411 832h4M447 832h4M367 836h4M411 836h4M443 836h8M363 840h4M443 840h8M443 844h8M423 848h4M439 848h12M423 852h24M423 856h8M443 856h4M423 860h4M443 860h4M419 864h4M411 868h4M399 872h4M395 880h4M395 884h4M443 884h4M395 888h4M443 888h4M395 892h4M411 892h4M423 892h4M443 892h4M395 896h4M407 896h4M407 900h4M427 900h4M447 900h4M447 904h4M403 908h4M431 908h4M403 912h4M431 912h4M403 916h4M431 916h4M451 916h4M399 920h12M419 920h16M435 924h4M451 932h4M399 940h4M435 940h4M415 944h16M447 952h4M447 956h4M447 960h4M447 964h4"/>
<path stroke="#3b0f70" d="M415 816h4M415 820h4M415 824h4M363 828h12M399 828h4M403 832h4M419 832h4M439 832h4M359 836h4M403 836h4M427 836h12M359 840h4M407 840h4M359 844h4M359 848h4M411 852h4M415 860h4M399 868h4M447 872h4M391 876h4M447 876h4M387 884h4M451 892h4M419 896h4M395 908h4M411 908h4M395 912h4M415 912h4M427 912h4M455 912h4M395 916h4M403 928h4M431 928h4M419 940h8M395 948h4M395 952h4M395 960h4M395 964h4"/>
<path stroke="#c73d73" d="M463 816h4M463 820h4M463 824h4M459 828h4M343 832h12M459 832h4M459 840h4M379 844h4M395 844h4M459 844h4M399 848h4M463 848h4M399 852h4M343 856h12M467 860h4M379 864h4M391 864h4M463 868h4M463 876h4M343 880h12M467 880h4M475 884h8M343 888h12M479 888h16M483 892h12M355 896h4M359 900h4M483 900h12M479 904h4M387 916h4M475 916h4M471 920h4M343 928h20M367 932h4M467 932h4M467 936h4M387 952h4M467 952h4M383 956h4M467 956h4M383 960h4M467 960h4M383 964h4M467 964h4"/>
<path stroke="#d3436e" d="M467 816h4M467 820h4M467 824h4M343 828h12M463 828h4M463 832h4M459 836h4M387 840h4M463 840h4M463 844h4M467 852h4M467 856h4M467 864h4M463 872h4M467 876h4M471 880h12M483 884h12M363 904h8M379 904h4M383 908h4M479 908h4M387 920h4M475 920h4M359 924h8M387 924h4M471 924h4M367 928h4M387 928h4M371 932h4M387 932h4M467 940h4M467 944h4M387 948h4M467 948h4M371 952h4M383 952h4M371 956h4M379 956h4M371 960h4M379 960h4M371 964h4M379 964h4"/>
<path stroke="#de4968" d="M471 816h4M471 820h4M471 824h4M467 828h4M467 832h4M463 836h4M383 844h4M391 844h4M467 844h4M467 848h4M395 852h4M395 856h4M395 860h4M471 860h4M383 864h4M467 868h4M343 876h12M483 880h12M343 892h12M371 904h4M483 904h12M383 912h4M479 912h4M383 916h4M479 916h4M343 924h16M475 924h4M383 928h4M471 928h4M383 932h4M371 936h4M387 936h4M371 940h4M387 940h4M371 944h4M387 944h4M371 948h4M383 948h4M379 952h4"/>
<path stroke="#ef5d5e" d="M475 816h4M475 820h4M475 824h4M475 828h4M475 832h4M471 836h12M471 840h8M387 844h4M379 848h4M379 852h4M379 860h4M475 864h4M471 868h8M343 872h12M471 872h24M367 908h4M359 912h4M367 912h4M379 912h4M355 916h8M367 916h4M367 920h4M483 920h12M371 924h4M379 924h4M479 924h4M375 928h4M475 928h4M375 936h4M379 940h4M471 940h4M379 944h4M471 944h4M375 948h4M471 948h4M475 956h4M475 960h4M475 964h4"/>
<path stroke="#f4695c" d="M479 816h4M479 820h4M479 824h4M479 828h4M479 832h16M483 836h12M479 840h4M475 844h4M383 848h4M391 848h4M475 848h4M391 852h4M475 852h4M379 856h4M391 856h4M475 856h4M391 860h4M475 860h4M479 868h16M343 900h12M355 904h4M359 908h4M371 908h4M355 912h4M371 912h4M343 916h12M379 916h4M379 920h4M483 924h12M479 928h4M475 932h4M475 936h4M375 940h4M475 940h4M375 944h4M475 948h4M475 952h4"/>
<path stroke="#fb8560" d="M483 816h12M483 820h12M483 824h12M483 844h12M387 852h4M479 856h4M479 860h4M483 864h12M343 904h12M343 912h12M375 916h4M375 920h4M479 936h4M479 940h4M479 944h4M479 948h4M483 952h12M483 956h12M483 960h12M483 964h12"/>
<path stroke="#a5317e" d="M355 828h4M343 840h12M375 844h4M399 844h4M371 848h4M343 852h12M395 864h4M459 864h4M383 868h4M355 880h4M459 880h4M463 884h4M467 888h4M471 892h4M475 896h4M379 900h4M471 912h4M467 920h4M363 936h4M359 940h4M463 940h4M359 944h4M343 948h16M463 948h4M363 952h4M363 956h4M363 960h4M363 964h4"/>
<path stroke="#471078" d="M375 828h4M439 828h4M399 832h4M371 840h4M367 844h4M451 852h4M411 856h4M451 856h4M411 860h4M451 860h4M407 864h4M379 884h8M387 888h4M451 888h4M387 892h4M391 900h4M415 900h4M423 900h4M427 908h4M455 908h4M395 920h4M411 924h16M403 932h4M407 936h4M455 936h4M395 944h4M455 952h4M455 956h4M455 960h4M455 964h4"/>
<path stroke="#982d80" d="M387 828h4M455 832h4M391 836h4M455 836h4M395 840h4M455 840h4M343 844h8M403 848h4M403 852h4M355 856h4M403 856h4M459 856h4M371 864h4M379 868h4M455 872h4M355 884h4M459 884h4M463 888h4M359 892h4M467 892h4M371 896h8M471 896h4M471 900h4M387 904h4M471 904h4M471 908h4M467 916h4M391 928h4M391 932h4M419 932h8M463 932h4M391 936h4M463 936h4M363 940h4M391 940h4M363 944h4M391 944h4M359 948h8M343 952h20M463 952h4M355 956h8M463 956h4M355 960h8M463 960h4M355 964h8M463 964h4"/>
<path stroke="#f8765c" d="M483 828h12M483 840h12M479 844h4M387 848h4M479 848h4M383 852h4M479 852h4M383 856h4M383 860h4M479 864h4M355 908h4M375 908h4M375 912h4M371 916h4M371 920h4M375 924h4M483 928h12M479 932h4M475 944h4M479 952h4M479 956h4M479 960h4M479 964h4"/>
<path stroke="#b0357b" d="M387 832h4M371 852h4M459 852h4M463 856h4M399 860h4M463 860h4M375 864h4M387 868h4M459 868h4M355 876h4M459 876h4M463 880h4M467 884h4M355 888h4M471 888h4M475 892h4M359 896h4M479 896h4M363 900h8M475 900h4M383 904h4M475 904h4M471 916h4M467 924h4M359 932h8M355 936h8M355 940h4M355 944h4M463 944h4"/>
<path stroke="#08071e" d="M363 836h4M431 856h12M427 860h4M439 860h4M423 864h4M439 864h4M415 868h8M439 868h4M403 872h8M439 872h4M399 876h12M439 876h4M399 880h28M439 880h4M399 884h32M439 884h4M403 888h28M439 888h4M403 892h8M427 892h8M439 892h4M403 896h4M427 896h8M439 896h8M403 900h4M431 900h16M399 904h8M431 904h16M399 908h4M435 908h16M399 912h4M435 912h16M399 916h4M435 916h16M435 920h8M451 920h4M439 924h8M451 924h4M439 928h8M451 928h4M439 932h8M439 936h12M439 940h12M399 944h16M431 944h20M399 948h52M399 952h28M439 952h8M399 956h16M443 956h4M399 960h16M443 960h4M399 964h16M443 964h4"/>
<path stroke="#fd9266" d="M483 848h12M483 852h12M387 856h4M483 856h12M387 860h4M483 860h12M343 908h12M483 932h12M483 936h12M483 940h12M483 944h12M483 948h12"/>
<path stroke="#03030f" d="M431 860h8M427 864h12M423 868h8M435 868h4M411 872h8M411 876h20M427 880h4M431 884h4M399 888h4M431 888h8M399 892h4M435 892h4M399 896h4M435 896h4M399 900h4M443 920h8M447 924h4M447 928h4M447 932h4M427 952h12M415 956h28M415 960h28M415 964h28"/>
<path stroke="#000004" d="M431 868h4M419 872h20M431 876h8M431 880h8M435 884h4"/>
</g>
<path d="M493 847 489 847 485 848 485 848 484 852 483 856 483 860 485 862 489 863 493 863M345 910 349 910 353 909 354 908 353 907 349 906 345 906M493 931 489 931 485 932 485 932 483 936 482 940 482 944 484 948 485 950 489 951 493 951" fill="none" stroke="#641a80" stroke-width="0.6" opacity="0.75"/>
<path d="M482 816 482 820 482 824 483 828 485 830 489 831 493 831M493 839 485 840 481 843 479 848 479 856 480 864 485 867 493 867M345 915 349 915 353 915 356 912 357 911 358 908 357 906 355 904 353 902 349 901 345 901M493 925 485 925 481 929 478 936 477 944 480 952 481 960M389 847 385 850 383 856 385 860 391 860 391 852 389 847M377 910 375 912 373 915 373 916 373 920 373 920 377 923 379 920 379 916 378 912 377 910" fill="none" stroke="#782281" stroke-width="0.6" opacity="0.75"/>
<path d="M477 816 477 824 476 832 474 840 475 848 475 856 475 864 473 868 473 873 481 872 485 872 493 872M345 919 353 919 360 916 362 912 361 907 357 902 353 898 345 897M493 918 485 919 481 923 477 928 475 932 473 940 473 944 474 948 475 956 475 964M385 846 381 848 379 856 381 860 389 863 394 860 395 852 393 847 385 846M373 907 369 910 368 916 369 921 373 925 377 928 381 926 383 920 381 912 380 908 373 907M377 937 376 940 375 944 377 948 377 949 378 948 381 946 383 944 382 940 381 939 377 937" fill="none" stroke="#8c2981" stroke-width="0.6" opacity="0.75"/>
<path d="M469 816 469 822 466 828 464 832 464 840 465 844 469 852 470 856 469 864 467 868 469 876 473 879 477 880 485 883 493 883M345 829 349 829 352 828 353 827 354 824 354 820 354 816M345 878 349 878 353 877 354 876 355 872 355 868 355 864 354 860 353 858 349 858 345 858M493 902 485 903 482 908 480 912 477 920 474 924 472 928 470 936 469 944 470 952 471 960M345 926 353 926 361 924 369 928 372 932 372 940 372 948 373 954 373 960M382 964 382 956 385 952 389 945 389 940 389 934 388 928 387 920 386 912 385 908 380 904 373 903 368 904 364 904 359 900 356 896 353 891 345 890M385 843 381 845 376 848 376 856 377 861 384 864 389 865 393 863 397 860 399 852 397 846 393 843 385 843" fill="none" stroke="#ab337c" stroke-width="0.6" opacity="0.75"/>
<path d="M461 816 461 824 460 832 460 840 461 848 463 852 465 856 465 862 462 868 461 872 462 876 466 880 471 884 476 888 480 892 482 896 479 900 477 907 475 912 473 916 470 924 469 928 467 936 466 944 467 952 468 960M345 837 349 837 352 836 353 835 354 832 355 828 357 824 357 823 357 820 357 816M345 944 351 944 355 940 357 934 361 931 366 932 368 940 368 948 368 956 368 964M388 964 389 956 389 952 391 944 391 936 391 928 390 920 389 912 388 908 385 904 378 900 373 900 369 900 364 900 360 896 357 891 354 884 357 876 358 872 358 864 357 860 353 855 345 854M389 836 385 840 379 844 374 848 373 856 373 860 377 864 381 865 389 867 395 864 400 860 402 856 402 848 399 844 394 840 389 836" fill="none" stroke="#ca3e72" stroke-width="0.6" opacity="0.75"/>
<path d="M458 816 458 824 457 832 457 840 458 848 461 856 462 860 460 864 457 872 460 880 462 884 466 888 470 892 473 900 472 908 469 915 467 920 466 928 465 933 464 940 464 948 465 954 465 960M345 843 349 843 353 842 354 840 355 836 356 832 357 831 358 828 360 824 360 820 360 816M345 952 349 952 353 952 353 952 357 954 359 956 359 960 359 964M391 964 391 956 392 948 393 940 393 936 393 931 392 924 392 916 391 908 389 904 384 900 377 896 369 897 364 896 361 891 358 884 360 876 360 868 360 860 357 855 353 851 345 850M389 828 387 832 385 837 381 841 376 844 372 848 371 856 372 864 377 867 381 868 389 870 393 867 398 864 404 860 405 852 402 844 398 840 394 836 391 832 389 828" fill="none" stroke="#e75263" stroke-width="0.6" opacity="0.75"/>
<path d="M384 816 384 824 384 832 381 838 377 841 373 844 369 852 368 856 368 864 372 868 377 869 385 872 389 872 393 869 397 867 401 864 407 860 408 852 405 844 402 840 397 836 395 832 393 826 392 820M423 816 423 820 423 824 425 827 429 827 433 827 437 825 437 824 438 820 438 816M456 816 456 824 455 832 455 840 456 848 457 854 458 860 457 864 455 872 456 880 457 884 461 892 464 896 465 903 465 908 465 912 464 920 463 928 462 936 461 940 461 948 462 952 463 960M393 964 393 956 393 952 394 944 395 936 395 928 394 920 393 912 393 908 389 901 385 897 381 894 377 891 369 891 364 888 362 880 363 872 364 864 361 857 358 852 354 848 356 840 357 836 360 828 362 824 363 816M425 908 423 908 425 908 425 908 425 908M413 931 412 932 413 933 417 934 421 934 425 934 427 932 425 929 421 929 417 929 413 931" fill="none" stroke="#f7705c" stroke-width="0.6" opacity="0.75"/>
<path d="M378 816 378 824 381 832 377 839 373 841 369 847 367 852 365 856 361 852 358 848 359 840 361 832 363 828 366 824 368 816M420 816 420 824 422 828 429 831 437 830 441 824 441 816M453 816 453 824 454 832 454 840 454 848 455 856 454 864 453 868 452 876 453 880 455 888 457 894 458 900 459 908 460 916 461 924 460 932 458 940 458 948 460 956 460 964M395 964 395 956 396 948 396 940 397 932 396 924 395 916 395 908 393 903 389 897 385 892 382 888 377 885 371 884 373 876 377 875 381 877 389 877 392 872 397 869 401 866 406 864 411 860 410 852 409 846 405 840 401 836 399 832 397 826 396 820M421 901 418 904 417 908 421 911 424 912 425 912 425 912 427 908 426 904 425 903 421 901M413 926 409 929 409 933 413 936 421 937 427 936 431 932 429 928 421 926 413 926" fill="none" stroke="#fd9467" stroke-width="0.6" opacity="0.75"/>
<path d="M417 816 417 824 420 832 425 835 432 836 434 836 440 832 443 828 444 820M451 816 451 824 451 832 452 840 452 848 452 856 451 864 449 871 449 873 450 880 451 888 453 893 454 900 456 908 457 914 458 920 458 928 457 934 455 940 455 948 456 956 456 964M397 964 397 956 397 952 398 944 399 936 399 928 398 920 397 912 397 908 394 900 392 896 390 888 391 880 393 876 397 871 402 868 409 865 413 862 415 856 413 850 411 844 409 840 405 834 402 828 400 824 400 816M365 829 373 829 377 832 377 837 371 840 368 844 365 851 361 844 362 836 365 829M417 898 414 904 416 912 421 914 429 912 429 908 428 904 425 898 417 898M413 923 409 925 405 929 405 934 409 937 417 939 425 940 432 936 434 932 433 928 427 924 421 923 413 923" fill="none" stroke="#feb77e" stroke-width="0.6" opacity="0.75"/>
<path d="M414 816 414 824 415 832 413 839 410 832 409 828 407 820M399 964 399 956 400 948 400 940 405 939 409 940 417 942 425 943 432 940 436 936 438 932 437 928 433 923 425 920 417 920 409 921 402 924 401 924 400 916 399 908 397 901 395 896 395 888 396 880 397 875 401 871 409 868 413 866 417 864 421 860 421 852 421 848 425 844 426 844 433 846 439 844 441 840 445 832 449 828 449 828 450 836 450 844 449 852 449 856 446 864 445 872 445 872 446 880 447 888 449 893 450 900 452 908 453 912 455 920 455 928 453 936 452 940 452 948 451 956 451 964M365 834 369 834 371 836 369 837 366 840 365 843 364 840 364 836 365 834M413 896 411 900 409 908 413 916 417 919 425 919 430 916 432 908 429 902 427 896 421 892 413 896" fill="none" stroke="#fdda9c" stroke-width="0.6" opacity="0.75"/>
<path d="M404 964 404 956 409 952 413 952 421 951 429 949 435 948 441 947 443 952 443 960M433 858 439 860 440 868 440 876 441 884 441 892 437 900 437 900 433 895 429 888 425 884 421 882 413 883 409 880 409 874 413 871 420 868 425 865 429 862 433 858M405 883 407 888 405 893 402 900 401 900 400 892 401 884 405 883M445 915 449 917 450 924 449 932 446 932 445 928 441 920 445 915" fill="none" stroke="#fde7a9" stroke-width="0.6" opacity="0.75"/>
</g>
<path d="M401.7 961.0 L402.9 947.4 L404.4 941.2 L409.6 943.3 L420.1 944.9 L430.5 943.9 L439.9 940.1 L440.9 932.8 L439.9 924.5 L434.7 917.8 L429.5 909.9 L427.4 900.5 L424.7 892.5 L419.0 890.0 L413.4 892.1 L409.2 898.4 L406.5 906.7 L403.8 915.1 L401.7 905.7 L400.2 895.2 L398.8 884.8 L397.1 877.5 L395.0 874.4 L407.5 871.9 L419.0 870.6 L425.3 862.9 L432.6 858.7 L437.8 860.8 L439.9 870.2 L442.0 880.6 L444.1 891.1 L444.1 903.6 L449.3 909.9 L454.5 915.1 L455.6 922.4 L453.5 930.7 L452.4 939.1 L449.3 947.4 L445.1 954.7 L443.4 961.0" fill="none" stroke="#fff" stroke-width="2.3" stroke-linecap="round" stroke-linejoin="round" stroke-dasharray="0 3.7"/>
<path d="M401.7 960.6 L443.4 960.6" fill="none" stroke="#fff" stroke-width="2.3" stroke-linecap="round" stroke-linejoin="round" stroke-dasharray="0 3.7"/>
<text x="351.4" y="834.5" font-size="16" text-anchor="start" fill="#fff">(III)</text>
<text x="484.8" y="834" font-size="13" text-anchor="end" fill="#fff">t = 15 min</text>
<clipPath id="hIV"><rect x="496" y="818" width="143" height="143"/></clipPath>
<g clip-path="url(#hIV)">
<g filter="url(#hblur)" stroke-width="4">
<path stroke="#bc3978" d="M492 816h12M492 820h12M492 824h12M536 836h4M632 840h12M540 844h4M584 844h12M632 844h12M504 848h4M532 848h4M592 848h4M504 852h4M580 852h4M592 852h4M504 856h4M544 856h4M572 860h4M628 864h4M624 868h4M492 872h12M620 872h4M616 884h4M520 892h4M512 896h4M532 900h4M628 900h4M504 908h4M512 920h4M528 920h4M628 928h4M504 936h8M544 940h4M608 940h4M544 944h4M604 952h4M604 956h4M604 960h4M604 964h4"/>
<path stroke="#982d80" d="M504 816h4M604 816h4M504 820h4M604 820h4M504 824h4M604 824h4M536 828h4M584 836h4M628 840h4M544 844h4M580 844h4M624 848h4M528 852h4M548 852h4M576 852h4M624 852h4M572 856h4M596 856h4M524 860h4M568 860h4M540 864h4M580 864h4M588 864h4M504 872h4M512 888h12M508 892h4M616 896h4M504 900h4M620 900h4M492 904h12M536 908h4M492 912h12M504 920h4M532 920h4M504 924h8M532 924h4M632 924h12M492 928h20M532 928h4M548 928h4M508 932h4M552 932h4M620 932h4M516 936h4M528 936h4M548 940h4M544 952h4M600 952h4"/>
<path stroke="#752181" d="M508 816h4M532 816h4M588 816h4M508 820h4M532 820h4M588 820h4M508 824h4M532 824h4M588 824h4M540 828h4M596 828h4M608 832h4M604 836h4M528 844h4M552 848h4M552 852h4M572 852h4M600 852h4M620 852h4M508 856h4M572 864h4M592 868h4M508 872h4M596 872h4M508 876h4M508 880h8M504 884h8M516 884h4M504 888h4M536 896h4M536 900h4M536 904h4M624 904h4M536 916h4M548 924h4M556 932h4M552 940h4"/>
<path stroke="#5f187f" d="M512 816h4M580 816h4M596 816h4M624 816h4M512 820h4M580 820h4M596 820h4M624 820h4M512 824h4M580 824h4M596 824h4M624 824h4M544 828h4M624 828h4M508 832h4M544 832h4M624 832h4M552 844h4M616 844h4M556 848h4M572 848h4M604 848h4M556 852h4M564 852h4M616 852h4M556 856h4M556 860h4M600 860h4M620 860h4M516 864h4M548 864h4M616 864h4M516 868h8M584 868h4M512 872h4M592 872h4M604 872h8M516 876h4M608 876h4M520 880h4M536 888h4M632 908h12M540 912h4M632 912h12M540 916h4M632 916h12M540 920h4M552 924h4M524 928h4M556 936h4M604 936h4M592 944h4M552 948h4M592 948h4M548 956h4M596 956h4M548 960h4M596 960h4M548 964h4M596 964h4"/>
<path stroke="#52137c" d="M516 816h12M544 816h4M616 816h4M516 820h12M544 820h4M616 820h4M516 824h12M544 824h4M616 824h4M612 832h4M508 836h4M608 836h4M624 836h4M508 840h4M548 840h4M576 840h4M608 840h4M508 844h4M612 844h4M508 848h4M568 848h4M612 848h4M604 852h4M616 856h4M512 860h4M512 864h4M568 864h4M512 868h4M580 868h4M604 868h4M516 872h12M520 876h8M596 876h12M524 880h4M608 880h4M524 884h12M612 892h4M540 908h4M628 908h4M628 912h4M544 920h4M628 920h4M556 924h4M624 924h4M560 932h4M556 940h4M552 952h4M592 952h4"/>
<path stroke="#6a1c81" d="M528 816h4M540 816h4M592 816h4M528 820h4M540 820h4M592 820h4M528 824h4M540 824h4M592 824h4M508 828h4M528 828h4M580 828h4M612 828h4M528 832h4M580 832h4M528 836h4M544 836h4M580 836h4M528 840h4M604 840h4M624 840h4M548 844h4M576 844h4M604 844h4M620 844h4M616 848h4M508 852h4M524 852h4M568 852h4M520 856h4M564 856h4M600 856h4M620 856h4M516 860h4M564 860h4M520 864h4M600 864h4M524 868h16M588 868h4M600 868h4M612 868h4M600 872h4M512 876h4M516 880h4M492 884h12M520 884h4M492 888h12M532 888h4M612 888h4M492 892h12M536 892h4M492 896h12M616 900h4M620 904h4M536 920h4M632 920h12M520 928h4M556 928h4M516 932h4M528 932h4M524 936h4M608 936h4M596 940h4M552 944h4M548 952h4M596 952h4"/>
<path stroke="#8c2981" d="M536 816h4M628 816h4M536 820h4M628 820h4M536 824h4M628 824h4M604 828h8M628 828h4M532 832h4M584 832h20M628 832h4M532 836h4M540 836h4M600 836h4M628 836h4M600 840h4M600 844h4M548 848h4M600 848h4M624 856h4M596 860h4M624 860h4M528 864h4M592 864h4M504 876h4M508 888h4M524 888h4M532 892h4M632 904h12M536 912h4M492 916h12M492 924h12M536 924h4M512 928h4M624 928h4M512 932h4M600 940h4M548 944h4M596 944h4M544 956h4M600 956h4M544 960h4M600 960h4M544 964h4M600 964h4"/>
<path stroke="#3b0f70" d="M548 816h4M576 816h4M620 816h4M548 820h4M576 820h4M620 820h4M548 824h4M576 824h4M620 824h4M512 828h8M548 828h4M576 828h4M524 832h4M548 832h4M576 832h4M616 832h4M524 836h4M548 836h4M612 836h4M524 840h4M564 844h8M604 856h4M612 856h4M552 864h4M576 868h4M532 872h4M588 872h4M532 876h4M600 880h4M540 888h4M540 892h4M540 896h4M624 912h4M552 920h8M560 924h4M620 928h4M564 932h4M592 940h4M556 948h4"/>
<path stroke="#221150" d="M552 816h4M552 820h4M552 824h4M552 828h4M512 832h4M552 832h4M520 836h4M620 836h4M520 840h4M564 840h8M608 856h4M560 864h4M572 868h4M536 872h4M596 880h4M540 884h4M540 900h4M540 904h4M616 908h4M620 912h4M552 916h4M564 924h4M568 932h4M612 932h4M564 940h4M560 944h4M588 944h4M588 952h4M588 956h4M588 960h4"/>
<path stroke="#100b2d" d="M556 816h4M564 816h8M556 820h4M564 820h8M556 824h4M564 824h8M556 828h4M564 828h8M564 832h8M560 836h12M516 844h4M516 848h4M552 868h4M564 868h4M540 872h4M580 872h4M588 876h4M540 880h4M592 880h4M544 884h4M544 888h4M604 888h4M608 892h4M544 896h4M612 908h4M548 912h8M616 912h4M564 916h4M620 916h4M568 920h4M620 920h4M616 928h4M572 932h4M596 932h12M572 936h4M592 936h4M588 940h4M568 944h4M568 948h4M564 952h8M564 956h4M564 960h4M584 960h4M564 964h8M580 964h8"/>
<path stroke="#08071e" d="M560 816h4M560 820h4M560 824h4M560 828h4M560 832h4M512 836h4M512 840h4M556 868h8M544 872h8M576 872h4M540 876h12M580 876h8M544 880h4M584 880h8M592 884h8M596 888h8M548 892h4M600 892h8M548 896h8M604 896h8M544 900h12M604 900h8M544 904h16M608 904h4M548 908h16M556 912h16M612 912h4M568 916h8M612 916h8M572 920h8M612 920h8M572 924h8M592 924h28M572 928h12M588 928h28M576 932h20M576 936h16M572 940h16M572 944h16M572 948h16M572 952h16M568 956h20M568 960h16M572 964h8"/>
<path stroke="#19103f" d="M572 816h4M572 820h4M572 824h4M572 828h4M556 832h4M572 832h4M516 836h4M556 836h4M572 836h4M516 840h4M560 840h4M512 852h4M608 860h4M548 868h4M568 868h4M584 872h4M536 876h4M600 884h4M544 892h4M612 904h4M544 908h4M556 916h8M564 920h4M568 924h4M620 924h4M568 928h4M608 932h4M568 936h4M568 940h4M564 944h4M560 948h8M560 952h4M560 956h4M560 960h4M560 964h4"/>
<path stroke="#812581" d="M584 816h4M600 816h4M612 816h4M584 820h4M600 820h4M612 820h4M584 824h4M600 824h4M612 824h4M532 828h4M584 828h12M600 828h4M540 832h4M604 832h4M544 840h4M580 840h4M624 844h4M528 848h4M576 848h4M620 848h4M524 856h4M552 856h4M568 856h4M508 860h4M520 860h4M552 860h4M508 864h4M524 864h4M544 864h4M576 864h4M596 864h4M620 864h4M508 868h4M596 868h4M616 868h4M612 872h4M612 876h4M492 880h16M612 880h4M512 884h4M612 884h4M528 888h4M504 892h4M504 896h4M492 900h12M628 904h4M492 920h12M540 924h8M628 924h4M516 928h4M528 928h4M552 928h4M520 936h4M552 936h4M612 936h4M548 948h4M596 948h4"/>
<path stroke="#a5317e" d="M608 816h4M632 816h12M608 820h4M632 820h12M608 824h4M632 824h12M504 828h4M632 828h12M504 832h4M536 832h4M504 836h4M588 836h8M532 840h4M540 840h4M584 840h4M628 844h4M544 848h4M596 852h4M528 856h4M548 856h4M548 860h4M592 860h4M532 864h4M584 864h4M624 864h4M504 868h4M620 868h4M616 872h4M492 876h12M616 892h4M508 896h4M532 896h4M492 908h12M504 916h4M532 916h4M508 920h4M512 924h20M544 928h4M504 932h4M532 932h4M548 936h4M524 940h4M604 940h4M600 948h4"/>
<path stroke="#d3436e" d="M492 828h12M584 848h4M540 852h4M584 852h4M532 856h4M632 856h12M532 860h4M580 860h4M632 860h12M492 864h12M628 868h4M624 872h4M620 876h4M516 896h4M528 896h4M620 896h4M512 900h4M532 904h4M508 908h4M512 912h4M536 932h4M612 940h4M524 944h4M520 948h8M512 952h16M540 952h4M504 956h8M520 956h8M504 960h8M520 960h8M504 964h8M520 964h8"/>
<path stroke="#471078" d="M520 828h8M616 828h4M576 836h4M552 840h4M612 840h12M524 844h4M556 844h4M572 844h4M608 844h4M524 848h4M560 848h8M608 848h4M520 852h4M560 852h4M612 852h4M516 856h4M560 856h4M560 860h4M616 860h4M604 864h4M612 864h4M540 868h4M608 868h4M528 872h4M528 876h4M528 880h8M604 880h4M536 884h4M608 884h4M612 896h4M616 904h4M624 908h4M544 916h4M628 916h4M548 920h4M560 928h4M520 932h4M616 932h4M560 936h4M600 936h4M556 944h4M552 956h4M592 956h4M552 960h4M592 960h4M552 964h4M592 964h4"/>
<path stroke="#2d1161" d="M620 828h4M516 832h8M620 832h4M552 836h4M616 836h4M556 840h4M572 840h4M520 844h4M560 844h4M520 848h4M516 852h4M608 852h4M512 856h4M604 860h4M612 860h4M556 864h4M564 864h4M608 864h4M544 868h4M592 876h4M536 880h4M604 884h4M608 888h4M612 900h4M620 908h4M544 912h4M548 916h4M624 916h4M560 920h4M624 920h4M564 928h4M524 932h4M564 936h4M596 936h4M560 940h4M588 948h4M556 952h4M556 956h4M556 960h4M556 964h4M588 964h4"/>
<path stroke="#e75263" d="M492 832h12M492 860h12M632 872h12M624 876h4M620 884h4M620 888h4M520 896h4M624 896h4M516 900h4M512 908h4M516 916h4M524 920h4M632 932h12M624 936h20M492 940h12M532 940h4M540 940h4M616 940h4M628 940h16M516 944h4M528 944h4M540 944h4M608 944h4M632 944h12M500 948h16M528 948h4M608 948h4M632 948h12M492 952h12M528 952h4M632 952h12M532 956h4M612 956h4M628 956h16M532 960h4M612 960h4M628 960h16M532 964h4M612 964h4M628 964h16"/>
<path stroke="#b0357b" d="M632 832h12M596 836h4M632 836h12M504 840h4M588 840h12M504 844h4M532 844h4M596 844h4M580 848h4M596 848h4M628 848h4M544 852h4M628 852h4M576 856h4M592 856h4M628 856h4M504 860h4M528 860h4M628 860h4M504 864h4M536 864h4M616 876h4M616 880h4M616 888h4M512 892h8M528 892h4M508 900h4M624 900h4M504 904h4M504 912h4M508 916h4M536 928h8M492 932h12M548 932h4M512 936h4M616 936h4M520 940h4M600 944h4M544 948h4"/>
<path stroke="#f4695c" d="M492 836h12M624 880h4M624 888h4M524 896h4M516 904h4M528 912h4M520 916h4M620 940h4M616 944h4M624 944h4M532 948h4M616 948h4M624 948h4M536 952h4M616 952h4M624 952h4M616 956h8M616 960h8M616 964h8"/>
<path stroke="#f8765c" d="M492 840h12M492 852h12M632 876h12M624 884h4M628 892h4M632 896h12M520 900h4M528 904h4M516 908h4M536 940h4M532 944h4M620 944h4M620 948h4M620 952h4"/>
<path stroke="#c73d73" d="M536 840h4M540 848h4M588 848h4M632 848h12M532 852h4M588 852h4M632 852h12M580 856h4M588 856h4M544 860h4M576 860h4M588 860h4M492 868h12M524 892h4M632 900h12M508 904h4M508 912h4M532 912h4M512 916h4M516 920h4M632 928h12M540 932h8M624 932h4M492 936h12M532 936h4M544 936h4M516 940h4M528 940h4M604 944h4M604 948h4M512 956h8M540 956h4M512 960h8M540 960h4M512 964h8M540 964h4"/>
<path stroke="#fb8560" d="M492 844h12M492 848h12M628 880h4M524 916h4M536 948h4"/>
<path stroke="#03030f" d="M512 844h4M512 848h4M552 872h8M568 872h8M552 876h8M572 876h8M548 880h8M576 880h8M548 884h8M588 884h4M548 888h8M588 888h8M552 892h8M592 892h8M556 896h4M600 896h4M556 900h8M600 900h4M560 904h8M600 904h8M564 908h8M604 908h8M572 912h8M604 912h8M576 916h4M604 916h8M580 920h4M600 920h12M580 924h12M584 928h4"/>
<path stroke="#de4968" d="M536 844h4M540 856h4M584 856h4M540 860h4M584 860h4M632 864h12M632 868h12M628 872h4M620 880h4M620 892h4M512 904h4M532 908h4M528 916h4M520 920h4M628 932h4M540 936h4M620 936h4M504 940h12M520 944h4M516 948h4M540 948h4M504 952h8M608 952h4M492 956h12M528 956h4M608 956h4M492 960h12M528 960h4M608 960h4M492 964h12M528 964h4M608 964h4"/>
<path stroke="#ef5d5e" d="M536 848h4M536 852h4M492 856h12M536 856h4M536 860h4M628 876h4M624 892h4M628 896h4M528 900h4M516 912h4M536 936h4M624 940h4M492 944h24M612 944h4M628 944h4M492 948h8M612 948h4M628 948h4M532 952h4M612 952h4M628 952h4M536 956h4M624 956h4M536 960h4M624 960h4M536 964h4M624 964h4"/>
<path stroke="#000004" d="M560 872h8M560 876h12M556 880h20M556 884h32M556 888h32M560 892h32M560 896h40M564 900h36M568 904h32M572 908h32M580 912h24M580 916h24M584 920h16"/>
<path stroke="#fe9f6d" d="M632 880h12M628 884h4"/>
<path stroke="#febb81" d="M632 884h12M524 904h4"/>
<path stroke="#fd9266" d="M628 888h4M632 892h12M524 900h4M520 904h4M528 908h4M520 912h4M536 944h4"/>
<path stroke="#feae77" d="M632 888h12M520 908h4M524 912h4"/>
<path stroke="#fed799" d="M524 908h4"/>
</g>
<path d="M526 905 524 908 526 910 527 908 526 905" fill="none" stroke="#3b0f70" stroke-width="0.6" opacity="0.75"/>
<path d="M642 881 638 881 634 881 631 884 633 888 634 889 638 889 642 889M526 902 524 904 522 906 521 908 522 909 525 912 526 912 526 912 528 908 527 904 526 902" fill="none" stroke="#51127c" stroke-width="0.6" opacity="0.75"/>
<path d="M642 878 638 878 634 878 631 880 630 881 628 884 630 888 630 889 633 892 634 893 638 893 642 893M526 900 522 902 519 908 522 912 528 912 529 904 526 900" fill="none" stroke="#641a80" stroke-width="0.6" opacity="0.75"/>
<path d="M494 853 498 853 500 852 502 850 502 848 502 844 502 843 499 840 498 840 494 839M642 875 634 876 630 878 626 883 626 886 629 892 634 896 642 896M522 900 519 904 517 908 519 912 524 916 527 916 530 911 530 904 528 900 522 900M538 940 534 944 536 948 538 949 538 948 540 944 538 940M622 943 620 944 621 948 622 951 623 948 623 944 622 943" fill="none" stroke="#782281" stroke-width="0.6" opacity="0.75"/>
<path d="M494 857 498 857 501 856 502 856 503 852 503 848 503 844 503 840 502 836 502 836 498 834 494 834M642 873 634 873 628 876 625 880 624 888 626 893 630 896 638 897M494 946 498 946 502 946 506 946 510 945 514 944 510 944 506 943 502 943 498 943 494 943M538 964 538 956 540 948 541 940 535 940 531 944 533 952 537 956 538 964M629 964 629 956 630 948 628 940 622 939 618 942 614 944 614 950 615 956 615 964M526 896 522 897 518 901 515 908 518 913 522 917 528 916 531 912 532 904 530 900 526 896" fill="none" stroke="#8c2981" stroke-width="0.6" opacity="0.75"/>
<path d="M642 861 634 863 631 868 627 872 623 876 621 880 621 888 622 893 626 897 634 899 642 899M494 865 501 864 503 860 504 852 504 844 504 836 502 830 494 828M642 930 634 930 629 932 622 936 618 939 614 940 608 944 609 952 609 960M506 964 507 956 514 952 518 952 526 952 526 956 526 964M541 964 541 956 542 951 544 944 543 936 538 933 534 937 530 941 526 946 522 943 515 940 510 939 502 938 494 938M538 844 536 848 534 856 538 861 542 860 542 852 541 848 538 844M586 853 585 856 586 860 587 856 586 853M518 896 515 900 513 904 513 912 516 916 520 920 526 921 530 918 533 912 534 908 533 904 530 896 526 893 518 896" fill="none" stroke="#ab337c" stroke-width="0.6" opacity="0.75"/>
<path d="M642 839 635 840 633 844 631 852 630 860 629 864 626 868 621 872 618 880 618 884 618 888 621 896 626 899 630 901 638 902M494 872 500 872 504 868 506 860 506 856 506 848 506 844 505 836 504 828 502 820M642 927 634 927 630 928 625 932 619 936 614 939 609 940 604 944 605 952 606 960M543 964 543 956 545 948 547 944 548 936 546 931 538 929 534 934 530 938 526 941 522 940 514 937 510 936 502 933 494 933M538 837 535 844 533 848 531 856 534 862 542 862 547 860 546 853 545 848 542 843 538 837M586 843 583 848 581 852 578 857 578 861 586 862 592 860 594 854 596 848 594 843 586 843M522 891 518 892 513 896 510 901 506 908 506 908 510 915 513 920 518 922 526 923 531 920 534 914 536 908 534 900 533 896 528 892 522 891" fill="none" stroke="#ca3e72" stroke-width="0.6" opacity="0.75"/>
<path d="M606 816 606 820 606 822 606 824 610 825 611 824 611 820 611 816M632 816 632 824 632 832 630 840 628 844 626 848 626 852 627 860 625 864 621 868 617 872 615 880 617 888 618 894 622 900 626 902 634 903 642 904M494 877 502 877 506 873 507 868 508 860 508 852 507 844 507 836 507 828 506 820M494 912 498 912 498 912 502 913 504 916 506 919 506 920 507 924 506 926 502 927 498 927 494 927M642 924 637 924 630 926 626 929 622 932 616 936 610 938 604 940 600 944 602 952 603 956 603 964M546 964 546 956 547 952 549 944 550 940 553 932 550 928 542 926 534 925 533 932 530 936 522 938 518 936 510 932 507 928 514 926 522 925 530 925 534 920 536 916 538 908 536 900 534 894 530 890 522 888 514 889 510 893 506 900 502 904 498 905M538 829 535 836 533 840 531 848 530 852 527 860 532 864 538 865 542 864 550 860 551 856 550 852 546 845 543 840 541 836 538 829M590 834 586 837 582 844 580 848 577 852 573 856 574 861 582 864 586 864 591 864 596 860 598 856 600 848 601 840 598 833 590 834" fill="none" stroke="#e75263" stroke-width="0.6" opacity="0.75"/>
<path d="M534 816 534 824 533 828 532 836 530 843 529 848 526 855 522 860 522 860 526 865 534 867 542 866 546 864 554 860 555 856 554 851 550 845 546 840 544 836 542 828 540 824 540 816M586 816 586 824 584 832 582 838 579 844 577 848 573 852 569 856 570 861 576 864 582 866 590 867 594 868 599 868 600 860 602 853 604 848 604 840 606 834 610 831 614 825 615 820M601 816 601 820 601 824 598 828 594 827 590 826 587 824 587 820 587 816M628 816 628 824 629 832 627 840 624 844 621 848 622 852 624 860 621 864 616 868 613 872 613 880 614 886 616 892 618 899 622 902 627 904 634 906 642 906M494 882 498 882 502 882 506 883 508 884 506 888 506 888 505 892 504 896 502 898 498 899 494 899M642 921 634 921 629 924 625 928 621 932 614 935 610 937 602 939 598 943 598 948 599 952 600 960M548 964 548 956 550 950 552 944 554 939 557 932 554 927 548 924 542 922 537 920 538 916 539 908 538 902 538 896 534 890 530 887 522 885 517 884 511 880 510 872 511 864 510 857 509 852 509 844 508 836 509 828 510 824 510 816M522 927 529 928 531 932 527 936 524 936 518 933 518 930 522 927" fill="none" stroke="#f7705c" stroke-width="0.6" opacity="0.75"/>
<path d="M527 816 528 824 529 832 528 840 527 848 524 852 520 856 515 860 514 860 511 852 510 848 510 840 510 835 512 828 514 824 516 816M581 816 581 824 580 832 578 840 576 844 573 848 566 852 564 856 566 861 571 864 578 866 585 868 590 869 594 872 602 875 608 876 610 880 613 888 614 892 617 900 621 904 626 906 632 908 633 916 630 920 626 924 622 929 618 933 610 935 605 936 598 939 594 944 596 952 597 960M625 816 625 824 626 832 624 840 618 844 615 848 618 853 621 860 617 864 612 868 606 869 603 864 604 856 606 850 608 844 610 836 613 832 616 828 618 820M551 964 552 956 554 949 555 944 558 938 561 932 558 926 554 923 546 920 543 916 542 911 540 904 540 896 538 889 534 885 528 884 523 880 521 876 518 872 522 871 530 870 538 869 542 867 550 864 554 862 559 860 559 852 558 848 554 844 550 840 547 832 546 828 545 820M522 931 526 929 528 932 526 934 522 932 521 932 522 931" fill="none" stroke="#fd9467" stroke-width="0.6" opacity="0.75"/>
<path d="M577 816 577 824 577 832 575 840 570 844 566 845 560 844 555 840 551 836 550 828 550 820M556 964 556 956 558 948 559 944 562 938 566 932 562 924 558 921 554 919 548 916 545 912 542 905 541 900 542 895 542 891 539 884 535 880 533 876 535 872 542 869 546 867 554 865 558 863 566 864 570 866 578 868 582 869 590 872 594 875 598 878 604 880 608 884 611 888 613 896 615 900 618 905 623 908 626 912 627 920 624 924 621 928 616 932 610 933 602 935 598 937 594 940 591 948 593 956 592 964M622 828 622 828 623 832 623 836 622 838 618 838 616 836 618 832 618 832 622 828 622 828M514 829 522 830 526 836 524 844 522 850 518 854 512 852 511 844 512 836 514 829M610 851 614 855 616 860 611 864 608 864 606 860 607 856 610 851" fill="none" stroke="#feb77e" stroke-width="0.6" opacity="0.75"/>
<path d="M573 816 573 824 574 829 574 836 570 839 562 840 557 836 556 828 556 820M561 964 561 956 562 951 564 944 567 940 570 935 570 928 568 924 566 920 558 916 554 915 549 912 546 908 544 900 545 892 543 884 540 880 540 872 546 870 550 868 558 866 566 866 571 868 578 870 585 872 590 875 594 878 598 881 603 884 608 888 610 892 612 900 614 904 618 909 622 914 624 920 622 924 618 929 610 932 606 932 598 934 594 937 590 942 588 948 589 956 588 964M514 834 519 836 520 844 518 849 513 848 513 840 514 834" fill="none" stroke="#fdda9c" stroke-width="0.6" opacity="0.75"/>
<path d="M554 871 562 869 570 871 575 872 581 876 586 879 590 881 594 885 598 888 602 892 606 897 609 904 611 908 614 916 614 920 611 924 606 925 598 926 594 928 587 932 584 932 580 928 578 924 574 917 570 913 566 911 560 908 554 904 552 900 551 892 550 888 548 880 550 875 554 871" fill="none" stroke="#fde7a9" stroke-width="0.6" opacity="0.75"/>
</g>
<path d="M585.8 961.0 L586.8 946.4 L591.0 939.1 L596.2 933.9 L609.8 933.9 L622.3 931.8 L623.3 924.5 L621.3 916.1 L612.9 907.8 L611.9 897.3 L609.8 887.9 L602.5 884.8 L597.2 879.6 L592.0 874.4 L579.5 873.3 L571.2 871.2 L565.9 865.6 L552.4 867.1 L544.0 870.2 L532.5 874.4 L543.0 880.6 L549.2 886.9 L546.1 895.2 L539.8 899.4 L539.8 905.7 L546.1 911.9 L554.5 915.1 L562.8 914.0 L572.2 916.1 L574.3 926.6 L575.3 939.1 L574.3 951.6 L568.0 955.8 L564.9 960.6" fill="none" stroke="#fff" stroke-width="2.3" stroke-linecap="round" stroke-linejoin="round" stroke-dasharray="0 3.7"/>
<path d="M564.9 960.6 L587.9 960.6" fill="none" stroke="#fff" stroke-width="2.3" stroke-linecap="round" stroke-linejoin="round" stroke-dasharray="0 3.7"/>
<text x="499.8" y="834.5" font-size="16" text-anchor="start" fill="#fff">(IV)</text>
<text x="633.8" y="834" font-size="13" text-anchor="end" fill="#fff">t = 21 min</text>
<clipPath id="hVIII"><rect x="52" y="972" width="143.4" height="143"/></clipPath>
<g clip-path="url(#hVIII)">
<g filter="url(#hblur)" stroke-width="4">
<path stroke="#e75263" d="M48 970h12M48 974h12M48 978h12M48 982h12M48 986h12M48 990h12M92 998h4M96 1006h4M92 1018h4M60 1050h12M92 1050h4M60 1054h8M88 1054h4M188 1054h12M60 1058h8M84 1058h4M164 1058h4M184 1058h4M48 1062h16M80 1062h4M164 1062h4M180 1062h4M80 1066h4M80 1070h4M80 1074h4M96 1074h4M180 1078h4M84 1082h4M180 1082h4M88 1086h4M176 1086h12M88 1090h4M188 1090h12"/>
<path stroke="#bc3978" d="M60 970h4M188 970h12M60 974h4M188 974h12M60 978h4M188 978h12M60 982h4M188 982h12M60 986h4M188 986h12M188 990h12M92 994h4M184 994h4M88 998h4M96 998h4M180 998h4M48 1002h12M176 1002h4M84 1006h4M100 1014h4M184 1018h16M48 1038h12M64 1042h4M92 1042h4M72 1046h4M88 1046h4M164 1046h4M80 1050h4M156 1050h4M188 1050h12M96 1054h4M156 1054h4M184 1054h4M180 1058h4M176 1062h4M156 1066h4M176 1066h4M76 1070h4M176 1070h4M48 1074h12M160 1074h4M100 1078h4M164 1086h4M100 1090h4M168 1090h4M80 1094h4M100 1094h4M172 1094h4M48 1098h12M176 1098h4M180 1102h4M84 1106h4M96 1106h4M180 1106h4M180 1110h4M180 1114h4M180 1118h4"/>
<path stroke="#8c2981" d="M64 970h4M64 974h4M64 978h4M164 982h4M180 982h4M92 986h4M160 986h4M172 986h4M176 990h4M88 994h4M168 994h8M172 998h4M172 1002h4M48 1010h12M80 1018h4M172 1018h4M180 1022h4M160 1026h4M168 1026h4M160 1030h4M48 1034h12M92 1034h4M96 1038h4M164 1038h4M156 1042h4M152 1046h4M168 1050h4M184 1050h4M180 1054h4M100 1058h4M176 1058h4M72 1070h4M60 1074h4M156 1078h4M108 1082h4M60 1090h4M72 1090h4M108 1090h4M160 1090h4M68 1094h4M104 1094h4M164 1102h4M164 1106h4M164 1110h4M164 1114h4M164 1118h4"/>
<path stroke="#5f187f" d="M68 970h4M84 970h4M152 970h4M68 974h4M84 974h8M152 974h4M68 978h4M84 978h4M152 978h4M96 982h4M100 990h4M84 994h4M156 994h4M64 1010h4M72 1010h4M104 1010h4M168 1010h4M104 1014h4M168 1014h4M48 1018h12M104 1018h4M156 1022h4M176 1026h4M48 1030h16M96 1030h4M156 1030h4M172 1030h4M180 1030h4M72 1034h4M100 1034h4M84 1038h4M184 1038h4M148 1046h4M104 1066h4M68 1070h4M64 1074h4M108 1074h4M64 1078h4M152 1078h4M64 1082h4M64 1086h4M156 1086h4M112 1098h4M112 1102h4M116 1110h4M116 1114h4M116 1118h4"/>
<path stroke="#52137c" d="M72 970h12M72 974h12M92 974h4M72 978h12M68 982h8M84 982h4M152 982h4M68 986h4M152 986h4M68 990h4M152 990h4M68 994h4M152 994h4M68 998h4M152 998h8M164 998h4M68 1002h8M152 1002h4M168 1002h4M72 1006h4M104 1006h4M152 1006h4M168 1006h4M152 1010h4M152 1014h4M60 1018h4M72 1018h4M152 1018h8M80 1022h4M104 1022h4M152 1022h4M64 1030h8M88 1030h4M100 1030h4M76 1038h4M152 1038h4M172 1050h4M180 1050h4M176 1054h4M108 1070h4M112 1078h4M116 1086h4M116 1090h4M156 1090h4M116 1094h4M156 1094h4M116 1098h4M156 1098h4M116 1102h4M116 1106h4M156 1118h4"/>
<path stroke="#6a1c81" d="M88 970h8M156 970h4M172 970h8M156 974h4M172 974h8M88 978h8M156 978h4M172 978h8M88 982h4M156 982h4M88 986h4M96 986h4M88 990h4M160 994h4M168 998h4M64 1006h4M76 1006h4M60 1014h4M72 1014h4M168 1018h4M84 1022h4M100 1022h4M160 1022h4M156 1026h4M172 1026h4M180 1026h4M92 1030h4M184 1030h4M88 1034h4M156 1034h4M168 1034h4M184 1034h4M100 1038h4M168 1038h4M80 1042h4M148 1070h4M112 1082h4M68 1090h4M112 1090h4M112 1094h4M108 1098h4M112 1106h4M112 1110h4M160 1110h4M112 1114h4M160 1114h4M112 1118h4M160 1118h4"/>
<path stroke="#471078" d="M96 970h4M96 978h4M76 982h4M72 986h4M84 986h4M100 986h4M84 990h4M72 994h4M72 998h4M160 998h4M76 1002h8M104 1002h4M68 1006h4M64 1014h4M64 1018h4M160 1018h8M76 1022h4M92 1026h16M72 1030h4M104 1030h4M176 1030h4M76 1034h4M84 1034h4M172 1034h4M180 1034h4M148 1042h4M180 1042h4M172 1046h4M180 1046h4M144 1054h4M144 1058h4M104 1062h4M144 1062h4M112 1074h4M148 1074h4M116 1082h4M68 1086h4M156 1102h4M120 1106h4M156 1106h4M120 1110h4M120 1114h4M156 1114h4M120 1118h4"/>
<path stroke="#2d1161" d="M100 970h4M96 974h4M148 974h4M148 978h4M148 982h4M80 986h4M148 986h4M76 990h4M104 990h4M80 994h4M148 1014h4M68 1018h4M148 1018h4M68 1022h4M60 1026h8M72 1026h4M84 1026h4M76 1030h4M152 1030h4M80 1034h4M176 1034h4M108 1066h4M116 1078h4M124 1098h4M124 1102h4M124 1106h4M124 1110h4M124 1114h4M124 1118h4M152 1118h4"/>
<path stroke="#100b2d" d="M104 970h8M144 974h4M144 978h4M104 982h4M144 982h4M144 986h4M108 990h4M108 994h4M108 998h4M140 998h4M108 1002h4M140 1002h4M108 1006h4M144 1018h4M148 1026h4M148 1030h4M108 1034h4M148 1034h4M108 1038h4M108 1042h4M144 1042h4M108 1046h4M108 1050h4M140 1050h4M108 1054h4M108 1058h4M140 1058h4M140 1062h4M112 1066h4M140 1066h4M116 1070h4M140 1070h4M120 1078h4M148 1082h4M128 1090h4M128 1094h4M132 1102h4M152 1102h4M152 1106h4M136 1110h4M152 1110h4M136 1114h4M148 1114h4M136 1118h4M144 1118h4"/>
<path stroke="#08071e" d="M112 970h32M104 974h40M104 978h40M108 982h36M108 986h36M112 990h32M112 994h16M132 994h12M112 998h12M132 998h8M112 1002h12M132 1002h8M112 1006h12M136 1006h8M112 1010h12M140 1010h4M112 1014h12M112 1018h8M112 1022h4M144 1022h4M112 1026h4M144 1026h4M112 1030h4M144 1030h4M112 1034h4M144 1034h4M112 1038h4M144 1038h4M112 1042h4M136 1042h8M112 1046h4M132 1046h12M112 1050h4M128 1050h12M112 1054h4M132 1054h8M112 1058h4M132 1058h8M112 1062h8M132 1062h8M116 1066h12M132 1066h8M120 1070h8M136 1070h4M120 1074h8M136 1074h8M124 1078h4M132 1078h16M124 1082h12M144 1082h4M128 1086h8M144 1086h8M132 1090h4M144 1090h8M132 1094h8M144 1094h8M132 1098h8M144 1098h8M136 1102h16M136 1106h16M140 1110h12M140 1114h8M140 1118h4"/>
<path stroke="#19103f" d="M144 970h4M100 974h4M80 990h4M144 990h4M144 994h4M164 1006h4M108 1010h4M144 1010h4M164 1010h4M108 1014h4M144 1014h4M164 1014h4M108 1018h4M80 1026h4M108 1026h4M108 1030h4M176 1038h4M176 1042h4M176 1046h4M140 1054h4M108 1062h4M116 1074h4M124 1086h4M152 1086h4M152 1090h4M152 1094h4M128 1098h4M152 1098h4M128 1102h4M132 1106h4M132 1110h4M132 1114h4M152 1114h4M132 1118h4M148 1118h4"/>
<path stroke="#3b0f70" d="M148 970h4M80 982h4M100 982h4M76 986h4M72 990h4M148 990h4M76 994h4M104 994h4M148 994h4M76 998h8M104 998h4M148 998h4M148 1002h4M156 1002h4M148 1006h4M156 1006h4M68 1010h4M148 1010h4M156 1010h4M68 1014h4M156 1014h4M48 1022h20M72 1022h4M68 1026h4M88 1026h4M152 1026h4M84 1030h4M104 1034h4M152 1034h4M80 1038h4M104 1038h4M172 1038h4M180 1038h4M104 1042h4M172 1042h4M104 1046h4M104 1050h4M144 1050h4M104 1054h4M104 1058h4M144 1066h4M144 1070h4M68 1074h4M68 1078h4M68 1082h4M152 1082h4M120 1086h4M120 1090h4M120 1094h4M120 1098h4M120 1102h4M156 1110h4"/>
<path stroke="#752181" d="M160 970h4M168 970h4M160 974h4M168 974h4M160 978h4M168 978h4M172 982h8M156 986h4M96 990h4M156 990h4M100 994h4M64 998h4M84 998h4M64 1002h4M80 1006h4M60 1010h4M76 1018h4M164 1022h4M184 1026h4M68 1034h4M96 1034h4M72 1038h4M156 1038h4M100 1042h4M152 1042h4M168 1042h4M184 1042h4M100 1046h4M148 1050h4M172 1054h4M148 1066h4M104 1070h4M72 1074h4M72 1078h4M108 1078h4M72 1082h4M156 1082h4M60 1086h4M72 1086h4M112 1086h4M64 1090h4M108 1094h4M160 1098h4M108 1102h4M160 1102h4M108 1106h4M160 1106h4M108 1110h4M108 1114h4M108 1118h4"/>
<path stroke="#812581" d="M164 970h4M180 970h4M164 974h4M180 974h4M164 978h4M180 978h4M64 982h4M92 982h4M160 982h4M168 982h4M64 986h4M176 986h4M64 990h4M64 994h4M164 994h4M100 998h4M60 1006h4M76 1010h4M48 1014h12M88 1022h4M96 1022h4M168 1022h12M188 1026h12M168 1030h4M188 1030h12M60 1034h8M160 1034h4M188 1034h12M88 1038h4M160 1038h4M188 1038h12M76 1042h4M84 1042h4M168 1046h4M184 1046h4M100 1050h4M100 1054h4M148 1054h4M148 1058h4M148 1062h4M64 1070h4M104 1074h4M152 1074h4M60 1078h4M60 1082h4M160 1094h4M104 1098h4M104 1102h4M104 1106h4M104 1110h4M104 1114h4M104 1118h4"/>
<path stroke="#a5317e" d="M184 970h4M184 974h4M184 978h4M184 982h4M164 986h4M184 986h4M168 990h4M180 994h4M60 998h4M48 1006h12M100 1006h4M80 1010h4M172 1014h4M164 1026h4M64 1038h4M92 1038h4M88 1042h4M164 1042h4M76 1046h4M96 1046h4M156 1046h4M152 1050h4M168 1054h4M172 1058h4M100 1066h4M152 1066h4M60 1070h4M100 1070h4M156 1074h4M104 1082h4M160 1082h4M76 1086h4M48 1090h12M104 1090h4M60 1094h4M164 1094h4M68 1098h8M168 1098h4M64 1102h4M72 1102h8M100 1102h4M172 1102h4M60 1106h4M76 1106h8M100 1106h4M172 1106h4M48 1110h16M76 1110h8M176 1110h4M48 1114h16M76 1114h8M176 1114h4M48 1118h16M76 1118h8M176 1118h4"/>
<path stroke="#221150" d="M100 978h4M104 986h4M144 998h4M144 1002h4M160 1002h8M144 1006h4M160 1006h4M160 1010h4M160 1014h4M108 1022h4M148 1022h4M48 1026h12M76 1026h4M80 1030h4M148 1038h4M144 1046h4M176 1050h4M112 1070h4M144 1074h4M148 1078h4M120 1082h4M124 1090h4M124 1094h4M128 1106h4M128 1110h4M128 1114h4M128 1118h4"/>
<path stroke="#982d80" d="M168 986h4M180 986h4M92 990h4M160 990h4M172 990h4M180 990h4M96 994h4M176 994h4M60 1002h4M84 1002h4M100 1002h4M172 1006h4M172 1010h4M76 1014h4M100 1018h4M92 1022h4M184 1022h16M164 1030h4M164 1034h4M68 1038h4M72 1042h4M96 1042h4M160 1042h4M188 1042h12M80 1046h4M100 1062h4M68 1066h4M152 1070h4M104 1078h4M48 1082h12M48 1086h12M108 1086h4M160 1086h4M64 1094h4M72 1094h4M164 1098h4M68 1102h4M168 1102h4M64 1106h12M168 1106h4M64 1110h12M100 1110h4M168 1110h8M64 1114h12M100 1114h4M168 1114h8M64 1118h12M100 1118h4M168 1118h8"/>
<path stroke="#b0357b" d="M60 990h4M164 990h4M184 990h4M60 994h4M176 998h4M100 1010h4M84 1018h4M176 1018h8M60 1038h4M68 1042h4M84 1046h4M160 1046h4M188 1046h12M96 1050h4M152 1054h4M152 1058h4M152 1062h4M64 1066h4M72 1066h4M156 1070h4M76 1074h4M100 1074h4M48 1078h12M76 1078h4M160 1078h4M76 1082h4M104 1086h4M76 1090h4M164 1090h4M48 1094h12M76 1094h4M168 1094h4M60 1098h8M76 1098h8M100 1098h4M172 1098h4M48 1102h16M80 1102h4M176 1102h4M48 1106h12M176 1106h4M84 1110h4M96 1110h4M84 1114h4M96 1114h4M84 1118h4M96 1118h4"/>
<path stroke="#d3436e" d="M48 994h12M188 1002h12M184 1006h16M176 1010h12M80 1014h4M88 1018h4M48 1042h12M64 1046h8M92 1046h4M76 1054h4M160 1054h8M160 1058h4M68 1062h4M96 1062h4M76 1066h4M160 1066h4M168 1066h4M168 1070h4M164 1074h4M176 1078h4M172 1082h4M172 1086h4M176 1090h4M84 1094h4M180 1094h8M84 1098h4M188 1098h12M96 1102h4M188 1102h12M88 1106h4M188 1106h12M92 1110h4M188 1110h12M92 1114h4M188 1114h12M92 1118h4M188 1118h12"/>
<path stroke="#03030f" d="M128 994h4M124 998h8M124 1002h8M124 1006h12M124 1010h4M132 1010h8M124 1014h4M136 1014h8M120 1018h8M140 1018h4M116 1022h8M140 1022h4M116 1026h8M140 1030h4M140 1034h4M136 1038h8M128 1042h8M124 1046h8M120 1050h8M116 1054h16M116 1058h16M120 1062h12M128 1066h4M128 1070h8M128 1074h8M128 1078h4M136 1082h8M136 1086h8M136 1090h8M140 1094h4M140 1098h4"/>
<path stroke="#c73d73" d="M188 994h12M48 998h12M184 998h16M180 1002h8M176 1006h8M96 1018h4M60 1042h4M76 1050h4M84 1050h4M160 1050h8M80 1054h4M96 1058h4M156 1058h4M168 1058h4M156 1062h4M172 1062h4M60 1066h4M172 1066h4M48 1070h12M160 1070h4M172 1070h4M168 1074h12M164 1078h12M100 1082h4M164 1082h8M100 1086h4M168 1086h4M80 1090h4M172 1090h4M176 1094h4M180 1098h8M84 1102h4M184 1102h4M184 1106h4M88 1110h4M184 1110h4M88 1114h4M184 1114h4M88 1118h4M184 1118h4"/>
<path stroke="#de4968" d="M88 1002h4M96 1002h4M84 1010h4M188 1010h12M176 1014h24M48 1046h16M72 1050h4M88 1050h4M68 1054h8M84 1054h4M68 1058h16M64 1062h4M72 1062h8M160 1062h4M168 1062h4M48 1066h12M96 1066h4M164 1066h4M180 1066h4M96 1070h4M164 1070h4M180 1070h4M180 1074h4M80 1078h4M96 1078h4M80 1082h4M96 1082h4M176 1082h4M80 1086h8M96 1086h4M84 1090h4M96 1090h4M180 1090h8M96 1094h4M188 1094h12M96 1098h4M88 1102h4M92 1106h4"/>
<path stroke="#fb8560" d="M92 1002h4M88 1014h4M92 1066h4M92 1070h4M92 1074h4M188 1074h12"/>
<path stroke="#ef5d5e" d="M88 1006h4M96 1010h4M84 1014h4M48 1050h12M48 1054h12M92 1054h4M48 1058h12M88 1058h4M84 1062h4M84 1066h4M84 1070h4M84 1074h4M84 1078h4M184 1078h4M88 1082h4M184 1082h4M92 1086h4M188 1086h12M88 1094h4M88 1098h4M92 1102h4"/>
<path stroke="#fe9f6d" d="M92 1006h4"/>
<path stroke="#f8765c" d="M88 1010h4M188 1058h12M92 1062h4M184 1062h4M88 1066h4M88 1070h4M88 1074h4M92 1078h4M188 1078h12M92 1094h4M92 1098h4"/>
<path stroke="#feae77" d="M92 1010h4M92 1014h4"/>
<path stroke="#000004" d="M128 1010h4M128 1014h8M128 1018h12M124 1022h16M124 1026h20M116 1030h24M116 1034h24M116 1038h20M116 1042h12M116 1046h8M116 1050h4"/>
<path stroke="#f4695c" d="M96 1014h4M92 1058h4M88 1062h4M184 1066h4M184 1070h4M184 1074h4M88 1078h4M92 1082h4M188 1082h12M92 1090h4"/>
<path stroke="#fd9266" d="M188 1062h12M188 1066h12M188 1070h12"/>
</g>
<path d="M198 1061 194 1061 190 1061 189 1062 189 1066 190 1070 190 1072 194 1074 198 1074M94 1005 94 1006 92 1010 91 1014 94 1015 95 1014 95 1010 94 1006 94 1005" fill="none" stroke="#641a80" stroke-width="0.6" opacity="0.75"/>
<path d="M198 1058 194 1058 192 1058 190 1058 186 1062 186 1066 187 1070 187 1074 189 1078 190 1079 194 1080 198 1080M94 1002 92 1006 90 1010 90 1015 97 1014 96 1006 94 1002M94 1062 90 1065 89 1070 90 1075 95 1074 94 1066 94 1062" fill="none" stroke="#782281" stroke-width="0.6" opacity="0.75"/>
<path d="M198 1055 190 1056 186 1060 184 1066 184 1074 186 1082 190 1085 198 1085M94 1000 90 1006 88 1010 90 1016 98 1015 98 1010 97 1006 94 1000M90 1056 86 1061 85 1066 85 1074 86 1078 90 1083 95 1082 97 1074 96 1066 95 1058 90 1056M94 1086 92 1090 90 1094 91 1098 94 1101 96 1098 96 1094 95 1090 94 1086" fill="none" stroke="#8c2981" stroke-width="0.6" opacity="0.75"/>
<path d="M50 995 54 995 57 994 58 994 59 990 59 986 59 982 59 978 59 974 59 970M198 1005 190 1005 186 1008 182 1010 182 1014 190 1014 198 1014M198 1052 190 1053 186 1056 182 1061 180 1066 180 1074 178 1079 174 1083 174 1086 178 1090 186 1094 190 1097 198 1097M50 1068 58 1067 62 1064 68 1062 72 1062 78 1065 80 1070 81 1078 82 1086 84 1090 86 1096 88 1102 91 1106 95 1106 98 1100 99 1094 100 1086 100 1078 99 1070 98 1063 97 1058 95 1050 90 1049 86 1052 82 1056 78 1054 74 1050 66 1046 62 1045 54 1043M94 997 90 1001 88 1006 86 1010 86 1016 91 1018 96 1018 100 1014 99 1006 98 1001 94 997M162 1057 161 1062 163 1066 166 1071 170 1067 171 1062 168 1058 162 1057" fill="none" stroke="#ab337c" stroke-width="0.6" opacity="0.75"/>
<path d="M189 970 189 978 189 986 186 993 182 998 178 1001 177 1006 176 1014 182 1018 186 1018 194 1019M50 1003 58 1002 60 998 62 990 62 986 62 978 62 970M198 1048 190 1049 186 1054 182 1058 178 1061 172 1058 169 1054 166 1047 158 1050 157 1054 156 1062 158 1068 161 1074 163 1078 166 1086 169 1090 172 1094 176 1098 179 1102 182 1110 182 1118M50 1075 57 1074 60 1070 65 1066 70 1064 74 1066 78 1072 79 1078 79 1086 80 1094 82 1098 84 1106 86 1110 86 1118M50 1100 54 1100 58 1099 59 1098 58 1097 54 1097 50 1097M98 1118 98 1111 99 1106 101 1098 102 1094 105 1086 103 1078 102 1074 100 1066 99 1058 98 1051 96 1046 94 1042 90 1045 86 1047 78 1048 74 1045 68 1042 62 1039 58 1038 50 1038M94 994 90 998 88 1002 86 1006 82 1012 82 1015 87 1018 94 1020 99 1018 102 1014 102 1010 100 1002 98 997 94 994" fill="none" stroke="#ca3e72" stroke-width="0.6" opacity="0.75"/>
<path d="M185 970 184 978 182 986 180 990 176 994 175 1002 174 1009 174 1014 175 1018 182 1021 187 1022 194 1023M50 1009 58 1008 62 1002 63 998 64 990 65 982 65 974M198 1042 190 1043 186 1050 183 1054 178 1058 178 1058 172 1054 169 1050 167 1042 162 1041 158 1044 154 1048 152 1054 152 1062 154 1069 157 1074 159 1078 162 1085 164 1090 166 1096 169 1102 170 1106 171 1114M67 1118 67 1114 68 1110 70 1108 72 1110 72 1114 72 1118M102 1118 102 1110 104 1102 105 1094 108 1090 108 1082 106 1078 103 1070 102 1063 101 1058 100 1050 98 1042 95 1038 93 1038 88 1042 82 1046 74 1042 70 1039 66 1037 58 1035 50 1035M166 985 165 986 164 990 166 991 170 991 172 990 170 988 168 986 166 985M94 991 90 995 86 1002 84 1006 80 1010 82 1017 86 1019 94 1022 102 1018 104 1014 103 1006 102 1002 98 994 94 991M166 1026 166 1026 166 1028 166 1026 166 1026M66 1068 74 1069 76 1074 77 1082 76 1090 73 1094 66 1094 62 1092 58 1087 58 1084 60 1078 62 1073 66 1068" fill="none" stroke="#e75263" stroke-width="0.6" opacity="0.75"/>
<path d="M164 970 163 978 161 982 159 990 165 994 170 996 172 1002 172 1010 171 1018 167 1022 162 1024 160 1030 159 1038 155 1042 152 1046 150 1051 150 1058 150 1064 152 1070 154 1074 158 1081 160 1086 161 1094 162 1099 163 1106 164 1114M180 970 180 974 180 978 178 982 178 982 176 982 174 981 170 978 169 978 168 974 168 970M50 1015 58 1014 62 1010 64 1006 66 998 66 994 67 986 68 978 68 970M108 1118 108 1110 108 1102 110 1095 112 1090 112 1082 110 1078 106 1071 104 1066 103 1058 102 1050 102 1046 100 1038 97 1034 92 1034 89 1038 84 1042 80 1042 74 1038 70 1035 66 1033 58 1032 50 1032M94 982 92 986 90 991 86 998 84 1002 81 1006 77 1010 78 1017 82 1020 89 1022 94 1024 100 1022 104 1018 105 1010 103 1002 102 996 98 990 96 986 94 982M174 1024 182 1024 187 1026 189 1034 187 1042 186 1046 182 1053 178 1056 174 1054 170 1046 169 1042 169 1034 170 1030 174 1024M70 1069 74 1074 74 1078 74 1086 72 1090 67 1090 63 1086 63 1078 66 1072 70 1069" fill="none" stroke="#f7705c" stroke-width="0.6" opacity="0.75"/>
<path d="M84 970 85 978 87 982 88 990 86 994 82 1002 78 1004 74 1007 73 1014 75 1018 82 1022 86 1023 94 1026 102 1024 106 1018 107 1014 106 1009 105 1002 104 994 102 990 99 982 95 978 92 974 95 970M154 970 155 978 155 986 156 994 162 996 167 998 170 1002 170 1010 170 1014 166 1019 158 1020 156 1026 157 1034 154 1039 150 1045 148 1050 147 1058 148 1066 150 1072 154 1078 156 1082 158 1087 159 1094 160 1102 160 1110 160 1118M50 1019 58 1018 62 1016 66 1010 68 1006 69 998 70 990 70 983 72 978 73 970M118 1118 117 1110 116 1102 116 1094 117 1086 114 1079 111 1074 109 1070 106 1065 105 1058 104 1050 104 1042 102 1034 100 1030 94 1027 90 1031 86 1036 82 1040 78 1038 74 1033 66 1030 59 1030 54 1030M178 1027 182 1030 185 1038 183 1046 182 1050 174 1051 173 1046 171 1038 174 1031 178 1027M70 1072 72 1074 72 1078 72 1082 71 1086 70 1087 68 1086 66 1082 67 1078 67 1074 70 1072" fill="none" stroke="#fd9467" stroke-width="0.6" opacity="0.75"/>
<path d="M150 970 151 974 151 982 151 990 150 998 150 1002 150 1006 151 1014 152 1022 154 1027 154 1033 152 1038 149 1042 146 1049 145 1054 145 1062 146 1068 149 1074 152 1078 154 1082 156 1090 157 1098 157 1106 157 1114M50 1023 58 1023 63 1022 69 1018 70 1018 74 1023 82 1024 88 1026 86 1030 82 1036 78 1032 74 1028 66 1027 58 1027 50 1027M124 1118 124 1110 123 1102 122 1094 122 1090 119 1082 117 1078 114 1073 110 1067 107 1062 106 1054 106 1046 106 1042 106 1037 107 1030 108 1022 108 1014 107 1006 106 998 106 994 104 986 102 982 98 976 98 972M78 985 82 984 83 986 85 990 83 994 82 996 78 996 76 994 75 990 77 986 78 985M162 1000 167 1002 168 1010 166 1016 158 1014 158 1010 158 1005 162 1000M178 1033 181 1038 180 1046 178 1051 175 1046 175 1038 178 1033" fill="none" stroke="#feb77e" stroke-width="0.6" opacity="0.75"/>
<path d="M146 970 148 978 148 986 146 994 145 998 145 1006 146 1010 148 1018 150 1024 152 1030 150 1035 147 1042 144 1046 143 1054 143 1062 144 1070 146 1075 150 1080 153 1086 154 1090 154 1098 155 1106 154 1114 151 1118M132 1118 132 1110 130 1103 129 1098 127 1090 125 1086 122 1081 118 1074 116 1070 113 1066 110 1062 109 1054 109 1046 109 1038 110 1030 110 1026 110 1018 110 1014 109 1006 109 998 108 990 106 985 103 978 102 974 104 970" fill="none" stroke="#fdda9c" stroke-width="0.6" opacity="0.75"/>
<path d="M132 970 134 977 137 982 135 990 135 998 138 1006 141 1010 143 1014 144 1022 146 1030 143 1038 140 1042 136 1046 134 1050 134 1054 135 1062 137 1070 138 1074 142 1079 146 1086 147 1090 147 1098 146 1102 141 1102 138 1097 135 1090 134 1086 130 1081 126 1074 125 1070 122 1066 118 1062 114 1054 114 1050 114 1042 114 1037 115 1030 116 1022 118 1014 118 1009 119 1002 120 994 121 986 117 982 116 974" fill="none" stroke="#fde7a9" stroke-width="0.6" opacity="0.75"/>
</g>
<path d="M92.8 972.4 L93.9 974.1 L102.2 977.2 L106.4 983.5 L107.5 992.9 L107.5 1003.3 L108.5 1013.8 L110.6 1022.1 L112.7 1028.4 L108.5 1034.6 L107.5 1045.1 L108.5 1055.5 L109.6 1061.8 L114.8 1068.0 L119.0 1074.3 L125.3 1082.6 L131.6 1091.0 L135.7 1097.3 L138.9 1105.6 L142.0 1114.6" fill="none" stroke="#fff" stroke-width="2.3" stroke-linecap="round" stroke-linejoin="round" stroke-dasharray="0 3.7"/>
<path d="M149.3 972.4 L148.3 980.4 L145.2 988.7 L141.0 996.0 L139.9 1003.3 L141.0 1013.8 L145.2 1020.0 L150.4 1023.1 L155.6 1027.3 L153.5 1032.5 L148.3 1038.8 L145.2 1045.1 L142.0 1051.3 L139.9 1057.6 L139.9 1065.9 L142.0 1072.2 L147.3 1076.4 L152.5 1078.5 L154.6 1084.7 L154.6 1097.3 L155.6 1105.6 L155.6 1114.6" fill="none" stroke="#fff" stroke-width="2.3" stroke-linecap="round" stroke-linejoin="round" stroke-dasharray="0 3.7"/>
<path d="M92.8 972.4 L149.3 972.4" fill="none" stroke="#fff" stroke-width="2.3" stroke-linecap="round" stroke-linejoin="round" stroke-dasharray="0 3.7"/>
<text x="54.3" y="988.5" font-size="16" text-anchor="start" fill="#fff">(VIII)</text>
<text x="190.8" y="988" font-size="13" text-anchor="end" fill="#fff">t = 45 min</text>
<clipPath id="hVII"><rect x="199.8" y="972" width="143.4" height="143"/></clipPath>
<g clip-path="url(#hVII)">
<g filter="url(#hblur)" stroke-width="4">
<path stroke="#e75263" d="M195.8 970h12M323.8 970h24M195.8 974h12M323.8 974h24M195.8 978h12M323.8 978h24M195.8 982h12M323.8 982h8M195.8 986h12M319.8 986h8M319.8 990h4M327.8 994h4M331.8 998h4M239.8 1002h4M239.8 1006h4M335.8 1006h12M239.8 1010h4M335.8 1010h12M335.8 1014h12M335.8 1018h12M331.8 1022h16M311.8 1026h12M327.8 1026h20M195.8 1038h12M323.8 1038h4M315.8 1042h4M331.8 1042h4M195.8 1062h12M227.8 1094h8M227.8 1098h4M231.8 1102h4M235.8 1106h8M239.8 1110h4M239.8 1114h4M239.8 1118h4"/>
<path stroke="#b0357b" d="M207.8 970h4M207.8 974h4M207.8 978h4M239.8 990h4M207.8 994h4M307.8 994h4M231.8 1002h4M243.8 1002h4M319.8 1002h8M243.8 1006h4M243.8 1010h4M235.8 1014h4M243.8 1014h4M307.8 1026h4M207.8 1034h4M207.8 1038h4M323.8 1042h4M331.8 1054h4M207.8 1066h4M207.8 1070h4M327.8 1070h4M195.8 1074h12M215.8 1082h12M235.8 1082h8M243.8 1086h4M211.8 1090h4M247.8 1094h4M323.8 1094h4M195.8 1098h12M247.8 1098h4M323.8 1098h4M195.8 1102h16M219.8 1106h4M243.8 1106h4M223.8 1110h4M223.8 1114h4M223.8 1118h4"/>
<path stroke="#812581" d="M211.8 970h4M211.8 974h4M211.8 978h4M211.8 982h4M303.8 982h4M211.8 986h4M211.8 990h4M299.8 990h4M211.8 994h4M227.8 998h4M223.8 1002h4M247.8 1002h4M303.8 1002h4M247.8 1006h4M307.8 1006h4M207.8 1010h4M231.8 1010h4M247.8 1010h4M315.8 1010h4M195.8 1014h12M207.8 1018h4M311.8 1018h4M235.8 1026h8M211.8 1030h4M211.8 1034h4M211.8 1038h4M211.8 1042h4M303.8 1054h4M299.8 1058h4M211.8 1062h4M319.8 1070h4M215.8 1074h4M235.8 1074h4M243.8 1074h4M247.8 1082h4M251.8 1086h4M251.8 1090h4M315.8 1106h4M315.8 1110h4M315.8 1114h4M315.8 1118h4"/>
<path stroke="#52137c" d="M215.8 970h4M215.8 974h4M215.8 978h4M215.8 982h4M231.8 982h8M219.8 986h12M247.8 986h4M219.8 990h8M251.8 990h4M219.8 994h4M215.8 998h4M215.8 1002h4M215.8 1006h4M215.8 1010h16M295.8 1010h4M215.8 1014h4M295.8 1014h4M307.8 1014h4M215.8 1018h8M215.8 1022h12M219.8 1026h12M215.8 1030h16M215.8 1034h16M215.8 1038h16M215.8 1042h4M215.8 1046h4M239.8 1046h4M299.8 1046h4M215.8 1050h4M215.8 1054h4M215.8 1058h4M235.8 1058h4M243.8 1058h4M215.8 1062h4M219.8 1066h4M231.8 1066h4M319.8 1066h4M223.8 1070h4M251.8 1074h4M311.8 1074h4M255.8 1078h4M259.8 1082h4M315.8 1082h4M315.8 1086h4M259.8 1094h4M259.8 1098h4M311.8 1098h4M255.8 1102h4M311.8 1102h4"/>
<path stroke="#471078" d="M219.8 970h8M299.8 970h4M219.8 974h8M219.8 978h8M219.8 982h12M243.8 982h4M299.8 982h4M215.8 986h4M215.8 990h4M295.8 990h4M215.8 994h4M251.8 994h4M295.8 994h4M295.8 998h4M295.8 1006h4M219.8 1014h4M311.8 1014h4M223.8 1018h4M227.8 1022h4M243.8 1026h4M219.8 1042h4M231.8 1042h4M299.8 1042h4M235.8 1046h4M239.8 1050h4M235.8 1054h4M243.8 1054h4M295.8 1054h4M319.8 1054h4M311.8 1058h8M323.8 1062h4M247.8 1066h4M295.8 1066h4M303.8 1066h4M227.8 1070h4M311.8 1070h4M195.8 1086h12M263.8 1086h4M263.8 1090h4M311.8 1094h4M271.8 1098h8M259.8 1102h4M271.8 1102h8M271.8 1106h8M267.8 1110h12M267.8 1114h12M267.8 1118h12"/>
<path stroke="#3b0f70" d="M227.8 970h12M227.8 974h12M227.8 978h12M251.8 986h4M251.8 998h4M251.8 1002h4M295.8 1002h4M251.8 1006h4M251.8 1010h4M223.8 1014h8M251.8 1014h4M227.8 1018h4M295.8 1018h4M299.8 1022h4M299.8 1038h4M223.8 1042h8M219.8 1046h4M219.8 1050h4M235.8 1050h4M295.8 1050h4M219.8 1054h4M323.8 1054h4M219.8 1058h4M319.8 1058h8M219.8 1062h4M231.8 1062h4M247.8 1062h4M307.8 1062h4M223.8 1066h4M307.8 1066h4M315.8 1066h4M251.8 1070h4M303.8 1070h8M255.8 1074h4M307.8 1074h4M259.8 1078h4M311.8 1078h4M263.8 1082h4M263.8 1094h12M263.8 1098h8M263.8 1102h8M251.8 1106h20M307.8 1106h4M263.8 1110h4M307.8 1110h4M263.8 1114h4M307.8 1114h4M263.8 1118h4M307.8 1118h4"/>
<path stroke="#2d1161" d="M239.8 970h4M295.8 970h4M239.8 974h4M239.8 978h4M247.8 982h4M295.8 986h4M255.8 990h4M247.8 1022h4M243.8 1042h4M223.8 1046h4M231.8 1046h4M243.8 1046h4M295.8 1046h4M243.8 1050h4M323.8 1050h4M231.8 1054h4M231.8 1058h4M291.8 1062h4M319.8 1062h4M227.8 1066h4M311.8 1066h4M299.8 1070h4M267.8 1086h4M267.8 1090h4M311.8 1090h4M279.8 1098h4M307.8 1098h4M279.8 1102h4M307.8 1102h4M279.8 1106h4M259.8 1110h4M279.8 1110h4M259.8 1114h4M279.8 1114h4M259.8 1118h4M279.8 1118h4"/>
<path stroke="#221150" d="M243.8 970h4M243.8 974h4M299.8 974h4M243.8 978h4M299.8 978h4M255.8 986h4M255.8 994h4M291.8 1014h4M251.8 1018h4M243.8 1030h4M299.8 1034h4M243.8 1038h4M295.8 1042h4M227.8 1046h4M223.8 1050h4M231.8 1050h4M223.8 1054h4M223.8 1058h4M247.8 1058h4M291.8 1058h4M223.8 1062h4M315.8 1062h4M251.8 1066h4M291.8 1066h4M255.8 1070h4M295.8 1070h4M259.8 1074h4M303.8 1074h4M307.8 1078h4M271.8 1090h4M275.8 1094h4M255.8 1110h4M283.8 1110h4M255.8 1114h4M283.8 1114h4M255.8 1118h4M283.8 1118h4"/>
<path stroke="#19103f" d="M247.8 970h4M291.8 970h4M247.8 978h4M251.8 982h4M295.8 982h4M259.8 990h4M291.8 994h4M255.8 998h4M291.8 998h4M291.8 1002h4M291.8 1006h4M291.8 1010h4M295.8 1022h4M299.8 1026h4M299.8 1030h4M243.8 1034h4M295.8 1038h4M291.8 1050h4M247.8 1054h4M291.8 1054h4M227.8 1062h4M311.8 1062h4M255.8 1066h4M263.8 1078h4M267.8 1082h4M311.8 1082h4M311.8 1086h4M307.8 1094h4M283.8 1102h4M283.8 1106h4M251.8 1110h4M303.8 1110h4M251.8 1114h4M303.8 1114h4M251.8 1118h4M303.8 1118h4"/>
<path stroke="#100b2d" d="M251.8 970h8M271.8 970h12M247.8 974h4M291.8 974h8M255.8 982h4M259.8 986h4M291.8 986h4M291.8 990h4M259.8 994h4M255.8 1002h4M255.8 1006h4M255.8 1010h4M255.8 1014h4M291.8 1018h4M251.8 1022h4M247.8 1026h4M295.8 1034h4M247.8 1046h4M291.8 1046h4M227.8 1050h4M247.8 1050h4M227.8 1054h4M227.8 1058h4M251.8 1062h4M259.8 1070h4M291.8 1070h4M299.8 1074h4M303.8 1078h4M307.8 1082h4M271.8 1086h4M275.8 1090h4M307.8 1090h4M279.8 1094h4M283.8 1098h4M303.8 1098h4M303.8 1102h4M287.8 1106h4M303.8 1106h4M287.8 1110h4M287.8 1114h4M287.8 1118h4"/>
<path stroke="#08071e" d="M259.8 970h12M283.8 970h8M251.8 974h40M251.8 978h48M259.8 982h36M263.8 986h28M263.8 990h28M263.8 994h28M259.8 998h32M259.8 1002h32M259.8 1006h32M259.8 1010h32M259.8 1014h32M255.8 1018h36M255.8 1022h8M291.8 1022h4M251.8 1026h8M291.8 1026h8M247.8 1030h12M291.8 1030h8M247.8 1034h12M291.8 1034h4M247.8 1038h12M291.8 1038h4M247.8 1042h12M291.8 1042h4M251.8 1046h8M251.8 1050h8M251.8 1054h8M287.8 1054h4M251.8 1058h12M287.8 1058h4M255.8 1062h8M283.8 1062h8M259.8 1066h8M287.8 1066h4M263.8 1070h8M287.8 1070h4M263.8 1074h8M287.8 1074h12M267.8 1078h8M283.8 1078h20M271.8 1082h36M275.8 1086h20M303.8 1086h8M279.8 1090h16M303.8 1090h4M283.8 1094h12M303.8 1094h4M287.8 1098h8M287.8 1102h8M291.8 1106h4M291.8 1110h8M291.8 1114h8M291.8 1118h8"/>
<path stroke="#752181" d="M303.8 970h4M235.8 986h4M231.8 990h4M247.8 994h4M299.8 994h4M211.8 998h4M223.8 998h4M247.8 998h4M211.8 1002h4M227.8 1006h4M303.8 1006h4M299.8 1010h4M207.8 1014h4M231.8 1014h4M247.8 1014h4M299.8 1014h4M315.8 1014h4M307.8 1018h4M211.8 1022h4M243.8 1022h4M211.8 1026h4M235.8 1030h4M235.8 1034h4M303.8 1034h4M327.8 1050h4M299.8 1054h4M327.8 1054h4M239.8 1058h4M215.8 1070h4M235.8 1070h4M243.8 1070h4M219.8 1074h4M231.8 1074h4M315.8 1074h4M247.8 1078h4M207.8 1082h4M251.8 1082h4M255.8 1090h4M255.8 1094h4M315.8 1098h4M315.8 1102h4M247.8 1106h4"/>
<path stroke="#982d80" d="M307.8 970h4M307.8 974h4M307.8 978h4M303.8 986h4M235.8 990h4M243.8 994h4M303.8 994h4M231.8 998h4M207.8 1002h4M307.8 1002h4M231.8 1006h4M315.8 1006h4M319.8 1014h4M195.8 1018h12M235.8 1018h4M243.8 1018h4M315.8 1018h4M207.8 1026h4M327.8 1046h4M315.8 1050h4M331.8 1062h4M323.8 1070h4M211.8 1074h4M239.8 1074h4M319.8 1074h4M211.8 1078h12M231.8 1078h8M319.8 1078h4M243.8 1082h4M211.8 1086h4M247.8 1086h4M319.8 1094h4M319.8 1098h4M247.8 1102h4M319.8 1102h4M319.8 1106h4M211.8 1110h8M211.8 1114h8M211.8 1118h8"/>
<path stroke="#bc3978" d="M311.8 970h4M311.8 974h4M311.8 978h4M207.8 982h4M207.8 986h4M307.8 986h4M207.8 990h4M307.8 990h4M235.8 998h4M195.8 1002h12M311.8 1002h8M323.8 1006h4M235.8 1010h4M323.8 1010h4M323.8 1014h4M319.8 1018h4M311.8 1022h4M195.8 1026h12M307.8 1030h4M207.8 1042h4M315.8 1046h4M307.8 1050h4M331.8 1050h4M207.8 1058h4M207.8 1062h4M335.8 1062h12M331.8 1070h4M323.8 1074h4M323.8 1078h4M227.8 1082h8M323.8 1082h4M215.8 1086h4M239.8 1086h4M323.8 1086h4M243.8 1090h4M323.8 1090h4M211.8 1094h4M207.8 1098h4M327.8 1098h4M211.8 1102h8M323.8 1102h4M223.8 1106h4M323.8 1106h4M227.8 1110h4M323.8 1110h4M227.8 1114h4M323.8 1114h4M227.8 1118h4M323.8 1118h4"/>
<path stroke="#c73d73" d="M315.8 970h4M315.8 974h4M315.8 978h4M311.8 982h4M239.8 994h4M195.8 998h12M311.8 998h16M235.8 1002h4M327.8 1002h4M235.8 1006h4M327.8 1006h4M327.8 1010h4M327.8 1014h4M239.8 1018h4M315.8 1022h4M195.8 1030h12M307.8 1034h4M319.8 1042h4M327.8 1042h4M207.8 1046h4M307.8 1046h4M207.8 1050h4M207.8 1054h4M335.8 1058h12M335.8 1066h12M195.8 1070h12M335.8 1070h12M327.8 1074h8M327.8 1078h8M327.8 1082h8M219.8 1086h4M235.8 1086h4M327.8 1086h8M215.8 1090h4M327.8 1090h4M327.8 1094h4M211.8 1098h4M219.8 1102h4M243.8 1102h4M327.8 1102h4M227.8 1106h4M327.8 1106h8M231.8 1110h4M327.8 1110h8M231.8 1114h4M327.8 1114h8M231.8 1118h4M327.8 1118h8"/>
<path stroke="#de4968" d="M319.8 970h4M319.8 974h4M319.8 978h4M319.8 982h4M315.8 986h4M311.8 990h8M195.8 994h12M323.8 994h4M327.8 998h4M331.8 1002h4M331.8 1006h4M331.8 1010h4M239.8 1014h4M331.8 1014h4M331.8 1018h4M323.8 1022h8M195.8 1034h12M335.8 1054h12M195.8 1066h12M227.8 1086h4M223.8 1090h20M219.8 1094h8M335.8 1094h12M219.8 1098h8M243.8 1098h4M335.8 1098h12M235.8 1110h4M235.8 1114h4M235.8 1118h4"/>
<path stroke="#6a1c81" d="M303.8 974h4M303.8 978h4M231.8 986h4M243.8 986h4M299.8 986h4M247.8 990h4M227.8 994h4M299.8 998h4M219.8 1002h4M211.8 1006h4M223.8 1006h4M299.8 1006h4M211.8 1010h4M303.8 1010h12M303.8 1014h4M211.8 1018h4M231.8 1018h4M303.8 1018h4M231.8 1022h4M303.8 1022h4M231.8 1026h4M303.8 1026h4M231.8 1030h4M239.8 1030h4M303.8 1030h4M235.8 1038h4M323.8 1046h4M315.8 1054h4M303.8 1058h4M327.8 1058h4M327.8 1062h4M235.8 1066h4M243.8 1066h4M323.8 1066h4M223.8 1074h4M247.8 1074h4M315.8 1078h4M207.8 1086h4M255.8 1086h4M195.8 1090h12M315.8 1094h4M255.8 1098h4"/>
<path stroke="#5f187f" d="M239.8 982h4M227.8 990h4M223.8 994h4M219.8 998h4M299.8 1002h4M219.8 1006h4M211.8 1014h4M247.8 1018h4M299.8 1018h4M215.8 1026h4M231.8 1034h4M239.8 1034h4M231.8 1038h4M239.8 1038h4M235.8 1042h8M299.8 1050h4M319.8 1050h4M239.8 1054h4M295.8 1058h4M307.8 1058h4M235.8 1062h4M243.8 1062h4M295.8 1062h4M303.8 1062h4M215.8 1066h4M299.8 1066h4M219.8 1070h4M231.8 1070h4M247.8 1070h4M315.8 1070h4M227.8 1074h4M251.8 1078h4M195.8 1082h12M255.8 1082h4M259.8 1086h4M259.8 1090h4M315.8 1090h4M251.8 1102h4M311.8 1106h4M247.8 1110h4M311.8 1110h4M247.8 1114h4M311.8 1114h4M247.8 1118h4M311.8 1118h4"/>
<path stroke="#a5317e" d="M307.8 982h4M303.8 990h4M235.8 994h4M207.8 998h4M243.8 998h4M307.8 998h4M195.8 1006h12M319.8 1006h4M319.8 1010h4M195.8 1022h12M239.8 1022h4M207.8 1030h4M331.8 1058h4M331.8 1066h4M207.8 1074h4M239.8 1078h4M247.8 1090h4M207.8 1094h4M195.8 1106h24M195.8 1110h16M219.8 1110h4M243.8 1110h4M319.8 1110h4M195.8 1114h16M219.8 1114h4M243.8 1114h4M319.8 1114h4M195.8 1118h16M219.8 1118h4M243.8 1118h4M319.8 1118h4"/>
<path stroke="#d3436e" d="M315.8 982h4M311.8 986h4M311.8 994h12M239.8 998h4M323.8 1018h8M319.8 1022h4M307.8 1038h4M307.8 1042h4M331.8 1046h4M311.8 1050h4M335.8 1074h12M335.8 1078h12M335.8 1082h12M223.8 1086h4M231.8 1086h4M335.8 1086h12M219.8 1090h4M331.8 1090h16M215.8 1094h4M243.8 1094h4M331.8 1094h4M215.8 1098h4M331.8 1098h4M223.8 1102h8M331.8 1102h16M231.8 1106h4M335.8 1106h12M335.8 1110h12M335.8 1114h12M335.8 1118h12"/>
<path stroke="#ef5d5e" d="M331.8 982h16M327.8 986h8M195.8 990h12M323.8 990h8M331.8 994h4M335.8 998h12M335.8 1002h12M323.8 1026h4M311.8 1030h36M319.8 1034h16M319.8 1038h4M327.8 1038h4M195.8 1042h12M311.8 1046h4M335.8 1046h12M335.8 1050h12M195.8 1058h12M235.8 1094h8M231.8 1098h4M235.8 1102h4"/>
<path stroke="#8c2981" d="M239.8 986h4M243.8 990h4M231.8 994h4M303.8 998h4M227.8 1002h4M207.8 1006h4M311.8 1006h4M195.8 1010h12M207.8 1022h4M235.8 1022h4M307.8 1022h4M303.8 1038h4M303.8 1042h4M211.8 1046h4M303.8 1046h4M319.8 1046h4M211.8 1050h4M303.8 1050h4M211.8 1054h4M307.8 1054h8M211.8 1058h4M239.8 1062h4M299.8 1062h4M211.8 1066h4M239.8 1066h4M327.8 1066h4M211.8 1070h4M239.8 1070h4M195.8 1078h16M223.8 1078h8M243.8 1078h4M211.8 1082h4M319.8 1082h4M319.8 1086h4M207.8 1090h4M319.8 1090h4M195.8 1094h12M251.8 1094h4M251.8 1098h4"/>
<path stroke="#f4695c" d="M335.8 986h12M331.8 990h4M335.8 994h12M315.8 1034h4M335.8 1034h12M331.8 1038h4M311.8 1042h4M335.8 1042h12M195.8 1046h12M203.8 1050h4M195.8 1054h12M235.8 1098h4M239.8 1102h4"/>
<path stroke="#f8765c" d="M335.8 990h12M311.8 1034h4M315.8 1038h4M335.8 1038h12M195.8 1050h8M239.8 1098h4"/>
<path stroke="#03030f" d="M263.8 1022h28M259.8 1026h4M283.8 1026h8M259.8 1030h4M287.8 1030h4M259.8 1034h4M259.8 1038h4M259.8 1042h4M287.8 1042h4M259.8 1046h4M287.8 1046h4M259.8 1050h4M283.8 1050h8M259.8 1054h4M279.8 1054h8M263.8 1058h4M279.8 1058h8M263.8 1062h8M279.8 1062h4M267.8 1066h8M279.8 1066h8M271.8 1070h4M279.8 1070h8M271.8 1074h4M279.8 1074h8M275.8 1078h8M295.8 1086h8M295.8 1090h8M295.8 1094h8M295.8 1098h8M295.8 1102h8M295.8 1106h8M299.8 1110h4M299.8 1114h4M299.8 1118h4"/>
<path stroke="#000004" d="M263.8 1026h20M263.8 1030h24M263.8 1034h28M263.8 1038h28M263.8 1042h24M263.8 1046h24M263.8 1050h20M263.8 1054h16M267.8 1058h12M271.8 1062h8M275.8 1066h4M275.8 1070h4M275.8 1074h4"/>
<path stroke="#fb8560" d="M311.8 1038h4"/>
</g>
<path d="M314 1035 313 1038 314 1040 317 1038 314 1035" fill="none" stroke="#782281" stroke-width="0.6" opacity="0.75"/>
<path d="M346 982 338 982 330 985 327 990 333 994 336 998 342 1002M346 1030 338 1030 330 1030 326 1030 322 1029 314 1030 313 1034 313 1042 315 1042 322 1038 326 1034 330 1038 336 1042 338 1046 346 1048M198 1060 202 1060 205 1058 206 1058 206 1054 207 1050 206 1046 206 1044 202 1042 202 1042 198 1042M238 1094 237 1094 234 1098 238 1102 238 1102 242 1103 242 1102 244 1098 242 1094 242 1094 238 1094" fill="none" stroke="#8c2981" stroke-width="0.6" opacity="0.75"/>
<path d="M320 970 320 978 318 982 314 988 314 992 318 994 326 996 330 999 332 1006 332 1014 328 1018 322 1022 318 1024 313 1026 311 1034 310 1038 310 1042 314 1048 318 1044 322 1041 330 1041 334 1045 336 1050 338 1055 346 1056M198 996 202 996 206 995 206 994 207 990 207 986 207 982 207 978 207 974 207 970M198 1068 206 1067 208 1062 209 1054 209 1046 207 1038 206 1034 198 1032M346 1088 342 1088 338 1089 337 1090 336 1094 336 1098 337 1102 338 1105 342 1106 342 1106 346 1106M242 1118 242 1110 245 1102 247 1098 246 1094 242 1089 234 1087 230 1086 226 1088 222 1092 219 1098 226 1100 230 1103 234 1107 236 1114M242 1000 240 1002 241 1006 241 1010 242 1014 242 1014 242 1014 242 1010 243 1006 242 1002 242 1000" fill="none" stroke="#ab337c" stroke-width="0.6" opacity="0.75"/>
<path d="M313 970 313 978 310 986 309 990 310 994 314 1001 322 1002 325 1006 325 1014 322 1018 314 1022 311 1026 310 1030 308 1038 309 1046 310 1050 315 1050 319 1046 325 1042 326 1042 332 1046 334 1051 336 1058 336 1066 332 1070 326 1074 325 1078 326 1086 326 1090 327 1098 326 1104 325 1110 325 1118M198 1003 206 1002 208 998 210 991 210 986 210 981 210 974M198 1073 206 1073 210 1066 210 1062 211 1054 211 1046 210 1038 209 1034 206 1026 202 1025M244 1118 244 1110 246 1105 249 1098 247 1090 244 1086 238 1082 234 1082 227 1082 222 1083 217 1086 214 1092 210 1097 210 1100 214 1103 222 1105 226 1108 228 1114M242 993 238 997 235 1002 238 1010 239 1014 242 1019 245 1014 245 1006 244 998 242 993" fill="none" stroke="#ca3e72" stroke-width="0.6" opacity="0.75"/>
<path d="M309 970 309 978 306 986 305 990 306 994 309 1002 314 1005 318 1007 321 1014 317 1018 311 1022 309 1026 307 1034 306 1042 307 1050 314 1053 318 1050 322 1046 329 1046 332 1050 333 1058 331 1066 326 1070 322 1074 322 1075 322 1082 323 1090 322 1098 322 1102 321 1110 321 1118M198 1009 206 1009 210 1002 211 998 212 990 212 982 212 974M198 1077 206 1077 213 1074 213 1066 213 1058 213 1050 213 1042 212 1034 210 1026 208 1022 202 1018M216 1118 216 1114 218 1110 218 1110 218 1110 219 1114 219 1118M246 1118 246 1110 250 1102 252 1098 251 1090 249 1086 246 1081 242 1076 235 1078 230 1079 222 1078 215 1082 214 1086 210 1092 206 1094 198 1095M242 988 238 991 234 997 231 1002 234 1007 236 1014 238 1019 242 1023 245 1018 247 1014 248 1006 247 998 246 993 242 988" fill="none" stroke="#e75263" stroke-width="0.6" opacity="0.75"/>
<path d="M306 970 307 978 305 982 302 990 302 991 304 998 306 1005 310 1008 316 1010 318 1014 314 1017 310 1019 307 1026 306 1034 305 1038 304 1046 304 1054 310 1056 316 1054 320 1050 325 1046 326 1046 330 1051 331 1058 330 1063 326 1067 321 1070 319 1078 320 1086 319 1094 318 1102 317 1106 317 1114M198 1080 202 1080 206 1080 209 1082 210 1083 210 1086 210 1087 207 1090 206 1091 202 1091 198 1091M248 1118 248 1110 250 1105 254 1100 257 1094 255 1086 253 1082 250 1078 246 1072 244 1066 242 1061 240 1066 238 1070 234 1074 226 1075 222 1074 217 1070 215 1062 215 1054 215 1046 215 1038 214 1030 214 1025 211 1018 209 1014 211 1010 213 1002 214 997 214 990 215 982 215 974M242 985 238 986 234 990 230 996 226 1002 226 1002 230 1006 234 1013 235 1018 237 1026 242 1027 245 1022 248 1018 250 1013 250 1006 250 999 249 994 246 987 242 985M302 1058 302 1058 302 1062 302 1062 302 1062 302 1058 302 1058" fill="none" stroke="#f7705c" stroke-width="0.6" opacity="0.75"/>
<path d="M303 970 305 978 302 984 299 990 300 998 300 1006 299 1014 302 1018 305 1026 304 1034 303 1042 302 1047 300 1054 298 1060 298 1062 306 1063 310 1058 314 1057 320 1054 323 1050 327 1050 328 1058 326 1064 322 1066 317 1070 317 1078 318 1082 318 1088 316 1094 314 1102 314 1106 313 1114M198 1083 202 1083 206 1084 207 1086 206 1087 202 1088 198 1088M250 1118 250 1110 254 1103 258 1101 261 1094 262 1090 262 1085 258 1081 254 1076 250 1070 248 1066 246 1060 242 1054 238 1059 235 1066 233 1070 226 1071 222 1068 218 1063 217 1058 217 1050 217 1042 218 1034 218 1030 218 1022 217 1018 216 1010 217 1002 217 994 217 986 217 978 217 970M242 982 238 982 231 986 228 990 223 994 220 998 221 1006 226 1009 230 1010 232 1018 231 1026 232 1034 234 1039 242 1042 242 1034 244 1026 247 1022 250 1018 252 1010 252 1002 252 994 250 987 246 984 242 982M314 1013 314 1014 314 1014 310 1014 314 1013" fill="none" stroke="#fd9467" stroke-width="0.6" opacity="0.75"/>
<path d="M300 970 303 974 302 980 298 986 297 990 297 998 297 1006 296 1014 298 1018 302 1022 303 1030 302 1038 300 1042 298 1050 296 1054 295 1062 298 1067 306 1069 310 1062 314 1060 322 1058 322 1063 317 1066 310 1070 314 1078 316 1082 315 1090 313 1094 311 1102 310 1110 310 1118M252 1118 252 1114 252 1110 254 1107 257 1106 258 1106 262 1106 263 1106 265 1110 265 1114 265 1118M280 1118 280 1110 280 1102 278 1097 270 1094 268 1090 266 1083 262 1079 258 1074 255 1070 252 1066 250 1062 246 1054 244 1050 245 1042 244 1034 246 1028 249 1022 252 1018 254 1012 254 1006 254 998 256 990 253 986 248 982 242 978 238 978 233 974M226 1043 234 1045 238 1050 238 1050 235 1058 234 1062 230 1067 226 1065 222 1058 222 1054 222 1050 226 1043M266 1097 267 1098 266 1102 266 1103 266 1102 266 1098 266 1097" fill="none" stroke="#feb77e" stroke-width="0.6" opacity="0.75"/>
<path d="M295 970 299 974 298 982 296 986 294 994 294 1002 294 1007 293 1014 295 1018 298 1022 301 1030 299 1038 297 1042 295 1050 294 1054 292 1062 294 1067 298 1071 304 1074 308 1078 313 1082 314 1086 312 1090 310 1094 307 1102 307 1110 306 1118M287 1118 286 1110 286 1106 284 1098 280 1094 274 1090 272 1086 269 1082 266 1078 262 1073 258 1068 254 1063 251 1058 250 1054 248 1046 247 1038 247 1030 250 1025 254 1020 257 1014 257 1006 257 998 259 994 259 986 254 982 250 979 247 974M230 1048 231 1050 231 1054 231 1058 230 1062 228 1058 228 1054 228 1050 230 1048" fill="none" stroke="#fdda9c" stroke-width="0.6" opacity="0.75"/>
<path d="M297 1118 296 1110 294 1102 293 1098 291 1090 292 1082 298 1081 302 1082 305 1090 303 1098 302 1106 302 1114M278 983 283 986 282 994 278 998 278 998 274 994 274 989 278 983M274 1010 282 1011 286 1014 290 1018 293 1026 294 1030 294 1034 292 1042 290 1050 289 1054 287 1062 288 1070 290 1074 290 1080 286 1085 278 1082 274 1078 270 1074 268 1070 265 1066 262 1062 258 1055 256 1050 255 1042 254 1034 257 1026 261 1022 265 1018 270 1014 274 1010" fill="none" stroke="#fde7a9" stroke-width="0.6" opacity="0.75"/>
</g>
<path d="M249.0 972.4 L250.0 977.2 L260.5 981.4 L266.8 985.6 L264.7 991.8 L256.3 995.0 L255.3 1003.3 L257.4 1013.8 L251.1 1022.1 L242.7 1028.4 L244.8 1036.7 L249.0 1047.2 L252.1 1055.5 L256.3 1063.9 L262.6 1070.1 L268.9 1078.5 L272.0 1086.8 L279.4 1093.1 L287.7 1099.3 L291.9 1105.6 L295.1 1114.6" fill="none" stroke="#fff" stroke-width="2.3" stroke-linecap="round" stroke-linejoin="round" stroke-dasharray="0 3.7"/>
<path d="M303.4 972.4 L302.4 978.3 L296.1 986.6 L291.9 992.9 L290.9 1001.2 L291.9 1013.8 L294.0 1020.0 L303.4 1027.3 L302.4 1032.5 L297.1 1036.7 L293.0 1045.1 L291.9 1055.5 L289.8 1063.9 L288.8 1072.2 L294.0 1077.4 L308.7 1078.5 L316.0 1078.5 L317.0 1084.7 L312.8 1091.0 L306.6 1096.2 L304.5 1105.6 L303.4 1114.6" fill="none" stroke="#fff" stroke-width="2.3" stroke-linecap="round" stroke-linejoin="round" stroke-dasharray="0 3.7"/>
<path d="M249.0 972.4 L303.4 972.4" fill="none" stroke="#fff" stroke-width="2.3" stroke-linecap="round" stroke-linejoin="round" stroke-dasharray="0 3.7"/>
<text x="204" y="988.5" font-size="16" text-anchor="start" fill="#fff">(VII)</text>
<text x="335.7" y="988" font-size="13" text-anchor="end" fill="#fff">t = 39 min</text>
<clipPath id="hVI"><rect x="346.1" y="972" width="143.3" height="143"/></clipPath>
<g clip-path="url(#hVI)">
<g filter="url(#hblur)" stroke-width="4">
<path stroke="#f4695c" d="M342.1 970h12M342.1 974h12M342.1 978h12M342.1 994h12M386.1 998h4M482.1 998h12M478.1 1002h4M342.1 1006h12M474.1 1010h4M474.1 1014h4M474.1 1018h4M478.1 1022h16M342.1 1050h12M354.1 1062h4M386.1 1086h4M382.1 1098h4M390.1 1098h4M474.1 1098h4M474.1 1102h4M470.1 1106h4M470.1 1110h4M470.1 1114h4M470.1 1118h4"/>
<path stroke="#c73d73" d="M354.1 970h4M354.1 974h4M354.1 978h4M478.1 986h4M390.1 990h4M474.1 990h4M470.1 994h4M382.1 1002h4M386.1 1014h8M466.1 1018h4M462.1 1026h4M466.1 1034h4M482.1 1034h12M478.1 1038h4M342.1 1042h12M354.1 1050h4M350.1 1082h4M482.1 1082h12M470.1 1086h4M466.1 1090h4M462.1 1098h4M462.1 1102h4M378.1 1106h4M390.1 1106h4M462.1 1106h4M378.1 1110h4M462.1 1110h4M378.1 1114h4M462.1 1114h4M378.1 1118h4M462.1 1118h4"/>
<path stroke="#8c2981" d="M358.1 970h4M478.1 970h4M358.1 974h4M478.1 974h4M358.1 978h4M478.1 978h4M386.1 982h8M474.1 982h4M398.1 990h4M398.1 994h4M398.1 998h4M398.1 1002h4M462.1 1002h4M382.1 1014h4M406.1 1014h4M386.1 1018h8M354.1 1026h4M354.1 1034h4M354.1 1038h4M462.1 1038h4M466.1 1042h4M358.1 1046h4M358.1 1050h4M442.1 1062h4M370.1 1074h8M374.1 1078h8M478.1 1078h16M358.1 1082h4M466.1 1082h4M358.1 1090h4M370.1 1090h4M458.1 1090h4M342.1 1098h12M342.1 1102h12M398.1 1102h4M354.1 1106h4M454.1 1106h4M354.1 1110h4M454.1 1110h4M354.1 1114h4M454.1 1114h4M354.1 1118h4M454.1 1118h4"/>
<path stroke="#5f187f" d="M362.1 970h4M386.1 970h4M410.1 970h4M458.1 970h4M362.1 974h4M386.1 974h4M410.1 974h4M458.1 974h4M362.1 978h4M386.1 978h4M410.1 978h4M458.1 978h4M378.1 982h4M406.1 982h4M458.1 982h4M406.1 986h4M458.1 986h4M458.1 990h4M458.1 994h4M358.1 998h4M458.1 998h4M458.1 1002h4M378.1 1006h4M414.1 1014h4M406.1 1018h4M454.1 1022h4M362.1 1038h4M382.1 1038h4M362.1 1042h4M382.1 1042h4M462.1 1042h4M362.1 1046h4M466.1 1046h4M362.1 1050h4M442.1 1050h4M362.1 1054h20M362.1 1058h4M362.1 1062h4M366.1 1066h12M442.1 1066h4M450.1 1066h4M382.1 1070h4M386.1 1074h4M474.1 1074h20M462.1 1078h4M394.1 1082h4M454.1 1082h4M450.1 1086h4M446.1 1094h4M446.1 1098h4M446.1 1102h4"/>
<path stroke="#52137c" d="M366.1 970h20M446.1 970h12M462.1 970h12M366.1 974h20M446.1 974h12M462.1 974h12M366.1 978h20M446.1 978h12M462.1 978h12M362.1 982h16M410.1 982h4M454.1 982h4M406.1 990h4M422.1 990h4M406.1 994h4M406.1 998h4M406.1 1002h4M410.1 1006h4M458.1 1006h4M414.1 1010h4M358.1 1030h4M454.1 1034h4M458.1 1038h4M386.1 1042h4M386.1 1046h4M386.1 1050h4M450.1 1050h4M382.1 1054h8M366.1 1058h8M438.1 1058h4M366.1 1062h4M438.1 1062h4M378.1 1066h12M386.1 1070h4M466.1 1074h8M458.1 1078h4M450.1 1082h4M446.1 1086h4M398.1 1090h4M446.1 1090h4M442.1 1094h4M442.1 1098h4M442.1 1102h4M446.1 1106h4M398.1 1110h4M446.1 1110h4M398.1 1114h4M446.1 1114h4M398.1 1118h4M446.1 1118h4"/>
<path stroke="#6a1c81" d="M390.1 970h4M406.1 970h4M390.1 974h4M406.1 974h4M390.1 978h4M406.1 978h4M462.1 982h8M402.1 986h4M402.1 990h4M358.1 994h4M402.1 994h4M402.1 998h4M378.1 1002h4M402.1 1002h4M406.1 1006h4M410.1 1010h4M382.1 1018h4M402.1 1018h4M458.1 1018h4M454.1 1030h4M358.1 1034h4M366.1 1038h4M378.1 1038h4M366.1 1042h4M366.1 1046h4M382.1 1046h4M482.1 1046h12M366.1 1050h4M382.1 1050h4M362.1 1066h4M378.1 1070h4M466.1 1078h4M362.1 1082h4M458.1 1082h4M362.1 1086h4M450.1 1090h4M450.1 1094h4M450.1 1098h4M398.1 1106h4"/>
<path stroke="#752181" d="M394.1 970h4M402.1 970h4M474.1 970h4M394.1 974h4M402.1 974h4M474.1 974h4M394.1 978h4M402.1 978h4M474.1 978h4M382.1 982h4M402.1 982h4M470.1 982h4M378.1 986h4M462.1 986h4M358.1 990h4M378.1 994h4M378.1 998h4M354.1 1014h4M410.1 1014h4M354.1 1018h4M398.1 1018h4M354.1 1022h4M458.1 1034h4M358.1 1038h4M370.1 1038h4M370.1 1042h4M378.1 1042h4M370.1 1046h4M378.1 1046h4M474.1 1046h8M370.1 1050h4M378.1 1050h4M450.1 1054h4M362.1 1070h16M382.1 1074h4M362.1 1078h4M390.1 1078h4M366.1 1082h4M366.1 1086h8M394.1 1086h4M454.1 1086h4M454.1 1090h4M398.1 1094h4M450.1 1102h4M450.1 1106h4M450.1 1110h4M450.1 1114h4M450.1 1118h4"/>
<path stroke="#812581" d="M398.1 970h4M398.1 974h4M398.1 978h4M358.1 982h4M394.1 982h8M358.1 986h4M398.1 986h4M466.1 986h4M378.1 990h4M462.1 990h4M462.1 994h4M462.1 998h4M402.1 1006h4M462.1 1006h4M406.1 1010h4M462.1 1010h4M462.1 1014h4M394.1 1018h4M454.1 1026h4M374.1 1038h4M358.1 1042h4M374.1 1042h4M374.1 1046h4M470.1 1046h4M374.1 1050h4M446.1 1050h4M442.1 1054h4M450.1 1058h4M450.1 1062h4M446.1 1066h4M362.1 1074h8M378.1 1074h4M366.1 1078h8M470.1 1078h8M370.1 1082h8M462.1 1082h4M358.1 1086h4M374.1 1086h4M458.1 1086h4M362.1 1090h8M454.1 1094h4M454.1 1098h4M454.1 1102h4M342.1 1106h12M342.1 1110h12M394.1 1110h4M342.1 1114h12M394.1 1114h4M342.1 1118h12M394.1 1118h4"/>
<path stroke="#471078" d="M414.1 970h4M414.1 974h4M414.1 978h4M414.1 982h8M450.1 982h4M366.1 986h12M410.1 986h16M454.1 986h4M374.1 990h4M414.1 990h8M454.1 990h4M418.1 994h8M454.1 994h4M454.1 998h4M358.1 1002h4M414.1 1006h4M378.1 1010h4M418.1 1010h4M458.1 1010h4M418.1 1014h4M410.1 1018h4M386.1 1022h4M362.1 1034h16M386.1 1038h4M470.1 1050h8M490.1 1050h4M438.1 1054h4M374.1 1058h16M370.1 1062h4M382.1 1062h8M454.1 1062h4M486.1 1070h8M390.1 1074h4M462.1 1074h4M394.1 1078h4M454.1 1078h4M442.1 1086h4M442.1 1090h4M438.1 1094h4M402.1 1098h4M434.1 1098h8M402.1 1102h4M438.1 1102h4M442.1 1106h4"/>
<path stroke="#3b0f70" d="M418.1 970h4M442.1 970h4M418.1 974h4M442.1 974h4M418.1 978h4M442.1 978h4M422.1 982h4M446.1 982h4M362.1 986h4M450.1 986h4M366.1 990h8M410.1 990h4M374.1 994h4M410.1 994h8M410.1 998h16M410.1 1002h8M454.1 1002h4M358.1 1006h4M418.1 1006h4M378.1 1014h4M458.1 1014h4M390.1 1022h8M378.1 1034h8M462.1 1046h4M466.1 1050h4M478.1 1050h12M454.1 1058h4M374.1 1062h8M390.1 1066h4M454.1 1066h4M390.1 1070h4M446.1 1070h8M478.1 1070h8M458.1 1074h4M446.1 1082h4M438.1 1090h4M434.1 1094h4M434.1 1102h4M402.1 1106h4M438.1 1106h4M442.1 1110h4M442.1 1114h4M402.1 1118h4M442.1 1118h4"/>
<path stroke="#2d1161" d="M422.1 970h8M438.1 970h4M422.1 974h8M438.1 974h4M422.1 978h8M438.1 978h4M426.1 982h4M442.1 982h4M426.1 986h4M446.1 986h4M362.1 990h4M426.1 990h4M450.1 990h4M370.1 994h4M450.1 994h4M418.1 1002h8M454.1 1006h4M358.1 1010h4M378.1 1018h4M414.1 1018h4M454.1 1018h4M382.1 1022h4M398.1 1022h8M358.1 1026h4M450.1 1026h4M450.1 1030h4M454.1 1038h4M390.1 1042h4M458.1 1042h4M390.1 1046h4M390.1 1050h4M438.1 1050h4M390.1 1054h4M454.1 1054h4M390.1 1058h4M390.1 1062h4M438.1 1066h4M442.1 1070h4M454.1 1070h4M470.1 1070h8M394.1 1074h4M454.1 1074h4M450.1 1078h4M442.1 1082h4M398.1 1086h4M438.1 1086h4M434.1 1090h4M430.1 1094h4M430.1 1098h4M430.1 1102h4M402.1 1110h4M402.1 1114h4"/>
<path stroke="#221150" d="M430.1 970h4M430.1 974h4M430.1 978h4M430.1 982h4M438.1 982h4M430.1 986h4M442.1 986h4M362.1 994h8M426.1 994h4M374.1 998h4M450.1 998h4M450.1 1002h4M422.1 1006h4M422.1 1010h4M454.1 1010h4M406.1 1022h4M450.1 1022h4M386.1 1034h4M390.1 1038h4M454.1 1050h4M466.1 1054h12M490.1 1054h4M486.1 1066h8M394.1 1070h4M458.1 1070h12M446.1 1078h4M398.1 1082h4M438.1 1082h4M434.1 1086h4M430.1 1090h4M402.1 1094h4M426.1 1098h4M434.1 1106h4M438.1 1110h4M438.1 1114h4M438.1 1118h4"/>
<path stroke="#19103f" d="M434.1 970h4M434.1 974h4M434.1 978h4M434.1 982h4M434.1 986h8M430.1 990h4M442.1 990h8M370.1 998h4M426.1 998h4M374.1 1002h4M450.1 1006h4M358.1 1014h4M422.1 1014h4M454.1 1014h4M358.1 1018h4M418.1 1018h4M358.1 1022h4M378.1 1022h4M410.1 1022h4M362.1 1030h8M450.1 1034h4M454.1 1042h4M442.1 1046h12M462.1 1050h4M478.1 1054h4M486.1 1054h4M490.1 1058h4M394.1 1062h4M394.1 1066h4M458.1 1066h4M478.1 1066h8M450.1 1074h4M398.1 1078h4M442.1 1078h4M426.1 1094h4M426.1 1102h4M430.1 1106h4M434.1 1110h4M406.1 1114h4M406.1 1118h4M434.1 1118h4"/>
<path stroke="#a5317e" d="M482.1 970h12M482.1 974h12M482.1 978h12M478.1 982h4M390.1 986h4M394.1 990h4M466.1 990h4M466.1 994h4M354.1 1006h4M382.1 1010h4M402.1 1014h4M462.1 1034h4M342.1 1038h12M354.1 1042h4M474.1 1042h4M358.1 1058h4M358.1 1070h4M358.1 1074h4M378.1 1082h4M470.1 1082h4M462.1 1090h4M370.1 1094h4M358.1 1098h8M398.1 1098h4M362.1 1102h4M458.1 1102h4M362.1 1106h4M458.1 1106h4M362.1 1110h8M458.1 1110h4M362.1 1114h8M458.1 1114h4M362.1 1118h8M458.1 1118h4"/>
<path stroke="#ef5d5e" d="M342.1 982h12M342.1 986h12M342.1 990h12M386.1 994h4M482.1 994h12M478.1 998h4M386.1 1006h4M474.1 1006h4M342.1 1010h12M470.1 1014h4M470.1 1018h4M474.1 1022h4M482.1 1026h12M354.1 1058h4M342.1 1074h12M382.1 1094h4M470.1 1094h8M478.1 1098h4M382.1 1102h4M478.1 1102h4M386.1 1106h4M474.1 1106h4M474.1 1110h4M474.1 1114h4M474.1 1118h4"/>
<path stroke="#bc3978" d="M354.1 982h4M482.1 982h12M354.1 986h4M386.1 986h4M470.1 990h4M382.1 994h4M382.1 998h4M394.1 1006h4M394.1 1010h4M466.1 1010h4M394.1 1014h8M466.1 1014h4M458.1 1026h4M462.1 1030h4M342.1 1034h12M466.1 1038h4M482.1 1038h12M354.1 1046h4M446.1 1058h4M446.1 1062h4M354.1 1078h4M382.1 1082h4M478.1 1082h4M342.1 1086h12M390.1 1086h4M378.1 1090h4M394.1 1094h4M462.1 1094h4M374.1 1098h4M374.1 1102h4M394.1 1102h4"/>
<path stroke="#982d80" d="M382.1 986h4M394.1 986h4M470.1 986h4M398.1 1006h4M354.1 1010h4M402.1 1010h4M462.1 1018h4M458.1 1022h4M354.1 1030h4M458.1 1030h4M478.1 1042h16M358.1 1054h4M442.1 1058h4M358.1 1078h4M382.1 1078h8M390.1 1082h4M354.1 1086h4M462.1 1086h4M354.1 1090h4M374.1 1090h4M394.1 1090h4M342.1 1094h28M458.1 1094h4M354.1 1098h4M458.1 1098h4M354.1 1102h8M358.1 1106h4M394.1 1106h4M358.1 1110h4M358.1 1114h4M358.1 1118h4"/>
<path stroke="#b0357b" d="M474.1 986h4M354.1 990h4M382.1 990h4M354.1 994h4M394.1 994h4M354.1 998h4M394.1 998h4M466.1 998h4M354.1 1002h4M394.1 1002h4M466.1 1002h4M382.1 1006h4M466.1 1006h4M398.1 1010h4M462.1 1022h4M470.1 1042h4M446.1 1054h4M358.1 1062h4M358.1 1066h4M354.1 1082h4M474.1 1082h4M378.1 1086h4M466.1 1086h4M342.1 1090h12M374.1 1094h4M366.1 1098h8M366.1 1102h8M366.1 1106h12M370.1 1110h8M390.1 1110h4M370.1 1114h8M390.1 1114h4M370.1 1118h8M390.1 1118h4"/>
<path stroke="#d3436e" d="M482.1 986h12M390.1 994h4M474.1 994h4M470.1 998h4M470.1 1002h4M390.1 1010h4M466.1 1022h4M342.1 1030h12M466.1 1030h4M478.1 1034h4M474.1 1038h4M354.1 1074h4M342.1 1082h8M386.1 1082h4M474.1 1086h4M390.1 1090h4M378.1 1094h4M394.1 1098h4M378.1 1102h4M382.1 1110h4M382.1 1114h4M382.1 1118h4"/>
<path stroke="#e75263" d="M386.1 990h4M482.1 990h12M478.1 994h4M474.1 1002h4M386.1 1010h4M470.1 1010h4M342.1 1014h8M342.1 1018h8M342.1 1022h8M470.1 1022h4M342.1 1026h8M470.1 1026h12M470.1 1030h4M470.1 1034h4M354.1 1066h4M482.1 1086h12M382.1 1090h4M478.1 1090h16M390.1 1094h4M478.1 1094h16M466.1 1098h4M482.1 1098h12M466.1 1102h4M482.1 1102h12M466.1 1106h4M478.1 1106h16M386.1 1110h4M466.1 1110h4M478.1 1110h16M386.1 1114h4M466.1 1114h4M478.1 1114h16M386.1 1118h4M466.1 1118h4M478.1 1118h16"/>
<path stroke="#100b2d" d="M434.1 990h8M430.1 994h4M442.1 994h8M362.1 998h8M446.1 998h4M370.1 1002h4M426.1 1002h4M374.1 1006h4M426.1 1006h4M450.1 1010h4M422.1 1018h4M450.1 1018h4M414.1 1022h4M382.1 1026h12M370.1 1030h20M390.1 1034h4M450.1 1038h4M394.1 1042h4M394.1 1046h4M438.1 1046h4M454.1 1046h8M394.1 1050h4M458.1 1050h4M394.1 1054h4M434.1 1054h4M458.1 1054h8M482.1 1054h4M394.1 1058h4M434.1 1058h4M458.1 1058h4M434.1 1062h4M458.1 1062h4M490.1 1062h4M462.1 1066h16M438.1 1070h4M398.1 1074h4M446.1 1074h4M438.1 1078h4M434.1 1082h4M402.1 1086h4M430.1 1086h4M402.1 1090h4M426.1 1090h4M406.1 1098h4M422.1 1098h4M406.1 1102h4M422.1 1102h4M406.1 1106h4M426.1 1106h4M406.1 1110h4M430.1 1110h4M430.1 1114h8M426.1 1118h8"/>
<path stroke="#de4968" d="M478.1 990h4M390.1 998h4M474.1 998h4M390.1 1002h4M390.1 1006h4M470.1 1006h4M350.1 1014h4M350.1 1018h4M350.1 1022h4M350.1 1026h4M466.1 1026h4M474.1 1030h20M474.1 1034h4M470.1 1038h4M342.1 1046h12M354.1 1054h4M354.1 1070h4M342.1 1078h12M382.1 1086h4M478.1 1086h4M470.1 1090h8M466.1 1094h4M378.1 1098h4M390.1 1102h4M382.1 1106h4"/>
<path stroke="#08071e" d="M434.1 994h8M430.1 998h4M438.1 998h8M362.1 1002h8M430.1 1002h4M446.1 1002h4M362.1 1006h12M430.1 1006h4M446.1 1006h4M362.1 1010h16M426.1 1010h8M362.1 1014h16M426.1 1014h8M450.1 1014h4M362.1 1018h16M426.1 1018h4M446.1 1018h4M362.1 1022h16M418.1 1022h12M446.1 1022h4M362.1 1026h20M394.1 1026h20M442.1 1026h8M390.1 1030h16M442.1 1030h8M394.1 1034h4M442.1 1034h8M394.1 1038h4M442.1 1038h8M438.1 1042h16M434.1 1046h4M430.1 1050h8M430.1 1054h4M398.1 1058h4M430.1 1058h4M462.1 1058h28M398.1 1062h8M430.1 1062h4M462.1 1062h28M398.1 1066h8M430.1 1066h8M398.1 1070h8M434.1 1070h4M402.1 1074h4M438.1 1074h8M402.1 1078h8M430.1 1078h8M402.1 1082h8M426.1 1082h8M406.1 1086h4M426.1 1086h4M406.1 1090h4M414.1 1090h12M406.1 1094h20M410.1 1098h12M410.1 1102h12M410.1 1106h16M410.1 1110h20M410.1 1114h20M410.1 1118h16"/>
<path stroke="#f8765c" d="M342.1 998h12M342.1 1002h12M386.1 1002h4M478.1 1006h4M478.1 1010h4M478.1 1018h4M386.1 1090h4M470.1 1098h4M386.1 1102h4M470.1 1102h4"/>
<path stroke="#03030f" d="M434.1 998h4M438.1 1002h8M442.1 1006h4M442.1 1010h8M442.1 1014h8M430.1 1018h4M438.1 1018h8M430.1 1022h4M438.1 1022h8M414.1 1026h12M438.1 1026h4M406.1 1030h16M438.1 1030h4M398.1 1034h12M438.1 1034h4M398.1 1038h8M438.1 1038h4M398.1 1042h8M430.1 1042h8M398.1 1046h8M426.1 1046h8M398.1 1050h8M426.1 1050h4M398.1 1054h8M426.1 1054h4M402.1 1058h8M426.1 1058h4M406.1 1062h4M426.1 1062h4M406.1 1066h4M426.1 1066h4M406.1 1070h4M426.1 1070h8M406.1 1074h4M430.1 1074h8M426.1 1078h4M410.1 1082h16M410.1 1086h16M410.1 1090h4"/>
<path stroke="#000004" d="M434.1 1002h4M434.1 1006h8M434.1 1010h8M434.1 1014h8M434.1 1018h4M434.1 1022h4M426.1 1026h12M422.1 1030h16M410.1 1034h28M406.1 1038h32M406.1 1042h24M406.1 1046h20M406.1 1050h20M406.1 1054h20M410.1 1058h16M410.1 1062h16M410.1 1066h16M410.1 1070h16M410.1 1074h20M410.1 1078h16"/>
<path stroke="#fb8560" d="M482.1 1002h12M482.1 1006h12M478.1 1014h4M482.1 1018h12M342.1 1070h12M386.1 1094h4"/>
<path stroke="#fd9266" d="M482.1 1010h12M482.1 1014h12M342.1 1054h12M386.1 1098h4"/>
<path stroke="#feae77" d="M342.1 1058h12"/>
<path stroke="#fec88c" d="M342.1 1062h12"/>
<path stroke="#fe9f6d" d="M342.1 1066h12"/>
</g>
<path d="M344 1063 348 1063 351 1062 348 1060 344 1060" fill="none" stroke="#3b0f70" stroke-width="0.6" opacity="0.75"/>
<path d="M344 1066 348 1066 350 1066 352 1065 353 1062 352 1058 352 1058 348 1056 344 1056" fill="none" stroke="#51127c" stroke-width="0.6" opacity="0.75"/>
<path d="M492 1006 488 1006 484 1007 483 1010 482 1014 484 1016 488 1016 492 1017M344 1069 348 1069 352 1068 353 1066 354 1062 353 1058 352 1055 350 1054 348 1054 344 1054" fill="none" stroke="#641a80" stroke-width="0.6" opacity="0.75"/>
<path d="M492 999 484 999 480 1005 478 1010 479 1018 484 1021 492 1021M344 1005 348 1005 351 1002 349 998 348 997 344 997M344 1072 348 1072 352 1071 353 1070 355 1066 355 1062 355 1058 353 1054 352 1052 348 1051 344 1051M388 1091 386 1094 385 1098 388 1102 390 1098 389 1094 388 1091M472 1098 472 1098 472 1099 472 1098 472 1098" fill="none" stroke="#782281" stroke-width="0.6" opacity="0.75"/>
<path d="M492 993 484 993 480 997 478 1002 476 1006 473 1014 476 1022 480 1025 488 1026M344 1011 349 1010 352 1006 353 998 352 993 350 986 352 982 352 974M344 1075 352 1074 355 1070 356 1065 356 1059 355 1054 352 1049 344 1048M477 1118 477 1110 480 1102 477 1094 472 1093 469 1098 470 1106 471 1114M388 997 388 998 387 1002 388 1005 390 1002 389 998 388 997M388 1087 384 1093 383 1098 384 1102 390 1102 393 1098 391 1094 388 1087" fill="none" stroke="#8c2981" stroke-width="0.6" opacity="0.75"/>
<path d="M492 986 484 987 479 990 476 994 472 1002 471 1006 470 1014 469 1022 467 1026 469 1030 472 1038 473 1038 480 1034 484 1032 492 1032M344 1029 352 1027 352 1022 352 1014 354 1006 354 998 354 990 354 982 355 974M344 1081 352 1080 356 1074 357 1070 358 1062 357 1054 355 1050 352 1045 344 1044M492 1084 484 1084 478 1086 472 1089 468 1093 466 1098 466 1106 466 1114M389 1118 389 1110 392 1104 396 1098 392 1090 390 1086 384 1086 382 1090 380 1095 380 1102 382 1106 384 1114M388 989 386 994 385 1002 388 1010 391 1010 393 1006 393 998 391 994 388 989" fill="none" stroke="#ab337c" stroke-width="0.6" opacity="0.75"/>
<path d="M492 981 484 981 480 984 476 987 472 990 469 998 468 1006 468 1010 467 1018 464 1023 464 1030 466 1034 468 1038 476 1040 484 1038 488 1038M344 1035 352 1034 353 1030 354 1022 354 1014 355 1006 356 998 356 990 356 986 357 978 357 970M492 1081 484 1081 480 1082 472 1085 468 1087 464 1093 463 1098 462 1106 462 1114M344 1087 352 1086 355 1082 357 1078 359 1070 360 1062 358 1054 356 1046 354 1042 348 1039M392 1118 392 1110 394 1106 396 1102 396 1094 394 1090 392 1085 388 1081 384 1082 380 1087 377 1094 373 1098 376 1106 377 1110 377 1118M388 986 384 992 384 998 384 1005 386 1010 388 1015 396 1014 398 1010 396 1003 396 998 394 990 388 986" fill="none" stroke="#ca3e72" stroke-width="0.6" opacity="0.75"/>
<path d="M482 970 481 978 477 982 472 985 468 989 466 994 466 1002 466 1010 464 1018 461 1022 458 1026 460 1030 464 1036 468 1041 472 1043 480 1042 484 1042 492 1042M492 1078 484 1078 476 1080 470 1082 464 1086 462 1090 460 1095 459 1102 458 1110 458 1118M344 1096 348 1096 352 1096 356 1098 356 1099 358 1102 359 1106 359 1110 359 1114 359 1118M394 1118 394 1110 396 1106 400 1098 396 1090 394 1086 392 1082 384 1078 379 1082 376 1089 372 1091 365 1094 360 1094 357 1090 359 1082 360 1078 362 1070 361 1062 360 1054 360 1050 358 1042 355 1038 356 1030 355 1022 355 1014 356 1009 357 1002 358 994 358 986 359 978 360 970M388 983 384 986 382 994 382 1002 384 1010 385 1014 392 1017 400 1016 405 1014 403 1010 400 1005 399 998 398 990 396 986 388 983M448 1053 447 1054 445 1058 446 1062 448 1064 450 1062 450 1058 449 1054 448 1053" fill="none" stroke="#e75263" stroke-width="0.6" opacity="0.75"/>
<path d="M398 970 398 978 392 980 384 982 381 986 380 990 380 995 381 1002 382 1010 384 1016 388 1019 396 1018 400 1018 408 1015 409 1010 405 1006 403 1002 402 994 402 986 402 978 402 970M477 970 477 978 472 982 468 984 464 988 463 994 463 1002 464 1010 462 1018 458 1022 456 1026 457 1030 460 1034 464 1040 468 1044 472 1046 476 1046 484 1045 492 1045M492 1076 484 1076 476 1077 471 1078 464 1081 460 1084 456 1090 455 1094 454 1102 453 1110 453 1118M397 1118 397 1110 400 1104 402 1098 400 1094 396 1086 394 1082 391 1078 384 1075 380 1072 372 1070 366 1070 363 1066 363 1058 362 1050 361 1042 360 1038 358 1030 356 1022 356 1018 356 1014 358 1006 359 998 360 990 360 986 362 978 362 970M376 1040 374 1042 374 1046 376 1049 378 1046 377 1042 376 1040M444 1053 443 1058 444 1064 452 1063 453 1058 452 1054 444 1053M364 1078 368 1080 370 1082 370 1086 368 1087 364 1088 362 1086 363 1082 364 1078" fill="none" stroke="#f7705c" stroke-width="0.6" opacity="0.75"/>
<path d="M386 970 384 977 380 979 377 986 378 994 379 1002 380 1007 382 1014 384 1019 392 1021 400 1020 408 1018 412 1016 415 1010 410 1006 407 1002 407 994 408 987 410 982 412 974M472 970 472 976 468 979 460 979 459 986 459 994 459 1002 461 1006 462 1014 459 1018 456 1022 455 1030 457 1034 460 1038 464 1043 468 1047 476 1048 484 1048 492 1048M492 1073 484 1073 476 1074 472 1074 464 1077 460 1079 455 1082 450 1086 448 1093 447 1098 448 1103 449 1110 449 1118M399 1118 399 1110 401 1106 403 1098 400 1091 398 1086 396 1081 392 1076 388 1071 384 1068 376 1066 372 1065 367 1062 368 1056 376 1055 383 1054 387 1050 386 1042 384 1038 376 1036 368 1036 362 1034 360 1030 358 1022 358 1014 359 1006 360 998 361 994 363 986 364 980 367 974M448 1049 444 1050 441 1058 444 1066 448 1068 452 1066 454 1058 452 1051 448 1049" fill="none" stroke="#fd9467" stroke-width="0.6" opacity="0.75"/>
<path d="M443 970 443 978 447 982 452 986 454 990 455 998 456 1003 459 1010 457 1018 454 1022 453 1030 456 1036 460 1041 464 1046 468 1050 472 1052 480 1050 488 1050M492 1069 484 1069 480 1070 472 1071 464 1073 460 1074 454 1078 448 1081 444 1084 440 1089 436 1093 434 1098 437 1102 441 1106 444 1114 444 1114M403 1118 403 1110 404 1105 405 1098 403 1094 400 1087 399 1082 396 1076 392 1070 391 1066 390 1058 391 1050 390 1042 388 1037 382 1034 376 1033 368 1033 362 1030 360 1026 359 1018 360 1010 360 1006 362 998 364 990 368 989 372 991 376 995 377 1002 379 1010 380 1015 384 1021 388 1023 396 1022 400 1022 408 1020 414 1018 420 1014 421 1010 420 1006 412 1002 412 998 416 997 420 998 424 996 427 990 424 982 422 978 422 970M444 1048 440 1052 439 1058 440 1064 444 1069 448 1070 452 1070 456 1065 456 1058 456 1054 452 1048 444 1048" fill="none" stroke="#feb77e" stroke-width="0.6" opacity="0.75"/>
<path d="M492 1065 484 1066 480 1067 472 1068 464 1068 460 1066 459 1058 458 1050 452 1046 448 1045 444 1046 439 1050 437 1058 438 1066 442 1070 448 1073 448 1076 444 1078 439 1082 435 1086 432 1090 428 1097 428 1099 432 1105 436 1109 439 1114M408 1118 406 1110 407 1102 406 1094 404 1090 401 1082 400 1078 397 1070 396 1066 395 1058 395 1050 394 1042 392 1037 388 1032 380 1031 372 1031 367 1030 362 1026 360 1018 360 1018 362 1010 363 1002 364 996 372 998 375 1002 376 1006 378 1014 380 1021 384 1024 392 1025 400 1024 408 1023 412 1022 420 1018 424 1014 425 1010 426 1002 428 997 432 990 434 986 436 978 440 985 444 988 448 990 451 998 452 1003 455 1010 456 1014 454 1018 451 1022 450 1030 452 1035 456 1041 460 1045 463 1050 468 1054 472 1055 478 1054 484 1053 489 1054" fill="none" stroke="#fdda9c" stroke-width="0.6" opacity="0.75"/>
<path d="M436 996 442 998 446 1002 448 1006 450 1014 448 1018 445 1026 445 1034 444 1038 440 1042 436 1046 432 1052 431 1058 432 1066 435 1070 439 1074 433 1078 429 1082 427 1086 422 1090 416 1094 410 1090 408 1085 407 1078 404 1070 404 1066 401 1058 400 1054 399 1046 398 1038 400 1030 404 1030 412 1026 416 1025 424 1022 428 1019 431 1014 432 1006 432 1002 436 996M368 1013 368 1014 369 1018 368 1021 368 1018 368 1014 368 1013" fill="none" stroke="#fde7a9" stroke-width="0.6" opacity="0.75"/>
</g>
<path d="M489.4 1052.4 L484.2 1053.4 L471.6 1054.5 L461.2 1054.5 L460.1 1044.0 L452.8 1038.8 L449.7 1030.5 L450.7 1021.1 L458.0 1014.8 L446.5 1006.4 L438.1 996.0 L431.9 993.9 L427.7 1003.3 L424.5 1015.8 L419.3 1021.1 L408.9 1023.1 L398.4 1024.2 L387.9 1025.2 L379.6 1024.2 L377.5 1013.8 L373.3 1002.3 L360.7 1000.2 L359.7 1020.0 L360.7 1028.4 L364.9 1029.4 L377.5 1030.5 L389.0 1031.5 L391.1 1033.6 L396.3 1040.9 L397.4 1049.2 L398.0 1059.7 L399.4 1070.1 L402.6 1080.6 L403.6 1093.1 L406.8 1105.6 L408.9 1114.6" fill="none" stroke="#fff" stroke-width="2.3" stroke-linecap="round" stroke-linejoin="round" stroke-dasharray="0 3.7"/>
<path d="M489.4 1061.8 L477.9 1065.9 L468.5 1068.0 L460.1 1071.2 L460.1 1055.5" fill="none" stroke="#fff" stroke-width="2.3" stroke-linecap="round" stroke-linejoin="round" stroke-dasharray="0 3.7"/>
<path d="M460.1 1055.5 L454.9 1048.2 L444.4 1048.2 L436.1 1051.3 L435.0 1059.7 L437.1 1070.1 L436.1 1080.6 L429.8 1087.9 L423.5 1091.0 L421.4 1097.3 L423.5 1105.6 L434.0 1109.8 L441.3 1111.9 L444.4 1114.6" fill="none" stroke="#fff" stroke-width="2.3" stroke-linecap="round" stroke-linejoin="round" stroke-dasharray="0 3.7"/>
<text x="349.1" y="988.5" font-size="16" text-anchor="start" fill="#fff">(VI)</text>
<text x="484.8" y="988" font-size="13" text-anchor="end" fill="#fff">t = 33 min</text>
<clipPath id="hV"><rect x="495.4" y="972" width="143.3" height="143"/></clipPath>
<g clip-path="url(#hV)">
<g filter="url(#hblur)" stroke-width="4">
<path stroke="#e75263" d="M491.4 970h12M491.4 974h12M491.4 978h12M491.4 982h12M491.4 986h12M631.4 986h12M627.4 994h4M627.4 1018h4M631.4 1026h12M627.4 1030h4M623.4 1034h4M619.4 1038h4M631.4 1054h12M619.4 1058h24M519.4 1062h4M627.4 1062h16M519.4 1066h4M527.4 1070h4M523.4 1078h4"/>
<path stroke="#bc3978" d="M503.4 970h4M627.4 970h4M503.4 974h4M627.4 974h4M503.4 978h4M627.4 978h4M503.4 982h4M535.4 990h4M607.4 990h4M503.4 994h4M539.4 994h4M611.4 994h4M543.4 998h4M615.4 998h8M547.4 1002h4M615.4 1002h8M611.4 1006h4M607.4 1010h4M607.4 1014h4M623.4 1018h4M503.4 1022h4M491.4 1030h12M615.4 1038h4M491.4 1046h12M503.4 1050h4M491.4 1054h12M523.4 1054h4M611.4 1054h4M515.4 1058h4M511.4 1062h4M607.4 1062h4M607.4 1066h8M531.4 1070h4M607.4 1070h4M623.4 1070h4M627.4 1074h4M515.4 1078h4M519.4 1082h8M511.4 1086h4M623.4 1086h4M511.4 1090h4M623.4 1090h4M623.4 1094h4M623.4 1098h4M623.4 1102h4M623.4 1106h4M623.4 1110h4M623.4 1114h4M623.4 1118h4"/>
<path stroke="#8c2981" d="M507.4 970h4M603.4 970h4M611.4 970h4M623.4 970h4M507.4 974h4M603.4 974h4M611.4 974h4M623.4 974h4M507.4 978h4M603.4 978h4M611.4 978h4M623.4 978h4M615.4 982h4M531.4 986h4M547.4 994h4M507.4 998h4M507.4 1006h4M551.4 1006h4M507.4 1010h4M507.4 1014h4M603.4 1014h4M507.4 1018h4M531.4 1018h4M615.4 1018h8M619.4 1022h4M619.4 1026h4M615.4 1030h4M491.4 1034h12M611.4 1038h4M491.4 1042h16M507.4 1046h4M515.4 1050h8M607.4 1050h4M527.4 1054h4M491.4 1062h12M603.4 1062h4M603.4 1066h4M603.4 1070h4M539.4 1074h4M603.4 1074h4M607.4 1078h4M507.4 1082h4M543.4 1082h4M615.4 1082h4M523.4 1086h4M551.4 1086h4M615.4 1086h4M503.4 1090h4M523.4 1090h4M615.4 1090h4M491.4 1094h12M523.4 1094h4M615.4 1094h4M523.4 1098h4M615.4 1098h4M523.4 1102h4M523.4 1106h4M579.4 1106h4M491.4 1110h12M519.4 1110h8M491.4 1114h12M519.4 1114h8M491.4 1118h12M519.4 1118h8"/>
<path stroke="#5f187f" d="M511.4 970h4M527.4 970h4M543.4 970h4M595.4 970h4M511.4 974h4M527.4 974h4M543.4 974h4M595.4 974h4M511.4 978h4M527.4 978h4M543.4 978h4M595.4 978h4M547.4 982h4M595.4 982h4M551.4 986h4M591.4 986h4M591.4 990h4M555.4 994h4M595.4 998h4M527.4 1002h4M595.4 1002h4M527.4 1006h4M555.4 1006h4M543.4 1018h4M531.4 1022h4M603.4 1022h4M607.4 1026h4M511.4 1030h4M607.4 1030h4M515.4 1034h4M607.4 1034h4M519.4 1038h4M607.4 1038h4M527.4 1042h4M531.4 1050h4M603.4 1050h4M531.4 1054h4M539.4 1066h4M503.4 1078h4M551.4 1078h4M555.4 1082h4M491.4 1086h12M531.4 1086h4M535.4 1090h4M551.4 1094h4M575.4 1094h4M587.4 1094h4M607.4 1094h4M547.4 1098h4M571.4 1098h4M607.4 1098h4M543.4 1102h8M607.4 1102h4M535.4 1106h12M607.4 1106h4M535.4 1110h4M575.4 1110h4M607.4 1110h4M535.4 1114h4M575.4 1114h4M607.4 1114h4M535.4 1118h4M575.4 1118h4M607.4 1118h4"/>
<path stroke="#52137c" d="M515.4 970h12M547.4 970h4M587.4 970h8M515.4 974h12M547.4 974h4M587.4 974h8M515.4 978h12M547.4 978h4M587.4 978h8M511.4 982h16M587.4 982h8M523.4 986h4M587.4 986h4M523.4 990h4M587.4 990h4M591.4 994h4M591.4 998h4M559.4 1002h4M591.4 1002h4M595.4 1006h4M527.4 1010h4M599.4 1018h4M511.4 1026h4M519.4 1034h4M523.4 1038h4M531.4 1046h4M599.4 1062h4M599.4 1066h4M491.4 1070h12M543.4 1070h4M599.4 1070h4M503.4 1074h4M547.4 1074h4M599.4 1074h4M491.4 1082h12M603.4 1082h4M535.4 1086h4M607.4 1086h4M555.4 1090h4M607.4 1090h4M591.4 1098h4M571.4 1102h4M547.4 1106h4M539.4 1110h12M539.4 1114h12M539.4 1118h12"/>
<path stroke="#752181" d="M531.4 970h4M599.4 970h4M615.4 970h4M531.4 974h4M599.4 974h4M615.4 974h4M531.4 978h4M599.4 978h4M615.4 978h4M543.4 982h4M599.4 982h4M507.4 986h4M507.4 990h4M527.4 990h4M551.4 994h4M555.4 1002h4M599.4 1010h4M603.4 1018h4M607.4 1022h4M615.4 1026h4M611.4 1030h4M507.4 1034h8M503.4 1038h8M515.4 1038h4M515.4 1042h8M607.4 1046h4M527.4 1050h4M603.4 1058h4M535.4 1066h4M539.4 1070h4M507.4 1074h4M543.4 1078h8M503.4 1082h4M539.4 1082h4M607.4 1082h4M527.4 1086h4M539.4 1086h4M611.4 1086h4M491.4 1090h12M539.4 1090h4M551.4 1090h4M611.4 1090h4M531.4 1094h20M579.4 1094h4M611.4 1094h4M539.4 1098h4M611.4 1098h4M531.4 1102h8M575.4 1102h4M587.4 1102h4M611.4 1102h4M531.4 1106h4M587.4 1106h4M611.4 1106h4M527.4 1110h4M587.4 1110h4M611.4 1110h4M527.4 1114h4M587.4 1114h4M611.4 1114h4M527.4 1118h4M587.4 1118h4M611.4 1118h4"/>
<path stroke="#812581" d="M535.4 970h4M535.4 974h4M535.4 978h4M507.4 982h4M531.4 982h4M539.4 982h4M619.4 982h4M543.4 986h4M599.4 986h4M547.4 990h4M599.4 990h4M507.4 994h4M599.4 994h4M551.4 998h4M599.4 998h4M599.4 1002h4M599.4 1006h4M507.4 1022h4M535.4 1022h4M611.4 1022h8M507.4 1026h4M507.4 1030h4M503.4 1034h4M611.4 1034h4M511.4 1038h4M507.4 1042h8M511.4 1046h16M511.4 1050h4M531.4 1062h4M503.4 1066h4M507.4 1070h4M507.4 1078h4M535.4 1078h8M531.4 1082h4M551.4 1082h4M611.4 1082h4M503.4 1086h4M527.4 1090h4M543.4 1090h4M527.4 1094h4M583.4 1094h4M527.4 1098h12M575.4 1098h4M587.4 1098h4M527.4 1102h4M527.4 1106h4M579.4 1110h4M579.4 1114h4M579.4 1118h4"/>
<path stroke="#6a1c81" d="M539.4 970h4M619.4 970h4M539.4 974h4M619.4 974h4M539.4 978h4M619.4 978h4M527.4 982h4M527.4 986h4M547.4 986h4M595.4 986h4M551.4 990h4M595.4 990h4M527.4 994h4M595.4 994h4M527.4 998h4M555.4 998h4M551.4 1010h4M547.4 1014h4M599.4 1014h4M611.4 1026h4M491.4 1038h12M523.4 1042h4M607.4 1042h4M527.4 1046h4M603.4 1054h4M531.4 1058h4M491.4 1066h12M503.4 1070h4M543.4 1074h4M603.4 1078h4M535.4 1082h4M555.4 1086h4M531.4 1090h4M543.4 1098h4M539.4 1102h4M575.4 1106h4M531.4 1110h4M531.4 1114h4M531.4 1118h4"/>
<path stroke="#3b0f70" d="M551.4 970h4M575.4 970h4M551.4 974h4M575.4 974h4M551.4 978h4M575.4 978h4M555.4 982h4M575.4 982h8M511.4 986h4M579.4 986h4M515.4 990h4M579.4 990h4M511.4 994h16M559.4 994h4M583.4 998h4M563.4 1002h4M559.4 1006h4M591.4 1006h4M595.4 1014h4M527.4 1018h4M531.4 1026h8M603.4 1026h4M531.4 1030h4M603.4 1030h4M523.4 1034h12M603.4 1034h4M531.4 1038h4M603.4 1038h4M535.4 1042h4M603.4 1042h4M535.4 1046h4M599.4 1054h4M543.4 1066h4M491.4 1074h12M551.4 1074h4M559.4 1082h4M599.4 1082h4M603.4 1086h4M559.4 1090h4M583.4 1090h4M555.4 1094h4M567.4 1094h4M591.4 1094h4M599.4 1098h4M567.4 1102h4M551.4 1110h4M571.4 1110h4M551.4 1114h4M571.4 1114h4M551.4 1118h4M571.4 1118h4"/>
<path stroke="#2d1161" d="M555.4 970h4M567.4 970h8M555.4 974h4M567.4 974h8M555.4 978h4M567.4 978h8M567.4 982h8M559.4 986h8M575.4 986h4M511.4 990h4M559.4 990h8M563.4 994h4M579.4 994h4M515.4 998h4M563.4 998h4M579.4 998h4M583.4 1002h4M563.4 1006h4M587.4 1006h4M559.4 1010h4M591.4 1010h4M551.4 1014h4M599.4 1022h4M515.4 1026h4M519.4 1030h4M527.4 1030h4M535.4 1034h4M535.4 1038h4M535.4 1050h4M539.4 1062h4M547.4 1070h4M555.4 1074h4M559.4 1078h4M563.4 1082h4M563.4 1086h4M563.4 1090h8M579.4 1090h4M587.4 1090h4M599.4 1090h4M563.4 1094h4M599.4 1094h4M555.4 1098h4M563.4 1098h4M555.4 1102h4M563.4 1102h4M599.4 1102h4M555.4 1106h4M563.4 1106h8M599.4 1106h4M555.4 1110h4M567.4 1110h4M599.4 1110h4M555.4 1114h4M567.4 1114h4M599.4 1114h4M555.4 1118h4M567.4 1118h4M599.4 1118h4"/>
<path stroke="#221150" d="M559.4 970h8M559.4 974h8M559.4 978h8M559.4 982h8M567.4 986h8M567.4 990h4M575.4 990h4M567.4 994h4M575.4 994h4M523.4 998h4M567.4 998h4M575.4 998h4M567.4 1002h4M579.4 1002h4M583.4 1006h4M563.4 1010h4M587.4 1010h4M591.4 1014h4M547.4 1018h4M595.4 1018h4M515.4 1022h4M527.4 1022h4M523.4 1030h4M535.4 1030h4M539.4 1038h4M539.4 1042h4M539.4 1046h4M599.4 1050h4M535.4 1058h4M551.4 1070h4M563.4 1078h4M599.4 1086h4M571.4 1090h8M591.4 1090h4M559.4 1094h4M595.4 1094h4M595.4 1098h4M595.4 1102h4M559.4 1106h4M559.4 1110h8M559.4 1114h8M559.4 1118h8"/>
<path stroke="#471078" d="M579.4 970h8M579.4 974h8M579.4 978h8M551.4 982h4M583.4 982h4M515.4 986h8M555.4 986h4M583.4 986h4M519.4 990h4M555.4 990h4M583.4 990h4M583.4 994h8M511.4 998h4M559.4 998h4M587.4 998h4M511.4 1002h4M587.4 1002h4M511.4 1006h4M511.4 1010h4M555.4 1010h4M595.4 1010h4M511.4 1014h4M527.4 1014h4M511.4 1018h4M511.4 1022h4M539.4 1022h4M515.4 1030h4M527.4 1038h4M531.4 1042h4M603.4 1046h4M599.4 1058h4M535.4 1062h4M491.4 1078h12M555.4 1078h4M599.4 1078h4M559.4 1086h4M603.4 1090h4M571.4 1094h4M603.4 1094h4M551.4 1098h4M567.4 1098h4M603.4 1098h4M551.4 1102h4M591.4 1102h4M603.4 1102h4M551.4 1106h4M571.4 1106h4M591.4 1106h4M603.4 1106h4M591.4 1110h4M603.4 1110h4M591.4 1114h4M603.4 1114h4M591.4 1118h4M603.4 1118h4"/>
<path stroke="#a5317e" d="M607.4 970h4M607.4 974h4M607.4 978h4M623.4 982h4M535.4 986h4M611.4 986h4M539.4 990h4M603.4 990h4M619.4 990h4M531.4 994h4M543.4 994h4M603.4 994h4M531.4 998h4M547.4 998h4M603.4 1006h4M615.4 1010h8M615.4 1034h4M503.4 1046h4M611.4 1046h4M507.4 1050h4M507.4 1054h4M515.4 1054h4M491.4 1058h20M531.4 1066h4M511.4 1070h4M535.4 1074h4M611.4 1074h4M511.4 1078h4M531.4 1078h4M619.4 1082h4M519.4 1086h4M619.4 1086h4M507.4 1090h4M515.4 1090h4M619.4 1090h4M507.4 1094h4M515.4 1094h4M619.4 1094h4M491.4 1098h16M515.4 1098h4M619.4 1098h4M503.4 1102h8M515.4 1102h4M507.4 1106h8M583.4 1106h4M507.4 1110h8M583.4 1110h4M507.4 1114h8M583.4 1114h4M507.4 1118h8M583.4 1118h4"/>
<path stroke="#de4968" d="M631.4 970h12M631.4 974h12M631.4 978h12M631.4 982h12M627.4 990h4M535.4 998h4M539.4 1002h4M623.4 1002h4M539.4 1006h4M539.4 1010h4M539.4 1014h4M491.4 1026h12M491.4 1050h12M615.4 1050h4M615.4 1054h4M523.4 1058h4M615.4 1058h4M619.4 1062h8M527.4 1066h4M631.4 1066h12"/>
<path stroke="#982d80" d="M535.4 982h4M603.4 982h4M611.4 982h4M539.4 986h4M603.4 986h4M615.4 986h8M531.4 990h4M543.4 990h4M507.4 1002h4M551.4 1002h4M547.4 1010h4M603.4 1010h4M615.4 1014h8M539.4 1018h4M607.4 1018h8M503.4 1030h4M611.4 1042h4M523.4 1050h4M511.4 1054h4M607.4 1054h4M503.4 1062h4M507.4 1066h4M535.4 1070h4M511.4 1074h4M615.4 1074h8M611.4 1078h12M527.4 1082h4M547.4 1082h4M507.4 1086h4M543.4 1086h4M519.4 1090h4M547.4 1090h4M503.4 1094h4M519.4 1094h4M519.4 1098h4M579.4 1098h4M491.4 1102h12M519.4 1102h4M579.4 1102h4M615.4 1102h4M491.4 1106h16M515.4 1106h8M615.4 1106h4M503.4 1110h4M515.4 1110h4M615.4 1110h4M503.4 1114h4M515.4 1114h4M615.4 1114h4M503.4 1118h4M515.4 1118h4M615.4 1118h4"/>
<path stroke="#b0357b" d="M607.4 982h4M503.4 986h4M607.4 986h4M623.4 986h4M503.4 990h4M611.4 990h8M615.4 994h8M603.4 998h4M531.4 1002h4M603.4 1002h4M531.4 1006h4M547.4 1006h4M615.4 1006h8M531.4 1010h4M611.4 1010h4M531.4 1014h4M543.4 1014h4M611.4 1014h4M623.4 1022h4M503.4 1026h4M623.4 1026h4M619.4 1030h4M611.4 1050h4M503.4 1054h4M519.4 1054h4M511.4 1058h4M527.4 1058h4M607.4 1058h4M507.4 1062h4M511.4 1066h4M611.4 1070h12M607.4 1074h4M623.4 1074h4M623.4 1078h4M511.4 1082h8M623.4 1082h4M515.4 1086h4M547.4 1086h4M511.4 1094h4M507.4 1098h8M583.4 1098h4M511.4 1102h4M583.4 1102h4M619.4 1102h4M619.4 1106h4M619.4 1110h4M619.4 1114h4M619.4 1118h4"/>
<path stroke="#c73d73" d="M627.4 982h4M623.4 990h4M607.4 994h4M623.4 994h4M503.4 998h4M607.4 998h8M543.4 1002h4M611.4 1002h4M543.4 1006h4M607.4 1006h4M543.4 1010h4M623.4 1014h4M503.4 1018h4M535.4 1018h4M615.4 1042h4M611.4 1058h4M527.4 1062h4M611.4 1062h4M615.4 1066h8M515.4 1070h4M627.4 1070h4M515.4 1074h4M527.4 1078h4M627.4 1078h4M627.4 1082h4M627.4 1086h4M627.4 1090h4M627.4 1094h4M627.4 1098h4M627.4 1102h4M627.4 1106h4M627.4 1110h4M627.4 1114h4M627.4 1118h4"/>
<path stroke="#d3436e" d="M627.4 986h4M535.4 994h4M539.4 998h4M623.4 998h4M503.4 1002h4M607.4 1002h4M503.4 1006h4M623.4 1006h4M503.4 1010h4M623.4 1010h4M503.4 1014h4M627.4 1022h4M627.4 1026h4M623.4 1030h4M619.4 1034h4M615.4 1046h4M519.4 1058h4M515.4 1062h4M615.4 1062h4M515.4 1066h4M623.4 1066h8M631.4 1070h12M531.4 1074h4M631.4 1074h12M519.4 1078h4M631.4 1078h12M631.4 1082h12M631.4 1086h12M631.4 1090h12M631.4 1094h12M631.4 1098h12M631.4 1102h12M631.4 1106h12M631.4 1110h12M631.4 1114h12M631.4 1118h12"/>
<path stroke="#ef5d5e" d="M491.4 990h12M631.4 990h12M627.4 998h4M535.4 1002h4M627.4 1002h4M535.4 1006h4M627.4 1006h4M627.4 1010h4M627.4 1014h4M491.4 1022h12M631.4 1022h12M619.4 1042h4M619.4 1046h4M623.4 1050h20M619.4 1054h12M519.4 1070h4M519.4 1074h4M527.4 1074h4"/>
<path stroke="#19103f" d="M571.4 990h4M571.4 994h4M519.4 998h4M571.4 998h4M515.4 1002h4M523.4 1002h4M575.4 1002h4M567.4 1006h4M575.4 1006h8M567.4 1010h4M583.4 1010h4M555.4 1014h8M587.4 1014h4M515.4 1018h4M591.4 1018h4M543.4 1022h4M527.4 1026h4M539.4 1026h4M599.4 1026h4M599.4 1030h4M539.4 1034h4M599.4 1034h4M599.4 1042h4M599.4 1046h4M535.4 1054h4M543.4 1062h4M547.4 1066h4M595.4 1066h4M555.4 1070h4M595.4 1070h4M559.4 1074h8M595.4 1074h4M595.4 1078h4M567.4 1082h4M595.4 1082h4M567.4 1086h4M595.4 1086h4M595.4 1090h4M559.4 1098h4M559.4 1102h4M595.4 1106h4M595.4 1110h4M595.4 1114h4M595.4 1118h4"/>
<path stroke="#f4695c" d="M491.4 994h12M631.4 994h12M535.4 1010h4M499.4 1014h4M535.4 1014h4M491.4 1018h12M623.4 1042h4M623.4 1046h8M619.4 1050h4M523.4 1062h4"/>
<path stroke="#f8765c" d="M491.4 998h12M631.4 998h12M499.4 1002h4M491.4 1006h12M491.4 1010h12M491.4 1014h8M631.4 1018h12M631.4 1030h12M627.4 1034h4M623.4 1038h4M631.4 1046h12M523.4 1066h4"/>
<path stroke="#fb8560" d="M491.4 1002h8M631.4 1002h12M631.4 1006h12M631.4 1010h12M631.4 1014h12M627.4 1042h4M523.4 1070h4"/>
<path stroke="#100b2d" d="M519.4 1002h4M571.4 1002h4M515.4 1006h12M571.4 1006h4M515.4 1010h4M571.4 1010h12M515.4 1014h4M563.4 1014h8M519.4 1022h4M595.4 1022h4M519.4 1026h8M539.4 1030h4M543.4 1034h4M543.4 1038h4M599.4 1038h4M543.4 1042h4M543.4 1046h4M539.4 1050h4M539.4 1058h4M595.4 1058h4M547.4 1062h4M595.4 1062h4M551.4 1066h4M559.4 1070h4M567.4 1074h4M567.4 1078h4M591.4 1082h4M591.4 1086h4"/>
<path stroke="#08071e" d="M519.4 1010h8M519.4 1014h8M571.4 1014h16M519.4 1018h8M551.4 1018h40M523.4 1022h4M547.4 1022h12M587.4 1022h8M543.4 1026h12M591.4 1026h8M543.4 1030h12M595.4 1030h4M547.4 1034h8M595.4 1034h4M547.4 1038h8M547.4 1042h8M547.4 1046h8M543.4 1050h12M539.4 1054h16M595.4 1054h4M543.4 1058h12M591.4 1058h4M551.4 1062h4M591.4 1062h4M555.4 1066h8M587.4 1066h8M563.4 1070h12M587.4 1070h8M571.4 1074h8M587.4 1074h8M571.4 1078h24M571.4 1082h20M571.4 1086h20"/>
<path stroke="#03030f" d="M559.4 1022h28M555.4 1026h4M587.4 1026h4M555.4 1030h4M587.4 1030h8M555.4 1034h4M591.4 1034h4M555.4 1038h4M591.4 1038h8M555.4 1042h4M591.4 1042h8M555.4 1046h4M591.4 1046h8M555.4 1050h4M591.4 1050h8M555.4 1054h4M587.4 1054h8M555.4 1058h4M587.4 1058h4M555.4 1062h4M587.4 1062h4M563.4 1066h16M575.4 1070h12M579.4 1074h8"/>
<path stroke="#000004" d="M559.4 1026h28M559.4 1030h28M559.4 1034h32M559.4 1038h32M559.4 1042h32M559.4 1046h32M559.4 1050h32M559.4 1054h28M559.4 1058h28M559.4 1062h28M579.4 1066h8"/>
<path stroke="#fe9f6d" d="M631.4 1034h12M627.4 1038h4"/>
<path stroke="#febb81" d="M631.4 1038h12"/>
<path stroke="#fd9266" d="M631.4 1042h12M523.4 1074h4"/>
</g>
<path d="M641 1035 637 1035 633 1035 631 1038 633 1041 637 1041 641 1041" fill="none" stroke="#51127c" stroke-width="0.6" opacity="0.75"/>
<path d="M641 1032 637 1032 633 1032 631 1034 629 1036 628 1038 629 1041 630 1042 633 1044 637 1044 641 1044" fill="none" stroke="#641a80" stroke-width="0.6" opacity="0.75"/>
<path d="M641 997 637 997 635 998 633 998 632 1002 631 1006 631 1010 632 1014 633 1018 634 1018 637 1019 641 1019M493 1014 497 1014 500 1010 501 1008 502 1006 502 1002 501 1000 498 998 497 997 493 997M641 1029 633 1030 629 1033 625 1038 625 1040 629 1046 633 1047 641 1047M525 1067 524 1070 524 1074 525 1075 527 1074 527 1070 525 1067" fill="none" stroke="#782281" stroke-width="0.6" opacity="0.75"/>
<path d="M641 990 637 990 632 994 629 999 629 1006 629 1014 631 1018 633 1023 641 1025M493 1021 501 1019 502 1014 503 1006 502 998 501 992 497 989M641 1026 633 1027 629 1030 625 1035 622 1042 621 1046 621 1053 629 1052 637 1051M537 1009 537 1010 537 1011 538 1010 537 1009M525 1062 522 1066 521 1070 522 1074 529 1074 527 1066 525 1062" fill="none" stroke="#8c2981" stroke-width="0.6" opacity="0.75"/>
<path d="M633 970 633 978 630 986 628 990 625 998 624 1002 625 1007 627 1014 629 1022 630 1026 626 1030 622 1034 620 1038 618 1046 617 1050 616 1058 617 1062 625 1065 629 1067 633 1071 641 1072M493 1027 501 1027 503 1022 505 1014 505 1006 505 998 503 990 503 982 503 974M537 997 536 1002 536 1010 537 1016 542 1014 544 1006 541 1000 537 997M525 1058 521 1059 518 1066 519 1074 521 1078 528 1078 532 1074 530 1066 528 1062 525 1058" fill="none" stroke="#ab337c" stroke-width="0.6" opacity="0.75"/>
<path d="M629 970 629 978 626 986 623 990 621 995 616 994 611 990 609 990 607 998 608 1006 609 1012 613 1010 621 1006 624 1014 625 1021 626 1026 623 1030 619 1034 617 1038 615 1046 613 1052 611 1058 609 1062 609 1068 617 1069 623 1070 627 1074 626 1082 625 1086 625 1094 624 1102 623 1110 623 1118M493 1030 499 1030 505 1026 506 1022 507 1014 507 1006 507 998 505 991 505 986 505 982 506 974M493 1056 497 1056 501 1056 504 1054 505 1052 506 1050 505 1049 502 1046 501 1046 497 1046 493 1046M537 990 535 998 534 1006 534 1014 537 1018 541 1016 545 1012 548 1006 546 998 542 994 537 990M517 1057 513 1061 513 1063 515 1070 516 1078 519 1082 525 1082 529 1080 533 1076 534 1070 532 1066 529 1060 525 1054 517 1057" fill="none" stroke="#ca3e72" stroke-width="0.6" opacity="0.75"/>
<path d="M608 970 607 978 605 983 604 990 603 998 604 1006 605 1012 609 1018 617 1016 621 1018 622 1026 618 1030 616 1034 613 1042 612 1046 609 1054 608 1058 607 1066 607 1074 613 1077 617 1079 619 1086 619 1094 618 1102 617 1109 617 1114M626 970 626 974 626 978 625 979 624 982 621 986 617 985 614 982 613 981 611 978 611 974 611 970M493 1033 501 1033 506 1030 508 1022 509 1014 509 1006 509 998 507 990 508 982 508 974M493 1060 501 1061 505 1063 509 1066 513 1074 510 1082 509 1086 505 1093 501 1095 493 1095M493 1106 497 1106 501 1107 504 1110 504 1114 504 1118M519 1118 519 1110 520 1102 521 1096 523 1090 525 1086 530 1082 536 1078 539 1074 537 1070 533 1064 530 1058 529 1054 521 1051 513 1053 509 1048 505 1044 497 1043M586 1118 586 1110 587 1102 585 1097 582 1102 585 1110 585 1118M537 984 533 989 533 994 532 1002 532 1010 533 1016 537 1020 541 1018 546 1014 550 1010 553 1002 549 995 545 991 541 987 537 984M549 1083 546 1086 549 1089 552 1086 549 1083" fill="none" stroke="#e75263" stroke-width="0.6" opacity="0.75"/>
<path d="M536 970 536 978 532 982 530 990 530 998 531 1006 531 1014 533 1019 541 1020 545 1017 549 1013 553 1008 556 1002 553 995 550 990 547 986 544 982 539 978 538 970M602 970 602 978 601 982 600 990 600 998 601 1006 602 1010 605 1018 609 1022 613 1023 614 1030 613 1034 611 1042 609 1046 607 1054 605 1058 604 1066 604 1074 607 1078 611 1082 614 1086 614 1094 613 1102 613 1106 613 1114M622 970 622 974 622 978 621 979 618 978 617 976 617 974 617 970M493 1037 497 1037 501 1037 505 1037 508 1038 505 1039 501 1039 497 1039 493 1039M493 1065 501 1065 505 1068 509 1074 506 1082 505 1086 497 1090 493 1090M530 1118 530 1110 533 1102 537 1099 537 1097 533 1094 530 1086 535 1082 541 1082 542 1086 545 1094 553 1090 556 1086 553 1082 546 1078 543 1074 541 1070 537 1066 533 1060 531 1054 529 1049 525 1045 517 1042 515 1038 510 1034 510 1026 510 1018 511 1010 511 1002 510 994 509 990 510 986 511 978 511 970M589 1118 589 1110 589 1104 590 1098 586 1094 584 1094 578 1098 579 1106 580 1114" fill="none" stroke="#f7705c" stroke-width="0.6" opacity="0.75"/>
<path d="M527 970 527 978 526 986 528 994 529 1002 529 1007 530 1014 533 1022 537 1024 541 1021 546 1018 551 1014 555 1010 558 1006 559 998 557 994 553 986 551 982 547 978 547 970M595 970 595 978 594 986 593 990 594 994 596 1002 598 1006 600 1014 603 1018 605 1022 609 1030 609 1038 607 1046 605 1050 603 1058 602 1066 602 1074 605 1081 609 1086 610 1090 609 1094 609 1102 609 1110 609 1118M493 1069 497 1069 501 1069 503 1070 505 1074 504 1078 502 1082 501 1083 497 1084 493 1084M539 1118 540 1110 545 1106 549 1102 551 1098 554 1094 557 1089 558 1082 554 1078 549 1075 545 1071 541 1066 537 1063 534 1058 533 1053 532 1046 529 1042 524 1038 519 1034 515 1030 513 1026 512 1018 512 1010 513 1002 512 994 512 986 513 979 516 974M591 1118 591 1110 592 1102 590 1094 585 1092 577 1094 574 1098 576 1106 577 1114M537 1085 538 1086 537 1087 537 1086 537 1085" fill="none" stroke="#fd9467" stroke-width="0.6" opacity="0.75"/>
<path d="M577 970 577 976 580 982 581 987 584 994 585 998 589 1004 593 1008 597 1014 599 1018 602 1022 605 1030 606 1034 605 1040 604 1046 602 1054 601 1058 600 1066 599 1074 601 1081 604 1086 603 1094 603 1102 603 1110 603 1118M493 1074 497 1074 498 1074 497 1074 493 1074M555 1118 555 1110 555 1102 557 1096 561 1090 564 1086 561 1081 557 1077 553 1074 549 1070 545 1066 540 1062 536 1058 536 1050 537 1042 533 1034 529 1033 521 1031 517 1027 515 1022 514 1014 514 1006 516 998 517 993 523 994 526 998 528 1006 528 1014 529 1019 533 1026 537 1026 541 1023 545 1020 549 1017 553 1013 559 1010 562 1006 564 998 561 992 559 986 557 982 555 974M594 1118 594 1110 595 1102 594 1094 589 1091 581 1091 573 1093 569 1094 569 1102 571 1106 573 1114" fill="none" stroke="#feb77e" stroke-width="0.6" opacity="0.75"/>
<path d="M573 990 576 998 578 1002 581 1006 587 1010 591 1014 595 1018 598 1022 601 1028 602 1034 602 1042 601 1046 599 1054 598 1062 597 1069 597 1074 597 1078 599 1086 597 1090 593 1089 585 1088 577 1089 569 1086 568 1082 565 1077 561 1074 555 1070 550 1066 545 1062 541 1059 538 1054 541 1047 543 1042 541 1035 540 1030 541 1026 546 1022 551 1018 557 1014 561 1013 567 1010 569 1006 571 998 573 990M521 999 525 1002 526 1010 527 1018 529 1026 521 1027 519 1022 517 1018 517 1010 517 1003 521 999" fill="none" stroke="#fdda9c" stroke-width="0.6" opacity="0.75"/>
<path d="M573 1017 581 1017 585 1018 590 1022 594 1026 597 1034 598 1038 598 1046 597 1050 593 1058 592 1062 590 1070 589 1074 585 1081 580 1078 577 1074 573 1070 565 1068 560 1066 555 1062 553 1058 551 1050 553 1042 552 1034 551 1026 556 1022 561 1020 569 1018 573 1017" fill="none" stroke="#fde7a9" stroke-width="0.6" opacity="0.75"/>
</g>
<path d="M548.7 1014.8 L558.2 1012.7 L566.5 1016.9 L577.0 1015.8 L589.5 1019.0 L597.9 1024.2 L600.0 1032.5 L599.0 1043.0 L595.8 1053.4 L594.8 1065.9 L594.8 1076.4 L591.6 1085.8 L583.3 1088.9 L570.7 1087.9 L568.6 1083.7 L577.0 1077.4 L581.2 1071.2 L575.9 1068.0 L566.5 1067.0 L558.2 1068.0 L552.9 1069.1 L548.7 1061.8 L540.4 1060.7 L536.2 1057.6 L535.1 1052.4 L540.4 1048.2 L545.6 1045.1 L546.7 1038.8 L542.5 1033.6 L537.2 1030.5 L533.1 1029.4 L524.7 1028.4 L520.5 1026.3 L517.4 1017.9 L516.3 1005.4 L518.4 996.0 L522.6 993.9 L524.7 999.1 L525.7 1009.6 L525.7 1017.9 L526.8 1025.2 L536.2 1027.3 L543.5 1023.1 L548.7 1014.8" fill="none" stroke="#fff" stroke-width="2.3" stroke-linecap="round" stroke-linejoin="round" stroke-dasharray="0 3.7"/>
<text x="498.3" y="988.5" font-size="16" text-anchor="start" fill="#fff">(V)</text>
<text x="634.2" y="988" font-size="13" text-anchor="end" fill="#fff">t = 27 min</text>
<linearGradient id="gm1" x1="0" y1="0" x2="0" y2="1"><stop offset="0.000" stop-color="#000004"/><stop offset="0.062" stop-color="#0a0822"/><stop offset="0.125" stop-color="#1d1147"/><stop offset="0.188" stop-color="#36106b"/><stop offset="0.250" stop-color="#51127c"/><stop offset="0.312" stop-color="#6a1c81"/><stop offset="0.375" stop-color="#832681"/><stop offset="0.438" stop-color="#9c2e7f"/><stop offset="0.500" stop-color="#b73779"/><stop offset="0.562" stop-color="#d0416f"/><stop offset="0.625" stop-color="#e75263"/><stop offset="0.688" stop-color="#f56b5c"/><stop offset="0.750" stop-color="#fc8961"/><stop offset="0.812" stop-color="#fea772"/><stop offset="0.875" stop-color="#fec488"/><stop offset="0.938" stop-color="#fde2a3"/><stop offset="1.000" stop-color="#fcfdbf"/></linearGradient>
<rect x="645.5" y="818.5" width="8" height="143.3" fill="url(#gm1)" stroke="#222" stroke-width="0.6"/>
<line x1="653.5" y1="818.5" x2="656" y2="818.5" stroke="#222" stroke-width="0.6"/>
<text x="657.7" y="821.1" font-size="7.5" text-anchor="start" fill="#222">1.00</text>
<line x1="653.5" y1="836.4" x2="656" y2="836.4" stroke="#222" stroke-width="0.6"/>
<text x="657.7" y="839" font-size="7.5" text-anchor="start" fill="#222">0.75</text>
<line x1="653.5" y1="854.3" x2="656" y2="854.3" stroke="#222" stroke-width="0.6"/>
<text x="657.7" y="856.9" font-size="7.5" text-anchor="start" fill="#222">0.50</text>
<line x1="653.5" y1="872.2" x2="656" y2="872.2" stroke="#222" stroke-width="0.6"/>
<text x="657.7" y="874.8" font-size="7.5" text-anchor="start" fill="#222">0.25</text>
<line x1="653.5" y1="890.1" x2="656" y2="890.1" stroke="#222" stroke-width="0.6"/>
<text x="657.7" y="892.8" font-size="7.5" text-anchor="start" fill="#222">0.00</text>
<line x1="653.5" y1="908.1" x2="656" y2="908.1" stroke="#222" stroke-width="0.6"/>
<text x="657.7" y="910.7" font-size="7.5" text-anchor="start" fill="#222">−0.25</text>
<line x1="653.5" y1="926" x2="656" y2="926" stroke="#222" stroke-width="0.6"/>
<text x="657.7" y="928.6" font-size="7.5" text-anchor="start" fill="#222">−0.50</text>
<line x1="653.5" y1="943.9" x2="656" y2="943.9" stroke="#222" stroke-width="0.6"/>
<text x="657.7" y="946.5" font-size="7.5" text-anchor="start" fill="#222">−0.75</text>
<line x1="653.5" y1="961.8" x2="656" y2="961.8" stroke="#222" stroke-width="0.6"/>
<text x="657.7" y="964.4" font-size="7.5" text-anchor="start" fill="#222">−1.00</text>
<text x="677.1" y="885" font-size="13" text-anchor="middle" fill="#000" font-style="italic">S</text>
<linearGradient id="gm2" x1="0" y1="0" x2="0" y2="1"><stop offset="0.000" stop-color="#000004"/><stop offset="0.062" stop-color="#0a0822"/><stop offset="0.125" stop-color="#1d1147"/><stop offset="0.188" stop-color="#36106b"/><stop offset="0.250" stop-color="#51127c"/><stop offset="0.312" stop-color="#6a1c81"/><stop offset="0.375" stop-color="#832681"/><stop offset="0.438" stop-color="#9c2e7f"/><stop offset="0.500" stop-color="#b73779"/><stop offset="0.562" stop-color="#d0416f"/><stop offset="0.625" stop-color="#e75263"/><stop offset="0.688" stop-color="#f56b5c"/><stop offset="0.750" stop-color="#fc8961"/><stop offset="0.812" stop-color="#fea772"/><stop offset="0.875" stop-color="#fec488"/><stop offset="0.938" stop-color="#fde2a3"/><stop offset="1.000" stop-color="#fcfdbf"/></linearGradient>
<rect x="645.4" y="972.3" width="8.2" height="143.1" fill="url(#gm2)" stroke="#222" stroke-width="0.6"/>
<line x1="653.6" y1="972.3" x2="656.1" y2="972.3" stroke="#222" stroke-width="0.6"/>
<text x="657.8" y="974.9" font-size="7.5" text-anchor="start" fill="#222">1.00</text>
<line x1="653.6" y1="990.2" x2="656.1" y2="990.2" stroke="#222" stroke-width="0.6"/>
<text x="657.8" y="992.8" font-size="7.5" text-anchor="start" fill="#222">0.75</text>
<line x1="653.6" y1="1008.1" x2="656.1" y2="1008.1" stroke="#222" stroke-width="0.6"/>
<text x="657.8" y="1010.7" font-size="7.5" text-anchor="start" fill="#222">0.50</text>
<line x1="653.6" y1="1026" x2="656.1" y2="1026" stroke="#222" stroke-width="0.6"/>
<text x="657.8" y="1028.6" font-size="7.5" text-anchor="start" fill="#222">0.25</text>
<line x1="653.6" y1="1043.8" x2="656.1" y2="1043.8" stroke="#222" stroke-width="0.6"/>
<text x="657.8" y="1046.4" font-size="7.5" text-anchor="start" fill="#222">0.00</text>
<line x1="653.6" y1="1061.7" x2="656.1" y2="1061.7" stroke="#222" stroke-width="0.6"/>
<text x="657.8" y="1064.3" font-size="7.5" text-anchor="start" fill="#222">−0.25</text>
<line x1="653.6" y1="1079.6" x2="656.1" y2="1079.6" stroke="#222" stroke-width="0.6"/>
<text x="657.8" y="1082.2" font-size="7.5" text-anchor="start" fill="#222">−0.50</text>
<line x1="653.6" y1="1097.5" x2="656.1" y2="1097.5" stroke="#222" stroke-width="0.6"/>
<text x="657.8" y="1100.1" font-size="7.5" text-anchor="start" fill="#222">−0.75</text>
<line x1="653.6" y1="1115.4" x2="656.1" y2="1115.4" stroke="#222" stroke-width="0.6"/>
<text x="657.8" y="1118" font-size="7.5" text-anchor="start" fill="#222">−1.00</text>
<text x="677.1" y="1041" font-size="13" text-anchor="middle" fill="#000" font-style="italic">S</text>
<rect x="56.2" y="954.4" width="38.9" height="2.6" fill="#fff" stroke="none" stroke-width="1"/>
<rect x="215.7" y="954.5" width="37.6" height="2.6" fill="#fff" stroke="none" stroke-width="1"/>
<rect x="358.5" y="954.5" width="38.2" height="2.6" fill="#fff" stroke="none" stroke-width="1"/>
<rect x="509.6" y="954.5" width="38.2" height="2.6" fill="#fff" stroke="none" stroke-width="1"/>
<rect x="509.6" y="1109.1" width="38.2" height="2.6" fill="#fff" stroke="none" stroke-width="1"/>
<rect x="358.5" y="1109.1" width="38.2" height="2.6" fill="#fff" stroke="none" stroke-width="1"/>
<rect x="215.7" y="1109.1" width="38" height="2.6" fill="#fff" stroke="none" stroke-width="1"/>
<rect x="55.1" y="1109.1" width="38" height="2.6" fill="#fff" stroke="none" stroke-width="1"/>
<text x="58" y="949" font-size="11.5" text-anchor="start" fill="#fff">50 <tspan font-style="italic">μm</tspan></text>
<line x1="184" y1="951.3" x2="205.8" y2="951.3" stroke="#1fe3f2" stroke-width="3"/>
<path d="M213.8 951.3 L204.8 956.8 L204.8 945.8Z" fill="#1fe3f2"/>
<line x1="331" y1="951.3" x2="352.3" y2="951.3" stroke="#1fe3f2" stroke-width="3"/>
<path d="M360.3 951.3 L351.3 956.8 L351.3 945.8Z" fill="#1fe3f2"/>
<line x1="477.9" y1="951.3" x2="499.2" y2="951.3" stroke="#1fe3f2" stroke-width="3"/>
<path d="M507.2 951.3 L498.2 956.8 L498.2 945.8Z" fill="#1fe3f2"/>
<line x1="563" y1="948" x2="563" y2="972" stroke="#1fe3f2" stroke-width="3"/>
<path d="M563 980 L557.5 971 L568.5 971Z" fill="#1fe3f2"/>
<line x1="504" y1="1107.7" x2="483" y2="1107.7" stroke="#1fe3f2" stroke-width="3"/>
<path d="M475 1107.7 L484 1102.2 L484 1113.2Z" fill="#1fe3f2"/>
<line x1="356" y1="1107.7" x2="336.4" y2="1107.7" stroke="#1fe3f2" stroke-width="3"/>
<path d="M328.4 1107.7 L337.4 1102.2 L337.4 1113.2Z" fill="#1fe3f2"/>
<line x1="213.6" y1="1107.7" x2="192.6" y2="1107.7" stroke="#1fe3f2" stroke-width="3"/>
<path d="M184.6 1107.7 L193.6 1102.2 L193.6 1113.2Z" fill="#1fe3f2"/>
<text x="24.4" y="832.5" font-size="26.5" text-anchor="start" fill="#000">(l)</text>
<text x="41.7" y="965.7" font-size="16" text-anchor="middle" fill="#000" transform="rotate(-90 41.7 965.7)">Anteroposterior axis</text>
<text x="351.5" y="1132.8" font-size="15.8" text-anchor="middle" fill="#000">Mediolateral axis</text>
</svg></body></html>
